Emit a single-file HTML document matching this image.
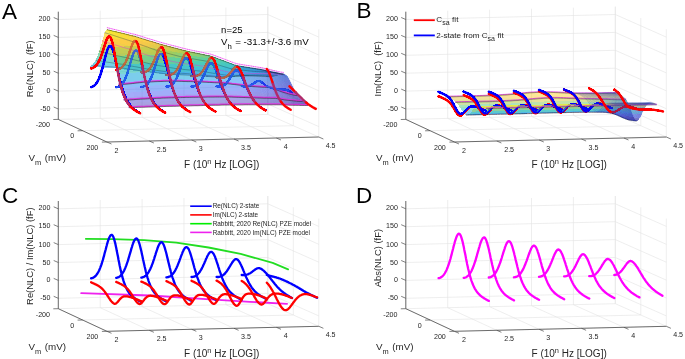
<!DOCTYPE html>
<html><head><meta charset="utf-8"><style>
html,body{margin:0;padding:0;background:#fff;}
svg{display:block;will-change:transform;font-family:"Liberation Sans",sans-serif;}
</style></head><body>
<svg width="685" height="359" viewBox="0 0 685 359">
<line x1="58.3" y1="119.4" x2="58.3" y2="11.7" stroke="#e3e3e3" stroke-width="0.6"/>
<line x1="100.2" y1="118.4" x2="100.2" y2="10.7" stroke="#e3e3e3" stroke-width="0.6"/>
<line x1="142.1" y1="117.4" x2="142.1" y2="9.7" stroke="#e3e3e3" stroke-width="0.6"/>
<line x1="184" y1="116.4" x2="184" y2="8.7" stroke="#e3e3e3" stroke-width="0.6"/>
<line x1="225.9" y1="115.4" x2="225.9" y2="7.7" stroke="#e3e3e3" stroke-width="0.6"/>
<line x1="267.8" y1="114.4" x2="267.8" y2="6.7" stroke="#e3e3e3" stroke-width="0.6"/>
<line x1="58.3" y1="109" x2="267.8" y2="104" stroke="#e3e3e3" stroke-width="0.6"/>
<line x1="58.3" y1="91.1" x2="267.8" y2="86.1" stroke="#e3e3e3" stroke-width="0.6"/>
<line x1="58.3" y1="73.2" x2="267.8" y2="68.2" stroke="#e3e3e3" stroke-width="0.6"/>
<line x1="58.3" y1="55.3" x2="267.8" y2="50.3" stroke="#e3e3e3" stroke-width="0.6"/>
<line x1="58.3" y1="37.4" x2="267.8" y2="32.4" stroke="#e3e3e3" stroke-width="0.6"/>
<line x1="58.3" y1="19.5" x2="267.8" y2="14.5" stroke="#e3e3e3" stroke-width="0.6"/>
<line x1="267.8" y1="114.4" x2="267.8" y2="6.7" stroke="#e3e3e3" stroke-width="0.6"/>
<line x1="293.3" y1="125.7" x2="293.3" y2="18" stroke="#e3e3e3" stroke-width="0.6"/>
<line x1="318.8" y1="137" x2="318.8" y2="29.3" stroke="#e3e3e3" stroke-width="0.6"/>
<line x1="267.8" y1="104" x2="318.8" y2="126.6" stroke="#e3e3e3" stroke-width="0.6"/>
<line x1="267.8" y1="86.1" x2="318.8" y2="108.7" stroke="#e3e3e3" stroke-width="0.6"/>
<line x1="267.8" y1="68.2" x2="318.8" y2="90.8" stroke="#e3e3e3" stroke-width="0.6"/>
<line x1="267.8" y1="50.3" x2="318.8" y2="72.9" stroke="#e3e3e3" stroke-width="0.6"/>
<line x1="267.8" y1="32.4" x2="318.8" y2="55" stroke="#e3e3e3" stroke-width="0.6"/>
<line x1="267.8" y1="14.5" x2="318.8" y2="37.1" stroke="#e3e3e3" stroke-width="0.6"/>
<line x1="58.3" y1="119.4" x2="106.9" y2="142" stroke="#e3e3e3" stroke-width="0.6"/>
<line x1="100.2" y1="118.4" x2="149.3" y2="141" stroke="#e3e3e3" stroke-width="0.6"/>
<line x1="142.1" y1="117.4" x2="191.7" y2="140" stroke="#e3e3e3" stroke-width="0.6"/>
<line x1="184" y1="116.4" x2="234" y2="139" stroke="#e3e3e3" stroke-width="0.6"/>
<line x1="225.9" y1="115.4" x2="276.4" y2="138" stroke="#e3e3e3" stroke-width="0.6"/>
<line x1="267.8" y1="114.4" x2="318.8" y2="137" stroke="#e3e3e3" stroke-width="0.6"/>
<line x1="58.3" y1="119.4" x2="267.8" y2="114.4" stroke="#e3e3e3" stroke-width="0.6"/>
<line x1="82.6" y1="130.7" x2="293.3" y2="125.7" stroke="#e3e3e3" stroke-width="0.6"/>
<line x1="106.9" y1="142" x2="318.8" y2="137" stroke="#e3e3e3" stroke-width="0.6"/>
<line x1="58.3" y1="119.4" x2="58.3" y2="11.7" stroke="#4a4a4a" stroke-width="0.8"/>
<line x1="58.3" y1="119.4" x2="106.9" y2="142" stroke="#4a4a4a" stroke-width="0.8"/>
<line x1="106.9" y1="142" x2="318.8" y2="137" stroke="#4a4a4a" stroke-width="0.8"/>
<line x1="58.3" y1="109" x2="53.7" y2="107" stroke="#4a4a4a" stroke-width="0.7"/>
<line x1="58.3" y1="91.1" x2="53.7" y2="89.1" stroke="#4a4a4a" stroke-width="0.7"/>
<line x1="58.3" y1="73.2" x2="53.7" y2="71.2" stroke="#4a4a4a" stroke-width="0.7"/>
<line x1="58.3" y1="55.3" x2="53.7" y2="53.3" stroke="#4a4a4a" stroke-width="0.7"/>
<line x1="58.3" y1="37.4" x2="53.7" y2="35.4" stroke="#4a4a4a" stroke-width="0.7"/>
<line x1="58.3" y1="19.5" x2="53.7" y2="17.5" stroke="#4a4a4a" stroke-width="0.7"/>
<line x1="58.3" y1="119.4" x2="53.3" y2="119.5" stroke="#4a4a4a" stroke-width="0.7"/>
<line x1="82.6" y1="130.7" x2="77.6" y2="130.8" stroke="#4a4a4a" stroke-width="0.7"/>
<line x1="106.9" y1="142" x2="101.9" y2="142.1" stroke="#4a4a4a" stroke-width="0.7"/>
<line x1="106.9" y1="142" x2="111.5" y2="144" stroke="#4a4a4a" stroke-width="0.7"/>
<line x1="149.3" y1="141" x2="153.9" y2="143" stroke="#4a4a4a" stroke-width="0.7"/>
<line x1="191.7" y1="140" x2="196.3" y2="142" stroke="#4a4a4a" stroke-width="0.7"/>
<line x1="234" y1="139" x2="238.6" y2="141" stroke="#4a4a4a" stroke-width="0.7"/>
<line x1="276.4" y1="138" x2="281" y2="140" stroke="#4a4a4a" stroke-width="0.7"/>
<line x1="318.8" y1="137" x2="323.4" y2="139" stroke="#4a4a4a" stroke-width="0.7"/>
<g fill="#262626" font-size="7.1"><text x="50.4" y="20.5" text-anchor="end">200</text><text x="50.4" y="38.9" text-anchor="end">150</text><text x="50.4" y="57.3" text-anchor="end">100</text><text x="50.4" y="75.3" text-anchor="end">50</text><text x="50.4" y="93.1" text-anchor="end">0</text><text x="50.4" y="111.1" text-anchor="end">-50</text><text x="50" y="127.4" text-anchor="end">-200</text><text x="72.3" y="138.3" text-anchor="middle">0</text><text x="98.3" y="149.7" text-anchor="end">200</text><text x="114.6" y="152.5">2</text><text x="156.7" y="151.5">2.5</text><text x="198.7" y="150.6">3</text><text x="241.1" y="150.1">3.5</text><text x="283.7" y="148.7">4</text><text x="325.7" y="148">4.5</text></g>
<text x="28.4" y="160.8" font-size="9.8" fill="#262626">V<tspan font-size="7.4" dy="3.8">m</tspan><tspan dy="-3.8" dx="1"> (mV)</tspan></text>
<text x="184" y="167.8" font-size="10" fill="#262626">F (10<tspan font-size="7.4" dy="-4">n</tspan><tspan dy="4"> Hz [LOG])</tspan></text>
<line x1="405.8" y1="119.4" x2="405.8" y2="11.7" stroke="#e3e3e3" stroke-width="0.6"/>
<line x1="447.7" y1="118.4" x2="447.7" y2="10.7" stroke="#e3e3e3" stroke-width="0.6"/>
<line x1="489.6" y1="117.4" x2="489.6" y2="9.7" stroke="#e3e3e3" stroke-width="0.6"/>
<line x1="531.5" y1="116.4" x2="531.5" y2="8.7" stroke="#e3e3e3" stroke-width="0.6"/>
<line x1="573.4" y1="115.4" x2="573.4" y2="7.7" stroke="#e3e3e3" stroke-width="0.6"/>
<line x1="615.3" y1="114.4" x2="615.3" y2="6.7" stroke="#e3e3e3" stroke-width="0.6"/>
<line x1="405.8" y1="109" x2="615.3" y2="104" stroke="#e3e3e3" stroke-width="0.6"/>
<line x1="405.8" y1="91.1" x2="615.3" y2="86.1" stroke="#e3e3e3" stroke-width="0.6"/>
<line x1="405.8" y1="73.2" x2="615.3" y2="68.2" stroke="#e3e3e3" stroke-width="0.6"/>
<line x1="405.8" y1="55.3" x2="615.3" y2="50.3" stroke="#e3e3e3" stroke-width="0.6"/>
<line x1="405.8" y1="37.4" x2="615.3" y2="32.4" stroke="#e3e3e3" stroke-width="0.6"/>
<line x1="405.8" y1="19.5" x2="615.3" y2="14.5" stroke="#e3e3e3" stroke-width="0.6"/>
<line x1="615.3" y1="114.4" x2="615.3" y2="6.7" stroke="#e3e3e3" stroke-width="0.6"/>
<line x1="640.8" y1="125.7" x2="640.8" y2="18" stroke="#e3e3e3" stroke-width="0.6"/>
<line x1="666.3" y1="137" x2="666.3" y2="29.3" stroke="#e3e3e3" stroke-width="0.6"/>
<line x1="615.3" y1="104" x2="666.3" y2="126.6" stroke="#e3e3e3" stroke-width="0.6"/>
<line x1="615.3" y1="86.1" x2="666.3" y2="108.7" stroke="#e3e3e3" stroke-width="0.6"/>
<line x1="615.3" y1="68.2" x2="666.3" y2="90.8" stroke="#e3e3e3" stroke-width="0.6"/>
<line x1="615.3" y1="50.3" x2="666.3" y2="72.9" stroke="#e3e3e3" stroke-width="0.6"/>
<line x1="615.3" y1="32.4" x2="666.3" y2="55" stroke="#e3e3e3" stroke-width="0.6"/>
<line x1="615.3" y1="14.5" x2="666.3" y2="37.1" stroke="#e3e3e3" stroke-width="0.6"/>
<line x1="405.8" y1="119.4" x2="454.4" y2="142" stroke="#e3e3e3" stroke-width="0.6"/>
<line x1="447.7" y1="118.4" x2="496.8" y2="141" stroke="#e3e3e3" stroke-width="0.6"/>
<line x1="489.6" y1="117.4" x2="539.2" y2="140" stroke="#e3e3e3" stroke-width="0.6"/>
<line x1="531.5" y1="116.4" x2="581.5" y2="139" stroke="#e3e3e3" stroke-width="0.6"/>
<line x1="573.4" y1="115.4" x2="623.9" y2="138" stroke="#e3e3e3" stroke-width="0.6"/>
<line x1="615.3" y1="114.4" x2="666.3" y2="137" stroke="#e3e3e3" stroke-width="0.6"/>
<line x1="405.8" y1="119.4" x2="615.3" y2="114.4" stroke="#e3e3e3" stroke-width="0.6"/>
<line x1="430.1" y1="130.7" x2="640.8" y2="125.7" stroke="#e3e3e3" stroke-width="0.6"/>
<line x1="454.4" y1="142" x2="666.3" y2="137" stroke="#e3e3e3" stroke-width="0.6"/>
<line x1="405.8" y1="119.4" x2="405.8" y2="11.7" stroke="#4a4a4a" stroke-width="0.8"/>
<line x1="405.8" y1="119.4" x2="454.4" y2="142" stroke="#4a4a4a" stroke-width="0.8"/>
<line x1="454.4" y1="142" x2="666.3" y2="137" stroke="#4a4a4a" stroke-width="0.8"/>
<line x1="405.8" y1="109" x2="401.2" y2="107" stroke="#4a4a4a" stroke-width="0.7"/>
<line x1="405.8" y1="91.1" x2="401.2" y2="89.1" stroke="#4a4a4a" stroke-width="0.7"/>
<line x1="405.8" y1="73.2" x2="401.2" y2="71.2" stroke="#4a4a4a" stroke-width="0.7"/>
<line x1="405.8" y1="55.3" x2="401.2" y2="53.3" stroke="#4a4a4a" stroke-width="0.7"/>
<line x1="405.8" y1="37.4" x2="401.2" y2="35.4" stroke="#4a4a4a" stroke-width="0.7"/>
<line x1="405.8" y1="19.5" x2="401.2" y2="17.5" stroke="#4a4a4a" stroke-width="0.7"/>
<line x1="405.8" y1="119.4" x2="400.8" y2="119.5" stroke="#4a4a4a" stroke-width="0.7"/>
<line x1="430.1" y1="130.7" x2="425.1" y2="130.8" stroke="#4a4a4a" stroke-width="0.7"/>
<line x1="454.4" y1="142" x2="449.4" y2="142.1" stroke="#4a4a4a" stroke-width="0.7"/>
<line x1="454.4" y1="142" x2="459" y2="144" stroke="#4a4a4a" stroke-width="0.7"/>
<line x1="496.8" y1="141" x2="501.4" y2="143" stroke="#4a4a4a" stroke-width="0.7"/>
<line x1="539.2" y1="140" x2="543.8" y2="142" stroke="#4a4a4a" stroke-width="0.7"/>
<line x1="581.5" y1="139" x2="586.1" y2="141" stroke="#4a4a4a" stroke-width="0.7"/>
<line x1="623.9" y1="138" x2="628.5" y2="140" stroke="#4a4a4a" stroke-width="0.7"/>
<line x1="666.3" y1="137" x2="670.9" y2="139" stroke="#4a4a4a" stroke-width="0.7"/>
<g fill="#262626" font-size="7.1"><text x="397.9" y="20.5" text-anchor="end">200</text><text x="397.9" y="38.9" text-anchor="end">150</text><text x="397.9" y="57.3" text-anchor="end">100</text><text x="397.9" y="75.3" text-anchor="end">50</text><text x="397.9" y="93.1" text-anchor="end">0</text><text x="397.9" y="111.1" text-anchor="end">-50</text><text x="397.5" y="127.4" text-anchor="end">-200</text><text x="419.8" y="138.3" text-anchor="middle">0</text><text x="445.8" y="149.7" text-anchor="end">200</text><text x="462.1" y="152.5">2</text><text x="504.2" y="151.5">2.5</text><text x="546.2" y="150.6">3</text><text x="588.6" y="150.1">3.5</text><text x="631.2" y="148.7">4</text><text x="673.2" y="148">4.5</text></g>
<text x="375.9" y="160.8" font-size="9.8" fill="#262626">V<tspan font-size="7.4" dy="3.8">m</tspan><tspan dy="-3.8" dx="1"> (mV)</tspan></text>
<text x="531.5" y="167.8" font-size="10" fill="#262626">F (10<tspan font-size="7.4" dy="-4">n</tspan><tspan dy="4"> Hz [LOG])</tspan></text>
<line x1="58.3" y1="308.7" x2="58.3" y2="201" stroke="#e3e3e3" stroke-width="0.6"/>
<line x1="100.2" y1="307.7" x2="100.2" y2="200" stroke="#e3e3e3" stroke-width="0.6"/>
<line x1="142.1" y1="306.7" x2="142.1" y2="199" stroke="#e3e3e3" stroke-width="0.6"/>
<line x1="184" y1="305.7" x2="184" y2="198" stroke="#e3e3e3" stroke-width="0.6"/>
<line x1="225.9" y1="304.7" x2="225.9" y2="197" stroke="#e3e3e3" stroke-width="0.6"/>
<line x1="267.8" y1="303.7" x2="267.8" y2="196" stroke="#e3e3e3" stroke-width="0.6"/>
<line x1="58.3" y1="298.3" x2="267.8" y2="293.3" stroke="#e3e3e3" stroke-width="0.6"/>
<line x1="58.3" y1="280.4" x2="267.8" y2="275.4" stroke="#e3e3e3" stroke-width="0.6"/>
<line x1="58.3" y1="262.5" x2="267.8" y2="257.5" stroke="#e3e3e3" stroke-width="0.6"/>
<line x1="58.3" y1="244.6" x2="267.8" y2="239.6" stroke="#e3e3e3" stroke-width="0.6"/>
<line x1="58.3" y1="226.7" x2="267.8" y2="221.7" stroke="#e3e3e3" stroke-width="0.6"/>
<line x1="58.3" y1="208.8" x2="267.8" y2="203.8" stroke="#e3e3e3" stroke-width="0.6"/>
<line x1="267.8" y1="303.7" x2="267.8" y2="196" stroke="#e3e3e3" stroke-width="0.6"/>
<line x1="293.3" y1="315" x2="293.3" y2="207.3" stroke="#e3e3e3" stroke-width="0.6"/>
<line x1="318.8" y1="326.3" x2="318.8" y2="218.6" stroke="#e3e3e3" stroke-width="0.6"/>
<line x1="267.8" y1="293.3" x2="318.8" y2="315.9" stroke="#e3e3e3" stroke-width="0.6"/>
<line x1="267.8" y1="275.4" x2="318.8" y2="298" stroke="#e3e3e3" stroke-width="0.6"/>
<line x1="267.8" y1="257.5" x2="318.8" y2="280.1" stroke="#e3e3e3" stroke-width="0.6"/>
<line x1="267.8" y1="239.6" x2="318.8" y2="262.2" stroke="#e3e3e3" stroke-width="0.6"/>
<line x1="267.8" y1="221.7" x2="318.8" y2="244.3" stroke="#e3e3e3" stroke-width="0.6"/>
<line x1="267.8" y1="203.8" x2="318.8" y2="226.4" stroke="#e3e3e3" stroke-width="0.6"/>
<line x1="58.3" y1="308.7" x2="106.9" y2="331.3" stroke="#e3e3e3" stroke-width="0.6"/>
<line x1="100.2" y1="307.7" x2="149.3" y2="330.3" stroke="#e3e3e3" stroke-width="0.6"/>
<line x1="142.1" y1="306.7" x2="191.7" y2="329.3" stroke="#e3e3e3" stroke-width="0.6"/>
<line x1="184" y1="305.7" x2="234" y2="328.3" stroke="#e3e3e3" stroke-width="0.6"/>
<line x1="225.9" y1="304.7" x2="276.4" y2="327.3" stroke="#e3e3e3" stroke-width="0.6"/>
<line x1="267.8" y1="303.7" x2="318.8" y2="326.3" stroke="#e3e3e3" stroke-width="0.6"/>
<line x1="58.3" y1="308.7" x2="267.8" y2="303.7" stroke="#e3e3e3" stroke-width="0.6"/>
<line x1="82.6" y1="320" x2="293.3" y2="315" stroke="#e3e3e3" stroke-width="0.6"/>
<line x1="106.9" y1="331.3" x2="318.8" y2="326.3" stroke="#e3e3e3" stroke-width="0.6"/>
<line x1="58.3" y1="308.7" x2="58.3" y2="201" stroke="#4a4a4a" stroke-width="0.8"/>
<line x1="58.3" y1="308.7" x2="106.9" y2="331.3" stroke="#4a4a4a" stroke-width="0.8"/>
<line x1="106.9" y1="331.3" x2="318.8" y2="326.3" stroke="#4a4a4a" stroke-width="0.8"/>
<line x1="58.3" y1="298.3" x2="53.7" y2="296.3" stroke="#4a4a4a" stroke-width="0.7"/>
<line x1="58.3" y1="280.4" x2="53.7" y2="278.4" stroke="#4a4a4a" stroke-width="0.7"/>
<line x1="58.3" y1="262.5" x2="53.7" y2="260.5" stroke="#4a4a4a" stroke-width="0.7"/>
<line x1="58.3" y1="244.6" x2="53.7" y2="242.6" stroke="#4a4a4a" stroke-width="0.7"/>
<line x1="58.3" y1="226.7" x2="53.7" y2="224.7" stroke="#4a4a4a" stroke-width="0.7"/>
<line x1="58.3" y1="208.8" x2="53.7" y2="206.8" stroke="#4a4a4a" stroke-width="0.7"/>
<line x1="58.3" y1="308.7" x2="53.3" y2="308.8" stroke="#4a4a4a" stroke-width="0.7"/>
<line x1="82.6" y1="320" x2="77.6" y2="320.1" stroke="#4a4a4a" stroke-width="0.7"/>
<line x1="106.9" y1="331.3" x2="101.9" y2="331.4" stroke="#4a4a4a" stroke-width="0.7"/>
<line x1="106.9" y1="331.3" x2="111.5" y2="333.3" stroke="#4a4a4a" stroke-width="0.7"/>
<line x1="149.3" y1="330.3" x2="153.9" y2="332.3" stroke="#4a4a4a" stroke-width="0.7"/>
<line x1="191.7" y1="329.3" x2="196.3" y2="331.3" stroke="#4a4a4a" stroke-width="0.7"/>
<line x1="234" y1="328.3" x2="238.6" y2="330.3" stroke="#4a4a4a" stroke-width="0.7"/>
<line x1="276.4" y1="327.3" x2="281" y2="329.3" stroke="#4a4a4a" stroke-width="0.7"/>
<line x1="318.8" y1="326.3" x2="323.4" y2="328.3" stroke="#4a4a4a" stroke-width="0.7"/>
<g fill="#262626" font-size="7.1"><text x="50.4" y="209.8" text-anchor="end">200</text><text x="50.4" y="228.2" text-anchor="end">150</text><text x="50.4" y="246.6" text-anchor="end">100</text><text x="50.4" y="264.6" text-anchor="end">50</text><text x="50.4" y="282.4" text-anchor="end">0</text><text x="50.4" y="300.4" text-anchor="end">-50</text><text x="50" y="316.7" text-anchor="end">-200</text><text x="72.3" y="327.6" text-anchor="middle">0</text><text x="98.3" y="339" text-anchor="end">200</text><text x="114.6" y="341.8">2</text><text x="156.7" y="340.8">2.5</text><text x="198.7" y="339.9">3</text><text x="241.1" y="339.4">3.5</text><text x="283.7" y="338">4</text><text x="325.7" y="337.3">4.5</text></g>
<text x="28.4" y="350.1" font-size="9.8" fill="#262626">V<tspan font-size="7.4" dy="3.8">m</tspan><tspan dy="-3.8" dx="1"> (mV)</tspan></text>
<text x="184" y="357.1" font-size="10" fill="#262626">F (10<tspan font-size="7.4" dy="-4">n</tspan><tspan dy="4"> Hz [LOG])</tspan></text>
<line x1="405.8" y1="308.7" x2="405.8" y2="201" stroke="#e3e3e3" stroke-width="0.6"/>
<line x1="447.7" y1="307.7" x2="447.7" y2="200" stroke="#e3e3e3" stroke-width="0.6"/>
<line x1="489.6" y1="306.7" x2="489.6" y2="199" stroke="#e3e3e3" stroke-width="0.6"/>
<line x1="531.5" y1="305.7" x2="531.5" y2="198" stroke="#e3e3e3" stroke-width="0.6"/>
<line x1="573.4" y1="304.7" x2="573.4" y2="197" stroke="#e3e3e3" stroke-width="0.6"/>
<line x1="615.3" y1="303.7" x2="615.3" y2="196" stroke="#e3e3e3" stroke-width="0.6"/>
<line x1="405.8" y1="298.3" x2="615.3" y2="293.3" stroke="#e3e3e3" stroke-width="0.6"/>
<line x1="405.8" y1="280.4" x2="615.3" y2="275.4" stroke="#e3e3e3" stroke-width="0.6"/>
<line x1="405.8" y1="262.5" x2="615.3" y2="257.5" stroke="#e3e3e3" stroke-width="0.6"/>
<line x1="405.8" y1="244.6" x2="615.3" y2="239.6" stroke="#e3e3e3" stroke-width="0.6"/>
<line x1="405.8" y1="226.7" x2="615.3" y2="221.7" stroke="#e3e3e3" stroke-width="0.6"/>
<line x1="405.8" y1="208.8" x2="615.3" y2="203.8" stroke="#e3e3e3" stroke-width="0.6"/>
<line x1="615.3" y1="303.7" x2="615.3" y2="196" stroke="#e3e3e3" stroke-width="0.6"/>
<line x1="640.8" y1="315" x2="640.8" y2="207.3" stroke="#e3e3e3" stroke-width="0.6"/>
<line x1="666.3" y1="326.3" x2="666.3" y2="218.6" stroke="#e3e3e3" stroke-width="0.6"/>
<line x1="615.3" y1="293.3" x2="666.3" y2="315.9" stroke="#e3e3e3" stroke-width="0.6"/>
<line x1="615.3" y1="275.4" x2="666.3" y2="298" stroke="#e3e3e3" stroke-width="0.6"/>
<line x1="615.3" y1="257.5" x2="666.3" y2="280.1" stroke="#e3e3e3" stroke-width="0.6"/>
<line x1="615.3" y1="239.6" x2="666.3" y2="262.2" stroke="#e3e3e3" stroke-width="0.6"/>
<line x1="615.3" y1="221.7" x2="666.3" y2="244.3" stroke="#e3e3e3" stroke-width="0.6"/>
<line x1="615.3" y1="203.8" x2="666.3" y2="226.4" stroke="#e3e3e3" stroke-width="0.6"/>
<line x1="405.8" y1="308.7" x2="454.4" y2="331.3" stroke="#e3e3e3" stroke-width="0.6"/>
<line x1="447.7" y1="307.7" x2="496.8" y2="330.3" stroke="#e3e3e3" stroke-width="0.6"/>
<line x1="489.6" y1="306.7" x2="539.2" y2="329.3" stroke="#e3e3e3" stroke-width="0.6"/>
<line x1="531.5" y1="305.7" x2="581.5" y2="328.3" stroke="#e3e3e3" stroke-width="0.6"/>
<line x1="573.4" y1="304.7" x2="623.9" y2="327.3" stroke="#e3e3e3" stroke-width="0.6"/>
<line x1="615.3" y1="303.7" x2="666.3" y2="326.3" stroke="#e3e3e3" stroke-width="0.6"/>
<line x1="405.8" y1="308.7" x2="615.3" y2="303.7" stroke="#e3e3e3" stroke-width="0.6"/>
<line x1="430.1" y1="320" x2="640.8" y2="315" stroke="#e3e3e3" stroke-width="0.6"/>
<line x1="454.4" y1="331.3" x2="666.3" y2="326.3" stroke="#e3e3e3" stroke-width="0.6"/>
<line x1="405.8" y1="308.7" x2="405.8" y2="201" stroke="#4a4a4a" stroke-width="0.8"/>
<line x1="405.8" y1="308.7" x2="454.4" y2="331.3" stroke="#4a4a4a" stroke-width="0.8"/>
<line x1="454.4" y1="331.3" x2="666.3" y2="326.3" stroke="#4a4a4a" stroke-width="0.8"/>
<line x1="405.8" y1="298.3" x2="401.2" y2="296.3" stroke="#4a4a4a" stroke-width="0.7"/>
<line x1="405.8" y1="280.4" x2="401.2" y2="278.4" stroke="#4a4a4a" stroke-width="0.7"/>
<line x1="405.8" y1="262.5" x2="401.2" y2="260.5" stroke="#4a4a4a" stroke-width="0.7"/>
<line x1="405.8" y1="244.6" x2="401.2" y2="242.6" stroke="#4a4a4a" stroke-width="0.7"/>
<line x1="405.8" y1="226.7" x2="401.2" y2="224.7" stroke="#4a4a4a" stroke-width="0.7"/>
<line x1="405.8" y1="208.8" x2="401.2" y2="206.8" stroke="#4a4a4a" stroke-width="0.7"/>
<line x1="405.8" y1="308.7" x2="400.8" y2="308.8" stroke="#4a4a4a" stroke-width="0.7"/>
<line x1="430.1" y1="320" x2="425.1" y2="320.1" stroke="#4a4a4a" stroke-width="0.7"/>
<line x1="454.4" y1="331.3" x2="449.4" y2="331.4" stroke="#4a4a4a" stroke-width="0.7"/>
<line x1="454.4" y1="331.3" x2="459" y2="333.3" stroke="#4a4a4a" stroke-width="0.7"/>
<line x1="496.8" y1="330.3" x2="501.4" y2="332.3" stroke="#4a4a4a" stroke-width="0.7"/>
<line x1="539.2" y1="329.3" x2="543.8" y2="331.3" stroke="#4a4a4a" stroke-width="0.7"/>
<line x1="581.5" y1="328.3" x2="586.1" y2="330.3" stroke="#4a4a4a" stroke-width="0.7"/>
<line x1="623.9" y1="327.3" x2="628.5" y2="329.3" stroke="#4a4a4a" stroke-width="0.7"/>
<line x1="666.3" y1="326.3" x2="670.9" y2="328.3" stroke="#4a4a4a" stroke-width="0.7"/>
<g fill="#262626" font-size="7.1"><text x="397.9" y="209.8" text-anchor="end">200</text><text x="397.9" y="228.2" text-anchor="end">150</text><text x="397.9" y="246.6" text-anchor="end">100</text><text x="397.9" y="264.6" text-anchor="end">50</text><text x="397.9" y="282.4" text-anchor="end">0</text><text x="397.9" y="300.4" text-anchor="end">-50</text><text x="397.5" y="316.7" text-anchor="end">-200</text><text x="419.8" y="327.6" text-anchor="middle">0</text><text x="445.8" y="339" text-anchor="end">200</text><text x="462.1" y="341.8">2</text><text x="504.2" y="340.8">2.5</text><text x="546.2" y="339.9">3</text><text x="588.6" y="339.4">3.5</text><text x="631.2" y="338">4</text><text x="673.2" y="337.3">4.5</text></g>
<text x="375.9" y="350.1" font-size="9.8" fill="#262626">V<tspan font-size="7.4" dy="3.8">m</tspan><tspan dy="-3.8" dx="1"> (mV)</tspan></text>
<text x="531.5" y="357.1" font-size="10" fill="#262626">F (10<tspan font-size="7.4" dy="-4">n</tspan><tspan dy="4"> Hz [LOG])</tspan></text>
<text transform="translate(33.4,68.8) rotate(-90)" text-anchor="middle" font-size="9.4" fill="#262626" xml:space="preserve">Re(NLC)  (fF)</text>
<text transform="translate(380.9,68.8) rotate(-90)" text-anchor="middle" font-size="9.4" fill="#262626" xml:space="preserve">Im(NLC)  (fF)</text>
<text transform="translate(33.4,256.2) rotate(-90)" text-anchor="middle" font-size="9.4" fill="#262626" xml:space="preserve">Re(NLC) / Im(NLC) (fF)</text>
<text transform="translate(380.9,258.1) rotate(-90)" text-anchor="middle" font-size="9.4" fill="#262626" xml:space="preserve">Abs(NLC) (fF)</text>
<text x="2.0" y="18.7" font-size="22.5" fill="#000">A</text>
<text x="356.6" y="18.3" font-size="22.5" fill="#000">B</text>
<text x="2.0" y="203.3" font-size="22.5" fill="#000">C</text>
<text x="356.0" y="203.4" font-size="22.5" fill="#000">D</text>
<g fill-opacity="0.5" shape-rendering="crispEdges">
<polygon points="264.2,76.4 268,76.5 269.5,76.6 265.8,76.5" fill="#4558f5" fill-opacity="0.50"/>
<polygon points="265.8,76.5 269.5,76.6 271,76.7 267.3,76.6" fill="#435bf5" fill-opacity="0.50"/>
<polygon points="267.3,76.6 271,76.7 272.5,76.6 268.8,76.5" fill="#415ff5" fill-opacity="0.50"/>
<polygon points="268.8,76.5 272.5,76.6 274.1,76.4 270.4,76.3" fill="#3f64f5" fill-opacity="0.51"/>
<polygon points="270.4,76.3 274.1,76.4 275.6,76.1 271.9,76" fill="#3c69f5" fill-opacity="0.51"/>
<polygon points="271.9,76 275.6,76.1 277.1,75.6 273.4,75.5" fill="#396ff6" fill-opacity="0.52"/>
<polygon points="273.4,75.5 277.1,75.6 278.7,75.1 274.9,75" fill="#3676f6" fill-opacity="0.52"/>
<polygon points="274.9,75 278.7,75.1 280.2,74.6 276.5,74.4" fill="#337cf6" fill-opacity="0.53"/>
<polygon points="276.5,74.4 280.2,74.6 281.7,74.2 278,73.9" fill="#2f83f7" fill-opacity="0.53"/>
<polygon points="278,73.9 281.7,74.2 283.2,74 279.5,73.6" fill="#2d88f6" fill-opacity="0.54"/>
<polygon points="279.5,73.6 283.2,74 284.8,74.2 281.1,73.7" fill="#2a8cf3" fill-opacity="0.54"/>
<polygon points="281.1,73.7 284.8,74.2 286.3,75.1 282.6,74.4" fill="#2a8df2" fill-opacity="0.54"/>
<polygon points="282.6,74.4 286.3,75.1 287.8,76.8 284.1,75.9" fill="#2b8af4" fill-opacity="0.54"/>
<polygon points="284.1,75.9 287.8,76.8 289.4,79.3 285.6,78.3" fill="#3083f7" fill-opacity="0.53"/>
<polygon points="285.6,78.3 289.4,79.3 290.9,82.3 287.2,81.3" fill="#3577f6" fill-opacity="0.52"/>
<polygon points="287.2,81.3 290.9,82.3 292.4,85.6 288.7,84.6" fill="#3c69f5" fill-opacity="0.51"/>
<polygon points="288.7,84.6 292.4,85.6 294,88.8 290.2,87.9" fill="#445af5" fill-opacity="0.50"/>
<polygon points="290.2,87.9 294,88.8 295.5,91.6 291.8,90.9" fill="#474deb" fill-opacity="0.49"/>
<polygon points="291.8,90.9 295.5,91.6 297,94.2 293.3,93.6" fill="#4443da" fill-opacity="0.48"/>
<polygon points="293.3,93.6 297,94.2 298.5,96.3 294.8,95.9" fill="#423bcc" fill-opacity="0.47"/>
<polygon points="294.8,95.9 298.5,96.3 300.1,98.1 296.4,97.8" fill="#4134c0" fill-opacity="0.46"/>
<polygon points="296.4,97.8 300.1,98.1 301.6,99.7 297.9,99.5" fill="#402fb7" fill-opacity="0.46"/>
<polygon points="297.9,99.5 301.6,99.7 303.1,101.1 299.4,101" fill="#3f2bb0" fill-opacity="0.45"/>
<polygon points="299.4,101 303.1,101.1 304.7,102.4 300.9,102.4" fill="#3e27aa" fill-opacity="0.45"/>
<polygon points="300.9,102.4 304.7,102.4 306.2,103.6 302.5,103.6" fill="#3e26a8" fill-opacity="0.45"/>
<polygon points="302.5,103.6 306.2,103.6 307.7,104.7 304,104.7" fill="#3e26a8" fill-opacity="0.45"/>
<polyline points="283.2,74 284.4,74.2 285.6,74.7 286.8,75.8 288,77.4 289.3,79.4 290.5,81.8 291.7,84.4 292.9,87 294.1,89.5 295.3,91.7 296.6,93.8 297.8,95.5 299,97.1 300.2,98.5 301.4,99.7 302.7,100.9 303.9,101.9 305.1,102.9 306.3,103.8 307.5,104.7" fill="none" stroke="#2020a0" stroke-width="0.4" stroke-linejoin="round" stroke-linecap="round" stroke-opacity="0.3"/>
<polyline points="282.9,74 284.1,74.2 285.3,74.7 286.5,75.8 287.7,77.4 289,79.4 290.2,81.8 291.4,84.4 292.6,87 293.8,89.5 295.1,91.7 296.3,93.8 297.5,95.5 298.7,97.1 299.9,98.5 301.1,99.7 302.4,100.9 303.6,101.9 304.8,102.9 306,103.8 307.2,104.7" fill="none" stroke="#2020a0" stroke-width="0.4" stroke-linejoin="round" stroke-linecap="round" stroke-opacity="0.3"/>
<polyline points="282.6,74 283.8,74.2 285,74.7 286.2,75.8 287.4,77.4 288.7,79.4 289.9,81.8 291.1,84.4 292.3,87 293.5,89.5 294.8,91.8 296,93.8 297.2,95.5 298.4,97.1 299.6,98.5 300.8,99.7 302.1,100.9 303.3,101.9 304.5,102.9 305.7,103.8 306.9,104.7" fill="none" stroke="#2020a0" stroke-width="0.4" stroke-linejoin="round" stroke-linecap="round" stroke-opacity="0.3"/>
<polyline points="282.3,74 283.5,74.2 284.7,74.7 285.9,75.8 287.2,77.4 288.4,79.4 289.6,81.8 290.8,84.4 292,87 293.2,89.5 294.5,91.8 295.7,93.8 296.9,95.6 298.1,97.1 299.3,98.5 300.6,99.7 301.8,100.9 303,101.9 304.2,102.9 305.4,103.8 306.6,104.7" fill="none" stroke="#2020a0" stroke-width="0.4" stroke-linejoin="round" stroke-linecap="round" stroke-opacity="0.3"/>
<polyline points="266.8,86.2 267.1,86.3 267.3,86.4 267.6,86.5 267.9,86.6 268.2,86.7 268.5,86.8 268.8,86.9 269.1,87 269.3,87.1 269.6,87.2 269.9,87.3 270.2,87.4 270.5,87.5 270.8,87.6 271.1,87.7 271.3,87.8 271.6,87.9 271.9,88 272.2,88 272.5,88.1 272.8,88.2 273,88.3 273.3,88.4 273.6,88.4 273.9,88.5 274.2,88.6 274.5,88.6 274.8,88.7 275,88.7 275.3,88.8 275.6,88.8 275.9,88.9 276.2,88.9 276.5,89 276.8,89 277,89.1 277.3,89.1 277.6,89.1 277.9,89.2 278.2,89.2 278.5,89.2 278.7,89.2 279,89.2 279.3,89.2 279.6,89.3 279.9,89.3 280.2,89.3 280.5,89.3 280.7,89.3 281,89.3 281.3,89.3 281.6,89.3 281.9,89.3 282.2,89.3 282.5,89.3 282.7,89.3 283,89.3 283.3,89.3 283.6,89.4 283.9,89.4 284.2,89.4 284.4,89.4 284.7,89.5 285,89.5 285.3,89.6 285.6,89.7 285.9,89.7 286.2,89.8 286.4,89.9 286.7,90 287,90.1 287.3,90.2 287.6,90.4 287.9,90.5 288.2,90.6 288.4,90.8 288.7,90.9 289,91 289.3,91.2 289.6,91.3 289.9,91.5 290.1,91.6 290.4,91.8 290.7,92 291,92.1 291.3,92.3 291.6,92.5 291.9,92.6 292.1,92.8 292.4,93" fill="none" stroke="#0000ff" stroke-width="2.4" stroke-linejoin="round" stroke-linecap="round"/>
<polyline points="282,74 283.2,74.1 284.4,74.7 285.6,75.7 286.9,77.3 288.1,79.4 289.3,81.8 290.5,84.4 291.7,87 292.9,89.4 294.2,91.7 295.4,93.7 296.6,95.5 297.8,97.1 299,98.5 300.3,99.7 301.5,100.9 302.7,101.9 303.9,102.9 305.1,103.8 306.3,104.7" fill="none" stroke="#2020a0" stroke-width="0.4" stroke-linejoin="round" stroke-linecap="round" stroke-opacity="0.3"/>
<polyline points="281.7,73.9 282.9,74.1 284.1,74.6 285.3,75.6 286.6,77.2 287.8,79.2 289,81.6 290.2,84.2 291.4,86.8 292.6,89.3 293.9,91.6 295.1,93.7 296.3,95.5 297.5,97.1 298.7,98.5 300,99.7 301.2,100.9 302.4,101.9 303.6,102.9 304.8,103.8 306,104.7" fill="none" stroke="#2020a0" stroke-width="0.4" stroke-linejoin="round" stroke-linecap="round" stroke-opacity="0.3"/>
<polyline points="281.4,73.9 282.6,74 283.8,74.5 285,75.5 286.2,77.1 287.5,79.1 288.7,81.5 289.9,84.1 291.1,86.7 292.3,89.2 293.6,91.5 294.8,93.6 296,95.4 297.2,97 298.4,98.4 299.7,99.7 300.9,100.8 302.1,101.9 303.3,102.9 304.5,103.8 305.7,104.7" fill="none" stroke="#2020a0" stroke-width="0.4" stroke-linejoin="round" stroke-linecap="round" stroke-opacity="0.3"/>
<polyline points="281.1,73.8 282.3,73.9 283.5,74.4 284.7,75.4 285.9,77 287.2,79 288.4,81.4 289.6,84 290.8,86.6 292,89.1 293.3,91.5 294.5,93.5 295.7,95.4 296.9,97 298.1,98.4 299.3,99.7 300.6,100.8 301.8,101.9 303,102.9 304.2,103.8 305.4,104.7" fill="none" stroke="#2020a0" stroke-width="0.4" stroke-linejoin="round" stroke-linecap="round" stroke-opacity="0.3"/>
<polyline points="280.8,73.8 282,73.9 283.2,74.3 284.4,75.3 285.6,76.9 286.9,78.9 288.1,81.3 289.3,83.9 290.5,86.5 291.7,89 292.9,91.4 294.2,93.5 295.4,95.3 296.6,96.9 297.8,98.4 299,99.6 300.3,100.8 301.5,101.9 302.7,102.9 303.9,103.8 305.1,104.7" fill="none" stroke="#2020a0" stroke-width="0.4" stroke-linejoin="round" stroke-linecap="round" stroke-opacity="0.3"/>
<polyline points="280.4,73.7 281.7,73.8 282.9,74.2 284.1,75.2 285.3,76.8 286.5,78.8 287.8,81.1 289,83.7 290.2,86.4 291.4,88.9 292.6,91.3 293.9,93.4 295.1,95.2 296.3,96.9 297.5,98.3 298.7,99.6 299.9,100.8 301.2,101.9 302.4,102.9 303.6,103.8 304.8,104.7" fill="none" stroke="#2020a0" stroke-width="0.4" stroke-linejoin="round" stroke-linecap="round" stroke-opacity="0.3"/>
<polyline points="280.1,73.7 281.4,73.7 282.6,74.2 283.8,75.1 285,76.6 286.2,78.6 287.4,81 288.7,83.6 289.9,86.3 291.1,88.8 292.3,91.2 293.5,93.3 294.8,95.2 296,96.8 297.2,98.3 298.4,99.6 299.6,100.8 300.8,101.9 302.1,102.9 303.3,103.8 304.5,104.7" fill="none" stroke="#2020a0" stroke-width="0.4" stroke-linejoin="round" stroke-linecap="round" stroke-opacity="0.3"/>
<polyline points="279.8,73.6 281,73.7 282.3,74.1 283.5,75 284.7,76.5 285.9,78.5 287.1,80.9 288.3,83.5 289.6,86.1 290.8,88.7 292,91.1 293.2,93.2 294.4,95.1 295.7,96.8 296.9,98.3 298.1,99.6 299.3,100.8 300.5,101.9 301.7,102.9 303,103.8 304.2,104.7" fill="none" stroke="#2020a0" stroke-width="0.4" stroke-linejoin="round" stroke-linecap="round" stroke-opacity="0.3"/>
<polygon points="260.5,76.1 264.2,76.4 265.8,76.5 262,76.3" fill="#445af5" fill-opacity="0.50"/>
<polygon points="262,76.3 265.8,76.5 267.3,76.6 263.6,76.4" fill="#425df5" fill-opacity="0.50"/>
<polygon points="263.6,76.4 267.3,76.6 268.8,76.5 265.1,76.3" fill="#4160f5" fill-opacity="0.50"/>
<polygon points="265.1,76.3 268.8,76.5 270.4,76.3 266.6,76.2" fill="#3e65f5" fill-opacity="0.51"/>
<polygon points="266.6,76.2 270.4,76.3 271.9,76 268.2,75.8" fill="#3c6af5" fill-opacity="0.51"/>
<polygon points="268.2,75.8 271.9,76 273.4,75.5 269.7,75.4" fill="#3970f6" fill-opacity="0.52"/>
<polygon points="269.7,75.4 273.4,75.5 274.9,75 271.2,74.8" fill="#3577f6" fill-opacity="0.52"/>
<polygon points="271.2,74.8 274.9,75 276.5,74.4 272.8,74.1" fill="#327ef6" fill-opacity="0.53"/>
<polygon points="272.8,74.1 276.5,74.4 278,73.9 274.3,73.5" fill="#2e85f7" fill-opacity="0.53"/>
<polygon points="274.3,73.5 278,73.9 279.5,73.6 275.8,73" fill="#2b8bf4" fill-opacity="0.54"/>
<polygon points="275.8,73 279.5,73.6 281.1,73.7 277.3,72.9" fill="#288ff1" fill-opacity="0.54"/>
<polygon points="277.3,72.9 281.1,73.7 282.6,74.4 278.9,73.3" fill="#2790ef" fill-opacity="0.55"/>
<polygon points="278.9,73.3 282.6,74.4 284.1,75.9 280.4,74.7" fill="#288ff1" fill-opacity="0.54"/>
<polygon points="280.4,74.7 284.1,75.9 285.6,78.3 281.9,76.8" fill="#2c89f5" fill-opacity="0.54"/>
<polygon points="281.9,76.8 285.6,78.3 287.2,81.3 283.5,79.7" fill="#327ff6" fill-opacity="0.53"/>
<polygon points="283.5,79.7 287.2,81.3 288.7,84.6 285,83" fill="#3971f6" fill-opacity="0.52"/>
<polygon points="285,83 288.7,84.6 290.2,87.9 286.5,86.5" fill="#4061f5" fill-opacity="0.50"/>
<polygon points="286.5,86.5 290.2,87.9 291.8,90.9 288,89.8" fill="#4853f4" fill-opacity="0.49"/>
<polygon points="288,89.8 291.8,90.9 293.3,93.6 289.6,92.7" fill="#4547e2" fill-opacity="0.48"/>
<polygon points="289.6,92.7 293.3,93.6 294.8,95.9 291.1,95.2" fill="#433ed2" fill-opacity="0.47"/>
<polygon points="291.1,95.2 294.8,95.9 296.4,97.8 292.6,97.3" fill="#4137c5" fill-opacity="0.47"/>
<polygon points="292.6,97.3 296.4,97.8 297.9,99.5 294.2,99.2" fill="#4031bb" fill-opacity="0.46"/>
<polygon points="294.2,99.2 297.9,99.5 299.4,101 295.7,100.8" fill="#3f2cb2" fill-opacity="0.46"/>
<polygon points="295.7,100.8 299.4,101 300.9,102.4 297.2,102.2" fill="#3e28ac" fill-opacity="0.45"/>
<polygon points="297.2,102.2 300.9,102.4 302.5,103.6 298.7,103.5" fill="#3e26a8" fill-opacity="0.45"/>
<polygon points="298.7,103.5 302.5,103.6 304,104.7 300.3,104.7" fill="#3e26a8" fill-opacity="0.45"/>
<polyline points="279.5,73.6 280.7,73.6 281.9,74 283.2,74.9 284.4,76.4 285.6,78.4 286.8,80.7 288,83.3 289.2,86 290.5,88.6 291.7,91 292.9,93.2 294.1,95.1 295.3,96.7 296.6,98.2 297.8,99.5 299,100.7 300.2,101.8 301.4,102.9 302.6,103.8 303.9,104.7" fill="none" stroke="#2020a0" stroke-width="0.4" stroke-linejoin="round" stroke-linecap="round" stroke-opacity="0.3"/>
<polyline points="279.2,73.5 280.4,73.5 281.6,73.9 282.8,74.8 284.1,76.3 285.3,78.2 286.5,80.6 287.7,83.2 288.9,85.9 290.1,88.5 291.4,90.9 292.6,93.1 293.8,95 295,96.7 296.2,98.2 297.5,99.5 298.7,100.7 299.9,101.8 301.1,102.9 302.3,103.8 303.5,104.7" fill="none" stroke="#2020a0" stroke-width="0.4" stroke-linejoin="round" stroke-linecap="round" stroke-opacity="0.3"/>
<polyline points="278.9,73.5 280.1,73.5 281.3,73.8 282.5,74.7 283.7,76.2 284.9,78.1 286.2,80.5 287.4,83.1 288.6,85.8 289.8,88.4 291,90.8 292.3,93 293.5,94.9 294.7,96.6 295.9,98.1 297.1,99.5 298.3,100.7 299.6,101.8 300.8,102.9 302,103.8 303.2,104.7" fill="none" stroke="#2020a0" stroke-width="0.4" stroke-linejoin="round" stroke-linecap="round" stroke-opacity="0.3"/>
<polyline points="278.5,73.4 279.7,73.4 281,73.7 282.2,74.6 283.4,76.1 284.6,78 285.8,80.3 287.1,82.9 288.3,85.6 289.5,88.3 290.7,90.7 291.9,92.9 293.1,94.9 294.4,96.6 295.6,98.1 296.8,99.5 298,100.7 299.2,101.8 300.5,102.8 301.7,103.8 302.9,104.7" fill="none" stroke="#2020a0" stroke-width="0.4" stroke-linejoin="round" stroke-linecap="round" stroke-opacity="0.3"/>
<polyline points="278.2,73.4 279.4,73.3 280.6,73.7 281.8,74.5 283.1,75.9 284.3,77.9 285.5,80.2 286.7,82.8 287.9,85.5 289.2,88.1 290.4,90.6 291.6,92.8 292.8,94.8 294,96.5 295.3,98.1 296.5,99.4 297.7,100.7 298.9,101.8 300.1,102.8 301.3,103.8 302.6,104.7" fill="none" stroke="#2020a0" stroke-width="0.4" stroke-linejoin="round" stroke-linecap="round" stroke-opacity="0.3"/>
<polyline points="277.9,73.3 279.1,73.3 280.3,73.6 281.5,74.4 282.7,75.8 284,77.7 285.2,80 286.4,82.7 287.6,85.4 288.8,88 290,90.5 291.3,92.7 292.5,94.7 293.7,96.5 294.9,98 296.1,99.4 297.4,100.6 298.6,101.8 299.8,102.8 301,103.8 302.2,104.7" fill="none" stroke="#2020a0" stroke-width="0.4" stroke-linejoin="round" stroke-linecap="round" stroke-opacity="0.3"/>
<polyline points="277.5,73.3 278.7,73.2 280,73.5 281.2,74.3 282.4,75.7 283.6,77.6 284.8,79.9 286.1,82.5 287.3,85.2 288.5,87.9 289.7,90.4 290.9,92.7 292.1,94.7 293.4,96.4 294.6,98 295.8,99.4 297,100.6 298.2,101.8 299.5,102.8 300.7,103.8 301.9,104.7" fill="none" stroke="#2020a0" stroke-width="0.4" stroke-linejoin="round" stroke-linecap="round" stroke-opacity="0.3"/>
<polyline points="277.2,73.2 278.4,73.1 279.6,73.4 280.8,74.2 282.1,75.6 283.3,77.4 284.5,79.8 285.7,82.4 286.9,85.1 288.1,87.8 289.4,90.3 290.6,92.6 291.8,94.6 293,96.4 294.2,97.9 295.5,99.3 296.7,100.6 297.9,101.7 299.1,102.8 300.3,103.8 301.5,104.7" fill="none" stroke="#2020a0" stroke-width="0.4" stroke-linejoin="round" stroke-linecap="round" stroke-opacity="0.3"/>
<polyline points="276.8,73.2 278.1,73.1 279.3,73.3 280.5,74.1 281.7,75.5 282.9,77.3 284.1,79.6 285.4,82.2 286.6,84.9 287.8,87.6 289,90.2 290.2,92.5 291.5,94.5 292.7,96.3 293.9,97.9 295.1,99.3 296.3,100.6 297.6,101.7 298.8,102.8 300,103.8 301.2,104.7" fill="none" stroke="#2020a0" stroke-width="0.4" stroke-linejoin="round" stroke-linecap="round" stroke-opacity="0.3"/>
<polyline points="276.5,73.1 277.7,73 278.9,73.2 280.1,74 281.4,75.3 282.6,77.2 283.8,79.5 285,82.1 286.2,84.8 287.5,87.5 288.7,90.1 289.9,92.4 291.1,94.4 292.3,96.2 293.5,97.8 294.8,99.3 296,100.5 297.2,101.7 298.4,102.8 299.6,103.8 300.9,104.7" fill="none" stroke="#2020a0" stroke-width="0.4" stroke-linejoin="round" stroke-linecap="round" stroke-opacity="0.3"/>
<polyline points="276.1,73.1 277.4,72.9 278.6,73.2 279.8,73.9 281,75.2 282.2,77 283.5,79.3 284.7,81.9 285.9,84.7 287.1,87.4 288.3,89.9 289.5,92.3 290.8,94.4 292,96.2 293.2,97.8 294.4,99.2 295.6,100.5 296.9,101.7 298.1,102.8 299.3,103.8 300.5,104.7" fill="none" stroke="#2020a0" stroke-width="0.4" stroke-linejoin="round" stroke-linecap="round" stroke-opacity="0.3"/>
<polygon points="256.8,75.9 260.5,76.1 262,76.3 258.3,76.1" fill="#435bf5" fill-opacity="0.50"/>
<polygon points="258.3,76.1 262,76.3 263.6,76.4 259.9,76.2" fill="#425ef5" fill-opacity="0.50"/>
<polygon points="259.9,76.2 263.6,76.4 265.1,76.3 261.4,76.2" fill="#4062f5" fill-opacity="0.51"/>
<polygon points="261.4,76.2 265.1,76.3 266.6,76.2 262.9,76" fill="#3e66f5" fill-opacity="0.51"/>
<polygon points="262.9,76 266.6,76.2 268.2,75.8 264.4,75.7" fill="#3b6bf6" fill-opacity="0.51"/>
<polygon points="264.4,75.7 268.2,75.8 269.7,75.4 266,75.3" fill="#3871f6" fill-opacity="0.52"/>
<polygon points="266,75.3 269.7,75.4 271.2,74.8 267.5,74.7" fill="#3578f6" fill-opacity="0.52"/>
<polygon points="267.5,74.7 271.2,74.8 272.8,74.1 269,74" fill="#3180f7" fill-opacity="0.53"/>
<polygon points="269,74 272.8,74.1 274.3,73.5 270.6,73.2" fill="#2d87f7" fill-opacity="0.54"/>
<polygon points="270.6,73.2 274.3,73.5 275.8,73 272.1,72.6" fill="#2a8df2" fill-opacity="0.54"/>
<polygon points="272.1,72.6 275.8,73 277.3,72.9 273.6,72.2" fill="#2692ee" fill-opacity="0.55"/>
<polygon points="273.6,72.2 277.3,72.9 278.9,73.3 275.2,72.4" fill="#2495ec" fill-opacity="0.55"/>
<polygon points="275.2,72.4 278.9,73.3 280.4,74.7 276.7,73.4" fill="#2594ed" fill-opacity="0.55"/>
<polygon points="276.7,73.4 280.4,74.7 281.9,76.8 278.2,75.4" fill="#2890f0" fill-opacity="0.54"/>
<polygon points="278.2,75.4 281.9,76.8 283.5,79.7 279.7,78.1" fill="#2d88f6" fill-opacity="0.54"/>
<polygon points="279.7,78.1 283.5,79.7 285,83 281.3,81.4" fill="#347af6" fill-opacity="0.53"/>
<polygon points="281.3,81.4 285,83 286.5,86.5 282.8,84.9" fill="#3c6bf5" fill-opacity="0.51"/>
<polygon points="282.8,84.9 286.5,86.5 288,89.8 284.3,88.4" fill="#435bf5" fill-opacity="0.50"/>
<polygon points="284.3,88.4 288,89.8 289.6,92.7 285.9,91.6" fill="#474dec" fill-opacity="0.49"/>
<polygon points="285.9,91.6 289.6,92.7 291.1,95.2 287.4,94.4" fill="#4443da" fill-opacity="0.48"/>
<polygon points="287.4,94.4 291.1,95.2 292.6,97.3 288.9,96.7" fill="#423acb" fill-opacity="0.47"/>
<polygon points="288.9,96.7 292.6,97.3 294.2,99.2 290.4,98.7" fill="#4134bf" fill-opacity="0.46"/>
<polygon points="290.4,98.7 294.2,99.2 295.7,100.8 292,100.5" fill="#3f2eb6" fill-opacity="0.46"/>
<polygon points="292,100.5 295.7,100.8 297.2,102.2 293.5,102" fill="#3f2aae" fill-opacity="0.45"/>
<polygon points="293.5,102 297.2,102.2 298.7,103.5 295,103.4" fill="#3e26a8" fill-opacity="0.45"/>
<polygon points="295,103.4 298.7,103.5 300.3,104.7 296.6,104.6" fill="#3e26a8" fill-opacity="0.45"/>
<polyline points="275.8,73 277,72.9 278.2,73.1 279.4,73.8 280.7,75.1 281.9,76.9 283.1,79.2 284.3,81.8 285.5,84.5 286.8,87.2 288,89.8 289.2,92.2 290.4,94.3 291.6,96.1 292.8,97.7 294.1,99.2 295.3,100.5 296.5,101.7 297.7,102.8 298.9,103.8 300.2,104.7" fill="none" stroke="#2020a0" stroke-width="0.4" stroke-linejoin="round" stroke-linecap="round" stroke-opacity="0.3"/>
<polyline points="275.4,73 276.7,72.8 277.9,73 279.1,73.7 280.3,75 281.5,76.8 282.7,79 284,81.6 285.2,84.4 286.4,87.1 287.6,89.7 288.8,92.1 290.1,94.2 291.3,96.1 292.5,97.7 293.7,99.2 294.9,100.5 296.1,101.7 297.4,102.7 298.6,103.7 299.8,104.7" fill="none" stroke="#2020a0" stroke-width="0.4" stroke-linejoin="round" stroke-linecap="round" stroke-opacity="0.3"/>
<polyline points="275.1,72.9 276.3,72.7 277.5,72.9 278.7,73.6 279.9,74.8 281.2,76.6 282.4,78.8 283.6,81.4 284.8,84.2 286,87 287.3,89.6 288.5,92 289.7,94.1 290.9,96 292.1,97.6 293.3,99.1 294.6,100.4 295.8,101.6 297,102.7 298.2,103.7 299.4,104.7" fill="none" stroke="#2020a0" stroke-width="0.4" stroke-linejoin="round" stroke-linecap="round" stroke-opacity="0.3"/>
<polyline points="274.7,72.9 275.9,72.7 277.1,72.8 278.4,73.5 279.6,74.7 280.8,76.5 282,78.7 283.2,81.3 284.5,84 285.7,86.8 286.9,89.4 288.1,91.9 289.3,94 290.5,95.9 291.8,97.6 293,99.1 294.2,100.4 295.4,101.6 296.6,102.7 297.9,103.7 299.1,104.6" fill="none" stroke="#2020a0" stroke-width="0.4" stroke-linejoin="round" stroke-linecap="round" stroke-opacity="0.3"/>
<polyline points="274.3,72.8 275.6,72.6 276.8,72.7 278,73.4 279.2,74.6 280.4,76.3 281.7,78.5 282.9,81.1 284.1,83.9 285.3,86.7 286.5,89.3 287.7,91.7 289,93.9 290.2,95.8 291.4,97.5 292.6,99 293.8,100.4 295.1,101.6 296.3,102.7 297.5,103.7 298.7,104.6" fill="none" stroke="#2020a0" stroke-width="0.4" stroke-linejoin="round" stroke-linecap="round" stroke-opacity="0.3"/>
<polyline points="274,72.8 275.2,72.5 276.4,72.6 277.6,73.3 278.8,74.5 280.1,76.2 281.3,78.4 282.5,80.9 283.7,83.7 284.9,86.5 286.2,89.2 287.4,91.6 288.6,93.8 289.8,95.8 291,97.5 292.2,99 293.5,100.3 294.7,101.6 295.9,102.7 297.1,103.7 298.3,104.6" fill="none" stroke="#2020a0" stroke-width="0.4" stroke-linejoin="round" stroke-linecap="round" stroke-opacity="0.3"/>
<polyline points="273.6,72.7 274.8,72.5 276,72.6 277.2,73.2 278.5,74.3 279.7,76 280.9,78.2 282.1,80.8 283.3,83.6 284.6,86.4 285.8,89 287,91.5 288.2,93.7 289.4,95.7 290.7,97.4 291.9,98.9 293.1,100.3 294.3,101.5 295.5,102.7 296.7,103.7 298,104.6" fill="none" stroke="#2020a0" stroke-width="0.4" stroke-linejoin="round" stroke-linecap="round" stroke-opacity="0.3"/>
<polyline points="273.2,72.7 274.4,72.4 275.7,72.5 276.9,73.1 278.1,74.2 279.3,75.9 280.5,78 281.7,80.6 283,83.4 284.2,86.2 285.4,88.9 286.6,91.4 287.8,93.6 289.1,95.6 290.3,97.4 291.5,98.9 292.7,100.3 293.9,101.5 295.1,102.7 296.4,103.7 297.6,104.6" fill="none" stroke="#2020a0" stroke-width="0.4" stroke-linejoin="round" stroke-linecap="round" stroke-opacity="0.3"/>
<polyline points="272.8,72.6 274.1,72.4 275.3,72.4 276.5,73 277.7,74.1 278.9,75.7 280.1,77.9 281.4,80.4 282.6,83.2 283.8,86 285,88.8 286.2,91.3 287.5,93.5 288.7,95.5 289.9,97.3 291.1,98.9 292.3,100.2 293.5,101.5 294.8,102.6 296,103.7 297.2,104.6" fill="none" stroke="#2020a0" stroke-width="0.4" stroke-linejoin="round" stroke-linecap="round" stroke-opacity="0.3"/>
<polyline points="272.4,72.6 273.7,72.3 274.9,72.3 276.1,72.8 277.3,73.9 278.5,75.6 279.8,77.7 281,80.3 282.2,83 283.4,85.9 284.6,88.6 285.8,91.2 287.1,93.4 288.3,95.5 289.5,97.2 290.7,98.8 291.9,100.2 293.2,101.5 294.4,102.6 295.6,103.7 296.8,104.6" fill="none" stroke="#2020a0" stroke-width="0.4" stroke-linejoin="round" stroke-linecap="round" stroke-opacity="0.3"/>
<polygon points="253.1,75.7 256.8,75.9 258.3,76.1 254.6,75.9" fill="#425df5" fill-opacity="0.50"/>
<polygon points="254.6,75.9 258.3,76.1 259.9,76.2 256.1,76.1" fill="#4160f5" fill-opacity="0.50"/>
<polygon points="256.1,76.1 259.9,76.2 261.4,76.2 257.7,76.1" fill="#3f63f5" fill-opacity="0.51"/>
<polygon points="257.7,76.1 261.4,76.2 262.9,76 259.2,76" fill="#3d67f5" fill-opacity="0.51"/>
<polygon points="259.2,76 262.9,76 264.4,75.7 260.7,75.7" fill="#3b6cf6" fill-opacity="0.51"/>
<polygon points="260.7,75.7 264.4,75.7 266,75.3 262.3,75.2" fill="#3872f6" fill-opacity="0.52"/>
<polygon points="262.3,75.2 266,75.3 267.5,74.7 263.8,74.6" fill="#3479f6" fill-opacity="0.52"/>
<polygon points="263.8,74.6 267.5,74.7 269,74 265.3,73.8" fill="#3181f7" fill-opacity="0.53"/>
<polygon points="265.3,73.8 269,74 270.6,73.2 266.8,73" fill="#2d88f6" fill-opacity="0.54"/>
<polygon points="266.8,73 270.6,73.2 272.1,72.6 268.4,72.2" fill="#288ff1" fill-opacity="0.54"/>
<polygon points="268.4,72.2 272.1,72.6 273.6,72.2 269.9,71.7" fill="#2594ec" fill-opacity="0.55"/>
<polygon points="269.9,71.7 273.6,72.2 275.2,72.4 271.4,71.6" fill="#2298e9" fill-opacity="0.55"/>
<polygon points="271.4,71.6 275.2,72.4 276.7,73.4 273,72.3" fill="#2199e9" fill-opacity="0.55"/>
<polygon points="273,72.3 276.7,73.4 278.2,75.4 274.5,73.9" fill="#2396eb" fill-opacity="0.55"/>
<polygon points="274.5,73.9 278.2,75.4 279.7,78.1 276,76.4" fill="#288ff0" fill-opacity="0.54"/>
<polygon points="276,76.4 279.7,78.1 281.3,81.4 277.5,79.6" fill="#2f84f7" fill-opacity="0.53"/>
<polygon points="277.5,79.6 281.3,81.4 282.8,84.9 279.1,83.3" fill="#3775f6" fill-opacity="0.52"/>
<polygon points="279.1,83.3 282.8,84.9 284.3,88.4 280.6,86.9" fill="#3f64f5" fill-opacity="0.51"/>
<polygon points="280.6,86.9 284.3,88.4 285.9,91.6 282.1,90.4" fill="#4754f4" fill-opacity="0.49"/>
<polygon points="282.1,90.4 285.9,91.6 287.4,94.4 283.7,93.4" fill="#4548e3" fill-opacity="0.48"/>
<polygon points="283.7,93.4 287.4,94.4 288.9,96.7 285.2,96" fill="#433fd2" fill-opacity="0.47"/>
<polygon points="285.2,96 288.9,96.7 290.4,98.7 286.7,98.2" fill="#4137c5" fill-opacity="0.47"/>
<polygon points="286.7,98.2 290.4,98.7 292,100.5 288.3,100.1" fill="#4030ba" fill-opacity="0.46"/>
<polygon points="288.3,100.1 292,100.5 293.5,102 289.8,101.8" fill="#3f2bb1" fill-opacity="0.45"/>
<polygon points="289.8,101.8 293.5,102 295,103.4 291.3,103.2" fill="#3e27aa" fill-opacity="0.45"/>
<polygon points="291.3,103.2 295,103.4 296.6,104.6 292.8,104.5" fill="#3e26a8" fill-opacity="0.45"/>
<polyline points="272.1,72.5 273.3,72.2 274.5,72.2 275.7,72.7 276.9,73.8 278.1,75.4 279.4,77.5 280.6,80.1 281.8,82.9 283,85.7 284.2,88.5 285.5,91 286.7,93.3 287.9,95.4 289.1,97.2 290.3,98.8 291.5,100.2 292.8,101.4 294,102.6 295.2,103.7 296.4,104.6" fill="none" stroke="#2020a0" stroke-width="0.4" stroke-linejoin="round" stroke-linecap="round" stroke-opacity="0.3"/>
<polyline points="271.7,72.5 272.9,72.2 274.1,72.1 275.3,72.6 276.5,73.7 277.8,75.3 279,77.4 280.2,79.9 281.4,82.7 282.6,85.5 283.8,88.3 285.1,90.9 286.3,93.2 287.5,95.3 288.7,97.1 289.9,98.7 291.2,100.1 292.4,101.4 293.6,102.6 294.8,103.6 296,104.6" fill="none" stroke="#2020a0" stroke-width="0.4" stroke-linejoin="round" stroke-linecap="round" stroke-opacity="0.3"/>
<polyline points="271.3,72.5 272.5,72.1 273.7,72.1 274.9,72.5 276.1,73.5 277.4,75.1 278.6,77.2 279.8,79.7 281,82.5 282.2,85.4 283.4,88.2 284.7,90.8 285.9,93.1 287.1,95.2 288.3,97 289.5,98.6 290.8,100.1 292,101.4 293.2,102.6 294.4,103.6 295.6,104.6" fill="none" stroke="#2020a0" stroke-width="0.4" stroke-linejoin="round" stroke-linecap="round" stroke-opacity="0.3"/>
<polyline points="270.9,72.4 272.1,72 273.3,72 274.5,72.4 275.7,73.4 276.9,74.9 278.2,77 279.4,79.5 280.6,82.3 281.8,85.2 283,88 284.3,90.6 285.5,93 286.7,95.1 287.9,97 289.1,98.6 290.3,100.1 291.6,101.4 292.8,102.5 294,103.6 295.2,104.6" fill="none" stroke="#2020a0" stroke-width="0.4" stroke-linejoin="round" stroke-linecap="round" stroke-opacity="0.3"/>
<polyline points="270.4,72.4 271.7,72 272.9,71.9 274.1,72.3 275.3,73.3 276.5,74.8 277.8,76.8 279,79.3 280.2,82.1 281.4,85 282.6,87.9 283.8,90.5 285.1,92.9 286.3,95 287.5,96.9 288.7,98.5 289.9,100 291.2,101.3 292.4,102.5 293.6,103.6 294.8,104.6" fill="none" stroke="#2020a0" stroke-width="0.4" stroke-linejoin="round" stroke-linecap="round" stroke-opacity="0.3"/>
<polyline points="270,72.3 271.3,71.9 272.5,71.8 273.7,72.2 274.9,73.1 276.1,74.6 277.3,76.6 278.6,79.1 279.8,81.9 281,84.8 282.2,87.7 283.4,90.4 284.7,92.8 285.9,94.9 287.1,96.8 288.3,98.5 289.5,100 290.7,101.3 292,102.5 293.2,103.6 294.4,104.6" fill="none" stroke="#2020a0" stroke-width="0.4" stroke-linejoin="round" stroke-linecap="round" stroke-opacity="0.3"/>
<polyline points="269.6,72.3 270.8,71.9 272.1,71.7 273.3,72.1 274.5,73 275.7,74.5 276.9,76.5 278.1,78.9 279.4,81.7 280.6,84.7 281.8,87.5 283,90.2 284.2,92.6 285.5,94.8 286.7,96.7 287.9,98.4 289.1,99.9 290.3,101.3 291.5,102.5 292.8,103.6 294,104.6" fill="none" stroke="#2020a0" stroke-width="0.4" stroke-linejoin="round" stroke-linecap="round" stroke-opacity="0.3"/>
<polyline points="269.2,72.3 270.4,71.8 271.6,71.7 272.8,72 274.1,72.9 275.3,74.3 276.5,76.3 277.7,78.7 278.9,81.5 280.2,84.5 281.4,87.3 282.6,90.1 283.8,92.5 285,94.7 286.3,96.7 287.5,98.4 288.7,99.9 289.9,101.2 291.1,102.4 292.3,103.5 293.6,104.5" fill="none" stroke="#2020a0" stroke-width="0.4" stroke-linejoin="round" stroke-linecap="round" stroke-opacity="0.3"/>
<polyline points="268.8,72.2 270,71.8 271.2,71.6 272.4,71.9 273.6,72.7 274.9,74.1 276.1,76.1 277.3,78.5 278.5,81.3 279.7,84.3 280.9,87.2 282.2,89.9 283.4,92.4 284.6,94.6 285.8,96.6 287,98.3 288.3,99.8 289.5,101.2 290.7,102.4 291.9,103.5 293.1,104.5" fill="none" stroke="#2020a0" stroke-width="0.4" stroke-linejoin="round" stroke-linecap="round" stroke-opacity="0.3"/>
<polygon points="249.4,75.5 253.1,75.7 254.6,75.9 250.9,75.8" fill="#425ff5" fill-opacity="0.50"/>
<polygon points="250.9,75.8 254.6,75.9 256.1,76.1 252.4,75.9" fill="#4061f5" fill-opacity="0.50"/>
<polygon points="252.4,75.9 256.1,76.1 257.7,76.1 254,76" fill="#3f64f5" fill-opacity="0.51"/>
<polygon points="254,76 257.7,76.1 259.2,76 255.5,75.9" fill="#3d68f5" fill-opacity="0.51"/>
<polygon points="255.5,75.9 259.2,76 260.7,75.7 257,75.6" fill="#3a6df6" fill-opacity="0.51"/>
<polygon points="257,75.6 260.7,75.7 262.3,75.2 258.5,75.2" fill="#3773f6" fill-opacity="0.52"/>
<polygon points="258.5,75.2 262.3,75.2 263.8,74.6 260.1,74.6" fill="#347af6" fill-opacity="0.52"/>
<polygon points="260.1,74.6 263.8,74.6 265.3,73.8 261.6,73.8" fill="#3081f7" fill-opacity="0.53"/>
<polygon points="261.6,73.8 265.3,73.8 266.8,73 263.1,72.9" fill="#2c89f5" fill-opacity="0.54"/>
<polygon points="263.1,72.9 266.8,73 268.4,72.2 264.7,72" fill="#2790f0" fill-opacity="0.54"/>
<polygon points="264.7,72 268.4,72.2 269.9,71.7 266.2,71.2" fill="#2397eb" fill-opacity="0.55"/>
<polygon points="266.2,71.2 269.9,71.7 271.4,71.6 267.7,70.8" fill="#209ce7" fill-opacity="0.56"/>
<polygon points="267.7,70.8 271.4,71.6 273,72.3 269.2,71.2" fill="#1e9ee5" fill-opacity="0.56"/>
<polygon points="269.2,71.2 273,72.3 274.5,73.9 270.8,72.5" fill="#1f9ce6" fill-opacity="0.56"/>
<polygon points="270.8,72.5 274.5,73.9 276,76.4 272.3,74.7" fill="#2397eb" fill-opacity="0.55"/>
<polygon points="272.3,74.7 276,76.4 277.5,79.6 273.8,77.8" fill="#298df2" fill-opacity="0.54"/>
<polygon points="273.8,77.8 277.5,79.6 279.1,83.3 275.4,81.5" fill="#317ff7" fill-opacity="0.53"/>
<polygon points="275.4,81.5 279.1,83.3 280.6,86.9 276.9,85.3" fill="#3a6ef6" fill-opacity="0.52"/>
<polygon points="276.9,85.3 280.6,86.9 282.1,90.4 278.4,89" fill="#425df5" fill-opacity="0.50"/>
<polygon points="278.4,89 282.1,90.4 283.7,93.4 279.9,92.3" fill="#474eed" fill-opacity="0.49"/>
<polygon points="279.9,92.3 283.7,93.4 285.2,96 281.5,95.1" fill="#4443da" fill-opacity="0.48"/>
<polygon points="281.5,95.1 285.2,96 286.7,98.2 283,97.6" fill="#423acb" fill-opacity="0.47"/>
<polygon points="283,97.6 286.7,98.2 288.3,100.1 284.5,99.7" fill="#4133be" fill-opacity="0.46"/>
<polygon points="284.5,99.7 288.3,100.1 289.8,101.8 286.1,101.5" fill="#3f2db4" fill-opacity="0.46"/>
<polygon points="286.1,101.5 289.8,101.8 291.3,103.2 287.6,103.1" fill="#3e29ad" fill-opacity="0.45"/>
<polygon points="287.6,103.1 291.3,103.2 292.8,104.5 289.1,104.4" fill="#3e26a8" fill-opacity="0.45"/>
<polyline points="268.3,72.2 269.6,71.7 270.8,71.5 272,71.8 273.2,72.6 274.4,74 275.6,75.9 276.9,78.3 278.1,81.1 279.3,84.1 280.5,87 281.7,89.7 283,92.3 284.2,94.5 285.4,96.5 286.6,98.2 287.8,99.8 289,101.2 290.3,102.4 291.5,103.5 292.7,104.5" fill="none" stroke="#2020a0" stroke-width="0.4" stroke-linejoin="round" stroke-linecap="round" stroke-opacity="0.3"/>
<polyline points="267.9,72.1 269.1,71.6 270.3,71.4 271.5,71.7 272.8,72.4 274,73.8 275.2,75.7 276.4,78.1 277.6,80.9 278.9,83.9 280.1,86.8 281.3,89.6 282.5,92.1 283.7,94.4 285,96.4 286.2,98.2 287.4,99.7 288.6,101.1 289.8,102.4 291,103.5 292.3,104.5" fill="none" stroke="#2020a0" stroke-width="0.4" stroke-linejoin="round" stroke-linecap="round" stroke-opacity="0.3"/>
<polyline points="267.5,72.1 268.7,71.6 269.9,71.3 271.1,71.5 272.3,72.3 273.5,73.6 274.8,75.5 276,77.9 277.2,80.7 278.4,83.7 279.6,86.6 280.9,89.4 282.1,92 283.3,94.3 284.5,96.3 285.7,98.1 286.9,99.7 288.2,101.1 289.4,102.3 290.6,103.5 291.8,104.5" fill="none" stroke="#2020a0" stroke-width="0.4" stroke-linejoin="round" stroke-linecap="round" stroke-opacity="0.3"/>
<polyline points="267,72.1 268.2,71.5 269.4,71.3 270.7,71.4 271.9,72.2 273.1,73.4 274.3,75.3 275.5,77.7 276.7,80.5 278,83.5 279.2,86.4 280.4,89.2 281.6,91.8 282.8,94.2 284.1,96.2 285.3,98 286.5,99.6 287.7,101 288.9,102.3 290.2,103.5 291.4,104.5" fill="none" stroke="#2020a0" stroke-width="0.4" stroke-linejoin="round" stroke-linecap="round" stroke-opacity="0.3"/>
<polyline points="266.5,72 267.8,71.5 269,71.2 270.2,71.3 271.4,72 272.6,73.3 273.9,75.1 275.1,77.5 276.3,80.3 277.5,83.2 278.7,86.2 280,89.1 281.2,91.7 282.4,94 283.6,96.1 284.8,97.9 286,99.6 287.3,101 288.5,102.3 289.7,103.4 290.9,104.5" fill="none" stroke="#2020a0" stroke-width="0.4" stroke-linejoin="round" stroke-linecap="round" stroke-opacity="0.3"/>
<polyline points="266.1,72 267.3,71.4 268.5,71.1 269.7,71.2 271,71.9 272.2,73.1 273.4,74.9 274.6,77.3 275.8,80 277.1,83 278.3,86 279.5,88.9 280.7,91.5 281.9,93.9 283.1,96 284.4,97.9 285.6,99.5 286.8,101 288,102.3 289.2,103.4 290.5,104.5" fill="none" stroke="#2020a0" stroke-width="0.4" stroke-linejoin="round" stroke-linecap="round" stroke-opacity="0.3"/>
<polyline points="265.6,72 266.8,71.4 268.1,71 269.3,71.1 270.5,71.7 271.7,72.9 272.9,74.7 274.2,77 275.4,79.8 276.6,82.8 277.8,85.8 279,88.7 280.2,91.4 281.5,93.8 282.7,95.9 283.9,97.8 285.1,99.4 286.3,100.9 287.6,102.2 288.8,103.4 290,104.4" fill="none" stroke="#2020a0" stroke-width="0.4" stroke-linejoin="round" stroke-linecap="round" stroke-opacity="0.3"/>
<polyline points="265.2,71.9 266.4,71.3 267.6,71 268.8,71 270,71.6 271.2,72.7 272.5,74.5 273.7,76.8 274.9,79.6 276.1,82.6 277.3,85.6 278.6,88.5 279.8,91.2 281,93.7 282.2,95.8 283.4,97.7 284.6,99.4 285.9,100.9 287.1,102.2 288.3,103.4 289.5,104.4" fill="none" stroke="#2020a0" stroke-width="0.4" stroke-linejoin="round" stroke-linecap="round" stroke-opacity="0.3"/>
<polygon points="245.6,75.3 249.4,75.5 250.9,75.8 247.2,75.6" fill="#4160f5" fill-opacity="0.50"/>
<polygon points="247.2,75.6 250.9,75.8 252.4,75.9 248.7,75.8" fill="#4062f5" fill-opacity="0.51"/>
<polygon points="248.7,75.8 252.4,75.9 254,76 250.2,75.9" fill="#3e66f5" fill-opacity="0.51"/>
<polygon points="250.2,75.9 254,76 255.5,75.9 251.8,75.8" fill="#3c69f5" fill-opacity="0.51"/>
<polygon points="251.8,75.8 255.5,75.9 257,75.6 253.3,75.6" fill="#3a6ef6" fill-opacity="0.52"/>
<polygon points="253.3,75.6 257,75.6 258.5,75.2 254.8,75.2" fill="#3774f6" fill-opacity="0.52"/>
<polygon points="254.8,75.2 258.5,75.2 260.1,74.6 256.3,74.6" fill="#347af6" fill-opacity="0.53"/>
<polygon points="256.3,74.6 260.1,74.6 261.6,73.8 257.9,73.8" fill="#3082f7" fill-opacity="0.53"/>
<polygon points="257.9,73.8 261.6,73.8 263.1,72.9 259.4,72.9" fill="#2c8af5" fill-opacity="0.54"/>
<polygon points="259.4,72.9 263.1,72.9 264.7,72 260.9,71.8" fill="#2791ef" fill-opacity="0.55"/>
<polygon points="260.9,71.8 264.7,72 266.2,71.2 262.5,70.8" fill="#2299e9" fill-opacity="0.55"/>
<polygon points="262.5,70.8 266.2,71.2 267.7,70.8 264,70.2" fill="#1e9fe4" fill-opacity="0.56"/>
<polygon points="264,70.2 267.7,70.8 269.2,71.2 265.5,70.3" fill="#1ba2e2" fill-opacity="0.56"/>
<polygon points="265.5,70.3 269.2,71.2 270.8,72.5 267.1,71.2" fill="#1ba2e2" fill-opacity="0.56"/>
<polygon points="267.1,71.2 270.8,72.5 272.3,74.7 268.6,73.1" fill="#1e9ee5" fill-opacity="0.56"/>
<polygon points="268.6,73.1 272.3,74.7 273.8,77.8 270.1,76" fill="#2496eb" fill-opacity="0.55"/>
<polygon points="270.1,76 273.8,77.8 275.4,81.5 271.6,79.6" fill="#2c89f5" fill-opacity="0.54"/>
<polygon points="271.6,79.6 275.4,81.5 276.9,85.3 273.2,83.5" fill="#3578f6" fill-opacity="0.52"/>
<polygon points="273.2,83.5 276.9,85.3 278.4,89 274.7,87.4" fill="#3e66f5" fill-opacity="0.51"/>
<polygon points="274.7,87.4 278.4,89 279.9,92.3 276.2,91" fill="#4655f4" fill-opacity="0.50"/>
<polygon points="276.2,91 279.9,92.3 281.5,95.1 277.8,94.2" fill="#4549e4" fill-opacity="0.48"/>
<polygon points="277.8,94.2 281.5,95.1 283,97.6 279.3,96.9" fill="#433fd2" fill-opacity="0.47"/>
<polygon points="279.3,96.9 283,97.6 284.5,99.7 280.8,99.2" fill="#4136c4" fill-opacity="0.47"/>
<polygon points="280.8,99.2 284.5,99.7 286.1,101.5 282.3,101.1" fill="#4030b9" fill-opacity="0.46"/>
<polygon points="282.3,101.1 286.1,101.5 287.6,103.1 283.9,102.8" fill="#3f2aaf" fill-opacity="0.45"/>
<polygon points="283.9,102.8 287.6,103.1 289.1,104.4 285.4,104.3" fill="#3e26a8" fill-opacity="0.45"/>
<polyline points="264.7,71.9 265.9,71.3 267.1,70.9 268.3,70.9 269.5,71.4 270.8,72.6 272,74.3 273.2,76.6 274.4,79.3 275.6,82.3 276.9,85.4 278.1,88.3 279.3,91.1 280.5,93.5 281.7,95.7 282.9,97.6 284.2,99.3 285.4,100.8 286.6,102.1 287.8,103.3 289,104.4" fill="none" stroke="#2020a0" stroke-width="0.4" stroke-linejoin="round" stroke-linecap="round" stroke-opacity="0.3"/>
<polyline points="264.2,71.9 265.4,71.2 266.6,70.8 267.8,70.8 269.1,71.3 270.3,72.4 271.5,74.1 272.7,76.4 273.9,79.1 275.2,82.1 276.4,85.2 277.6,88.1 278.8,90.9 280,93.4 281.2,95.6 282.5,97.5 283.7,99.2 284.9,100.8 286.1,102.1 287.3,103.3 288.6,104.4" fill="none" stroke="#2020a0" stroke-width="0.4" stroke-linejoin="round" stroke-linecap="round" stroke-opacity="0.3"/>
<polyline points="263.7,71.9 264.9,71.2 266.1,70.7 267.4,70.7 268.6,71.2 269.8,72.2 271,73.9 272.2,76.1 273.4,78.8 274.7,81.8 275.9,84.9 277.1,87.9 278.3,90.7 279.5,93.2 280.8,95.5 282,97.4 283.2,99.2 284.4,100.7 285.6,102.1 286.8,103.3 288.1,104.4" fill="none" stroke="#2020a0" stroke-width="0.4" stroke-linejoin="round" stroke-linecap="round" stroke-opacity="0.3"/>
<polyline points="263.2,71.8 264.4,71.1 265.6,70.7 266.9,70.6 268.1,71 269.3,72 270.5,73.7 271.7,75.9 272.9,78.6 274.2,81.6 275.4,84.7 276.6,87.7 277.8,90.5 279,93.1 280.3,95.3 281.5,97.3 282.7,99.1 283.9,100.6 285.1,102 286.3,103.3 287.6,104.3" fill="none" stroke="#2020a0" stroke-width="0.4" stroke-linejoin="round" stroke-linecap="round" stroke-opacity="0.3"/>
<polyline points="262.7,71.8 263.9,71.1 265.1,70.6 266.4,70.5 267.6,70.9 268.8,71.8 270,73.4 271.2,75.6 272.4,78.3 273.7,81.3 274.9,84.5 276.1,87.5 277.3,90.4 278.5,92.9 279.8,95.2 281,97.2 282.2,99 283.4,100.6 284.6,102 285.8,103.2 287.1,104.3" fill="none" stroke="#2020a0" stroke-width="0.4" stroke-linejoin="round" stroke-linecap="round" stroke-opacity="0.3"/>
<polyline points="262.2,71.8 263.4,71.1 264.6,70.5 265.8,70.4 267.1,70.7 268.3,71.7 269.5,73.2 270.7,75.4 271.9,78.1 273.1,81.1 274.4,84.2 275.6,87.3 276.8,90.2 278,92.8 279.2,95.1 280.5,97.1 281.7,98.9 282.9,100.5 284.1,101.9 285.3,103.2 286.6,104.3" fill="none" stroke="#2020a0" stroke-width="0.4" stroke-linejoin="round" stroke-linecap="round" stroke-opacity="0.3"/>
<polyline points="261.7,71.8 262.9,71 264.1,70.4 265.3,70.3 266.5,70.6 267.8,71.5 269,73 270.2,75.1 271.4,77.8 272.6,80.8 273.8,84 275.1,87.1 276.3,90 277.5,92.6 278.7,95 279.9,97 281.2,98.9 282.4,100.5 283.6,101.9 284.8,103.2 286,104.3" fill="none" stroke="#2020a0" stroke-width="0.4" stroke-linejoin="round" stroke-linecap="round" stroke-opacity="0.3"/>
<polyline points="261.1,71.8 262.4,71 263.6,70.4 264.8,70.2 266,70.4 267.2,71.3 268.4,72.8 269.7,74.9 270.9,77.5 272.1,80.6 273.3,83.7 274.5,86.8 275.8,89.8 277,92.4 278.2,94.8 279.4,96.9 280.6,98.8 281.9,100.4 283.1,101.8 284.3,103.1 285.5,104.3" fill="none" stroke="#2020a0" stroke-width="0.4" stroke-linejoin="round" stroke-linecap="round" stroke-opacity="0.3"/>
<polygon points="241.9,75.1 245.6,75.3 247.2,75.6 243.5,75.4" fill="#4062f5" fill-opacity="0.51"/>
<polygon points="243.5,75.4 247.2,75.6 248.7,75.8 245,75.7" fill="#3f64f5" fill-opacity="0.51"/>
<polygon points="245,75.7 248.7,75.8 250.2,75.9 246.5,75.8" fill="#3e67f5" fill-opacity="0.51"/>
<polygon points="246.5,75.8 250.2,75.9 251.8,75.8 248,75.8" fill="#3c6af5" fill-opacity="0.51"/>
<polygon points="248,75.8 251.8,75.8 253.3,75.6 249.6,75.6" fill="#3a6ff6" fill-opacity="0.52"/>
<polygon points="249.6,75.6 253.3,75.6 254.8,75.2 251.1,75.3" fill="#3774f6" fill-opacity="0.52"/>
<polygon points="251.1,75.3 254.8,75.2 256.3,74.6 252.6,74.7" fill="#347af6" fill-opacity="0.53"/>
<polygon points="252.6,74.7 256.3,74.6 257.9,73.8 254.2,73.9" fill="#3082f7" fill-opacity="0.53"/>
<polygon points="254.2,73.9 257.9,73.8 259.4,72.9 255.7,72.9" fill="#2b8af4" fill-opacity="0.54"/>
<polygon points="255.7,72.9 259.4,72.9 260.9,71.8 257.2,71.7" fill="#2692ee" fill-opacity="0.55"/>
<polygon points="257.2,71.7 260.9,71.8 262.5,70.8 258.7,70.6" fill="#219ae8" fill-opacity="0.55"/>
<polygon points="258.7,70.6 262.5,70.8 264,70.2 260.3,69.7" fill="#1ca1e3" fill-opacity="0.56"/>
<polygon points="260.3,69.7 264,70.2 265.5,70.3 261.8,69.4" fill="#19a6df" fill-opacity="0.57"/>
<polygon points="261.8,69.4 265.5,70.3 267.1,71.2 263.3,69.9" fill="#18a8dd" fill-opacity="0.57"/>
<polygon points="263.3,69.9 267.1,71.2 268.6,73.1 264.9,71.5" fill="#19a5df" fill-opacity="0.57"/>
<polygon points="264.9,71.5 268.6,73.1 270.1,76 266.4,74.1" fill="#1e9ee5" fill-opacity="0.56"/>
<polygon points="266.4,74.1 270.1,76 271.6,79.6 267.9,77.6" fill="#2692ee" fill-opacity="0.55"/>
<polygon points="267.9,77.6 271.6,79.6 273.2,83.5 269.5,81.6" fill="#2f83f7" fill-opacity="0.53"/>
<polygon points="269.5,81.6 273.2,83.5 274.7,87.4 271,85.8" fill="#3970f6" fill-opacity="0.52"/>
<polygon points="271,85.8 274.7,87.4 276.2,91 272.5,89.6" fill="#425ef5" fill-opacity="0.50"/>
<polygon points="272.5,89.6 276.2,91 277.8,94.2 274,93" fill="#474fee" fill-opacity="0.49"/>
<polygon points="274,93 277.8,94.2 279.3,96.9 275.6,96" fill="#4443da" fill-opacity="0.48"/>
<polygon points="275.6,96 279.3,96.9 280.8,99.2 277.1,98.5" fill="#423aca" fill-opacity="0.47"/>
<polygon points="277.1,98.5 280.8,99.2 282.3,101.1 278.6,100.7" fill="#4032bd" fill-opacity="0.46"/>
<polygon points="278.6,100.7 282.3,101.1 283.9,102.8 280.2,102.5" fill="#3f2cb3" fill-opacity="0.46"/>
<polygon points="280.2,102.5 283.9,102.8 285.4,104.3 281.7,104.1" fill="#3e28ab" fill-opacity="0.45"/>
<polyline points="260.6,71.7 261.8,70.9 263,70.3 264.3,70 265.5,70.3 266.7,71.1 267.9,72.5 269.1,74.6 270.4,77.3 271.6,80.3 272.8,83.5 274,86.6 275.2,89.6 276.4,92.3 277.7,94.7 278.9,96.8 280.1,98.7 281.3,100.3 282.5,101.8 283.8,103.1 285,104.2" fill="none" stroke="#2020a0" stroke-width="0.4" stroke-linejoin="round" stroke-linecap="round" stroke-opacity="0.3"/>
<polyline points="260.1,71.7 261.3,70.9 262.5,70.2 263.7,69.9 264.9,70.1 266.2,70.9 267.4,72.3 268.6,74.4 269.8,77 271,80 272.2,83.2 273.5,86.4 274.7,89.3 275.9,92.1 277.1,94.5 278.3,96.7 279.6,98.6 280.8,100.3 282,101.7 283.2,103.1 284.4,104.2" fill="none" stroke="#2020a0" stroke-width="0.4" stroke-linejoin="round" stroke-linecap="round" stroke-opacity="0.3"/>
<polyline points="259.5,71.7 260.7,70.9 262,70.2 263.2,69.8 264.4,70 265.6,70.7 266.8,72.1 268,74.1 269.3,76.7 270.5,79.7 271.7,82.9 272.9,86.1 274.1,89.1 275.4,91.9 276.6,94.4 277.8,96.6 279,98.5 280.2,100.2 281.4,101.7 282.7,103 283.9,104.2" fill="none" stroke="#2020a0" stroke-width="0.4" stroke-linejoin="round" stroke-linecap="round" stroke-opacity="0.3"/>
<polyline points="259,71.7 260.2,70.8 261.4,70.1 262.6,69.7 263.8,69.8 265,70.5 266.3,71.8 267.5,73.8 268.7,76.4 269.9,79.4 271.1,82.6 272.4,85.8 273.6,88.9 274.8,91.7 276,94.2 277.2,96.4 278.4,98.4 279.7,100.1 280.9,101.6 282.1,103 283.3,104.1" fill="none" stroke="#2020a0" stroke-width="0.4" stroke-linejoin="round" stroke-linecap="round" stroke-opacity="0.3"/>
<polyline points="258.4,71.7 259.6,70.8 260.8,70.1 262,69.6 263.3,69.7 264.5,70.3 265.7,71.6 266.9,73.5 268.1,76.1 269.4,79.1 270.6,82.3 271.8,85.6 273,88.7 274.2,91.5 275.4,94.1 276.7,96.3 277.9,98.3 279.1,100 280.3,101.6 281.5,102.9 282.8,104.1" fill="none" stroke="#2020a0" stroke-width="0.4" stroke-linejoin="round" stroke-linecap="round" stroke-opacity="0.3"/>
<polyline points="257.8,71.7 259,70.8 260.2,70 261.5,69.5 262.7,69.5 263.9,70.1 265.1,71.4 266.3,73.3 267.6,75.8 268.8,78.8 270,82 271.2,85.3 272.4,88.4 273.7,91.3 274.9,93.9 276.1,96.2 277.3,98.2 278.5,100 279.7,101.5 281,102.9 282.2,104.1" fill="none" stroke="#2020a0" stroke-width="0.4" stroke-linejoin="round" stroke-linecap="round" stroke-opacity="0.3"/>
<polygon points="238.2,75.3 241.9,75.1 243.5,75.4 239.7,75.7" fill="#4062f5" fill-opacity="0.51"/>
<polygon points="239.7,75.7 243.5,75.4 245,75.7 241.3,75.9" fill="#3f64f5" fill-opacity="0.51"/>
<polygon points="241.3,75.9 245,75.7 246.5,75.8 242.8,76" fill="#3e67f5" fill-opacity="0.51"/>
<polygon points="242.8,76 246.5,75.8 248,75.8 244.3,76" fill="#3c6af5" fill-opacity="0.51"/>
<polygon points="244.3,76 248,75.8 249.6,75.6 245.9,75.8" fill="#3a6ff6" fill-opacity="0.52"/>
<polygon points="245.9,75.8 249.6,75.6 251.1,75.3 247.4,75.4" fill="#3774f6" fill-opacity="0.52"/>
<polygon points="247.4,75.4 251.1,75.3 252.6,74.7 248.9,74.7" fill="#347bf6" fill-opacity="0.53"/>
<polygon points="248.9,74.7 252.6,74.7 254.2,73.9 250.4,73.8" fill="#3082f7" fill-opacity="0.53"/>
<polygon points="250.4,73.8 254.2,73.9 255.7,72.9 252,72.7" fill="#2b8bf4" fill-opacity="0.54"/>
<polygon points="252,72.7 255.7,72.9 257.2,71.7 253.5,71.4" fill="#2693ee" fill-opacity="0.55"/>
<polygon points="253.5,71.4 257.2,71.7 258.7,70.6 255,70.1" fill="#209ce7" fill-opacity="0.56"/>
<polygon points="255,70.1 258.7,70.6 260.3,69.7 256.6,69.1" fill="#1ba4e1" fill-opacity="0.56"/>
<polygon points="256.6,69.1 260.3,69.7 261.8,69.4 258.1,68.8" fill="#17aadc" fill-opacity="0.57"/>
<polygon points="258.1,68.8 261.8,69.4 263.3,69.9 259.6,69.3" fill="#15acda" fill-opacity="0.57"/>
<polygon points="259.6,69.3 263.3,69.9 264.9,71.5 261.1,70.9" fill="#16aadb" fill-opacity="0.57"/>
<polygon points="261.1,70.9 264.9,71.5 266.4,74.1 262.7,73.6" fill="#1ba4e1" fill-opacity="0.56"/>
<polygon points="262.7,73.6 266.4,74.1 267.9,77.6 264.2,77.2" fill="#2298e9" fill-opacity="0.55"/>
<polygon points="264.2,77.2 267.9,77.6 269.5,81.6 265.7,81.3" fill="#2c8af5" fill-opacity="0.54"/>
<polygon points="265.7,81.3 269.5,81.6 271,85.8 267.3,85.5" fill="#3677f6" fill-opacity="0.52"/>
<polygon points="267.3,85.5 271,85.8 272.5,89.6 268.8,89.4" fill="#3f64f5" fill-opacity="0.51"/>
<polygon points="268.8,89.4 272.5,89.6 274,93 270.3,92.9" fill="#4853f4" fill-opacity="0.49"/>
<polygon points="270.3,92.9 274,93 275.6,96 271.8,95.9" fill="#4546e0" fill-opacity="0.48"/>
<polygon points="271.8,95.9 275.6,96 277.1,98.5 273.4,98.4" fill="#433cce" fill-opacity="0.47"/>
<polygon points="273.4,98.4 277.1,98.5 278.6,100.7 274.9,100.6" fill="#4134c0" fill-opacity="0.46"/>
<polygon points="274.9,100.6 278.6,100.7 280.2,102.5 276.4,102.5" fill="#3f2eb5" fill-opacity="0.46"/>
<polygon points="276.4,102.5 280.2,102.5 281.7,104.1 278,104" fill="#3e29ad" fill-opacity="0.45"/>
<polyline points="257.2,71.7 258.4,70.7 259.7,69.9 260.9,69.4 262.1,69.4 263.3,69.9 264.5,71.1 265.8,73 267,75.5 268.2,78.5 269.4,81.7 270.6,85 271.8,88.2 273.1,91.1 274.3,93.7 275.5,96 276.7,98.1 277.9,99.9 279.2,101.4 280.4,102.8 281.6,104" fill="none" stroke="#2020a0" stroke-width="0.4" stroke-linejoin="round" stroke-linecap="round" stroke-opacity="0.3"/>
<polyline points="241.7,86 241.9,86.1 242.2,86.1 242.5,86.2 242.7,86.2 243,86.3 243.3,86.3 243.5,86.3 243.8,86.4 244,86.4 244.3,86.4 244.6,86.5 244.8,86.5 245.1,86.5 245.4,86.5 245.6,86.5 245.9,86.5 246.1,86.5 246.4,86.5 246.7,86.5 246.9,86.4 247.2,86.4 247.5,86.4 247.7,86.3 248,86.3 248.2,86.2 248.5,86.1 248.8,86.1 249,86 249.3,85.9 249.6,85.8 249.8,85.7 250.1,85.6 250.3,85.5 250.6,85.4 250.9,85.2 251.1,85.1 251.4,85 251.7,84.8 251.9,84.6 252.2,84.5 252.4,84.3 252.7,84.1 253,84 253.2,83.8 253.5,83.6 253.7,83.4 254,83.2 254.3,83 254.5,82.9 254.8,82.7 255.1,82.5 255.3,82.3 255.6,82.2 255.8,82 256.1,81.8 256.4,81.7 256.6,81.5 256.9,81.4 257.2,81.3 257.4,81.2 257.7,81.1 257.9,81.1 258.2,81 258.5,81 258.7,81 259,81 259.3,81 259.5,81 259.8,81.1 260,81.2 260.3,81.3 260.6,81.4 260.8,81.6 261.1,81.7 261.4,81.9 261.6,82.1 261.9,82.3 262.1,82.5 262.4,82.7 262.7,82.9 262.9,83.1 263.2,83.4 263.5,83.6 263.7,83.9 264,84.1 264.2,84.4 264.5,84.7 264.8,85 265,85.3 265.3,85.6" fill="none" stroke="#0000ff" stroke-width="2.4" stroke-linejoin="round" stroke-linecap="round"/>
<polyline points="256.6,71.6 257.9,70.7 259.1,69.9 260.3,69.3 261.5,69.3 262.7,69.8 263.9,71 265.2,72.9 266.4,75.4 267.6,78.4 268.8,81.6 270,84.9 271.3,88.1 272.5,91 273.7,93.7 274.9,96 276.1,98 277.3,99.8 278.6,101.4 279.8,102.8 281,104" fill="none" stroke="#2020a0" stroke-width="0.4" stroke-linejoin="round" stroke-linecap="round" stroke-opacity="0.3"/>
<polyline points="256,71.6 257.2,70.6 258.5,69.8 259.7,69.2 260.9,69.2 262.1,69.7 263.3,70.9 264.6,72.8 265.8,75.3 267,78.3 268.2,81.6 269.4,84.9 270.6,88.1 271.9,91 273.1,93.6 274.3,96 275.5,98 276.7,99.8 278,101.4 279.2,102.8 280.4,104" fill="none" stroke="#2020a0" stroke-width="0.4" stroke-linejoin="round" stroke-linecap="round" stroke-opacity="0.3"/>
<polyline points="255.4,71.5 256.6,70.5 257.9,69.7 259.1,69.2 260.3,69.1 261.5,69.6 262.7,70.8 263.9,72.7 265.2,75.3 266.4,78.3 267.6,81.6 268.8,84.9 270,88.1 271.3,91 272.5,93.6 273.7,96 274.9,98 276.1,99.8 277.3,101.4 278.6,102.8 279.8,104" fill="none" stroke="#2020a0" stroke-width="0.4" stroke-linejoin="round" stroke-linecap="round" stroke-opacity="0.3"/>
<polyline points="254.8,71.4 256,70.5 257.2,69.6 258.4,69.1 259.7,69 260.9,69.5 262.1,70.7 263.3,72.7 264.5,75.2 265.8,78.3 267,81.5 268.2,84.9 269.4,88 270.6,91 271.8,93.6 273.1,95.9 274.3,98 275.5,99.8 276.7,101.4 277.9,102.8 279.2,104" fill="none" stroke="#2020a0" stroke-width="0.4" stroke-linejoin="round" stroke-linecap="round" stroke-opacity="0.3"/>
<polyline points="254.2,71.4 255.4,70.4 256.6,69.5 257.8,69 259,68.9 260.2,69.4 261.5,70.7 262.7,72.6 263.9,75.2 265.1,78.2 266.3,81.5 267.6,84.8 268.8,88 270,90.9 271.2,93.6 272.4,95.9 273.6,98 274.9,99.8 276.1,101.4 277.3,102.8 278.5,104" fill="none" stroke="#2020a0" stroke-width="0.4" stroke-linejoin="round" stroke-linecap="round" stroke-opacity="0.3"/>
<polygon points="234.5,75.6 238.2,75.3 239.7,75.7 236,75.9" fill="#4061f5" fill-opacity="0.50"/>
<polygon points="236,75.9 239.7,75.7 241.3,75.9 237.5,76.2" fill="#3f63f5" fill-opacity="0.51"/>
<polygon points="237.5,76.2 241.3,75.9 242.8,76 239.1,76.2" fill="#3e66f5" fill-opacity="0.51"/>
<polygon points="239.1,76.2 242.8,76 244.3,76 240.6,76.2" fill="#3c69f5" fill-opacity="0.51"/>
<polygon points="240.6,76.2 244.3,76 245.9,75.8 242.1,75.9" fill="#3a6ef6" fill-opacity="0.52"/>
<polygon points="242.1,75.9 245.9,75.8 247.4,75.4 243.7,75.4" fill="#3774f6" fill-opacity="0.52"/>
<polygon points="243.7,75.4 247.4,75.4 248.9,74.7 245.2,74.7" fill="#347bf6" fill-opacity="0.53"/>
<polygon points="245.2,74.7 248.9,74.7 250.4,73.8 246.7,73.7" fill="#2f83f7" fill-opacity="0.53"/>
<polygon points="246.7,73.7 250.4,73.8 252,72.7 248.3,72.5" fill="#2a8cf3" fill-opacity="0.54"/>
<polygon points="248.3,72.5 252,72.7 253.5,71.4 249.8,71.1" fill="#2495ec" fill-opacity="0.55"/>
<polygon points="249.8,71.1 253.5,71.4 255,70.1 251.3,69.7" fill="#1e9ee5" fill-opacity="0.56"/>
<polygon points="251.3,69.7 255,70.1 256.6,69.1 252.8,68.6" fill="#19a6df" fill-opacity="0.57"/>
<polygon points="252.8,68.6 256.6,69.1 258.1,68.8 254.4,68.2" fill="#15adda" fill-opacity="0.57"/>
<polygon points="254.4,68.2 258.1,68.8 259.6,69.3 255.9,68.7" fill="#13afd8" fill-opacity="0.58"/>
<polygon points="255.9,68.7 259.6,69.3 261.1,70.9 257.4,70.4" fill="#14add9" fill-opacity="0.57"/>
<polygon points="257.4,70.4 261.1,70.9 262.7,73.6 259,73.2" fill="#19a6df" fill-opacity="0.57"/>
<polygon points="259,73.2 262.7,73.6 264.2,77.2 260.5,76.9" fill="#219ae8" fill-opacity="0.56"/>
<polygon points="260.5,76.9 264.2,77.2 265.7,81.3 262,81.1" fill="#2a8cf3" fill-opacity="0.54"/>
<polygon points="262,81.1 265.7,81.3 267.3,85.5 263.5,85.3" fill="#3579f6" fill-opacity="0.52"/>
<polygon points="263.5,85.3 267.3,85.5 268.8,89.4 265.1,89.2" fill="#3e65f5" fill-opacity="0.51"/>
<polygon points="265.1,89.2 268.8,89.4 270.3,92.9 266.6,92.8" fill="#4754f4" fill-opacity="0.49"/>
<polygon points="266.6,92.8 270.3,92.9 271.8,95.9 268.1,95.8" fill="#4547e1" fill-opacity="0.48"/>
<polygon points="268.1,95.8 271.8,95.9 273.4,98.4 269.7,98.4" fill="#433dd0" fill-opacity="0.47"/>
<polygon points="269.7,98.4 273.4,98.4 274.9,100.6 271.2,100.6" fill="#4135c2" fill-opacity="0.46"/>
<polygon points="271.2,100.6 274.9,100.6 276.4,102.5 272.7,102.5" fill="#402eb6" fill-opacity="0.46"/>
<polygon points="272.7,102.5 276.4,102.5 278,104 274.2,104" fill="#3e29ae" fill-opacity="0.45"/>
<polyline points="253.5,71.3 254.7,70.3 255.9,69.4 257.2,68.8 258.4,68.8 259.6,69.3 260.8,70.6 262,72.5 263.3,75.1 264.5,78.2 265.7,81.5 266.9,84.8 268.1,88 269.3,90.9 270.6,93.6 271.8,95.9 273,98 274.2,99.8 275.4,101.4 276.7,102.8 277.9,104" fill="none" stroke="#2020a0" stroke-width="0.4" stroke-linejoin="round" stroke-linecap="round" stroke-opacity="0.3"/>
<polyline points="252.8,71.3 254.1,70.2 255.3,69.3 256.5,68.7 257.7,68.7 258.9,69.2 260.2,70.5 261.4,72.4 262.6,75 263.8,78.1 265,81.4 266.2,84.8 267.5,88 268.7,90.9 269.9,93.6 271.1,95.9 272.3,98 273.6,99.8 274.8,101.4 276,102.8 277.2,104" fill="none" stroke="#2020a0" stroke-width="0.4" stroke-linejoin="round" stroke-linecap="round" stroke-opacity="0.3"/>
<polyline points="252.2,71.2 253.4,70.1 254.6,69.2 255.8,68.6 257,68.6 258.3,69.1 259.5,70.4 260.7,72.4 261.9,75 263.1,78.1 264.4,81.4 265.6,84.7 266.8,87.9 268,90.9 269.2,93.5 270.5,95.9 271.7,98 272.9,99.8 274.1,101.4 275.3,102.8 276.5,104" fill="none" stroke="#2020a0" stroke-width="0.4" stroke-linejoin="round" stroke-linecap="round" stroke-opacity="0.3"/>
<polyline points="251.5,71.1 252.7,70 253.9,69.1 255.1,68.5 256.4,68.5 257.6,69 258.8,70.3 260,72.3 261.2,74.9 262.5,78 263.7,81.3 264.9,84.7 266.1,87.9 267.3,90.9 268.5,93.5 269.8,95.9 271,98 272.2,99.8 273.4,101.4 274.6,102.8 275.9,104" fill="none" stroke="#2020a0" stroke-width="0.4" stroke-linejoin="round" stroke-linecap="round" stroke-opacity="0.3"/>
<polyline points="250.8,71.1 252,70 253.2,69 254.5,68.4 255.7,68.3 256.9,68.9 258.1,70.2 259.3,72.2 260.5,74.9 261.8,78 263,81.3 264.2,84.7 265.4,87.9 266.6,90.8 267.9,93.5 269.1,95.9 270.3,97.9 271.5,99.8 272.7,101.4 273.9,102.8 275.2,104" fill="none" stroke="#2020a0" stroke-width="0.4" stroke-linejoin="round" stroke-linecap="round" stroke-opacity="0.3"/>
<polyline points="250.1,71 251.3,69.9 252.5,68.9 253.7,68.3 255,68.2 256.2,68.8 257.4,70.1 258.6,72.1 259.8,74.8 261.1,77.9 262.3,81.3 263.5,84.6 264.7,87.8 265.9,90.8 267.1,93.5 268.4,95.8 269.6,97.9 270.8,99.8 272,101.4 273.2,102.8 274.5,104" fill="none" stroke="#2020a0" stroke-width="0.4" stroke-linejoin="round" stroke-linecap="round" stroke-opacity="0.3"/>
<polygon points="230.8,75.9 234.5,75.6 236,75.9 232.3,76.2" fill="#4160f5" fill-opacity="0.50"/>
<polygon points="232.3,76.2 236,75.9 237.5,76.2 233.8,76.4" fill="#4062f5" fill-opacity="0.51"/>
<polygon points="233.8,76.4 237.5,76.2 239.1,76.2 235.4,76.5" fill="#3e65f5" fill-opacity="0.51"/>
<polygon points="235.4,76.5 239.1,76.2 240.6,76.2 236.9,76.4" fill="#3d69f5" fill-opacity="0.51"/>
<polygon points="236.9,76.4 240.6,76.2 242.1,75.9 238.4,76.1" fill="#3a6ef6" fill-opacity="0.51"/>
<polygon points="238.4,76.1 242.1,75.9 243.7,75.4 239.9,75.5" fill="#3774f6" fill-opacity="0.52"/>
<polygon points="239.9,75.5 243.7,75.4 245.2,74.7 241.5,74.7" fill="#337bf6" fill-opacity="0.53"/>
<polygon points="241.5,74.7 245.2,74.7 246.7,73.7 243,73.6" fill="#2f84f7" fill-opacity="0.53"/>
<polygon points="243,73.6 246.7,73.7 248.3,72.5 244.5,72.2" fill="#2a8df2" fill-opacity="0.54"/>
<polygon points="244.5,72.2 248.3,72.5 249.8,71.1 246.1,70.7" fill="#2396eb" fill-opacity="0.55"/>
<polygon points="246.1,70.7 249.8,71.1 251.3,69.7 247.6,69.2" fill="#1da0e3" fill-opacity="0.56"/>
<polygon points="247.6,69.2 251.3,69.7 252.8,68.6 249.1,68" fill="#17a9dc" fill-opacity="0.57"/>
<polygon points="249.1,68 252.8,68.6 254.4,68.2 250.6,67.6" fill="#13b0d7" fill-opacity="0.58"/>
<polygon points="250.6,67.6 254.4,68.2 255.9,68.7 252.2,68.2" fill="#13b2d4" fill-opacity="0.58"/>
<polygon points="252.2,68.2 255.9,68.7 257.4,70.4 253.7,69.9" fill="#12b0d7" fill-opacity="0.58"/>
<polygon points="253.7,69.9 257.4,70.4 259,73.2 255.2,72.8" fill="#17a9dd" fill-opacity="0.57"/>
<polygon points="255.2,72.8 259,73.2 260.5,76.9 256.8,76.6" fill="#1f9ce6" fill-opacity="0.56"/>
<polygon points="256.8,76.6 260.5,76.9 262,81.1 258.3,80.8" fill="#298df2" fill-opacity="0.54"/>
<polygon points="258.3,80.8 262,81.1 263.5,85.3 259.8,85.1" fill="#347af6" fill-opacity="0.53"/>
<polygon points="259.8,85.1 263.5,85.3 265.1,89.2 261.4,89.1" fill="#3d67f5" fill-opacity="0.51"/>
<polygon points="261.4,89.1 265.1,89.2 266.6,92.8 262.9,92.6" fill="#4655f4" fill-opacity="0.50"/>
<polygon points="262.9,92.6 266.6,92.8 268.1,95.8 264.4,95.7" fill="#4548e3" fill-opacity="0.48"/>
<polygon points="264.4,95.7 268.1,95.8 269.7,98.4 265.9,98.3" fill="#433ed1" fill-opacity="0.47"/>
<polygon points="265.9,98.3 269.7,98.4 271.2,100.6 267.5,100.5" fill="#4136c3" fill-opacity="0.46"/>
<polygon points="267.5,100.5 271.2,100.6 272.7,102.5 269,102.4" fill="#402fb7" fill-opacity="0.46"/>
<polygon points="269,102.4 272.7,102.5 274.2,104 270.5,104" fill="#3f2aae" fill-opacity="0.45"/>
<polyline points="249.4,70.9 250.6,69.8 251.8,68.8 253,68.2 254.2,68.1 255.5,68.7 256.7,70 257.9,72 259.1,74.7 260.3,77.9 261.5,81.2 262.8,84.6 264,87.8 265.2,90.8 266.4,93.4 267.6,95.8 268.9,97.9 270.1,99.7 271.3,101.4 272.5,102.8 273.7,104" fill="none" stroke="#2020a0" stroke-width="0.4" stroke-linejoin="round" stroke-linecap="round" stroke-opacity="0.3"/>
<polyline points="248.6,70.8 249.8,69.7 251.1,68.7 252.3,68.1 253.5,68 254.7,68.6 255.9,69.9 257.2,71.9 258.4,74.6 259.6,77.8 260.8,81.2 262,84.5 263.2,87.8 264.5,90.7 265.7,93.4 266.9,95.8 268.1,97.9 269.3,99.7 270.6,101.4 271.8,102.8 273,104" fill="none" stroke="#2020a0" stroke-width="0.4" stroke-linejoin="round" stroke-linecap="round" stroke-opacity="0.3"/>
<polyline points="247.9,70.8 249.1,69.6 250.3,68.6 251.5,68 252.7,67.9 254,68.5 255.2,69.8 256.4,71.9 257.6,74.6 258.8,77.7 260.1,81.1 261.3,84.5 262.5,87.7 263.7,90.7 264.9,93.4 266.1,95.8 267.4,97.9 268.6,99.7 269.8,101.4 271,102.8 272.2,104" fill="none" stroke="#2020a0" stroke-width="0.4" stroke-linejoin="round" stroke-linecap="round" stroke-opacity="0.3"/>
<polyline points="247.1,70.7 248.3,69.5 249.5,68.5 250.8,67.8 252,67.8 253.2,68.4 254.4,69.7 255.6,71.8 256.8,74.5 258.1,77.7 259.3,81.1 260.5,84.4 261.7,87.7 262.9,90.7 264.2,93.4 265.4,95.7 266.6,97.9 267.8,99.7 269,101.3 270.2,102.8 271.5,104" fill="none" stroke="#2020a0" stroke-width="0.4" stroke-linejoin="round" stroke-linecap="round" stroke-opacity="0.3"/>
<polyline points="246.3,70.6 247.5,69.4 248.7,68.4 250,67.7 251.2,67.6 252.4,68.2 253.6,69.6 254.8,71.7 256.1,74.4 257.3,77.6 258.5,81 259.7,84.4 260.9,87.6 262.2,90.6 263.4,93.3 264.6,95.7 265.8,97.8 267,99.7 268.2,101.3 269.5,102.8 270.7,104" fill="none" stroke="#2020a0" stroke-width="0.4" stroke-linejoin="round" stroke-linecap="round" stroke-opacity="0.3"/>
<polygon points="227.1,76.2 230.8,75.9 232.3,76.2 228.6,76.5" fill="#425ff5" fill-opacity="0.50"/>
<polygon points="228.6,76.5 232.3,76.2 233.8,76.4 230.1,76.7" fill="#4061f5" fill-opacity="0.50"/>
<polygon points="230.1,76.7 233.8,76.4 235.4,76.5 231.6,76.7" fill="#3f64f5" fill-opacity="0.51"/>
<polygon points="231.6,76.7 235.4,76.5 236.9,76.4 233.2,76.5" fill="#3d68f5" fill-opacity="0.51"/>
<polygon points="233.2,76.5 236.9,76.4 238.4,76.1 234.7,76.2" fill="#3a6df6" fill-opacity="0.51"/>
<polygon points="234.7,76.2 238.4,76.1 239.9,75.5 236.2,75.6" fill="#3773f6" fill-opacity="0.52"/>
<polygon points="236.2,75.6 239.9,75.5 241.5,74.7 237.8,74.7" fill="#337bf6" fill-opacity="0.53"/>
<polygon points="237.8,74.7 241.5,74.7 243,73.6 239.3,73.4" fill="#2f85f7" fill-opacity="0.53"/>
<polygon points="239.3,73.4 243,73.6 244.5,72.2 240.8,72" fill="#298ef1" fill-opacity="0.54"/>
<polygon points="240.8,72 244.5,72.2 246.1,70.7 242.3,70.3" fill="#2298e9" fill-opacity="0.55"/>
<polygon points="242.3,70.3 246.1,70.7 247.6,69.2 243.9,68.7" fill="#1ba2e2" fill-opacity="0.56"/>
<polygon points="243.9,68.7 247.6,69.2 249.1,68 245.4,67.4" fill="#15acda" fill-opacity="0.57"/>
<polygon points="245.4,67.4 249.1,68 250.6,67.6 246.9,67" fill="#13b2d4" fill-opacity="0.58"/>
<polygon points="246.9,67 250.6,67.6 252.2,68.2 248.5,67.6" fill="#15b3d0" fill-opacity="0.58"/>
<polygon points="248.5,67.6 252.2,68.2 253.7,69.9 250,69.4" fill="#13b2d4" fill-opacity="0.58"/>
<polygon points="250,69.4 253.7,69.9 255.2,72.8 251.5,72.4" fill="#16abdb" fill-opacity="0.57"/>
<polygon points="251.5,72.4 255.2,72.8 256.8,76.6 253,76.3" fill="#1e9ee5" fill-opacity="0.56"/>
<polygon points="253,76.3 256.8,76.6 258.3,80.8 254.6,80.6" fill="#288ff1" fill-opacity="0.54"/>
<polygon points="254.6,80.6 258.3,80.8 259.8,85.1 256.1,84.9" fill="#337cf6" fill-opacity="0.53"/>
<polygon points="256.1,84.9 259.8,85.1 261.4,89.1 257.6,88.9" fill="#3d69f5" fill-opacity="0.51"/>
<polygon points="257.6,88.9 261.4,89.1 262.9,92.6 259.2,92.4" fill="#4557f4" fill-opacity="0.50"/>
<polygon points="259.2,92.4 262.9,92.6 264.4,95.7 260.7,95.5" fill="#4649e5" fill-opacity="0.48"/>
<polygon points="260.7,95.5 264.4,95.7 265.9,98.3 262.2,98.2" fill="#433fd3" fill-opacity="0.47"/>
<polygon points="262.2,98.2 265.9,98.3 267.5,100.5 263.8,100.5" fill="#4136c4" fill-opacity="0.47"/>
<polygon points="263.8,100.5 267.5,100.5 269,102.4 265.3,102.4" fill="#4030b8" fill-opacity="0.46"/>
<polygon points="265.3,102.4 269,102.4 270.5,104 266.8,104" fill="#3f2aaf" fill-opacity="0.45"/>
<polyline points="245.5,70.5 246.7,69.3 247.9,68.2 249.2,67.6 250.4,67.5 251.6,68.1 252.8,69.5 254,71.6 255.3,74.3 256.5,77.5 257.7,80.9 258.9,84.3 260.1,87.6 261.3,90.6 262.6,93.3 263.8,95.7 265,97.8 266.2,99.7 267.4,101.3 268.7,102.8 269.9,104" fill="none" stroke="#2020a0" stroke-width="0.4" stroke-linejoin="round" stroke-linecap="round" stroke-opacity="0.3"/>
<polyline points="244.7,70.4 245.9,69.2 247.1,68.1 248.3,67.5 249.6,67.4 250.8,68 252,69.4 253.2,71.5 254.4,74.3 255.7,77.5 256.9,80.9 258.1,84.3 259.3,87.5 260.5,90.5 261.7,93.3 263,95.7 264.2,97.8 265.4,99.7 266.6,101.3 267.8,102.8 269.1,104" fill="none" stroke="#2020a0" stroke-width="0.4" stroke-linejoin="round" stroke-linecap="round" stroke-opacity="0.3"/>
<polyline points="243.8,70.3 245.1,69.1 246.3,68 247.5,67.3 248.7,67.2 249.9,67.9 251.2,69.2 252.4,71.4 253.6,74.2 254.8,77.4 256,80.8 257.2,84.2 258.5,87.5 259.7,90.5 260.9,93.2 262.1,95.6 263.3,97.8 264.6,99.7 265.8,101.3 267,102.8 268.2,104" fill="none" stroke="#2020a0" stroke-width="0.4" stroke-linejoin="round" stroke-linecap="round" stroke-opacity="0.3"/>
<polyline points="243,70.3 244.2,69 245.4,67.9 246.6,67.2 247.9,67.1 249.1,67.7 250.3,69.1 251.5,71.3 252.7,74.1 254,77.3 255.2,80.7 256.4,84.2 257.6,87.4 258.8,90.5 260,93.2 261.3,95.6 262.5,97.7 263.7,99.6 264.9,101.3 266.1,102.8 267.4,104" fill="none" stroke="#2020a0" stroke-width="0.4" stroke-linejoin="round" stroke-linecap="round" stroke-opacity="0.3"/>
<polygon points="223.3,76.5 227.1,76.2 228.6,76.5 224.9,76.7" fill="#425ef5" fill-opacity="0.50"/>
<polygon points="224.9,76.7 228.6,76.5 230.1,76.7 226.4,76.9" fill="#4160f5" fill-opacity="0.50"/>
<polygon points="226.4,76.9 230.1,76.7 231.6,76.7 227.9,76.9" fill="#3f63f5" fill-opacity="0.51"/>
<polygon points="227.9,76.9 231.6,76.7 233.2,76.5 229.4,76.7" fill="#3d67f5" fill-opacity="0.51"/>
<polygon points="229.4,76.7 233.2,76.5 234.7,76.2 231,76.3" fill="#3b6df6" fill-opacity="0.51"/>
<polygon points="231,76.3 234.7,76.2 236.2,75.6 232.5,75.6" fill="#3773f6" fill-opacity="0.52"/>
<polygon points="232.5,75.6 236.2,75.6 237.8,74.7 234,74.6" fill="#337cf6" fill-opacity="0.53"/>
<polygon points="234,74.6 237.8,74.7 239.3,73.4 235.6,73.3" fill="#2e86f7" fill-opacity="0.53"/>
<polygon points="235.6,73.3 239.3,73.4 240.8,72 237.1,71.7" fill="#2890f0" fill-opacity="0.54"/>
<polygon points="237.1,71.7 240.8,72 242.3,70.3 238.6,69.9" fill="#219ae8" fill-opacity="0.55"/>
<polygon points="238.6,69.9 242.3,70.3 243.9,68.7 240.2,68.2" fill="#1aa5e0" fill-opacity="0.57"/>
<polygon points="240.2,68.2 243.9,68.7 245.4,67.4 241.7,66.9" fill="#13afd8" fill-opacity="0.58"/>
<polygon points="241.7,66.9 245.4,67.4 246.9,67 243.2,66.4" fill="#16b4cf" fill-opacity="0.58"/>
<polygon points="243.2,66.4 246.9,67 248.5,67.6 244.7,67" fill="#18b5cb" fill-opacity="0.59"/>
<polygon points="244.7,67 248.5,67.6 250,69.4 246.3,68.9" fill="#16b4cf" fill-opacity="0.58"/>
<polygon points="246.3,68.9 250,69.4 251.5,72.4 247.8,72" fill="#14add9" fill-opacity="0.57"/>
<polygon points="247.8,72 251.5,72.4 253,76.3 249.3,75.9" fill="#1da1e3" fill-opacity="0.56"/>
<polygon points="249.3,75.9 253,76.3 254.6,80.6 250.9,80.2" fill="#2791ef" fill-opacity="0.55"/>
<polygon points="250.9,80.2 254.6,80.6 256.1,84.9 252.4,84.6" fill="#327ef6" fill-opacity="0.53"/>
<polygon points="252.4,84.6 256.1,84.9 257.6,88.9 253.9,88.6" fill="#3c6af5" fill-opacity="0.51"/>
<polygon points="253.9,88.6 257.6,88.9 259.2,92.4 255.4,92.3" fill="#4558f5" fill-opacity="0.50"/>
<polygon points="255.4,92.3 259.2,92.4 260.7,95.5 257,95.4" fill="#464be7" fill-opacity="0.49"/>
<polygon points="257,95.4 260.7,95.5 262.2,98.2 258.5,98.1" fill="#4340d4" fill-opacity="0.47"/>
<polygon points="258.5,98.1 262.2,98.2 263.8,100.5 260,100.4" fill="#4237c5" fill-opacity="0.47"/>
<polygon points="260,100.4 263.8,100.5 265.3,102.4 261.6,102.4" fill="#4030b9" fill-opacity="0.46"/>
<polygon points="261.6,102.4 265.3,102.4 266.8,104 263.1,104" fill="#3f2bb0" fill-opacity="0.45"/>
<polyline points="242.1,70.2 243.3,68.9 244.5,67.7 245.8,67.1 247,67 248.2,67.6 249.4,69 250.6,71.2 251.9,74 253.1,77.2 254.3,80.7 255.5,84.1 256.7,87.4 257.9,90.4 259.2,93.1 260.4,95.6 261.6,97.7 262.8,99.6 264,101.3 265.3,102.8 266.5,104" fill="none" stroke="#2020a0" stroke-width="0.4" stroke-linejoin="round" stroke-linecap="round" stroke-opacity="0.3"/>
<polyline points="241.2,70.1 242.4,68.7 243.6,67.6 244.9,66.9 246.1,66.8 247.3,67.5 248.5,68.9 249.7,71.1 250.9,73.9 252.2,77.1 253.4,80.6 254.6,84 255.8,87.3 257,90.4 258.3,93.1 259.5,95.5 260.7,97.7 261.9,99.6 263.1,101.3 264.4,102.7 265.6,104" fill="none" stroke="#2020a0" stroke-width="0.4" stroke-linejoin="round" stroke-linecap="round" stroke-opacity="0.3"/>
<polyline points="240.3,70 241.5,68.6 242.7,67.5 243.9,66.8 245.1,66.7 246.4,67.3 247.6,68.8 248.8,71 250,73.8 251.2,77.1 252.5,80.5 253.7,84 254.9,87.3 256.1,90.3 257.3,93.1 258.6,95.5 259.8,97.7 261,99.6 262.2,101.3 263.4,102.7 264.6,104" fill="none" stroke="#2020a0" stroke-width="0.4" stroke-linejoin="round" stroke-linecap="round" stroke-opacity="0.3"/>
<polyline points="239.3,69.9 240.5,68.5 241.8,67.3 243,66.6 244.2,66.5 245.4,67.2 246.6,68.6 247.9,70.8 249.1,73.7 250.3,77 251.5,80.4 252.7,83.9 253.9,87.2 255.2,90.3 256.4,93 257.6,95.5 258.8,97.6 260,99.6 261.3,101.3 262.5,102.7 263.7,104" fill="none" stroke="#2020a0" stroke-width="0.4" stroke-linejoin="round" stroke-linecap="round" stroke-opacity="0.3"/>
<polygon points="219.6,76.7 223.3,76.5 224.9,76.7 221.1,77" fill="#435df5" fill-opacity="0.50"/>
<polygon points="221.1,77 224.9,76.7 226.4,76.9 222.7,77.1" fill="#415ff5" fill-opacity="0.50"/>
<polygon points="222.7,77.1 226.4,76.9 227.9,76.9 224.2,77.1" fill="#4062f5" fill-opacity="0.51"/>
<polygon points="224.2,77.1 227.9,76.9 229.4,76.7 225.7,76.9" fill="#3d67f5" fill-opacity="0.51"/>
<polygon points="225.7,76.9 229.4,76.7 231,76.3 227.3,76.4" fill="#3b6cf6" fill-opacity="0.51"/>
<polygon points="227.3,76.4 231,76.3 232.5,75.6 228.8,75.7" fill="#3773f6" fill-opacity="0.52"/>
<polygon points="228.8,75.7 232.5,75.6 234,74.6 230.3,74.6" fill="#337cf6" fill-opacity="0.53"/>
<polygon points="230.3,74.6 234,74.6 235.6,73.3 231.8,73.1" fill="#2e87f7" fill-opacity="0.54"/>
<polygon points="231.8,73.1 235.6,73.3 237.1,71.7 233.4,71.4" fill="#2791ef" fill-opacity="0.55"/>
<polygon points="233.4,71.4 237.1,71.7 238.6,69.9 234.9,69.5" fill="#209ce7" fill-opacity="0.56"/>
<polygon points="234.9,69.5 238.6,69.9 240.2,68.2 236.4,67.7" fill="#18a7de" fill-opacity="0.57"/>
<polygon points="236.4,67.7 240.2,68.2 241.7,66.9 238,66.3" fill="#12b1d6" fill-opacity="0.58"/>
<polygon points="238,66.3 241.7,66.9 243.2,66.4 239.5,65.8" fill="#18b5cb" fill-opacity="0.59"/>
<polygon points="239.5,65.8 243.2,66.4 244.7,67 241,66.4" fill="#1bb7c7" fill-opacity="0.59"/>
<polygon points="241,66.4 244.7,67 246.3,68.9 242.6,68.4" fill="#18b5cb" fill-opacity="0.59"/>
<polygon points="242.6,68.4 246.3,68.9 247.8,72 244.1,71.5" fill="#12b0d7" fill-opacity="0.58"/>
<polygon points="244.1,71.5 247.8,72 249.3,75.9 245.6,75.5" fill="#1ba3e1" fill-opacity="0.56"/>
<polygon points="245.6,75.5 249.3,75.9 250.9,80.2 247.1,79.9" fill="#2693ee" fill-opacity="0.55"/>
<polygon points="247.1,79.9 250.9,80.2 252.4,84.6 248.7,84.3" fill="#3181f7" fill-opacity="0.53"/>
<polygon points="248.7,84.3 252.4,84.6 253.9,88.6 250.2,88.4" fill="#3b6cf6" fill-opacity="0.51"/>
<polygon points="250.2,88.4 253.9,88.6 255.4,92.3 251.7,92.1" fill="#445af5" fill-opacity="0.50"/>
<polygon points="251.7,92.1 255.4,92.3 257,95.4 253.3,95.3" fill="#464ce9" fill-opacity="0.49"/>
<polygon points="253.3,95.3 257,95.4 258.5,98.1 254.8,98" fill="#4441d6" fill-opacity="0.48"/>
<polygon points="254.8,98 258.5,98.1 260,100.4 256.3,100.3" fill="#4238c7" fill-opacity="0.47"/>
<polygon points="256.3,100.3 260,100.4 261.6,102.4 257.8,102.3" fill="#4031ba" fill-opacity="0.46"/>
<polygon points="257.8,102.3 261.6,102.4 263.1,104 259.4,104" fill="#3f2bb1" fill-opacity="0.45"/>
<polyline points="238.4,69.7 239.6,68.4 240.8,67.2 242,66.5 243.2,66.4 244.4,67 245.7,68.5 246.9,70.7 248.1,73.6 249.3,76.9 250.5,80.3 251.8,83.8 253,87.1 254.2,90.2 255.4,93 256.6,95.4 257.8,97.6 259.1,99.5 260.3,101.2 261.5,102.7 262.7,104" fill="none" stroke="#2020a0" stroke-width="0.4" stroke-linejoin="round" stroke-linecap="round" stroke-opacity="0.3"/>
<polyline points="237.3,69.6 238.6,68.2 239.8,67 241,66.3 242.2,66.2 243.4,66.9 244.7,68.3 245.9,70.6 247.1,73.5 248.3,76.8 249.5,80.3 250.8,83.7 252,87.1 253.2,90.1 254.4,92.9 255.6,95.4 256.8,97.6 258.1,99.5 259.3,101.2 260.5,102.7 261.7,104" fill="none" stroke="#2020a0" stroke-width="0.4" stroke-linejoin="round" stroke-linecap="round" stroke-opacity="0.3"/>
<polyline points="236.3,69.5 237.5,68.1 238.8,66.9 240,66.1 241.2,66 242.4,66.7 243.6,68.2 244.8,70.5 246.1,73.3 247.3,76.7 248.5,80.2 249.7,83.7 250.9,87 252.2,90.1 253.4,92.9 254.6,95.4 255.8,97.6 257,99.5 258.2,101.2 259.5,102.7 260.7,104" fill="none" stroke="#2020a0" stroke-width="0.4" stroke-linejoin="round" stroke-linecap="round" stroke-opacity="0.3"/>
<polyline points="235.3,69.4 236.5,67.9 237.7,66.7 238.9,66 240.1,65.9 241.4,66.5 242.6,68 243.8,70.3 245,73.2 246.2,76.5 247.4,80.1 248.7,83.6 249.9,86.9 251.1,90 252.3,92.8 253.5,95.3 254.8,97.5 256,99.5 257.2,101.2 258.4,102.7 259.6,104" fill="none" stroke="#2020a0" stroke-width="0.4" stroke-linejoin="round" stroke-linecap="round" stroke-opacity="0.3"/>
<polygon points="215.9,76.9 219.6,76.7 221.1,77 217.4,77.1" fill="#435cf5" fill-opacity="0.50"/>
<polygon points="217.4,77.1 221.1,77 222.7,77.1 219,77.3" fill="#425ef5" fill-opacity="0.50"/>
<polygon points="219,77.3 222.7,77.1 224.2,77.1 220.5,77.2" fill="#4062f5" fill-opacity="0.51"/>
<polygon points="220.5,77.2 224.2,77.1 225.7,76.9 222,76.9" fill="#3e66f5" fill-opacity="0.51"/>
<polygon points="222,76.9 225.7,76.9 227.3,76.4 223.5,76.4" fill="#3b6cf6" fill-opacity="0.51"/>
<polygon points="223.5,76.4 227.3,76.4 228.8,75.7 225.1,75.6" fill="#3774f6" fill-opacity="0.52"/>
<polygon points="225.1,75.6 228.8,75.7 230.3,74.6 226.6,74.4" fill="#327df6" fill-opacity="0.53"/>
<polygon points="226.6,74.4 230.3,74.6 231.8,73.1 228.1,72.8" fill="#2d88f6" fill-opacity="0.54"/>
<polygon points="228.1,72.8 231.8,73.1 233.4,71.4 229.7,71" fill="#2693ee" fill-opacity="0.55"/>
<polygon points="229.7,71 233.4,71.4 234.9,69.5 231.2,69" fill="#1e9ee5" fill-opacity="0.56"/>
<polygon points="231.2,69 234.9,69.5 236.4,67.7 232.7,67" fill="#16aadc" fill-opacity="0.57"/>
<polygon points="232.7,67 236.4,67.7 238,66.3 234.2,65.6" fill="#15b3d1" fill-opacity="0.58"/>
<polygon points="234.2,65.6 238,66.3 239.5,65.8 235.8,65" fill="#1bb7c6" fill-opacity="0.59"/>
<polygon points="235.8,65 239.5,65.8 241,66.4 237.3,65.7" fill="#1eb9c2" fill-opacity="0.59"/>
<polygon points="237.3,65.7 241,66.4 242.6,68.4 238.8,67.7" fill="#1bb7c6" fill-opacity="0.59"/>
<polygon points="238.8,67.7 242.6,68.4 244.1,71.5 240.4,70.9" fill="#13b2d3" fill-opacity="0.58"/>
<polygon points="240.4,70.9 244.1,71.5 245.6,75.5 241.9,75" fill="#19a6df" fill-opacity="0.57"/>
<polygon points="241.9,75 245.6,75.5 247.1,79.9 243.4,79.5" fill="#2495ec" fill-opacity="0.55"/>
<polygon points="243.4,79.5 247.1,79.9 248.7,84.3 244.9,83.9" fill="#2f83f7" fill-opacity="0.53"/>
<polygon points="244.9,83.9 248.7,84.3 250.2,88.4 246.5,88.1" fill="#3a6ef6" fill-opacity="0.52"/>
<polygon points="246.5,88.1 250.2,88.4 251.7,92.1 248,91.9" fill="#435cf5" fill-opacity="0.50"/>
<polygon points="248,91.9 251.7,92.1 253.3,95.3 249.5,95.1" fill="#464deb" fill-opacity="0.49"/>
<polygon points="249.5,95.1 253.3,95.3 254.8,98 251.1,97.9" fill="#4442d8" fill-opacity="0.48"/>
<polygon points="251.1,97.9 254.8,98 256.3,100.3 252.6,100.3" fill="#4239c8" fill-opacity="0.47"/>
<polygon points="252.6,100.3 256.3,100.3 257.8,102.3 254.1,102.3" fill="#4031bc" fill-opacity="0.46"/>
<polygon points="254.1,102.3 257.8,102.3 259.4,104 255.7,104" fill="#3f2cb2" fill-opacity="0.46"/>
<polyline points="234.2,69.3 235.4,67.8 236.6,66.6 237.8,65.8 239,65.7 240.3,66.4 241.5,67.9 242.7,70.2 243.9,73.1 245.1,76.4 246.4,80 247.6,83.5 248.8,86.9 250,90 251.2,92.8 252.4,95.3 253.7,97.5 254.9,99.5 256.1,101.2 257.3,102.7 258.5,104" fill="none" stroke="#2020a0" stroke-width="0.4" stroke-linejoin="round" stroke-linecap="round" stroke-opacity="0.3"/>
<polyline points="233,69.1 234.3,67.6 235.5,66.4 236.7,65.6 237.9,65.5 239.1,66.2 240.4,67.7 241.6,70 242.8,73 244,76.3 245.2,79.9 246.4,83.4 247.7,86.8 248.9,89.9 250.1,92.7 251.3,95.2 252.5,97.5 253.8,99.4 255,101.2 256.2,102.7 257.4,104" fill="none" stroke="#2020a0" stroke-width="0.4" stroke-linejoin="round" stroke-linecap="round" stroke-opacity="0.3"/>
<polyline points="216.6,86.3 217.1,86.4 217.7,86.5 218.2,86.5 218.8,86.6 219.3,86.6 219.9,86.6 220.4,86.5 221,86.5 221.5,86.3 222,86.2 222.6,86 223.1,85.8 223.7,85.5 224.2,85.2 224.8,84.8 225.3,84.4 225.8,83.9 226.4,83.3 226.9,82.7 227.5,82 228,81.3 228.6,80.5 229.1,79.7 229.7,78.8 230.2,77.9 230.7,77 231.3,76 231.8,75.1 232.4,74.2 232.9,73.3 233.5,72.5 234,71.8 234.6,71.2 235.1,70.8 235.6,70.5 236.2,70.3 236.7,70.3 237.3,70.5 237.8,70.9 238.4,71.3 238.9,71.9 239.5,72.7 240,73.5 240.5,74.4 241.1,75.4 241.6,76.5 242.2,77.7 242.7,78.8 243.3,80.1 243.8,81.3 244.4,82.6 244.9,83.8 245.4,85.1 246,86.3 246.5,87.5 247.1,88.7 247.6,89.9 248.2,91 248.7,92.1 249.3,93.1 249.8,94.1 250.3,95.1 250.9,96 251.4,96.9 252,97.8 252.5,98.6 253.1,99.4 253.6,100.1 254.2,100.9 254.7,101.5 255.2,102.2 255.8,102.8 256.3,103.4 256.9,104 257.4,104.5 258,105 258.5,105.5 259.1,106 259.6,106.4 260.1,106.8 260.7,107.2 261.2,107.6 261.8,108 262.3,108.3 262.9,108.7 263.4,109 264,109.3 264.5,109.6 265,109.9 265.6,110.2" fill="none" stroke="#0000ff" stroke-width="2.4" stroke-linejoin="round" stroke-linecap="round"/>
<polyline points="216.6,77.3 217.1,77.5 217.7,77.6 218.2,77.7 218.8,77.8 219.3,77.9 219.9,78 220.4,78 221,78 221.5,78 222,78 222.6,77.9 223.1,77.8 223.7,77.7 224.2,77.6 224.8,77.4 225.3,77.1 225.8,76.9 226.4,76.5 226.9,76.2 227.5,75.8 228,75.3 228.6,74.8 229.1,74.2 229.7,73.6 230.2,73 230.7,72.4 231.3,71.7 231.8,71 232.4,70.3 232.9,69.6 233.5,69 234,68.4 234.6,67.9 235.1,67.4 235.6,67.1 236.2,66.9 236.7,66.9 237.3,66.9 237.8,67.2 238.4,67.6 238.9,68.2 239.5,68.9 240,69.8 240.5,70.8 241.1,71.9 241.6,73.1 242.2,74.4 242.7,75.8 243.3,77.2 243.8,78.6 244.4,80.1 244.9,81.6 245.4,83.1 246,84.5 246.5,85.9 247.1,87.3 247.6,88.7 248.2,90 248.7,91.2 249.3,92.4 249.8,93.5 250.3,94.6 250.9,95.7 251.4,96.7 252,97.6 252.5,98.5 253.1,99.3 253.6,100.2 254.2,100.9 254.7,101.6 255.2,102.3 255.8,103 256.3,103.6 256.9,104.1 257.4,104.7 258,105.2 258.5,105.7 259.1,106.1 259.6,106.6 260.1,107 260.7,107.4 261.2,107.8 261.8,108.1 262.3,108.5 262.9,108.8 263.4,109.1 264,109.4 264.5,109.8 265,110 265.6,110.3" fill="none" stroke="#ff0000" stroke-width="2.4" stroke-linejoin="round" stroke-linecap="round"/>
<polyline points="231.9,69 233.1,67.5 234.3,66.2 235.5,65.4 236.8,65.3 238,66 239.2,67.5 240.4,69.8 241.6,72.8 242.8,76.2 244.1,79.7 245.3,83.3 246.5,86.7 247.7,89.8 248.9,92.7 250.2,95.2 251.4,97.4 252.6,99.4 253.8,101.1 255,102.7 256.2,104" fill="none" stroke="#2020a0" stroke-width="0.4" stroke-linejoin="round" stroke-linecap="round" stroke-opacity="0.3"/>
<polygon points="212.2,76.7 215.9,76.9 217.4,77.1 213.7,76.9" fill="#435cf5" fill-opacity="0.50"/>
<polygon points="213.7,76.9 217.4,77.1 219,77.3 215.2,77" fill="#415ff5" fill-opacity="0.50"/>
<polygon points="215.2,77 219,77.3 220.5,77.2 216.8,76.9" fill="#3f63f5" fill-opacity="0.51"/>
<polygon points="216.8,76.9 220.5,77.2 222,76.9 218.3,76.6" fill="#3d68f5" fill-opacity="0.51"/>
<polygon points="218.3,76.6 222,76.9 223.5,76.4 219.8,76" fill="#3a6ef6" fill-opacity="0.52"/>
<polygon points="219.8,76 223.5,76.4 225.1,75.6 221.4,75" fill="#3676f6" fill-opacity="0.52"/>
<polygon points="221.4,75 225.1,75.6 226.6,74.4 222.9,73.7" fill="#3180f7" fill-opacity="0.53"/>
<polygon points="222.9,73.7 226.6,74.4 228.1,72.8 224.4,72" fill="#2b8bf4" fill-opacity="0.54"/>
<polygon points="224.4,72 228.1,72.8 229.7,71 225.9,70" fill="#2496eb" fill-opacity="0.55"/>
<polygon points="225.9,70 229.7,71 231.2,69 227.5,67.9" fill="#1ca2e2" fill-opacity="0.56"/>
<polygon points="227.5,67.9 231.2,69 232.7,67 229,65.8" fill="#13afd8" fill-opacity="0.58"/>
<polygon points="229,65.8 232.7,67 234.2,65.6 230.5,64.2" fill="#19b6ca" fill-opacity="0.59"/>
<polygon points="230.5,64.2 234.2,65.6 235.8,65 232.1,63.6" fill="#20babe" fill-opacity="0.59"/>
<polygon points="232.1,63.6 235.8,65 237.3,65.7 233.6,64.3" fill="#22bbba" fill-opacity="0.60"/>
<polygon points="233.6,64.3 237.3,65.7 238.8,67.7 235.1,66.5" fill="#1fbabf" fill-opacity="0.59"/>
<polygon points="235.1,66.5 238.8,67.7 240.4,70.9 236.6,69.8" fill="#17b5cd" fill-opacity="0.58"/>
<polygon points="236.6,69.8 240.4,70.9 241.9,75 238.2,74.1" fill="#17a9dc" fill-opacity="0.57"/>
<polygon points="238.2,74.1 241.9,75 243.4,79.5 239.7,78.7" fill="#2298e9" fill-opacity="0.55"/>
<polygon points="239.7,78.7 243.4,79.5 244.9,83.9 241.2,83.4" fill="#2e86f7" fill-opacity="0.54"/>
<polygon points="241.2,83.4 244.9,83.9 246.5,88.1 242.8,87.7" fill="#3871f6" fill-opacity="0.52"/>
<polygon points="242.8,87.7 246.5,88.1 248,91.9 244.3,91.6" fill="#425ef5" fill-opacity="0.50"/>
<polygon points="244.3,91.6 248,91.9 249.5,95.1 245.8,94.9" fill="#474eed" fill-opacity="0.49"/>
<polygon points="245.8,94.9 249.5,95.1 251.1,97.9 247.3,97.8" fill="#4443da" fill-opacity="0.48"/>
<polygon points="247.3,97.8 251.1,97.9 252.6,100.3 248.9,100.2" fill="#423ac9" fill-opacity="0.47"/>
<polygon points="248.9,100.2 252.6,100.3 254.1,102.3 250.4,102.3" fill="#4032bd" fill-opacity="0.46"/>
<polygon points="250.4,102.3 254.1,102.3 255.7,104 251.9,104" fill="#3f2cb2" fill-opacity="0.46"/>
<polyline points="230.7,68.6 231.9,67.1 233.1,65.8 234.3,65 235.6,64.8 236.8,65.5 238,67.1 239.2,69.5 240.4,72.5 241.6,75.9 242.9,79.5 244.1,83.1 245.3,86.5 246.5,89.7 247.7,92.6 249,95.1 250.2,97.4 251.4,99.4 252.6,101.1 253.8,102.7 255,104" fill="none" stroke="#2020a0" stroke-width="0.4" stroke-linejoin="round" stroke-linecap="round" stroke-opacity="0.3"/>
<polygon points="208.5,76.5 212.2,76.7 213.7,76.9 210,76.7" fill="#425ef5" fill-opacity="0.50"/>
<polygon points="210,76.7 213.7,76.9 215.2,77 211.5,76.7" fill="#4061f5" fill-opacity="0.50"/>
<polygon points="211.5,76.7 215.2,77 216.8,76.9 213,76.6" fill="#3e65f5" fill-opacity="0.51"/>
<polygon points="213,76.6 216.8,76.9 218.3,76.6 214.6,76.2" fill="#3c6af5" fill-opacity="0.51"/>
<polygon points="214.6,76.2 218.3,76.6 219.8,76 216.1,75.5" fill="#3971f6" fill-opacity="0.52"/>
<polygon points="216.1,75.5 219.8,76 221.4,75 217.6,74.5" fill="#3479f6" fill-opacity="0.52"/>
<polygon points="217.6,74.5 221.4,75 222.9,73.7 219.2,73.1" fill="#2f83f7" fill-opacity="0.53"/>
<polygon points="219.2,73.1 222.9,73.7 224.4,72 220.7,71.2" fill="#298ef1" fill-opacity="0.54"/>
<polygon points="220.7,71.2 224.4,72 225.9,70 222.2,69.1" fill="#219ae8" fill-opacity="0.55"/>
<polygon points="222.2,69.1 225.9,70 227.5,67.9 223.7,66.7" fill="#18a7de" fill-opacity="0.57"/>
<polygon points="223.7,66.7 227.5,67.9 229,65.8 225.3,64.5" fill="#14b3d1" fill-opacity="0.58"/>
<polygon points="225.3,64.5 229,65.8 230.5,64.2 226.8,62.9" fill="#1fb9c0" fill-opacity="0.59"/>
<polygon points="226.8,62.9 230.5,64.2 232.1,63.6 228.3,62.2" fill="#26bdb4" fill-opacity="0.60"/>
<polygon points="228.3,62.2 232.1,63.6 233.6,64.3 229.9,63" fill="#28bfb0" fill-opacity="0.60"/>
<polygon points="229.9,63 233.6,64.3 235.1,66.5 231.4,65.2" fill="#25bdb5" fill-opacity="0.60"/>
<polygon points="231.4,65.2 235.1,66.5 236.6,69.8 232.9,68.8" fill="#1cb8c4" fill-opacity="0.59"/>
<polygon points="232.9,68.8 236.6,69.8 238.2,74.1 234.5,73.2" fill="#13aed8" fill-opacity="0.58"/>
<polygon points="234.5,73.2 238.2,74.1 239.7,78.7 236,78" fill="#1f9de6" fill-opacity="0.56"/>
<polygon points="236,78 239.7,78.7 241.2,83.4 237.5,82.9" fill="#2c8af5" fill-opacity="0.54"/>
<polygon points="237.5,82.9 241.2,83.4 242.8,87.7 239,87.3" fill="#3774f6" fill-opacity="0.52"/>
<polygon points="239,87.3 242.8,87.7 244.3,91.6 240.6,91.3" fill="#4160f5" fill-opacity="0.50"/>
<polygon points="240.6,91.3 244.3,91.6 245.8,94.9 242.1,94.7" fill="#4750f0" fill-opacity="0.49"/>
<polygon points="242.1,94.7 245.8,94.9 247.3,97.8 243.6,97.7" fill="#4444db" fill-opacity="0.48"/>
<polygon points="243.6,97.7 247.3,97.8 248.9,100.2 245.2,100.2" fill="#423acb" fill-opacity="0.47"/>
<polygon points="245.2,100.2 248.9,100.2 250.4,102.3 246.7,102.3" fill="#4133be" fill-opacity="0.46"/>
<polygon points="246.7,102.3 250.4,102.3 251.9,104 248.2,104" fill="#3f2db3" fill-opacity="0.46"/>
<polygon points="204.7,76.3 208.5,76.5 210,76.7 206.3,76.5" fill="#4160f5" fill-opacity="0.50"/>
<polygon points="206.3,76.5 210,76.7 211.5,76.7 207.8,76.5" fill="#3f63f5" fill-opacity="0.51"/>
<polygon points="207.8,76.5 211.5,76.7 213,76.6 209.3,76.3" fill="#3d67f5" fill-opacity="0.51"/>
<polygon points="209.3,76.3 213,76.6 214.6,76.2 210.9,75.8" fill="#3b6cf6" fill-opacity="0.51"/>
<polygon points="210.9,75.8 214.6,76.2 216.1,75.5 212.4,75.1" fill="#3773f6" fill-opacity="0.52"/>
<polygon points="212.4,75.1 216.1,75.5 217.6,74.5 213.9,74" fill="#337cf6" fill-opacity="0.53"/>
<polygon points="213.9,74 217.6,74.5 219.2,73.1 215.4,72.4" fill="#2d87f7" fill-opacity="0.54"/>
<polygon points="215.4,72.4 219.2,73.1 220.7,71.2 217,70.4" fill="#2692ee" fill-opacity="0.55"/>
<polygon points="217,70.4 220.7,71.2 222.2,69.1 218.5,68.1" fill="#1e9fe4" fill-opacity="0.56"/>
<polygon points="218.5,68.1 222.2,69.1 223.7,66.7 220,65.6" fill="#15acda" fill-opacity="0.57"/>
<polygon points="220,65.6 223.7,66.7 225.3,64.5 221.6,63.3" fill="#19b6c9" fill-opacity="0.59"/>
<polygon points="221.6,63.3 225.3,64.5 226.8,62.9 223.1,61.5" fill="#24bdb7" fill-opacity="0.60"/>
<polygon points="223.1,61.5 226.8,62.9 228.3,62.2 224.6,60.9" fill="#2cc1aa" fill-opacity="0.61"/>
<polygon points="224.6,60.9 228.3,62.2 229.9,63 226.1,61.7" fill="#2ec3a6" fill-opacity="0.61"/>
<polygon points="226.1,61.7 229.9,63 231.4,65.2 227.7,64" fill="#2bc0ac" fill-opacity="0.61"/>
<polygon points="227.7,64 231.4,65.2 232.9,68.8 229.2,67.7" fill="#21bbbc" fill-opacity="0.60"/>
<polygon points="229.2,67.7 232.9,68.8 234.5,73.2 230.7,72.3" fill="#13b2d3" fill-opacity="0.58"/>
<polygon points="230.7,72.3 234.5,73.2 236,78 232.3,77.4" fill="#1da0e3" fill-opacity="0.56"/>
<polygon points="232.3,77.4 236,78 237.5,82.9 233.8,82.4" fill="#2a8df2" fill-opacity="0.54"/>
<polygon points="233.8,82.4 237.5,82.9 239,87.3 235.3,87" fill="#3577f6" fill-opacity="0.52"/>
<polygon points="235.3,87 239,87.3 240.6,91.3 236.8,91.1" fill="#4063f5" fill-opacity="0.51"/>
<polygon points="236.8,91.1 240.6,91.3 242.1,94.7 238.4,94.6" fill="#4751f2" fill-opacity="0.49"/>
<polygon points="238.4,94.6 242.1,94.7 243.6,97.7 239.9,97.6" fill="#4545dd" fill-opacity="0.48"/>
<polygon points="239.9,97.6 243.6,97.7 245.2,100.2 241.4,100.1" fill="#423bcc" fill-opacity="0.47"/>
<polygon points="241.4,100.1 245.2,100.2 246.7,102.3 243,102.2" fill="#4133bf" fill-opacity="0.46"/>
<polygon points="243,102.2 246.7,102.3 248.2,104 244.5,104" fill="#3f2db4" fill-opacity="0.46"/>
<polygon points="201,76.1 204.7,76.3 206.3,76.5 202.5,76.2" fill="#4061f5" fill-opacity="0.51"/>
<polygon points="202.5,76.2 206.3,76.5 207.8,76.5 204.1,76.2" fill="#3e65f5" fill-opacity="0.51"/>
<polygon points="204.1,76.2 207.8,76.5 209.3,76.3 205.6,76" fill="#3c69f5" fill-opacity="0.51"/>
<polygon points="205.6,76 209.3,76.3 210.9,75.8 207.1,75.5" fill="#396ff6" fill-opacity="0.52"/>
<polygon points="207.1,75.5 210.9,75.8 212.4,75.1 208.7,74.6" fill="#3676f6" fill-opacity="0.52"/>
<polygon points="208.7,74.6 212.4,75.1 213.9,74 210.2,73.4" fill="#3180f7" fill-opacity="0.53"/>
<polygon points="210.2,73.4 213.9,74 215.4,72.4 211.7,71.7" fill="#2b8af4" fill-opacity="0.54"/>
<polygon points="211.7,71.7 215.4,72.4 217,70.4 213.3,69.6" fill="#2496eb" fill-opacity="0.55"/>
<polygon points="213.3,69.6 217,70.4 218.5,68.1 214.8,67.1" fill="#1ba3e1" fill-opacity="0.56"/>
<polygon points="214.8,67.1 218.5,68.1 220,65.6 216.3,64.5" fill="#12b1d6" fill-opacity="0.58"/>
<polygon points="216.3,64.5 220,65.6 221.6,63.3 217.8,62" fill="#1fb9c0" fill-opacity="0.59"/>
<polygon points="217.8,62 221.6,63.3 223.1,61.5 219.4,60.1" fill="#2ac0ad" fill-opacity="0.61"/>
<polygon points="219.4,60.1 223.1,61.5 224.6,60.9 220.9,59.5" fill="#32c5a0" fill-opacity="0.61"/>
<polygon points="220.9,59.5 224.6,60.9 226.1,61.7 222.4,60.3" fill="#34c69c" fill-opacity="0.62"/>
<polygon points="222.4,60.3 226.1,61.7 227.7,64 224,62.8" fill="#30c4a3" fill-opacity="0.61"/>
<polygon points="224,62.8 227.7,64 229.2,67.7 225.5,66.7" fill="#26beb3" fill-opacity="0.60"/>
<polygon points="225.5,66.7 229.2,67.7 230.7,72.3 227,71.5" fill="#18b5cc" fill-opacity="0.58"/>
<polygon points="227,71.5 230.7,72.3 232.3,77.4 228.5,76.7" fill="#1aa4e0" fill-opacity="0.57"/>
<polygon points="228.5,76.7 232.3,77.4 233.8,82.4 230.1,81.9" fill="#2890f0" fill-opacity="0.54"/>
<polygon points="230.1,81.9 233.8,82.4 235.3,87 231.6,86.6" fill="#347af6" fill-opacity="0.53"/>
<polygon points="231.6,86.6 235.3,87 236.8,91.1 233.1,90.8" fill="#3e65f5" fill-opacity="0.51"/>
<polygon points="233.1,90.8 236.8,91.1 238.4,94.6 234.7,94.4" fill="#4853f4" fill-opacity="0.49"/>
<polygon points="234.7,94.4 238.4,94.6 239.9,97.6 236.2,97.5" fill="#4546df" fill-opacity="0.48"/>
<polygon points="236.2,97.5 239.9,97.6 241.4,100.1 237.7,100.1" fill="#433ccd" fill-opacity="0.47"/>
<polygon points="237.7,100.1 241.4,100.1 243,102.2 239.2,102.2" fill="#4134bf" fill-opacity="0.46"/>
<polygon points="239.2,102.2 243,102.2 244.5,104 240.8,104.1" fill="#3f2db5" fill-opacity="0.46"/>
<polygon points="197.3,75.9 201,76.1 202.5,76.2 198.8,76" fill="#3f63f5" fill-opacity="0.51"/>
<polygon points="198.8,76 202.5,76.2 204.1,76.2 200.4,75.9" fill="#3e67f5" fill-opacity="0.51"/>
<polygon points="200.4,75.9 204.1,76.2 205.6,76 201.9,75.7" fill="#3b6bf6" fill-opacity="0.51"/>
<polygon points="201.9,75.7 205.6,76 207.1,75.5 203.4,75.1" fill="#3871f6" fill-opacity="0.52"/>
<polygon points="203.4,75.1 207.1,75.5 208.7,74.6 204.9,74.2" fill="#3479f6" fill-opacity="0.52"/>
<polygon points="204.9,74.2 208.7,74.6 210.2,73.4 206.5,72.8" fill="#2f83f7" fill-opacity="0.53"/>
<polygon points="206.5,72.8 210.2,73.4 211.7,71.7 208,71" fill="#298ef2" fill-opacity="0.54"/>
<polygon points="208,71 211.7,71.7 213.3,69.6 209.5,68.8" fill="#219ae8" fill-opacity="0.55"/>
<polygon points="209.5,68.8 213.3,69.6 214.8,67.1 211.1,66.1" fill="#18a8dd" fill-opacity="0.57"/>
<polygon points="211.1,66.1 214.8,67.1 216.3,64.5 212.6,63.3" fill="#17b4ce" fill-opacity="0.58"/>
<polygon points="212.6,63.3 216.3,64.5 217.8,62 214.1,60.7" fill="#24bcb7" fill-opacity="0.60"/>
<polygon points="214.1,60.7 217.8,62 219.4,60.1 215.6,58.8" fill="#30c4a3" fill-opacity="0.61"/>
<polygon points="215.6,58.8 219.4,60.1 220.9,59.5 217.2,58.1" fill="#39c896" fill-opacity="0.62"/>
<polygon points="217.2,58.1 220.9,59.5 222.4,60.3 218.7,59" fill="#40c890" fill-opacity="0.62"/>
<polygon points="218.7,59 222.4,60.3 224,62.8 220.2,61.6" fill="#36c799" fill-opacity="0.62"/>
<polygon points="220.2,61.6 224,62.8 225.5,66.7 221.8,65.6" fill="#2bc1ab" fill-opacity="0.61"/>
<polygon points="221.8,65.6 225.5,66.7 227,71.5 223.3,70.6" fill="#1cb7c5" fill-opacity="0.59"/>
<polygon points="223.3,70.6 227,71.5 228.5,76.7 224.8,76.1" fill="#18a8dd" fill-opacity="0.57"/>
<polygon points="224.8,76.1 228.5,76.7 230.1,81.9 226.4,81.4" fill="#2693ed" fill-opacity="0.55"/>
<polygon points="226.4,81.4 230.1,81.9 231.6,86.6 227.9,86.3" fill="#327df6" fill-opacity="0.53"/>
<polygon points="227.9,86.3 231.6,86.6 233.1,90.8 229.4,90.6" fill="#3d67f5" fill-opacity="0.51"/>
<polygon points="229.4,90.6 233.1,90.8 234.7,94.4 230.9,94.3" fill="#4754f4" fill-opacity="0.49"/>
<polygon points="230.9,94.3 234.7,94.4 236.2,97.5 232.5,97.4" fill="#4547e1" fill-opacity="0.48"/>
<polygon points="232.5,97.4 236.2,97.5 237.7,100.1 234,100" fill="#433dcf" fill-opacity="0.47"/>
<polygon points="234,100 237.7,100.1 239.2,102.2 235.5,102.2" fill="#4134c0" fill-opacity="0.46"/>
<polygon points="235.5,102.2 239.2,102.2 240.8,104.1 237.1,104.1" fill="#3f2eb5" fill-opacity="0.46"/>
<polygon points="193.6,75.7 197.3,75.9 198.8,76 195.1,75.8" fill="#3e65f5" fill-opacity="0.51"/>
<polygon points="195.1,75.8 198.8,76 200.4,75.9 196.6,75.7" fill="#3d69f5" fill-opacity="0.51"/>
<polygon points="196.6,75.7 200.4,75.9 201.9,75.7 198.2,75.3" fill="#3a6df6" fill-opacity="0.51"/>
<polygon points="198.2,75.3 201.9,75.7 203.4,75.1 199.7,74.7" fill="#3774f6" fill-opacity="0.52"/>
<polygon points="199.7,74.7 203.4,75.1 204.9,74.2 201.2,73.7" fill="#337cf6" fill-opacity="0.53"/>
<polygon points="201.2,73.7 204.9,74.2 206.5,72.8 202.8,72.2" fill="#2e86f7" fill-opacity="0.54"/>
<polygon points="202.8,72.2 206.5,72.8 208,71 204.3,70.3" fill="#2791ef" fill-opacity="0.55"/>
<polygon points="204.3,70.3 208,71 209.5,68.8 205.8,67.9" fill="#1e9ee5" fill-opacity="0.56"/>
<polygon points="205.8,67.9 209.5,68.8 211.1,66.1 207.3,65.1" fill="#15acda" fill-opacity="0.57"/>
<polygon points="207.3,65.1 211.1,66.1 212.6,63.3 208.9,62.2" fill="#1bb7c6" fill-opacity="0.59"/>
<polygon points="208.9,62.2 212.6,63.3 214.1,60.7 210.4,59.4" fill="#29c0ae" fill-opacity="0.61"/>
<polygon points="210.4,59.4 214.1,60.7 215.6,58.8 211.9,57.4" fill="#36c79a" fill-opacity="0.62"/>
<polygon points="211.9,57.4 215.6,58.8 217.2,58.1 213.5,56.7" fill="#4bc887" fill-opacity="0.63"/>
<polygon points="213.5,56.7 217.2,58.1 218.7,59 215,57.6" fill="#52c881" fill-opacity="0.63"/>
<polygon points="215,57.6 218.7,59 220.2,61.6 216.5,60.4" fill="#44c88d" fill-opacity="0.63"/>
<polygon points="216.5,60.4 220.2,61.6 221.8,65.6 218,64.6" fill="#30c4a3" fill-opacity="0.61"/>
<polygon points="218,64.6 221.8,65.6 223.3,70.6 219.6,69.8" fill="#20babe" fill-opacity="0.59"/>
<polygon points="219.6,69.8 223.3,70.6 224.8,76.1 221.1,75.4" fill="#15acda" fill-opacity="0.57"/>
<polygon points="221.1,75.4 224.8,76.1 226.4,81.4 222.6,80.9" fill="#2496eb" fill-opacity="0.55"/>
<polygon points="222.6,80.9 226.4,81.4 227.9,86.3 224.2,85.9" fill="#3180f7" fill-opacity="0.53"/>
<polygon points="224.2,85.9 227.9,86.3 229.4,90.6 225.7,90.3" fill="#3c69f5" fill-opacity="0.51"/>
<polygon points="225.7,90.3 229.4,90.6 230.9,94.3 227.2,94.1" fill="#4656f4" fill-opacity="0.50"/>
<polygon points="227.2,94.1 230.9,94.3 232.5,97.4 228.8,97.3" fill="#4548e2" fill-opacity="0.48"/>
<polygon points="228.8,97.3 232.5,97.4 234,100 230.3,100" fill="#433dd0" fill-opacity="0.47"/>
<polygon points="230.3,100 234,100 235.5,102.2 231.8,102.2" fill="#4135c1" fill-opacity="0.46"/>
<polygon points="231.8,102.2 235.5,102.2 237.1,104.1 233.3,104.1" fill="#402eb6" fill-opacity="0.46"/>
<polygon points="189.9,75.5 193.6,75.7 195.1,75.8 191.4,75.5" fill="#3e67f5" fill-opacity="0.51"/>
<polygon points="191.4,75.5 195.1,75.8 196.6,75.7 192.9,75.4" fill="#3c6af5" fill-opacity="0.51"/>
<polygon points="192.9,75.4 196.6,75.7 198.2,75.3 194.4,75" fill="#3970f6" fill-opacity="0.52"/>
<polygon points="194.4,75 198.2,75.3 199.7,74.7 196,74.4" fill="#3676f6" fill-opacity="0.52"/>
<polygon points="196,74.4 199.7,74.7 201.2,73.7 197.5,73.3" fill="#327ff6" fill-opacity="0.53"/>
<polygon points="197.5,73.3 201.2,73.7 202.8,72.2 199,71.8" fill="#2c89f5" fill-opacity="0.54"/>
<polygon points="199,71.8 202.8,72.2 204.3,70.3 200.6,69.7" fill="#2594ed" fill-opacity="0.55"/>
<polygon points="200.6,69.7 204.3,70.3 205.8,67.9 202.1,67.2" fill="#1ca1e2" fill-opacity="0.56"/>
<polygon points="202.1,67.2 205.8,67.9 207.3,65.1 203.6,64.3" fill="#12b0d7" fill-opacity="0.58"/>
<polygon points="203.6,64.3 207.3,65.1 208.9,62.2 205.2,61.2" fill="#20babe" fill-opacity="0.59"/>
<polygon points="205.2,61.2 208.9,62.2 210.4,59.4 206.7,58.3" fill="#2ec3a6" fill-opacity="0.61"/>
<polygon points="206.7,58.3 210.4,59.4 211.9,57.4 208.2,56.3" fill="#42c88e" fill-opacity="0.63"/>
<polygon points="208.2,56.3 211.9,57.4 213.5,56.7 209.7,55.5" fill="#5cc879" fill-opacity="0.63"/>
<polygon points="209.7,55.5 213.5,56.7 215,57.6 211.3,56.6" fill="#63c874" fill-opacity="0.64"/>
<polygon points="211.3,56.6 215,57.6 216.5,60.4 212.8,59.4" fill="#53c880" fill-opacity="0.63"/>
<polygon points="212.8,59.4 216.5,60.4 218,64.6 214.3,63.8" fill="#34c69c" fill-opacity="0.62"/>
<polygon points="214.3,63.8 218,64.6 219.6,69.8 215.9,69.2" fill="#24bcb8" fill-opacity="0.60"/>
<polygon points="215.9,69.2 219.6,69.8 221.1,75.4 217.4,74.9" fill="#13afd8" fill-opacity="0.58"/>
<polygon points="217.4,74.9 221.1,75.4 222.6,80.9 218.9,80.6" fill="#2299e9" fill-opacity="0.55"/>
<polygon points="218.9,80.6 222.6,80.9 224.2,85.9 220.4,85.7" fill="#3082f7" fill-opacity="0.53"/>
<polygon points="220.4,85.7 224.2,85.9 225.7,90.3 222,90.2" fill="#3b6bf5" fill-opacity="0.51"/>
<polygon points="222,90.2 225.7,90.3 227.2,94.1 223.5,94" fill="#4557f5" fill-opacity="0.50"/>
<polygon points="223.5,94 227.2,94.1 228.8,97.3 225,97.3" fill="#4549e4" fill-opacity="0.48"/>
<polygon points="225,97.3 228.8,97.3 230.3,100 226.6,100" fill="#433ed1" fill-opacity="0.47"/>
<polygon points="226.6,100 230.3,100 231.8,102.2 228.1,102.2" fill="#4135c2" fill-opacity="0.46"/>
<polygon points="228.1,102.2 231.8,102.2 233.3,104.1 229.6,104.1" fill="#402eb6" fill-opacity="0.46"/>
<polyline points="191.5,86.4 192,86.4 192.6,86.4 193.1,86.4 193.7,86.3 194.2,86.2 194.8,86.1 195.3,85.9 195.9,85.7 196.4,85.5 196.9,85.2 197.5,84.8 198,84.4 198.6,83.9 199.1,83.3 199.7,82.7 200.2,82 200.8,81.2 201.3,80.4 201.8,79.4 202.4,78.4 202.9,77.4 203.5,76.2 204,75 204.6,73.8 205.1,72.5 205.7,71.2 206.2,69.9 206.7,68.7 207.3,67.5 207.8,66.4 208.4,65.4 208.9,64.6 209.5,63.9 210,63.4 210.6,63.2 211.1,63.1 211.6,63.3 212.2,63.7 212.7,64.2 213.3,65 213.8,65.9 214.4,66.9 214.9,68.1 215.5,69.4 216,70.9 216.5,72.3 217.1,73.9 217.6,75.5 218.2,77.1 218.7,78.7 219.3,80.3 219.8,81.9 220.4,83.4 220.9,85 221.4,86.4 222,87.8 222.5,89.2 223.1,90.5 223.6,91.7 224.2,92.9 224.7,94.1 225.3,95.1 225.8,96.2 226.3,97.1 226.9,98.1 227.4,98.9 228,99.8 228.5,100.6 229.1,101.3 229.6,102.1 230.2,102.7 230.7,103.4 231.2,104 231.8,104.6 232.3,105.1 232.9,105.6 233.4,106.1 234,106.6 234.5,107 235.1,107.4 235.6,107.8 236.1,108.2 236.7,108.6 237.2,108.9 237.8,109.3 238.3,109.6 238.9,109.9 239.4,110.2 240,110.5 240.5,110.8" fill="none" stroke="#0000ff" stroke-width="2.4" stroke-linejoin="round" stroke-linecap="round"/>
<polyline points="191.5,76 192,76.1 192.6,76.2 193.1,76.2 193.7,76.3 194.2,76.3 194.8,76.2 195.3,76.2 195.9,76.1 196.4,76 196.9,75.8 197.5,75.6 198,75.4 198.6,75.1 199.1,74.7 199.7,74.3 200.2,73.9 200.8,73.3 201.3,72.7 201.8,72.1 202.4,71.4 202.9,70.6 203.5,69.7 204,68.8 204.6,67.9 205.1,66.9 205.7,65.8 206.2,64.8 206.7,63.7 207.3,62.7 207.8,61.7 208.4,60.7 208.9,59.9 209.5,59.1 210,58.5 210.6,58.1 211.1,57.8 211.6,57.8 212.2,58 212.7,58.4 213.3,59 213.8,59.8 214.4,60.9 214.9,62.1 215.5,63.6 216,65.2 216.5,66.9 217.1,68.7 217.6,70.6 218.2,72.6 218.7,74.5 219.3,76.5 219.8,78.5 220.4,80.4 220.9,82.2 221.4,84 222,85.7 222.5,87.4 223.1,89 223.6,90.4 224.2,91.9 224.7,93.2 225.3,94.4 225.8,95.6 226.3,96.7 226.9,97.8 227.4,98.7 228,99.7 228.5,100.5 229.1,101.3 229.6,102.1 230.2,102.8 230.7,103.5 231.2,104.1 231.8,104.7 232.3,105.3 232.9,105.8 233.4,106.3 234,106.7 234.5,107.2 235.1,107.6 235.6,108 236.1,108.4 236.7,108.7 237.2,109.1 237.8,109.4 238.3,109.7 238.9,110 239.4,110.4 240,110.6 240.5,110.9" fill="none" stroke="#ff0000" stroke-width="2.4" stroke-linejoin="round" stroke-linecap="round"/>
<polygon points="186.1,75.3 189.9,75.5 191.4,75.5 187.7,75.3" fill="#3d68f5" fill-opacity="0.51"/>
<polygon points="187.7,75.3 191.4,75.5 192.9,75.4 189.2,75.2" fill="#3b6cf6" fill-opacity="0.51"/>
<polygon points="189.2,75.2 192.9,75.4 194.4,75 190.7,74.8" fill="#3871f6" fill-opacity="0.52"/>
<polygon points="190.7,74.8 194.4,75 196,74.4 192.3,74.1" fill="#3578f6" fill-opacity="0.52"/>
<polygon points="192.3,74.1 196,74.4 197.5,73.3 193.8,73" fill="#3081f7" fill-opacity="0.53"/>
<polygon points="193.8,73 197.5,73.3 199,71.8 195.3,71.4" fill="#2b8bf3" fill-opacity="0.54"/>
<polygon points="195.3,71.4 199,71.8 200.6,69.7 196.8,69.3" fill="#2397eb" fill-opacity="0.55"/>
<polygon points="196.8,69.3 200.6,69.7 202.1,67.2 198.4,66.7" fill="#1aa4e0" fill-opacity="0.56"/>
<polygon points="198.4,66.7 202.1,67.2 203.6,64.3 199.9,63.7" fill="#14b3d2" fill-opacity="0.58"/>
<polygon points="199.9,63.7 203.6,64.3 205.2,61.2 201.4,60.6" fill="#23bcb9" fill-opacity="0.60"/>
<polygon points="201.4,60.6 205.2,61.2 206.7,58.3 203,57.6" fill="#32c5a0" fill-opacity="0.61"/>
<polygon points="203,57.6 206.7,58.3 208.2,56.3 204.5,55.5" fill="#4fc884" fill-opacity="0.63"/>
<polygon points="204.5,55.5 208.2,56.3 209.7,55.5 206,54.8" fill="#69c76f" fill-opacity="0.64"/>
<polygon points="206,54.8 209.7,55.5 211.3,56.6 207.6,55.8" fill="#6fc769" fill-opacity="0.64"/>
<polygon points="207.6,55.8 211.3,56.6 212.8,59.4 209.1,58.7" fill="#5fc877" fill-opacity="0.64"/>
<polygon points="209.1,58.7 212.8,59.4 214.3,63.8 210.6,63.2" fill="#39c895" fill-opacity="0.62"/>
<polygon points="210.6,63.2 214.3,63.8 215.9,69.2 212.1,68.7" fill="#26beb3" fill-opacity="0.60"/>
<polygon points="212.1,68.7 215.9,69.2 217.4,74.9 213.7,74.6" fill="#12b2d5" fill-opacity="0.58"/>
<polygon points="213.7,74.6 217.4,74.9 218.9,80.6 215.2,80.3" fill="#219be8" fill-opacity="0.56"/>
<polygon points="215.2,80.3 218.9,80.6 220.4,85.7 216.7,85.6" fill="#2f84f7" fill-opacity="0.53"/>
<polygon points="216.7,85.6 220.4,85.7 222,90.2 218.3,90.2" fill="#3b6cf6" fill-opacity="0.51"/>
<polygon points="218.3,90.2 222,90.2 223.5,94 219.8,94" fill="#4558f5" fill-opacity="0.50"/>
<polygon points="219.8,94 223.5,94 225,97.3 221.3,97.3" fill="#4649e4" fill-opacity="0.48"/>
<polygon points="221.3,97.3 225,97.3 226.6,100 222.8,100" fill="#433ed1" fill-opacity="0.47"/>
<polygon points="222.8,100 226.6,100 228.1,102.2 224.4,102.3" fill="#4135c2" fill-opacity="0.46"/>
<polygon points="224.4,102.3 228.1,102.2 229.6,104.1 225.9,104.2" fill="#402fb7" fill-opacity="0.46"/>
<polygon points="182.4,75.1 186.1,75.3 187.7,75.3 184,75.1" fill="#3c6af5" fill-opacity="0.51"/>
<polygon points="184,75.1 187.7,75.3 189.2,75.2 185.5,75" fill="#3a6ef6" fill-opacity="0.52"/>
<polygon points="185.5,75 189.2,75.2 190.7,74.8 187,74.6" fill="#3773f6" fill-opacity="0.52"/>
<polygon points="187,74.6 190.7,74.8 192.3,74.1 188.5,73.8" fill="#347af6" fill-opacity="0.53"/>
<polygon points="188.5,73.8 192.3,74.1 193.8,73 190.1,72.7" fill="#2f83f7" fill-opacity="0.53"/>
<polygon points="190.1,72.7 193.8,73 195.3,71.4 191.6,71" fill="#298df2" fill-opacity="0.54"/>
<polygon points="191.6,71 195.3,71.4 196.8,69.3 193.1,68.9" fill="#2299e9" fill-opacity="0.55"/>
<polygon points="193.1,68.9 196.8,69.3 198.4,66.7 194.7,66.3" fill="#19a7de" fill-opacity="0.57"/>
<polygon points="194.7,66.3 198.4,66.7 199.9,63.7 196.2,63.2" fill="#16b4ce" fill-opacity="0.58"/>
<polygon points="196.2,63.2 199.9,63.7 201.4,60.6 197.7,59.9" fill="#26bdb4" fill-opacity="0.60"/>
<polygon points="197.7,59.9 201.4,60.6 203,57.6 199.2,56.9" fill="#35c79b" fill-opacity="0.62"/>
<polygon points="199.2,56.9 203,57.6 204.5,55.5 200.8,54.7" fill="#59c87b" fill-opacity="0.63"/>
<polygon points="200.8,54.7 204.5,55.5 206,54.8 202.3,54" fill="#74c766" fill-opacity="0.64"/>
<polygon points="202.3,54 206,54.8 207.6,55.8 203.8,55" fill="#7ac761" fill-opacity="0.65"/>
<polygon points="203.8,55 207.6,55.8 209.1,58.7 205.4,58" fill="#69c76e" fill-opacity="0.64"/>
<polygon points="205.4,58 209.1,58.7 210.6,63.2 206.9,62.6" fill="#43c88e" fill-opacity="0.63"/>
<polygon points="206.9,62.6 210.6,63.2 212.1,68.7 208.4,68.2" fill="#29bfaf" fill-opacity="0.60"/>
<polygon points="208.4,68.2 212.1,68.7 213.7,74.6 209.9,74.3" fill="#14b3d2" fill-opacity="0.58"/>
<polygon points="209.9,74.3 213.7,74.6 215.2,80.3 211.5,80.1" fill="#1f9ce6" fill-opacity="0.56"/>
<polygon points="211.5,80.1 215.2,80.3 216.7,85.6 213,85.5" fill="#2e85f7" fill-opacity="0.53"/>
<polygon points="213,85.5 216.7,85.6 218.3,90.2 214.5,90.1" fill="#3a6df6" fill-opacity="0.51"/>
<polygon points="214.5,90.1 218.3,90.2 219.8,94 216.1,94" fill="#4558f5" fill-opacity="0.50"/>
<polygon points="216.1,94 219.8,94 221.3,97.3 217.6,97.3" fill="#4649e5" fill-opacity="0.48"/>
<polygon points="217.6,97.3 221.3,97.3 222.8,100 219.1,100.1" fill="#433ed2" fill-opacity="0.47"/>
<polygon points="219.1,100.1 222.8,100 224.4,102.3 220.7,102.4" fill="#4135c2" fill-opacity="0.46"/>
<polygon points="220.7,102.4 224.4,102.3 225.9,104.2 222.2,104.3" fill="#402fb7" fill-opacity="0.46"/>
<polygon points="178.7,74.9 182.4,75.1 184,75.1 180.2,75" fill="#3b6bf6" fill-opacity="0.51"/>
<polygon points="180.2,75 184,75.1 185.5,75 181.8,74.8" fill="#396ff6" fill-opacity="0.52"/>
<polygon points="181.8,74.8 185.5,75 187,74.6 183.3,74.3" fill="#3675f6" fill-opacity="0.52"/>
<polygon points="183.3,74.3 187,74.6 188.5,73.8 184.8,73.5" fill="#337cf6" fill-opacity="0.53"/>
<polygon points="184.8,73.5 188.5,73.8 190.1,72.7 186.4,72.4" fill="#2e85f7" fill-opacity="0.53"/>
<polygon points="186.4,72.4 190.1,72.7 191.6,71 187.9,70.7" fill="#288ff0" fill-opacity="0.54"/>
<polygon points="187.9,70.7 191.6,71 193.1,68.9 189.4,68.5" fill="#209be7" fill-opacity="0.56"/>
<polygon points="189.4,68.5 193.1,68.9 194.7,66.3 190.9,65.8" fill="#17a9dc" fill-opacity="0.57"/>
<polygon points="190.9,65.8 194.7,66.3 196.2,63.2 192.5,62.6" fill="#19b6ca" fill-opacity="0.59"/>
<polygon points="192.5,62.6 196.2,63.2 197.7,59.9 194,59.3" fill="#28bfb0" fill-opacity="0.60"/>
<polygon points="194,59.3 197.7,59.9 199.2,56.9 195.5,56.2" fill="#3ac895" fill-opacity="0.62"/>
<polygon points="195.5,56.2 199.2,56.9 200.8,54.7 197.1,54" fill="#63c873" fill-opacity="0.64"/>
<polygon points="197.1,54 200.8,54.7 202.3,54 198.6,53.2" fill="#7ec75d" fill-opacity="0.65"/>
<polygon points="198.6,53.2 202.3,54 203.8,55 200.1,54.3" fill="#85c758" fill-opacity="0.65"/>
<polygon points="200.1,54.3 203.8,55 205.4,58 201.6,57.3" fill="#74c766" fill-opacity="0.64"/>
<polygon points="201.6,57.3 205.4,58 206.9,62.6 203.2,62" fill="#4cc886" fill-opacity="0.63"/>
<polygon points="203.2,62 206.9,62.6 208.4,68.2 204.7,67.8" fill="#2bc1ab" fill-opacity="0.61"/>
<polygon points="204.7,67.8 208.4,68.2 209.9,74.3 206.2,73.9" fill="#16b4ce" fill-opacity="0.58"/>
<polygon points="206.2,73.9 209.9,74.3 211.5,80.1 207.8,79.9" fill="#1e9ee5" fill-opacity="0.56"/>
<polygon points="207.8,79.9 211.5,80.1 213,85.5 209.3,85.4" fill="#2e87f7" fill-opacity="0.54"/>
<polygon points="209.3,85.4 213,85.5 214.5,90.1 210.8,90.1" fill="#3a6ef6" fill-opacity="0.52"/>
<polygon points="210.8,90.1 214.5,90.1 216.1,94 212.3,94.1" fill="#4459f5" fill-opacity="0.50"/>
<polygon points="212.3,94.1 216.1,94 217.6,97.3 213.9,97.4" fill="#464ae5" fill-opacity="0.48"/>
<polygon points="213.9,97.4 217.6,97.3 219.1,100.1 215.4,100.2" fill="#433ed2" fill-opacity="0.47"/>
<polygon points="215.4,100.2 219.1,100.1 220.7,102.4 216.9,102.5" fill="#4135c3" fill-opacity="0.46"/>
<polygon points="216.9,102.5 220.7,102.4 222.2,104.3 218.5,104.4" fill="#402fb7" fill-opacity="0.46"/>
<polygon points="175,74.7 178.7,74.9 180.2,75 176.5,74.8" fill="#3a6df6" fill-opacity="0.51"/>
<polygon points="176.5,74.8 180.2,75 181.8,74.8 178,74.6" fill="#3871f6" fill-opacity="0.52"/>
<polygon points="178,74.6 181.8,74.8 183.3,74.3 179.6,74.1" fill="#3677f6" fill-opacity="0.52"/>
<polygon points="179.6,74.1 183.3,74.3 184.8,73.5 181.1,73.3" fill="#327ef6" fill-opacity="0.53"/>
<polygon points="181.1,73.3 184.8,73.5 186.4,72.4 182.6,72" fill="#2d87f7" fill-opacity="0.54"/>
<polygon points="182.6,72 186.4,72.4 187.9,70.7 184.2,70.3" fill="#2791ef" fill-opacity="0.55"/>
<polygon points="184.2,70.3 187.9,70.7 189.4,68.5 185.7,68.1" fill="#1f9de6" fill-opacity="0.56"/>
<polygon points="185.7,68.1 189.4,68.5 190.9,65.8 187.2,65.3" fill="#15abda" fill-opacity="0.57"/>
<polygon points="187.2,65.3 190.9,65.8 192.5,62.6 188.7,62.1" fill="#1bb7c6" fill-opacity="0.59"/>
<polygon points="188.7,62.1 192.5,62.6 194,59.3 190.3,58.7" fill="#2bc1ab" fill-opacity="0.61"/>
<polygon points="190.3,58.7 194,59.3 195.5,56.2 191.8,55.5" fill="#43c88d" fill-opacity="0.63"/>
<polygon points="191.8,55.5 195.5,56.2 197.1,54 193.3,53.2" fill="#6ec76b" fill-opacity="0.64"/>
<polygon points="193.3,53.2 197.1,54 198.6,53.2 194.9,52.4" fill="#89c755" fill-opacity="0.65"/>
<polygon points="194.9,52.4 198.6,53.2 200.1,54.3 196.4,53.5" fill="#90c74f" fill-opacity="0.65"/>
<polygon points="196.4,53.5 200.1,54.3 201.6,57.3 197.9,56.6" fill="#7ec75e" fill-opacity="0.65"/>
<polygon points="197.9,56.6 201.6,57.3 203.2,62 199.5,61.4" fill="#55c87f" fill-opacity="0.63"/>
<polygon points="199.5,61.4 203.2,62 204.7,67.8 201,67.3" fill="#2ec2a6" fill-opacity="0.61"/>
<polygon points="201,67.3 204.7,67.8 206.2,73.9 202.5,73.6" fill="#18b5cb" fill-opacity="0.59"/>
<polygon points="202.5,73.6 206.2,73.9 207.8,79.9 204,79.7" fill="#1d9fe4" fill-opacity="0.56"/>
<polygon points="204,79.7 207.8,79.9 209.3,85.4 205.6,85.2" fill="#2d88f6" fill-opacity="0.54"/>
<polygon points="205.6,85.2 209.3,85.4 210.8,90.1 207.1,90" fill="#396ff6" fill-opacity="0.52"/>
<polygon points="207.1,90 210.8,90.1 212.3,94.1 208.6,94.1" fill="#445af5" fill-opacity="0.50"/>
<polygon points="208.6,94.1 212.3,94.1 213.9,97.4 210.2,97.4" fill="#464ae6" fill-opacity="0.48"/>
<polygon points="210.2,97.4 213.9,97.4 215.4,100.2 211.7,100.2" fill="#433fd2" fill-opacity="0.47"/>
<polygon points="211.7,100.2 215.4,100.2 216.9,102.5 213.2,102.5" fill="#4136c3" fill-opacity="0.46"/>
<polygon points="213.2,102.5 216.9,102.5 218.5,104.4 214.7,104.5" fill="#402fb7" fill-opacity="0.46"/>
<polygon points="171.3,74.6 175,74.7 176.5,74.8 172.8,74.6" fill="#3a6ef6" fill-opacity="0.52"/>
<polygon points="172.8,74.6 176.5,74.8 178,74.6 174.3,74.3" fill="#3873f6" fill-opacity="0.52"/>
<polygon points="174.3,74.3 178,74.6 179.6,74.1 175.9,73.8" fill="#3578f6" fill-opacity="0.52"/>
<polygon points="175.9,73.8 179.6,74.1 181.1,73.3 177.4,73" fill="#3180f7" fill-opacity="0.53"/>
<polygon points="177.4,73 181.1,73.3 182.6,72 178.9,71.7" fill="#2c89f5" fill-opacity="0.54"/>
<polygon points="178.9,71.7 182.6,72 184.2,70.3 180.4,70" fill="#2693ee" fill-opacity="0.55"/>
<polygon points="180.4,70 184.2,70.3 185.7,68.1 182,67.7" fill="#1d9fe4" fill-opacity="0.56"/>
<polygon points="182,67.7 185.7,68.1 187.2,65.3 183.5,64.8" fill="#14aed9" fill-opacity="0.57"/>
<polygon points="183.5,64.8 187.2,65.3 188.7,62.1 185,61.5" fill="#1eb9c2" fill-opacity="0.59"/>
<polygon points="185,61.5 188.7,62.1 190.3,58.7 186.6,58" fill="#2ec2a6" fill-opacity="0.61"/>
<polygon points="186.6,58 190.3,58.7 191.8,55.5 188.1,54.8" fill="#4dc885" fill-opacity="0.63"/>
<polygon points="188.1,54.8 191.8,55.5 193.3,53.2 189.6,52.5" fill="#78c763" fill-opacity="0.64"/>
<polygon points="189.6,52.5 193.3,53.2 194.9,52.4 191.1,51.7" fill="#94c74c" fill-opacity="0.65"/>
<polygon points="191.1,51.7 194.9,52.4 196.4,53.5 192.7,52.8" fill="#9ac747" fill-opacity="0.66"/>
<polygon points="192.7,52.8 196.4,53.5 197.9,56.6 194.2,55.9" fill="#88c755" fill-opacity="0.65"/>
<polygon points="194.2,55.9 197.9,56.6 199.5,61.4 195.7,60.8" fill="#5ec877" fill-opacity="0.64"/>
<polygon points="195.7,60.8 199.5,61.4 201,67.3 197.3,66.8" fill="#30c4a2" fill-opacity="0.61"/>
<polygon points="197.3,66.8 201,67.3 202.5,73.6 198.8,73.3" fill="#1ab6c8" fill-opacity="0.59"/>
<polygon points="198.8,73.3 202.5,73.6 204,79.7 200.3,79.5" fill="#1ca1e3" fill-opacity="0.56"/>
<polygon points="200.3,79.5 204,79.7 205.6,85.2 201.9,85.1" fill="#2c89f5" fill-opacity="0.54"/>
<polygon points="201.9,85.1 205.6,85.2 207.1,90 203.4,90" fill="#3970f6" fill-opacity="0.52"/>
<polygon points="203.4,90 207.1,90 208.6,94.1 204.9,94.1" fill="#445af5" fill-opacity="0.50"/>
<polygon points="204.9,94.1 208.6,94.1 210.2,97.4 206.4,97.5" fill="#464ae6" fill-opacity="0.48"/>
<polygon points="206.4,97.5 210.2,97.4 211.7,100.2 208,100.3" fill="#433fd2" fill-opacity="0.47"/>
<polygon points="208,100.3 211.7,100.2 213.2,102.5 209.5,102.6" fill="#4136c3" fill-opacity="0.46"/>
<polygon points="209.5,102.6 213.2,102.5 214.7,104.5 211,104.5" fill="#402fb7" fill-opacity="0.46"/>
<polygon points="167.5,74.4 171.3,74.6 172.8,74.6 169.1,74.4" fill="#3970f6" fill-opacity="0.52"/>
<polygon points="169.1,74.4 172.8,74.6 174.3,74.3 170.6,74.1" fill="#3774f6" fill-opacity="0.52"/>
<polygon points="170.6,74.1 174.3,74.3 175.9,73.8 172.1,73.6" fill="#347af6" fill-opacity="0.53"/>
<polygon points="172.1,73.6 175.9,73.8 177.4,73 173.7,72.7" fill="#3082f7" fill-opacity="0.53"/>
<polygon points="173.7,72.7 177.4,73 178.9,71.7 175.2,71.4" fill="#2b8bf4" fill-opacity="0.54"/>
<polygon points="175.2,71.4 178.9,71.7 180.4,70 176.7,69.6" fill="#2495ec" fill-opacity="0.55"/>
<polygon points="176.7,69.6 180.4,70 182,67.7 178.3,67.2" fill="#1ca1e2" fill-opacity="0.56"/>
<polygon points="178.3,67.2 182,67.7 183.5,64.8 179.8,64.3" fill="#12b0d7" fill-opacity="0.58"/>
<polygon points="179.8,64.3 183.5,64.8 185,61.5 181.3,61" fill="#20babe" fill-opacity="0.59"/>
<polygon points="181.3,61 185,61.5 186.6,58 182.8,57.4" fill="#31c4a2" fill-opacity="0.61"/>
<polygon points="182.8,57.4 186.6,58 188.1,54.8 184.4,54.1" fill="#56c87e" fill-opacity="0.63"/>
<polygon points="184.4,54.1 188.1,54.8 189.6,52.5 185.9,51.7" fill="#82c75a" fill-opacity="0.65"/>
<polygon points="185.9,51.7 189.6,52.5 191.1,51.7 187.4,50.9" fill="#9fc743" fill-opacity="0.66"/>
<polygon points="187.4,50.9 191.1,51.7 192.7,52.8 189,52" fill="#a5c73e" fill-opacity="0.66"/>
<polygon points="189,52 192.7,52.8 194.2,55.9 190.5,55.2" fill="#92c74d" fill-opacity="0.65"/>
<polygon points="190.5,55.2 194.2,55.9 195.7,60.8 192,60.2" fill="#67c770" fill-opacity="0.64"/>
<polygon points="192,60.2 195.7,60.8 197.3,66.8 193.5,66.4" fill="#33c59e" fill-opacity="0.62"/>
<polygon points="193.5,66.4 197.3,66.8 198.8,73.3 195.1,73" fill="#1cb7c5" fill-opacity="0.59"/>
<polygon points="195.1,73 198.8,73.3 200.3,79.5 196.6,79.3" fill="#1ba2e1" fill-opacity="0.56"/>
<polygon points="196.6,79.3 200.3,79.5 201.9,85.1 198.1,85" fill="#2b8af4" fill-opacity="0.54"/>
<polygon points="198.1,85 201.9,85.1 203.4,90 199.7,90" fill="#3971f6" fill-opacity="0.52"/>
<polygon points="199.7,90 203.4,90 204.9,94.1 201.2,94.1" fill="#445bf5" fill-opacity="0.50"/>
<polygon points="201.2,94.1 204.9,94.1 206.4,97.5 202.7,97.5" fill="#464ae7" fill-opacity="0.49"/>
<polygon points="202.7,97.5 206.4,97.5 208,100.3 204.2,100.4" fill="#433fd3" fill-opacity="0.47"/>
<polygon points="204.2,100.4 208,100.3 209.5,102.6 205.8,102.7" fill="#4136c3" fill-opacity="0.46"/>
<polygon points="205.8,102.7 209.5,102.6 211,104.5 207.3,104.6" fill="#402fb7" fill-opacity="0.46"/>
<polygon points="163.8,74.1 167.5,74.4 169.1,74.4 165.4,74" fill="#3872f6" fill-opacity="0.52"/>
<polygon points="165.4,74 169.1,74.4 170.6,74.1 166.9,73.7" fill="#3676f6" fill-opacity="0.52"/>
<polygon points="166.9,73.7 170.6,74.1 172.1,73.6 168.4,73.2" fill="#337cf6" fill-opacity="0.53"/>
<polygon points="168.4,73.2 172.1,73.6 173.7,72.7 169.9,72.3" fill="#2f84f7" fill-opacity="0.53"/>
<polygon points="169.9,72.3 173.7,72.7 175.2,71.4 171.5,70.9" fill="#2a8df2" fill-opacity="0.54"/>
<polygon points="171.5,70.9 175.2,71.4 176.7,69.6 173,69.1" fill="#2397ea" fill-opacity="0.55"/>
<polygon points="173,69.1 176.7,69.6 178.3,67.2 174.5,66.6" fill="#1aa4e0" fill-opacity="0.56"/>
<polygon points="174.5,66.6 178.3,67.2 179.8,64.3 176.1,63.6" fill="#13b2d3" fill-opacity="0.58"/>
<polygon points="176.1,63.6 179.8,64.3 181.3,61 177.6,60.2" fill="#23bcb9" fill-opacity="0.60"/>
<polygon points="177.6,60.2 181.3,61 182.8,57.4 179.1,56.5" fill="#34c69c" fill-opacity="0.62"/>
<polygon points="179.1,56.5 182.8,57.4 184.4,54.1 180.7,53.2" fill="#61c875" fill-opacity="0.64"/>
<polygon points="180.7,53.2 184.4,54.1 185.9,51.7 182.2,50.8" fill="#8ec751" fill-opacity="0.65"/>
<polygon points="182.2,50.8 185.9,51.7 187.4,50.9 183.7,50" fill="#aac73a" fill-opacity="0.66"/>
<polygon points="183.7,50 187.4,50.9 189,52 185.2,51.1" fill="#afc739" fill-opacity="0.67"/>
<polygon points="185.2,51.1 189,52 190.5,55.2 186.8,54.5" fill="#9dc744" fill-opacity="0.66"/>
<polygon points="186.8,54.5 190.5,55.2 192,60.2 188.3,59.6" fill="#71c768" fill-opacity="0.64"/>
<polygon points="188.3,59.6 192,60.2 193.5,66.4 189.8,66" fill="#35c79a" fill-opacity="0.62"/>
<polygon points="189.8,66 193.5,66.4 195.1,73 191.4,72.7" fill="#1eb9c2" fill-opacity="0.59"/>
<polygon points="191.4,72.7 195.1,73 196.6,79.3 192.9,79.2" fill="#1aa4e0" fill-opacity="0.56"/>
<polygon points="192.9,79.2 196.6,79.3 198.1,85 194.4,85" fill="#2b8bf4" fill-opacity="0.54"/>
<polygon points="194.4,85 198.1,85 199.7,90 195.9,90" fill="#3871f6" fill-opacity="0.52"/>
<polygon points="195.9,90 199.7,90 201.2,94.1 197.5,94.1" fill="#435bf5" fill-opacity="0.50"/>
<polygon points="197.5,94.1 201.2,94.1 202.7,97.5 199,97.6" fill="#464be7" fill-opacity="0.49"/>
<polygon points="199,97.6 202.7,97.5 204.2,100.4 200.5,100.4" fill="#433fd3" fill-opacity="0.47"/>
<polygon points="200.5,100.4 204.2,100.4 205.8,102.7 202.1,102.8" fill="#4136c3" fill-opacity="0.46"/>
<polygon points="202.1,102.8 205.8,102.7 207.3,104.6 203.6,104.7" fill="#402fb7" fill-opacity="0.46"/>
<polyline points="166.4,86.6 167,86.6 167.5,86.6 168,86.5 168.6,86.4 169.1,86.3 169.7,86.1 170.2,85.8 170.8,85.5 171.3,85.2 171.9,84.8 172.4,84.3 172.9,83.8 173.5,83.2 174,82.5 174.6,81.7 175.1,80.9 175.7,79.9 176.2,78.9 176.8,77.7 177.3,76.5 177.8,75.2 178.4,73.8 178.9,72.4 179.5,70.9 180,69.4 180.6,67.8 181.1,66.3 181.7,64.8 182.2,63.4 182.7,62 183.3,60.8 183.8,59.8 184.4,59 184.9,58.4 185.5,58 186,57.9 186.6,58.1 187.1,58.5 187.6,59.1 188.2,60 188.7,61.1 189.3,62.3 189.8,63.7 190.4,65.3 190.9,67 191.5,68.8 192,70.6 192.5,72.5 193.1,74.4 193.6,76.3 194.2,78.1 194.7,80 195.3,81.8 195.8,83.5 196.4,85.2 196.9,86.8 197.4,88.3 198,89.8 198.5,91.2 199.1,92.5 199.6,93.8 200.2,95 200.7,96.1 201.3,97.1 201.8,98.1 202.3,99.1 202.9,100 203.4,100.8 204,101.6 204.5,102.4 205.1,103.1 205.6,103.8 206.2,104.4 206.7,105 207.2,105.6 207.8,106.1 208.3,106.6 208.9,107.1 209.4,107.5 210,108 210.5,108.4 211,108.8 211.6,109.1 212.1,109.5 212.7,109.8 213.2,110.2 213.8,110.5 214.3,110.8 214.9,111.1 215.4,111.4" fill="none" stroke="#0000ff" stroke-width="2.4" stroke-linejoin="round" stroke-linecap="round"/>
<polyline points="166.4,75 167,75 167.5,75.1 168,75.1 168.6,75.1 169.1,75.1 169.7,75 170.2,74.9 170.8,74.8 171.3,74.6 171.9,74.4 172.4,74.2 172.9,73.9 173.5,73.5 174,73.1 174.6,72.6 175.1,72 175.7,71.4 176.2,70.7 176.8,69.9 177.3,69.1 177.8,68.2 178.4,67.2 178.9,66.1 179.5,65 180,63.8 180.6,62.6 181.1,61.4 181.7,60.2 182.2,58.9 182.7,57.8 183.3,56.7 183.8,55.7 184.4,54.8 184.9,54.1 185.5,53.6 186,53.3 186.6,53.2 187.1,53.3 187.6,53.7 188.2,54.4 188.7,55.4 189.3,56.6 189.8,58 190.4,59.7 190.9,61.5 191.5,63.5 192,65.6 192.5,67.8 193.1,70.1 193.6,72.4 194.2,74.6 194.7,76.8 195.3,79 195.8,81.1 196.4,83.1 196.9,85.1 197.4,86.9 198,88.6 198.5,90.2 199.1,91.8 199.6,93.2 200.2,94.6 200.7,95.8 201.3,97 201.8,98.1 202.3,99.1 202.9,100.1 203.4,101 204,101.8 204.5,102.6 205.1,103.3 205.6,104 206.2,104.7 206.7,105.3 207.2,105.8 207.8,106.4 208.3,106.9 208.9,107.3 209.4,107.8 210,108.2 210.5,108.6 211,109 211.6,109.3 212.1,109.7 212.7,110 213.2,110.3 213.8,110.6 214.3,110.9 214.9,111.2 215.4,111.5" fill="none" stroke="#ff0000" stroke-width="2.4" stroke-linejoin="round" stroke-linecap="round"/>
<polygon points="160.1,73.6 163.8,74.1 165.4,74 161.6,73.6" fill="#3775f6" fill-opacity="0.52"/>
<polygon points="161.6,73.6 165.4,74 166.9,73.7 163.2,73.3" fill="#3479f6" fill-opacity="0.52"/>
<polygon points="163.2,73.3 166.9,73.7 168.4,73.2 164.7,72.7" fill="#317ff7" fill-opacity="0.53"/>
<polygon points="164.7,72.7 168.4,73.2 169.9,72.3 166.2,71.8" fill="#2d87f7" fill-opacity="0.54"/>
<polygon points="166.2,71.8 169.9,72.3 171.5,70.9 167.8,70.3" fill="#2890f0" fill-opacity="0.54"/>
<polygon points="167.8,70.3 171.5,70.9 173,69.1 169.3,68.4" fill="#219ae8" fill-opacity="0.55"/>
<polygon points="169.3,68.4 173,69.1 174.5,66.6 170.8,65.9" fill="#18a7de" fill-opacity="0.57"/>
<polygon points="170.8,65.9 174.5,66.6 176.1,63.6 172.3,62.8" fill="#17b4cd" fill-opacity="0.58"/>
<polygon points="172.3,62.8 176.1,63.6 177.6,60.2 173.9,59.3" fill="#27beb3" fill-opacity="0.60"/>
<polygon points="173.9,59.3 177.6,60.2 179.1,56.5 175.4,55.6" fill="#39c895" fill-opacity="0.62"/>
<polygon points="175.4,55.6 179.1,56.5 180.7,53.2 176.9,52.2" fill="#6ec76b" fill-opacity="0.64"/>
<polygon points="176.9,52.2 180.7,53.2 182.2,50.8 178.5,49.8" fill="#9bc746" fill-opacity="0.66"/>
<polygon points="178.5,49.8 182.2,50.8 183.7,50 180,49" fill="#b4c639" fill-opacity="0.67"/>
<polygon points="180,49 183.7,50 185.2,51.1 181.5,50.3" fill="#b8c639" fill-opacity="0.67"/>
<polygon points="181.5,50.3 185.2,51.1 186.8,54.5 183,53.7" fill="#a8c73b" fill-opacity="0.66"/>
<polygon points="183,53.7 186.8,54.5 188.3,59.6 184.6,59" fill="#7ac761" fill-opacity="0.65"/>
<polygon points="184.6,59 188.3,59.6 189.8,66 186.1,65.6" fill="#39c896" fill-opacity="0.62"/>
<polygon points="186.1,65.6 189.8,66 191.4,72.7 187.6,72.4" fill="#1fbabf" fill-opacity="0.59"/>
<polygon points="187.6,72.4 191.4,72.7 192.9,79.2 189.2,79" fill="#19a5df" fill-opacity="0.57"/>
<polygon points="189.2,79 192.9,79.2 194.4,85 190.7,84.9" fill="#2a8cf3" fill-opacity="0.54"/>
<polygon points="190.7,84.9 194.4,85 195.9,90 192.2,90" fill="#3872f6" fill-opacity="0.52"/>
<polygon points="192.2,90 195.9,90 197.5,94.1 193.8,94.2" fill="#435bf5" fill-opacity="0.50"/>
<polygon points="193.8,94.2 197.5,94.1 199,97.6 195.3,97.7" fill="#464be7" fill-opacity="0.49"/>
<polygon points="195.3,97.7 199,97.6 200.5,100.4 196.8,100.5" fill="#433fd3" fill-opacity="0.47"/>
<polygon points="196.8,100.5 200.5,100.4 202.1,102.8 198.3,102.9" fill="#4136c3" fill-opacity="0.46"/>
<polygon points="198.3,102.9 202.1,102.8 203.6,104.7 199.9,104.8" fill="#402fb7" fill-opacity="0.46"/>
<polygon points="156.4,73.2 160.1,73.6 161.6,73.6 157.9,73.2" fill="#3577f6" fill-opacity="0.52"/>
<polygon points="157.9,73.2 161.6,73.6 163.2,73.3 159.5,72.8" fill="#337cf6" fill-opacity="0.53"/>
<polygon points="159.5,72.8 163.2,73.3 164.7,72.7 161,72.2" fill="#3083f7" fill-opacity="0.53"/>
<polygon points="161,72.2 164.7,72.7 166.2,71.8 162.5,71.2" fill="#2b8af4" fill-opacity="0.54"/>
<polygon points="162.5,71.2 166.2,71.8 167.8,70.3 164,69.8" fill="#2693ee" fill-opacity="0.55"/>
<polygon points="164,69.8 167.8,70.3 169.3,68.4 165.6,67.8" fill="#1f9de5" fill-opacity="0.56"/>
<polygon points="165.6,67.8 169.3,68.4 170.8,65.9 167.1,65.2" fill="#16abdb" fill-opacity="0.57"/>
<polygon points="167.1,65.2 170.8,65.9 172.3,62.8 168.6,62" fill="#1ab6c8" fill-opacity="0.59"/>
<polygon points="168.6,62 172.3,62.8 173.9,59.3 170.2,58.4" fill="#2ac0ac" fill-opacity="0.61"/>
<polygon points="170.2,58.4 173.9,59.3 175.4,55.6 171.7,54.6" fill="#46c88b" fill-opacity="0.63"/>
<polygon points="171.7,54.6 175.4,55.6 176.9,52.2 173.2,51.2" fill="#7cc760" fill-opacity="0.65"/>
<polygon points="173.2,51.2 176.9,52.2 178.5,49.8 174.7,48.7" fill="#a9c73b" fill-opacity="0.66"/>
<polygon points="174.7,48.7 178.5,49.8 180,49 176.3,48" fill="#bec639" fill-opacity="0.67"/>
<polygon points="176.3,48 180,49 181.5,50.3 177.8,49.4" fill="#c1c639" fill-opacity="0.67"/>
<polygon points="177.8,49.4 181.5,50.3 183,53.7 179.3,53" fill="#b1c639" fill-opacity="0.67"/>
<polygon points="179.3,53 183,53.7 184.6,59 180.9,58.5" fill="#84c759" fill-opacity="0.65"/>
<polygon points="180.9,58.5 184.6,59 186.1,65.6 182.4,65.2" fill="#40c890" fill-opacity="0.62"/>
<polygon points="182.4,65.2 186.1,65.6 187.6,72.4 183.9,72.2" fill="#21bbbc" fill-opacity="0.60"/>
<polygon points="183.9,72.2 187.6,72.4 189.2,79 185.4,78.9" fill="#19a7de" fill-opacity="0.57"/>
<polygon points="185.4,78.9 189.2,79 190.7,84.9 187,84.9" fill="#2a8df2" fill-opacity="0.54"/>
<polygon points="187,84.9 190.7,84.9 192.2,90 188.5,90" fill="#3872f6" fill-opacity="0.52"/>
<polygon points="188.5,90 192.2,90 193.8,94.2 190,94.2" fill="#435cf5" fill-opacity="0.50"/>
<polygon points="190,94.2 193.8,94.2 195.3,97.7 191.6,97.7" fill="#464be8" fill-opacity="0.49"/>
<polygon points="191.6,97.7 195.3,97.7 196.8,100.5 193.1,100.6" fill="#433fd3" fill-opacity="0.47"/>
<polygon points="193.1,100.6 196.8,100.5 198.3,102.9 194.6,103" fill="#4136c3" fill-opacity="0.46"/>
<polygon points="194.6,103 198.3,102.9 199.9,104.8 196.2,104.9" fill="#402fb7" fill-opacity="0.46"/>
<polygon points="152.7,72.8 156.4,73.2 157.9,73.2 154.2,72.7" fill="#347af6" fill-opacity="0.53"/>
<polygon points="154.2,72.7 157.9,73.2 159.5,72.8 155.7,72.4" fill="#317ff7" fill-opacity="0.53"/>
<polygon points="155.7,72.4 159.5,72.8 161,72.2 157.3,71.7" fill="#2e86f7" fill-opacity="0.53"/>
<polygon points="157.3,71.7 161,72.2 162.5,71.2 158.8,70.7" fill="#2a8df2" fill-opacity="0.54"/>
<polygon points="158.8,70.7 162.5,71.2 164,69.8 160.3,69.2" fill="#2495ec" fill-opacity="0.55"/>
<polygon points="160.3,69.2 164,69.8 165.6,67.8 161.8,67.1" fill="#1da1e3" fill-opacity="0.56"/>
<polygon points="161.8,67.1 165.6,67.8 167.1,65.2 163.4,64.4" fill="#13aed8" fill-opacity="0.58"/>
<polygon points="163.4,64.4 167.1,65.2 168.6,62 164.9,61.2" fill="#1eb8c2" fill-opacity="0.59"/>
<polygon points="164.9,61.2 168.6,62 170.2,58.4 166.4,57.5" fill="#2ec3a6" fill-opacity="0.61"/>
<polygon points="166.4,57.5 170.2,58.4 171.7,54.6 168,53.6" fill="#53c881" fill-opacity="0.63"/>
<polygon points="168,53.6 171.7,54.6 173.2,51.2 169.5,50.2" fill="#89c755" fill-opacity="0.65"/>
<polygon points="169.5,50.2 173.2,51.2 174.7,48.7 171,47.7" fill="#b3c639" fill-opacity="0.67"/>
<polygon points="171,47.7 174.7,48.7 176.3,48 172.6,47" fill="#c8c639" fill-opacity="0.68"/>
<polygon points="172.6,47 176.3,48 177.8,49.4 174.1,48.5" fill="#cac539" fill-opacity="0.68"/>
<polygon points="174.1,48.5 177.8,49.4 179.3,53 175.6,52.2" fill="#b9c639" fill-opacity="0.67"/>
<polygon points="175.6,52.2 179.3,53 180.9,58.5 177.1,57.9" fill="#8dc751" fill-opacity="0.65"/>
<polygon points="177.1,57.9 180.9,58.5 182.4,65.2 178.7,64.8" fill="#47c88a" fill-opacity="0.63"/>
<polygon points="178.7,64.8 182.4,65.2 183.9,72.2 180.2,71.9" fill="#23bcb9" fill-opacity="0.60"/>
<polygon points="180.2,71.9 183.9,72.2 185.4,78.9 181.7,78.8" fill="#18a8dd" fill-opacity="0.57"/>
<polygon points="181.7,78.8 185.4,78.9 187,84.9 183.3,84.8" fill="#298df2" fill-opacity="0.54"/>
<polygon points="183.3,84.8 187,84.9 188.5,90 184.8,90" fill="#3773f6" fill-opacity="0.52"/>
<polygon points="184.8,90 188.5,90 190,94.2 186.3,94.3" fill="#435cf5" fill-opacity="0.50"/>
<polygon points="186.3,94.3 190,94.2 191.6,97.7 187.8,97.8" fill="#464be8" fill-opacity="0.49"/>
<polygon points="187.8,97.8 191.6,97.7 193.1,100.6 189.4,100.7" fill="#433fd3" fill-opacity="0.47"/>
<polygon points="189.4,100.7 193.1,100.6 194.6,103 190.9,103" fill="#4136c3" fill-opacity="0.46"/>
<polygon points="190.9,103 194.6,103 196.2,104.9 192.4,105" fill="#402fb6" fill-opacity="0.46"/>
<polygon points="149,72.4 152.7,72.8 154.2,72.7 150.5,72.3" fill="#327df6" fill-opacity="0.53"/>
<polygon points="150.5,72.3 154.2,72.7 155.7,72.4 152,71.9" fill="#3082f7" fill-opacity="0.53"/>
<polygon points="152,71.9 155.7,72.4 157.3,71.7 153.5,71.2" fill="#2d88f6" fill-opacity="0.54"/>
<polygon points="153.5,71.2 157.3,71.7 158.8,70.7 155.1,70.2" fill="#288ff0" fill-opacity="0.54"/>
<polygon points="155.1,70.2 158.8,70.7 160.3,69.2 156.6,68.6" fill="#2298e9" fill-opacity="0.55"/>
<polygon points="156.6,68.6 160.3,69.2 161.8,67.1 158.1,66.5" fill="#1aa4e0" fill-opacity="0.56"/>
<polygon points="158.1,66.5 161.8,67.1 163.4,64.4 159.7,63.7" fill="#12b2d5" fill-opacity="0.58"/>
<polygon points="159.7,63.7 163.4,64.4 164.9,61.2 161.2,60.4" fill="#21bbbc" fill-opacity="0.60"/>
<polygon points="161.2,60.4 164.9,61.2 166.4,57.5 162.7,56.6" fill="#32c5a0" fill-opacity="0.62"/>
<polygon points="162.7,56.6 166.4,57.5 168,53.6 164.2,52.7" fill="#60c876" fill-opacity="0.64"/>
<polygon points="164.2,52.7 168,53.6 169.5,50.2 165.8,49.1" fill="#97c74a" fill-opacity="0.66"/>
<polygon points="165.8,49.1 169.5,50.2 171,47.7 167.3,46.7" fill="#bdc639" fill-opacity="0.67"/>
<polygon points="167.3,46.7 171,47.7 172.6,47 168.8,46" fill="#d1c538" fill-opacity="0.68"/>
<polygon points="168.8,46 172.6,47 174.1,48.5 170.4,47.6" fill="#d3c538" fill-opacity="0.68"/>
<polygon points="170.4,47.6 174.1,48.5 175.6,52.2 171.9,51.5" fill="#c1c639" fill-opacity="0.67"/>
<polygon points="171.9,51.5 175.6,52.2 177.1,57.9 173.4,57.3" fill="#96c74a" fill-opacity="0.66"/>
<polygon points="173.4,57.3 177.1,57.9 178.7,64.8 175,64.4" fill="#4ec884" fill-opacity="0.63"/>
<polygon points="175,64.4 178.7,64.8 180.2,71.9 176.5,71.7" fill="#24bdb6" fill-opacity="0.60"/>
<polygon points="176.5,71.7 180.2,71.9 181.7,78.8 178,78.7" fill="#17a9dc" fill-opacity="0.57"/>
<polygon points="178,78.7 181.7,78.8 183.3,84.8 179.5,84.8" fill="#298ef1" fill-opacity="0.54"/>
<polygon points="179.5,84.8 183.3,84.8 184.8,90 181.1,90" fill="#3774f6" fill-opacity="0.52"/>
<polygon points="181.1,90 184.8,90 186.3,94.3 182.6,94.3" fill="#435cf5" fill-opacity="0.50"/>
<polygon points="182.6,94.3 186.3,94.3 187.8,97.8 184.1,97.9" fill="#464be8" fill-opacity="0.49"/>
<polygon points="184.1,97.9 187.8,97.8 189.4,100.7 185.7,100.8" fill="#433fd3" fill-opacity="0.47"/>
<polygon points="185.7,100.8 189.4,100.7 190.9,103 187.2,103.1" fill="#4136c3" fill-opacity="0.46"/>
<polygon points="187.2,103.1 190.9,103 192.4,105 188.7,105.1" fill="#402eb6" fill-opacity="0.46"/>
<polygon points="145.2,72 149,72.4 150.5,72.3 146.8,71.9" fill="#3180f7" fill-opacity="0.53"/>
<polygon points="146.8,71.9 150.5,72.3 152,71.9 148.3,71.5" fill="#2e85f7" fill-opacity="0.53"/>
<polygon points="148.3,71.5 152,71.9 153.5,71.2 149.8,70.8" fill="#2b8bf4" fill-opacity="0.54"/>
<polygon points="149.8,70.8 153.5,71.2 155.1,70.2 151.4,69.6" fill="#2692ee" fill-opacity="0.55"/>
<polygon points="151.4,69.6 155.1,70.2 156.6,68.6 152.9,68" fill="#209be7" fill-opacity="0.56"/>
<polygon points="152.9,68 156.6,68.6 158.1,66.5 154.4,65.8" fill="#18a7de" fill-opacity="0.57"/>
<polygon points="154.4,65.8 158.1,66.5 159.7,63.7 155.9,63" fill="#15b3d0" fill-opacity="0.58"/>
<polygon points="155.9,63 159.7,63.7 161.2,60.4 157.5,59.6" fill="#24bdb6" fill-opacity="0.60"/>
<polygon points="157.5,59.6 161.2,60.4 162.7,56.6 159,55.7" fill="#36c799" fill-opacity="0.62"/>
<polygon points="159,55.7 162.7,56.6 164.2,52.7 160.5,51.7" fill="#6dc76c" fill-opacity="0.64"/>
<polygon points="160.5,51.7 164.2,52.7 165.8,49.1 162.1,48.1" fill="#a4c73f" fill-opacity="0.66"/>
<polygon points="162.1,48.1 165.8,49.1 167.3,46.7 163.6,45.6" fill="#c7c639" fill-opacity="0.68"/>
<polygon points="163.6,45.6 167.3,46.7 168.8,46 165.1,45" fill="#dbc538" fill-opacity="0.69"/>
<polygon points="165.1,45 168.8,46 170.4,47.6 166.6,46.7" fill="#ddc538" fill-opacity="0.69"/>
<polygon points="166.6,46.7 170.4,47.6 171.9,51.5 168.2,50.7" fill="#c9c539" fill-opacity="0.68"/>
<polygon points="168.2,50.7 171.9,51.5 173.4,57.3 169.7,56.8" fill="#9fc743" fill-opacity="0.66"/>
<polygon points="169.7,56.8 173.4,57.3 175,64.4 171.2,64" fill="#55c87f" fill-opacity="0.63"/>
<polygon points="171.2,64 175,64.4 176.5,71.7 172.8,71.5" fill="#26beb4" fill-opacity="0.60"/>
<polygon points="172.8,71.5 176.5,71.7 178,78.7 174.3,78.6" fill="#16aadc" fill-opacity="0.57"/>
<polygon points="174.3,78.6 178,78.7 179.5,84.8 175.8,84.8" fill="#288ff1" fill-opacity="0.54"/>
<polygon points="175.8,84.8 179.5,84.8 181.1,90 177.3,90.1" fill="#3774f6" fill-opacity="0.52"/>
<polygon points="177.3,90.1 181.1,90 182.6,94.3 178.9,94.4" fill="#435cf5" fill-opacity="0.50"/>
<polygon points="178.9,94.4 182.6,94.3 184.1,97.9 180.4,98" fill="#464be8" fill-opacity="0.49"/>
<polygon points="180.4,98 184.1,97.9 185.7,100.8 181.9,100.9" fill="#433fd3" fill-opacity="0.47"/>
<polygon points="181.9,100.9 185.7,100.8 187.2,103.1 183.5,103.2" fill="#4136c3" fill-opacity="0.46"/>
<polygon points="183.5,103.2 187.2,103.1 188.7,105.1 185,105.2" fill="#402eb6" fill-opacity="0.46"/>
<polygon points="141.5,71.6 145.2,72 146.8,71.9 143,71.4" fill="#3083f7" fill-opacity="0.53"/>
<polygon points="143,71.4 146.8,71.9 148.3,71.5 144.6,71" fill="#2d88f6" fill-opacity="0.54"/>
<polygon points="144.6,71 148.3,71.5 149.8,70.8 146.1,70.3" fill="#298ef2" fill-opacity="0.54"/>
<polygon points="146.1,70.3 149.8,70.8 151.4,69.6 147.6,69.1" fill="#2495ec" fill-opacity="0.55"/>
<polygon points="147.6,69.1 151.4,69.6 152.9,68 149.2,67.4" fill="#1e9ee5" fill-opacity="0.56"/>
<polygon points="149.2,67.4 152.9,68 154.4,65.8 150.7,65.1" fill="#16aadb" fill-opacity="0.57"/>
<polygon points="150.7,65.1 154.4,65.8 155.9,63 152.2,62.2" fill="#18b5ca" fill-opacity="0.59"/>
<polygon points="152.2,62.2 155.9,63 157.5,59.6 153.8,58.7" fill="#28bfb0" fill-opacity="0.60"/>
<polygon points="153.8,58.7 157.5,59.6 159,55.7 155.3,54.8" fill="#3fc891" fill-opacity="0.62"/>
<polygon points="155.3,54.8 159,55.7 160.5,51.7 156.8,50.7" fill="#79c761" fill-opacity="0.65"/>
<polygon points="156.8,50.7 160.5,51.7 162.1,48.1 158.3,47.1" fill="#b0c739" fill-opacity="0.67"/>
<polygon points="158.3,47.1 162.1,48.1 163.6,45.6 159.9,44.6" fill="#d1c538" fill-opacity="0.68"/>
<polygon points="159.9,44.6 163.6,45.6 165.1,45 161.4,44.1" fill="#e5c438" fill-opacity="0.69"/>
<polygon points="161.4,44.1 165.1,45 166.6,46.7 162.9,45.8" fill="#e6c438" fill-opacity="0.69"/>
<polygon points="162.9,45.8 166.6,46.7 168.2,50.7 164.5,50" fill="#d1c538" fill-opacity="0.68"/>
<polygon points="164.5,50 168.2,50.7 169.7,56.8 166,56.2" fill="#a9c73b" fill-opacity="0.66"/>
<polygon points="166,56.2 169.7,56.8 171.2,64 167.5,63.6" fill="#5cc879" fill-opacity="0.63"/>
<polygon points="167.5,63.6 171.2,64 172.8,71.5 169,71.3" fill="#27beb1" fill-opacity="0.60"/>
<polygon points="169,71.3 172.8,71.5 174.3,78.6 170.6,78.5" fill="#16abdb" fill-opacity="0.57"/>
<polygon points="170.6,78.5 174.3,78.6 175.8,84.8 172.1,84.8" fill="#2890f0" fill-opacity="0.54"/>
<polygon points="172.1,84.8 175.8,84.8 177.3,90.1 173.6,90.1" fill="#3774f6" fill-opacity="0.52"/>
<polygon points="173.6,90.1 177.3,90.1 178.9,94.4 175.2,94.5" fill="#435df5" fill-opacity="0.50"/>
<polygon points="175.2,94.5 178.9,94.4 180.4,98 176.7,98" fill="#464be8" fill-opacity="0.49"/>
<polygon points="176.7,98 180.4,98 181.9,100.9 178.2,100.9" fill="#433fd3" fill-opacity="0.47"/>
<polygon points="178.2,100.9 181.9,100.9 183.5,103.2 179.7,103.3" fill="#4136c3" fill-opacity="0.46"/>
<polygon points="179.7,103.3 183.5,103.2 185,105.2 181.3,105.3" fill="#402eb6" fill-opacity="0.46"/>
<polygon points="137.8,71.1 141.5,71.6 143,71.4 139.3,70.9" fill="#2e86f7" fill-opacity="0.53"/>
<polygon points="139.3,70.9 143,71.4 144.6,71 140.9,70.5" fill="#2b8af4" fill-opacity="0.54"/>
<polygon points="140.9,70.5 144.6,71 146.1,70.3 142.4,69.7" fill="#2790f0" fill-opacity="0.54"/>
<polygon points="142.4,69.7 146.1,70.3 147.6,69.1 143.9,68.4" fill="#2298ea" fill-opacity="0.55"/>
<polygon points="143.9,68.4 147.6,69.1 149.2,67.4 145.4,66.7" fill="#1ca2e2" fill-opacity="0.56"/>
<polygon points="145.4,66.7 149.2,67.4 150.7,65.1 147,64.3" fill="#14aed9" fill-opacity="0.57"/>
<polygon points="147,64.3 150.7,65.1 152.2,62.2 148.5,61.3" fill="#1cb8c4" fill-opacity="0.59"/>
<polygon points="148.5,61.3 152.2,62.2 153.8,58.7 150,57.6" fill="#2cc1aa" fill-opacity="0.61"/>
<polygon points="150,57.6 153.8,58.7 155.3,54.8 151.6,53.6" fill="#4dc885" fill-opacity="0.63"/>
<polygon points="151.6,53.6 155.3,54.8 156.8,50.7 153.1,49.4" fill="#88c755" fill-opacity="0.65"/>
<polygon points="153.1,49.4 156.8,50.7 158.3,47.1 154.6,45.7" fill="#bbc639" fill-opacity="0.67"/>
<polygon points="154.6,45.7 158.3,47.1 159.9,44.6 156.1,43.4" fill="#ddc538" fill-opacity="0.69"/>
<polygon points="156.1,43.4 159.9,44.6 161.4,44.1 157.7,43" fill="#efc438" fill-opacity="0.70"/>
<polygon points="157.7,43 161.4,44.1 162.9,45.8 159.2,44.9" fill="#efc438" fill-opacity="0.70"/>
<polygon points="159.2,44.9 162.9,45.8 164.5,50 160.7,49.4" fill="#d9c538" fill-opacity="0.69"/>
<polygon points="160.7,49.4 164.5,50 166,56.2 162.3,55.9" fill="#afc739" fill-opacity="0.67"/>
<polygon points="162.3,55.9 166,56.2 167.5,63.6 163.8,63.5" fill="#61c875" fill-opacity="0.64"/>
<polygon points="163.8,63.5 167.5,63.6 169,71.3 165.3,71.3" fill="#28bfb0" fill-opacity="0.60"/>
<polygon points="165.3,71.3 169,71.3 170.6,78.5 166.9,78.6" fill="#15acda" fill-opacity="0.57"/>
<polygon points="166.9,78.6 170.6,78.5 172.1,84.8 168.4,84.9" fill="#2890f0" fill-opacity="0.54"/>
<polygon points="168.4,84.9 172.1,84.8 173.6,90.1 169.9,90.2" fill="#3774f6" fill-opacity="0.52"/>
<polygon points="169.9,90.2 173.6,90.1 175.2,94.5 171.4,94.6" fill="#435df5" fill-opacity="0.50"/>
<polygon points="171.4,94.6 175.2,94.5 176.7,98 173,98.2" fill="#464be8" fill-opacity="0.49"/>
<polygon points="173,98.2 176.7,98 178.2,100.9 174.5,101.1" fill="#433fd3" fill-opacity="0.47"/>
<polygon points="174.5,101.1 178.2,100.9 179.7,103.3 176,103.4" fill="#4135c2" fill-opacity="0.46"/>
<polygon points="176,103.4 179.7,103.3 181.3,105.3 177.6,105.4" fill="#402eb6" fill-opacity="0.46"/>
<polyline points="141.3,86.9 141.9,86.9 142.4,86.8 143,86.7 143.5,86.6 144,86.4 144.6,86.1 145.1,85.9 145.7,85.5 146.2,85.1 146.8,84.6 147.3,84.1 147.9,83.4 148.4,82.7 148.9,81.9 149.5,81 150,80 150.6,79 151.1,77.8 151.7,76.5 152.2,75.1 152.8,73.6 153.3,72 153.8,70.4 154.4,68.7 154.9,66.9 155.5,65.2 156,63.4 156.6,61.7 157.1,60.1 157.7,58.6 158.2,57.2 158.7,56 159.3,55.1 159.8,54.4 160.4,53.9 160.9,53.8 161.5,54 162,54.4 162.6,55.1 163.1,56.1 163.6,57.3 164.2,58.7 164.7,60.3 165.3,62.1 165.8,64 166.4,66 166.9,68.1 167.5,70.2 168,72.3 168.5,74.4 169.1,76.5 169.6,78.6 170.2,80.6 170.7,82.5 171.3,84.4 171.8,86.1 172.3,87.8 172.9,89.4 173.4,90.9 174,92.3 174.5,93.7 175.1,95 175.6,96.2 176.2,97.3 176.7,98.3 177.2,99.3 177.8,100.3 178.3,101.2 178.9,102 179.4,102.8 180,103.5 180.5,104.2 181.1,104.9 181.6,105.5 182.1,106.1 182.7,106.6 183.2,107.1 183.8,107.6 184.3,108.1 184.9,108.5 185.4,108.9 186,109.3 186.5,109.7 187,110 187.6,110.4 188.1,110.7 188.7,111 189.2,111.3 189.8,111.6 190.3,111.9" fill="none" stroke="#0000ff" stroke-width="2.4" stroke-linejoin="round" stroke-linecap="round"/>
<polyline points="141.3,72.4 141.9,72.4 142.4,72.4 143,72.4 143.5,72.4 144,72.3 144.6,72.2 145.1,72 145.7,71.8 146.2,71.6 146.8,71.3 147.3,71 147.9,70.6 148.4,70.1 148.9,69.5 149.5,68.9 150,68.2 150.6,67.5 151.1,66.6 151.7,65.7 152.2,64.7 152.8,63.6 153.3,62.4 153.8,61.2 154.4,59.9 154.9,58.5 155.5,57.1 156,55.7 156.6,54.3 157.1,53 157.7,51.7 158.2,50.5 158.7,49.4 159.3,48.6 159.8,47.9 160.4,47.4 160.9,47.2 161.5,47.2 162,47.6 162.6,48.2 163.1,49.1 163.6,50.4 164.2,51.9 164.7,53.7 165.3,55.8 165.8,58 166.4,60.4 166.9,63 167.5,65.5 168,68.1 168.5,70.8 169.1,73.3 169.6,75.8 170.2,78.2 170.7,80.6 171.3,82.8 171.8,84.9 172.3,86.9 172.9,88.7 173.4,90.4 174,92.1 174.5,93.6 175.1,95 175.6,96.3 176.2,97.5 176.7,98.6 177.2,99.7 177.8,100.7 178.3,101.6 178.9,102.4 179.4,103.2 180,104 180.5,104.7 181.1,105.3 181.6,105.9 182.1,106.5 182.7,107 183.2,107.5 183.8,107.9 184.3,108.4 184.9,108.8 185.4,109.2 186,109.6 186.5,109.9 187,110.3 187.6,110.6 188.1,110.9 188.7,111.2 189.2,111.5 189.8,111.8 190.3,112.1" fill="none" stroke="#ff0000" stroke-width="2.4" stroke-linejoin="round" stroke-linecap="round"/>
<polygon points="134.1,70.7 137.8,71.1 139.3,70.9 135.6,70.5" fill="#2c89f6" fill-opacity="0.54"/>
<polygon points="135.6,70.5 139.3,70.9 140.9,70.5 137.1,69.9" fill="#298df2" fill-opacity="0.54"/>
<polygon points="137.1,69.9 140.9,70.5 142.4,69.7 138.7,69.1" fill="#2593ed" fill-opacity="0.55"/>
<polygon points="138.7,69.1 142.4,69.7 143.9,68.4 140.2,67.7" fill="#209be7" fill-opacity="0.56"/>
<polygon points="140.2,67.7 143.9,68.4 145.4,66.7 141.7,65.9" fill="#19a5df" fill-opacity="0.57"/>
<polygon points="141.7,65.9 145.4,66.7 147,64.3 143.3,63.4" fill="#12b2d5" fill-opacity="0.58"/>
<polygon points="143.3,63.4 147,64.3 148.5,61.3 144.8,60.3" fill="#20babd" fill-opacity="0.59"/>
<polygon points="144.8,60.3 148.5,61.3 150,57.6 146.3,56.5" fill="#31c4a2" fill-opacity="0.61"/>
<polygon points="146.3,56.5 150,57.6 151.6,53.6 147.8,52.3" fill="#5dc878" fill-opacity="0.63"/>
<polygon points="147.8,52.3 151.6,53.6 153.1,49.4 149.4,48.1" fill="#9ac747" fill-opacity="0.66"/>
<polygon points="149.4,48.1 153.1,49.4 154.6,45.7 150.9,44.4" fill="#c8c639" fill-opacity="0.68"/>
<polygon points="150.9,44.4 154.6,45.7 156.1,43.4 152.4,42.1" fill="#e9c438" fill-opacity="0.70"/>
<polygon points="152.4,42.1 156.1,43.4 157.7,43 154,41.9" fill="#fbc338" fill-opacity="0.70"/>
<polygon points="154,41.9 157.7,43 159.2,44.9 155.5,44.1" fill="#f9c438" fill-opacity="0.70"/>
<polygon points="155.5,44.1 159.2,44.9 160.7,49.4 157,48.9" fill="#e0c538" fill-opacity="0.69"/>
<polygon points="157,48.9 160.7,49.4 162.3,55.9 158.5,55.6" fill="#b4c639" fill-opacity="0.67"/>
<polygon points="158.5,55.6 162.3,55.9 163.8,63.5 160.1,63.4" fill="#65c772" fill-opacity="0.64"/>
<polygon points="160.1,63.4 163.8,63.5 165.3,71.3 161.6,71.3" fill="#29bfaf" fill-opacity="0.60"/>
<polygon points="161.6,71.3 165.3,71.3 166.9,78.6 163.1,78.7" fill="#15acda" fill-opacity="0.57"/>
<polygon points="163.1,78.7 166.9,78.6 168.4,84.9 164.7,85" fill="#2890f0" fill-opacity="0.54"/>
<polygon points="164.7,85 168.4,84.9 169.9,90.2 166.2,90.4" fill="#3774f6" fill-opacity="0.52"/>
<polygon points="166.2,90.4 169.9,90.2 171.4,94.6 167.7,94.7" fill="#435cf5" fill-opacity="0.50"/>
<polygon points="167.7,94.7 171.4,94.6 173,98.2 169.3,98.3" fill="#464be7" fill-opacity="0.49"/>
<polygon points="169.3,98.3 173,98.2 174.5,101.1 170.8,101.2" fill="#433fd2" fill-opacity="0.47"/>
<polygon points="170.8,101.2 174.5,101.1 176,103.4 172.3,103.5" fill="#4135c2" fill-opacity="0.46"/>
<polygon points="172.3,103.5 176,103.4 177.6,105.4 173.8,105.5" fill="#402eb6" fill-opacity="0.46"/>
<polygon points="130.4,70.2 134.1,70.7 135.6,70.5 131.9,69.9" fill="#2b8bf4" fill-opacity="0.54"/>
<polygon points="131.9,69.9 135.6,70.5 137.1,69.9 133.4,69.4" fill="#2890f0" fill-opacity="0.54"/>
<polygon points="133.4,69.4 137.1,69.9 138.7,69.1 134.9,68.4" fill="#2396eb" fill-opacity="0.55"/>
<polygon points="134.9,68.4 138.7,69.1 140.2,67.7 136.5,67" fill="#1e9fe5" fill-opacity="0.56"/>
<polygon points="136.5,67 140.2,67.7 141.7,65.9 138,65.1" fill="#17a9dc" fill-opacity="0.57"/>
<polygon points="138,65.1 141.7,65.9 143.3,63.4 139.5,62.5" fill="#16b4ce" fill-opacity="0.58"/>
<polygon points="139.5,62.5 143.3,63.4 144.8,60.3 141.1,59.2" fill="#24bdb6" fill-opacity="0.60"/>
<polygon points="141.1,59.2 144.8,60.3 146.3,56.5 142.6,55.3" fill="#35c79a" fill-opacity="0.62"/>
<polygon points="142.6,55.3 146.3,56.5 147.8,52.3 144.1,51" fill="#6dc76b" fill-opacity="0.64"/>
<polygon points="144.1,51 147.8,52.3 149.4,48.1 145.7,46.7" fill="#abc739" fill-opacity="0.66"/>
<polygon points="145.7,46.7 149.4,48.1 150.9,44.4 147.2,43.1" fill="#d5c538" fill-opacity="0.68"/>
<polygon points="147.2,43.1 150.9,44.4 152.4,42.1 148.7,40.8" fill="#f5c438" fill-opacity="0.70"/>
<polygon points="148.7,40.8 152.4,42.1 154,41.9 150.2,40.8" fill="#fdc637" fill-opacity="0.71"/>
<polygon points="150.2,40.8 154,41.9 155.5,44.1 151.8,43.3" fill="#fec537" fill-opacity="0.71"/>
<polygon points="151.8,43.3 155.5,44.1 157,48.9 153.3,48.3" fill="#e7c438" fill-opacity="0.69"/>
<polygon points="153.3,48.3 157,48.9 158.5,55.6 154.8,55.4" fill="#b8c639" fill-opacity="0.67"/>
<polygon points="154.8,55.4 158.5,55.6 160.1,63.4 156.4,63.4" fill="#68c76f" fill-opacity="0.64"/>
<polygon points="156.4,63.4 160.1,63.4 161.6,71.3 157.9,71.4" fill="#29c0ae" fill-opacity="0.61"/>
<polygon points="157.9,71.4 161.6,71.3 163.1,78.7 159.4,78.8" fill="#15acda" fill-opacity="0.57"/>
<polygon points="159.4,78.8 163.1,78.7 164.7,85 160.9,85.2" fill="#288ff0" fill-opacity="0.54"/>
<polygon points="160.9,85.2 164.7,85 166.2,90.4 162.5,90.5" fill="#3774f6" fill-opacity="0.52"/>
<polygon points="162.5,90.5 166.2,90.4 167.7,94.7 164,94.9" fill="#435cf5" fill-opacity="0.50"/>
<polygon points="164,94.9 167.7,94.7 169.3,98.3 165.5,98.4" fill="#464be7" fill-opacity="0.49"/>
<polygon points="165.5,98.4 169.3,98.3 170.8,101.2 167.1,101.3" fill="#433ed2" fill-opacity="0.47"/>
<polygon points="167.1,101.3 170.8,101.2 172.3,103.5 168.6,103.7" fill="#4135c2" fill-opacity="0.46"/>
<polygon points="168.6,103.7 172.3,103.5 173.8,105.5 170.1,105.6" fill="#3f2eb6" fill-opacity="0.46"/>
<polygon points="126.6,69.8 130.4,70.2 131.9,69.9 128.2,69.4" fill="#298ef2" fill-opacity="0.54"/>
<polygon points="128.2,69.4 131.9,69.9 133.4,69.4 129.7,68.8" fill="#2693ee" fill-opacity="0.55"/>
<polygon points="129.7,68.8 133.4,69.4 134.9,68.4 131.2,67.8" fill="#2199e9" fill-opacity="0.55"/>
<polygon points="131.2,67.8 134.9,68.4 136.5,67 132.8,66.3" fill="#1ca2e2" fill-opacity="0.56"/>
<polygon points="132.8,66.3 136.5,67 138,65.1 134.3,64.3" fill="#14add9" fill-opacity="0.57"/>
<polygon points="134.3,64.3 138,65.1 139.5,62.5 135.8,61.6" fill="#1ab6c8" fill-opacity="0.59"/>
<polygon points="135.8,61.6 139.5,62.5 141.1,59.2 137.3,58.2" fill="#29bfaf" fill-opacity="0.60"/>
<polygon points="137.3,58.2 141.1,59.2 142.6,55.3 138.9,54.2" fill="#41c88f" fill-opacity="0.62"/>
<polygon points="138.9,54.2 142.6,55.3 144.1,51 140.4,49.8" fill="#7dc75e" fill-opacity="0.65"/>
<polygon points="140.4,49.8 144.1,51 145.7,46.7 141.9,45.4" fill="#b8c639" fill-opacity="0.67"/>
<polygon points="141.9,45.4 145.7,46.7 147.2,43.1 143.5,41.7" fill="#e1c438" fill-opacity="0.69"/>
<polygon points="143.5,41.7 147.2,43.1 148.7,40.8 145,39.6" fill="#fec537" fill-opacity="0.71"/>
<polygon points="145,39.6 148.7,40.8 150.2,40.8 146.5,39.7" fill="#fcca34" fill-opacity="0.72"/>
<polygon points="146.5,39.7 150.2,40.8 151.8,43.3 148.1,42.5" fill="#fdc836" fill-opacity="0.71"/>
<polygon points="148.1,42.5 151.8,43.3 153.3,48.3 149.6,47.8" fill="#eec438" fill-opacity="0.70"/>
<polygon points="149.6,47.8 153.3,48.3 154.8,55.4 151.1,55.1" fill="#bcc639" fill-opacity="0.67"/>
<polygon points="151.1,55.1 154.8,55.4 156.4,63.4 152.6,63.3" fill="#6bc76d" fill-opacity="0.64"/>
<polygon points="152.6,63.3 156.4,63.4 157.9,71.4 154.2,71.5" fill="#2ac0ad" fill-opacity="0.61"/>
<polygon points="154.2,71.5 157.9,71.4 159.4,78.8 155.7,78.9" fill="#15acda" fill-opacity="0.57"/>
<polygon points="155.7,78.9 159.4,78.8 160.9,85.2 157.2,85.3" fill="#288ff0" fill-opacity="0.54"/>
<polygon points="157.2,85.3 160.9,85.2 162.5,90.5 158.8,90.7" fill="#3773f6" fill-opacity="0.52"/>
<polygon points="158.8,90.7 162.5,90.5 164,94.9 160.3,95" fill="#435bf5" fill-opacity="0.50"/>
<polygon points="160.3,95 164,94.9 165.5,98.4 161.8,98.6" fill="#464ae6" fill-opacity="0.48"/>
<polygon points="161.8,98.6 165.5,98.4 167.1,101.3 163.3,101.4" fill="#433ed2" fill-opacity="0.47"/>
<polygon points="163.3,101.4 167.1,101.3 168.6,103.7 164.9,103.8" fill="#4135c2" fill-opacity="0.46"/>
<polygon points="164.9,103.8 168.6,103.7 170.1,105.6 166.4,105.7" fill="#3f2eb5" fill-opacity="0.46"/>
<polygon points="122.9,69.3 126.6,69.8 128.2,69.4 124.5,68.9" fill="#2790f0" fill-opacity="0.54"/>
<polygon points="124.5,68.9 128.2,69.4 129.7,68.8 126,68.3" fill="#2496eb" fill-opacity="0.55"/>
<polygon points="126,68.3 129.7,68.8 131.2,67.8 127.5,67.2" fill="#1f9ce6" fill-opacity="0.56"/>
<polygon points="127.5,67.2 131.2,67.8 132.8,66.3 129,65.6" fill="#19a5df" fill-opacity="0.57"/>
<polygon points="129,65.6 132.8,66.3 134.3,64.3 130.6,63.5" fill="#12b1d6" fill-opacity="0.58"/>
<polygon points="130.6,63.5 134.3,64.3 135.8,61.6 132.1,60.7" fill="#1eb9c2" fill-opacity="0.59"/>
<polygon points="132.1,60.7 135.8,61.6 137.3,58.2 133.6,57.1" fill="#2dc2a8" fill-opacity="0.61"/>
<polygon points="133.6,57.1 137.3,58.2 138.9,54.2 135.2,53" fill="#50c883" fill-opacity="0.63"/>
<polygon points="135.2,53 138.9,54.2 140.4,49.8 136.7,48.5" fill="#8ec751" fill-opacity="0.65"/>
<polygon points="136.7,48.5 140.4,49.8 141.9,45.4 138.2,44" fill="#c4c639" fill-opacity="0.68"/>
<polygon points="138.2,44 141.9,45.4 143.5,41.7 139.7,40.4" fill="#eec438" fill-opacity="0.70"/>
<polygon points="139.7,40.4 143.5,41.7 145,39.6 141.3,38.3" fill="#fcc935" fill-opacity="0.71"/>
<polygon points="141.3,38.3 145,39.6 146.5,39.7 142.8,38.6" fill="#fbcf32" fill-opacity="0.72"/>
<polygon points="142.8,38.6 146.5,39.7 148.1,42.5 144.3,41.7" fill="#fccc34" fill-opacity="0.72"/>
<polygon points="144.3,41.7 148.1,42.5 149.6,47.8 145.9,47.3" fill="#f5c438" fill-opacity="0.70"/>
<polygon points="145.9,47.3 149.6,47.8 151.1,55.1 147.4,54.9" fill="#c0c639" fill-opacity="0.67"/>
<polygon points="147.4,54.9 151.1,55.1 152.6,63.3 148.9,63.2" fill="#6ec76a" fill-opacity="0.64"/>
<polygon points="148.9,63.2 152.6,63.3 154.2,71.5 150.4,71.5" fill="#2ac0ad" fill-opacity="0.61"/>
<polygon points="150.4,71.5 154.2,71.5 155.7,78.9 152,79" fill="#15acda" fill-opacity="0.57"/>
<polygon points="152,79 155.7,78.9 157.2,85.3 153.5,85.5" fill="#288ff1" fill-opacity="0.54"/>
<polygon points="153.5,85.5 157.2,85.3 158.8,90.7 155,90.8" fill="#3773f6" fill-opacity="0.52"/>
<polygon points="155,90.8 158.8,90.7 160.3,95 156.6,95.2" fill="#435bf5" fill-opacity="0.50"/>
<polygon points="156.6,95.2 160.3,95 161.8,98.6 158.1,98.7" fill="#464ae6" fill-opacity="0.48"/>
<polygon points="158.1,98.7 161.8,98.6 163.3,101.4 159.6,101.6" fill="#433ed1" fill-opacity="0.47"/>
<polygon points="159.6,101.6 163.3,101.4 164.9,103.8 161.2,103.9" fill="#4135c1" fill-opacity="0.46"/>
<polygon points="161.2,103.9 164.9,103.8 166.4,105.7 162.7,105.8" fill="#3f2eb5" fill-opacity="0.46"/>
<polygon points="119.2,68.8 122.9,69.3 124.5,68.9 120.7,68.4" fill="#2693ee" fill-opacity="0.55"/>
<polygon points="120.7,68.4 124.5,68.9 126,68.3 122.3,67.7" fill="#2298e9" fill-opacity="0.55"/>
<polygon points="122.3,67.7 126,68.3 127.5,67.2 123.8,66.6" fill="#1da0e4" fill-opacity="0.56"/>
<polygon points="123.8,66.6 127.5,67.2 129,65.6 125.3,64.9" fill="#17a9dd" fill-opacity="0.57"/>
<polygon points="125.3,64.9 129,65.6 130.6,63.5 126.9,62.7" fill="#15b3d1" fill-opacity="0.58"/>
<polygon points="126.9,62.7 130.6,63.5 132.1,60.7 128.4,59.7" fill="#22bbbb" fill-opacity="0.60"/>
<polygon points="128.4,59.7 132.1,60.7 133.6,57.1 129.9,56.1" fill="#31c5a1" fill-opacity="0.61"/>
<polygon points="129.9,56.1 133.6,57.1 135.2,53 131.4,51.8" fill="#5fc877" fill-opacity="0.64"/>
<polygon points="131.4,51.8 135.2,53 136.7,48.5 133,47.2" fill="#9fc743" fill-opacity="0.66"/>
<polygon points="133,47.2 136.7,48.5 138.2,44 134.5,42.7" fill="#d1c538" fill-opacity="0.68"/>
<polygon points="134.5,42.7 138.2,44 139.7,40.4 136,39" fill="#fbc338" fill-opacity="0.70"/>
<polygon points="136,39 139.7,40.4 141.3,38.3 137.6,37" fill="#fbce33" fill-opacity="0.72"/>
<polygon points="137.6,37 141.3,38.3 142.8,38.6 139.1,37.6" fill="#f9d330" fill-opacity="0.73"/>
<polygon points="139.1,37.6 142.8,38.6 144.3,41.7 140.6,40.9" fill="#facf32" fill-opacity="0.72"/>
<polygon points="140.6,40.9 144.3,41.7 145.9,47.3 142.1,46.8" fill="#fbc338" fill-opacity="0.70"/>
<polygon points="142.1,46.8 145.9,47.3 147.4,54.9 143.7,54.6" fill="#c4c639" fill-opacity="0.68"/>
<polygon points="143.7,54.6 147.4,54.9 148.9,63.2 145.2,63.2" fill="#71c768" fill-opacity="0.64"/>
<polygon points="145.2,63.2 148.9,63.2 150.4,71.5 146.7,71.6" fill="#2ac0ad" fill-opacity="0.61"/>
<polygon points="146.7,71.6 150.4,71.5 152,79 148.3,79.2" fill="#15acda" fill-opacity="0.57"/>
<polygon points="148.3,79.2 152,79 153.5,85.5 149.8,85.7" fill="#288ff1" fill-opacity="0.54"/>
<polygon points="149.8,85.7 153.5,85.5 155,90.8 151.3,91" fill="#3873f6" fill-opacity="0.52"/>
<polygon points="151.3,91 155,90.8 156.6,95.2 152.8,95.3" fill="#435bf5" fill-opacity="0.50"/>
<polygon points="152.8,95.3 156.6,95.2 158.1,98.7 154.4,98.8" fill="#464ae6" fill-opacity="0.48"/>
<polygon points="154.4,98.8 158.1,98.7 159.6,101.6 155.9,101.7" fill="#433ed1" fill-opacity="0.47"/>
<polygon points="155.9,101.7 159.6,101.6 161.2,103.9 157.4,104" fill="#4135c1" fill-opacity="0.46"/>
<polygon points="157.4,104 161.2,103.9 162.7,105.8 159,105.9" fill="#3f2eb5" fill-opacity="0.46"/>
<polygon points="115.5,68.4 119.2,68.8 120.7,68.4 117,68" fill="#2495ec" fill-opacity="0.55"/>
<polygon points="117,68 120.7,68.4 122.3,67.7 118.5,67.2" fill="#209be7" fill-opacity="0.56"/>
<polygon points="118.5,67.2 122.3,67.7 123.8,66.6 120.1,66" fill="#1ba3e1" fill-opacity="0.56"/>
<polygon points="120.1,66 123.8,66.6 125.3,64.9 121.6,64.3" fill="#15acda" fill-opacity="0.57"/>
<polygon points="121.6,64.3 125.3,64.9 126.9,62.7 123.1,61.9" fill="#18b5cb" fill-opacity="0.59"/>
<polygon points="123.1,61.9 126.9,62.7 128.4,59.7 124.7,58.8" fill="#25bdb5" fill-opacity="0.60"/>
<polygon points="124.7,58.8 128.4,59.7 129.9,56.1 126.2,55" fill="#36c799" fill-opacity="0.62"/>
<polygon points="126.2,55 129.9,56.1 131.4,51.8 127.7,50.6" fill="#6ec76b" fill-opacity="0.64"/>
<polygon points="127.7,50.6 131.4,51.8 133,47.2 129.2,45.9" fill="#aec739" fill-opacity="0.66"/>
<polygon points="129.2,45.9 133,47.2 134.5,42.7 130.8,41.3" fill="#ddc538" fill-opacity="0.69"/>
<polygon points="130.8,41.3 134.5,42.7 136,39 132.3,37.7" fill="#fdc736" fill-opacity="0.71"/>
<polygon points="132.3,37.7 136,39 137.6,37 133.8,35.8" fill="#f9d330" fill-opacity="0.73"/>
<polygon points="133.8,35.8 137.6,37 139.1,37.6 135.4,36.6" fill="#f8d72e" fill-opacity="0.73"/>
<polygon points="135.4,36.6 139.1,37.6 140.6,40.9 136.9,40.2" fill="#f9d230" fill-opacity="0.73"/>
<polygon points="136.9,40.2 140.6,40.9 142.1,46.8 138.4,46.5" fill="#fec438" fill-opacity="0.71"/>
<polygon points="138.4,46.5 142.1,46.8 143.7,54.6 140,54.5" fill="#c8c639" fill-opacity="0.68"/>
<polygon points="140,54.5 143.7,54.6 145.2,63.2 141.5,63.3" fill="#73c766" fill-opacity="0.64"/>
<polygon points="141.5,63.3 145.2,63.2 146.7,71.6 143,71.8" fill="#2ac0ac" fill-opacity="0.61"/>
<polygon points="143,71.8 146.7,71.6 148.3,79.2 144.5,79.4" fill="#15abdb" fill-opacity="0.57"/>
<polygon points="144.5,79.4 148.3,79.2 149.8,85.7 146.1,85.9" fill="#298ef1" fill-opacity="0.54"/>
<polygon points="146.1,85.9 149.8,85.7 151.3,91 147.6,91.2" fill="#3872f6" fill-opacity="0.52"/>
<polygon points="147.6,91.2 151.3,91 152.8,95.3 149.1,95.5" fill="#445af5" fill-opacity="0.50"/>
<polygon points="149.1,95.5 152.8,95.3 154.4,98.8 150.7,99" fill="#4649e5" fill-opacity="0.48"/>
<polygon points="150.7,99 154.4,98.8 155.9,101.7 152.2,101.8" fill="#433dd0" fill-opacity="0.47"/>
<polygon points="152.2,101.8 155.9,101.7 157.4,104 153.7,104.1" fill="#4134c1" fill-opacity="0.46"/>
<polygon points="153.7,104.1 157.4,104 159,105.9 155.2,106" fill="#3f2db5" fill-opacity="0.46"/>
<polyline points="116.2,87.3 116.8,87.2 117.3,87.1 117.9,87 118.4,86.8 119,86.6 119.5,86.3 120,86 120.6,85.6 121.1,85.1 121.7,84.6 122.2,83.9 122.8,83.2 123.3,82.4 123.9,81.5 124.4,80.5 124.9,79.4 125.5,78.2 126,76.9 126.6,75.5 127.1,73.9 127.7,72.3 128.2,70.6 128.7,68.7 129.3,66.9 129.8,64.9 130.4,63 130.9,61.1 131.5,59.2 132,57.4 132.6,55.7 133.1,54.2 133.6,52.9 134.2,51.9 134.7,51.1 135.3,50.6 135.8,50.4 136.4,50.5 136.9,51 137.5,51.8 138,52.8 138.5,54.1 139.1,55.6 139.6,57.3 140.2,59.3 140.7,61.3 141.3,63.5 141.8,65.7 142.4,68 142.9,70.3 143.4,72.6 144,74.9 144.5,77.1 145.1,79.2 145.6,81.3 146.2,83.3 146.7,85.2 147.3,87 147.8,88.7 148.3,90.3 148.9,91.9 149.4,93.3 150,94.7 150.5,95.9 151.1,97.1 151.6,98.3 152.2,99.3 152.7,100.3 153.2,101.3 153.8,102.1 154.3,103 154.9,103.7 155.4,104.5 156,105.2 156.5,105.8 157.1,106.4 157.6,107 158.1,107.5 158.7,108 159.2,108.5 159.8,108.9 160.3,109.3 160.9,109.7 161.4,110.1 162,110.5 162.5,110.9 163,111.2 163.6,111.5 164.1,111.8 164.7,112.2 165.2,112.5" fill="none" stroke="#0000ff" stroke-width="2.4" stroke-linejoin="round" stroke-linecap="round"/>
<polyline points="116.2,69.6 116.8,69.5 117.3,69.5 117.9,69.4 118.4,69.3 119,69.1 119.5,68.9 120,68.6 120.6,68.3 121.1,68 121.7,67.5 122.2,67 122.8,66.4 123.3,65.8 123.9,65 124.4,64.2 124.9,63.3 125.5,62.3 126,61.2 126.6,60 127.1,58.7 127.7,57.4 128.2,55.9 128.7,54.4 129.3,52.9 129.8,51.3 130.4,49.7 130.9,48.1 131.5,46.6 132,45.2 132.6,43.9 133.1,42.8 133.6,41.9 134.2,41.3 134.7,40.8 135.3,40.7 135.8,41 136.4,41.5 136.9,42.4 137.5,43.6 138,45.2 138.5,47.1 139.1,49.2 139.6,51.7 140.2,54.3 140.7,57 141.3,59.9 141.8,62.8 142.4,65.7 142.9,68.6 143.4,71.4 144,74.2 144.5,76.8 145.1,79.3 145.6,81.7 146.2,84 146.7,86.1 147.3,88.1 147.8,89.9 148.3,91.6 148.9,93.2 149.4,94.7 150,96 150.5,97.3 151.1,98.5 151.6,99.6 152.2,100.6 152.7,101.6 153.2,102.4 153.8,103.3 154.3,104 154.9,104.7 155.4,105.4 156,106 156.5,106.6 157.1,107.2 157.6,107.7 158.1,108.1 158.7,108.6 159.2,109 159.8,109.4 160.3,109.8 160.9,110.2 161.4,110.5 162,110.9 162.5,111.2 163,111.5 163.6,111.8 164.1,112.1 164.7,112.4 165.2,112.7" fill="none" stroke="#ff0000" stroke-width="2.4" stroke-linejoin="round" stroke-linecap="round"/>
<polygon points="111.8,68.2 115.5,68.4 117,68 113.3,67.7" fill="#2397ea" fill-opacity="0.55"/>
<polygon points="113.3,67.7 117,68 118.5,67.2 114.8,66.8" fill="#1f9de5" fill-opacity="0.56"/>
<polygon points="114.8,66.8 118.5,67.2 120.1,66 116.4,65.6" fill="#1aa5df" fill-opacity="0.57"/>
<polygon points="116.4,65.6 120.1,66 121.6,64.3 117.9,63.7" fill="#13afd8" fill-opacity="0.58"/>
<polygon points="117.9,63.7 121.6,64.3 123.1,61.9 119.4,61.3" fill="#1bb7c6" fill-opacity="0.59"/>
<polygon points="119.4,61.3 123.1,61.9 124.7,58.8 120.9,58.1" fill="#29bfaf" fill-opacity="0.60"/>
<polygon points="120.9,58.1 124.7,58.8 126.2,55 122.5,54.1" fill="#3fc890" fill-opacity="0.62"/>
<polygon points="122.5,54.1 126.2,55 127.7,50.6 124,49.6" fill="#7cc75f" fill-opacity="0.65"/>
<polygon points="124,49.6 127.7,50.6 129.2,45.9 125.5,44.7" fill="#b9c639" fill-opacity="0.67"/>
<polygon points="125.5,44.7 129.2,45.9 130.8,41.3 127.1,40.1" fill="#e9c438" fill-opacity="0.70"/>
<polygon points="127.1,40.1 130.8,41.3 132.3,37.7 128.6,36.5" fill="#fccc34" fill-opacity="0.72"/>
<polygon points="128.6,36.5 132.3,37.7 133.8,35.8 130.1,34.9" fill="#f8d72e" fill-opacity="0.73"/>
<polygon points="130.1,34.9 133.8,35.8 135.4,36.6 131.6,35.9" fill="#f7da2c" fill-opacity="0.74"/>
<polygon points="131.6,35.9 135.4,36.6 136.9,40.2 133.2,39.8" fill="#f9d52f" fill-opacity="0.73"/>
<polygon points="133.2,39.8 136.9,40.2 138.4,46.5 134.7,46.4" fill="#fdc637" fill-opacity="0.71"/>
<polygon points="134.7,46.4 138.4,46.5 140,54.5 136.2,54.7" fill="#c9c539" fill-opacity="0.68"/>
<polygon points="136.2,54.7 140,54.5 141.5,63.3 137.8,63.6" fill="#73c767" fill-opacity="0.64"/>
<polygon points="137.8,63.6 141.5,63.3 143,71.8 139.3,72.2" fill="#2ac0ae" fill-opacity="0.61"/>
<polygon points="139.3,72.2 143,71.8 144.5,79.4 140.8,79.8" fill="#16aadb" fill-opacity="0.57"/>
<polygon points="140.8,79.8 144.5,79.4 146.1,85.9 142.3,86.2" fill="#298df2" fill-opacity="0.54"/>
<polygon points="142.3,86.2 146.1,85.9 147.6,91.2 143.9,91.5" fill="#3871f6" fill-opacity="0.52"/>
<polygon points="143.9,91.5 147.6,91.2 149.1,95.5 145.4,95.8" fill="#4459f5" fill-opacity="0.50"/>
<polygon points="145.4,95.8 149.1,95.5 150.7,99 146.9,99.2" fill="#4649e4" fill-opacity="0.48"/>
<polygon points="146.9,99.2 150.7,99 152.2,101.8 148.5,102" fill="#433dd0" fill-opacity="0.47"/>
<polygon points="148.5,102 152.2,101.8 153.7,104.1 150,104.3" fill="#4134c0" fill-opacity="0.46"/>
<polygon points="150,104.3 153.7,104.1 155.2,106 151.5,106.1" fill="#3f2db4" fill-opacity="0.46"/>
<polygon points="108,67.9 111.8,68.2 113.3,67.7 109.6,67.4" fill="#2299e9" fill-opacity="0.55"/>
<polygon points="109.6,67.4 113.3,67.7 114.8,66.8 111.1,66.5" fill="#1d9fe4" fill-opacity="0.56"/>
<polygon points="111.1,66.5 114.8,66.8 116.4,65.6 112.6,65.1" fill="#18a7de" fill-opacity="0.57"/>
<polygon points="112.6,65.1 116.4,65.6 117.9,63.7 114.2,63.2" fill="#12b1d6" fill-opacity="0.58"/>
<polygon points="114.2,63.2 117.9,63.7 119.4,61.3 115.7,60.6" fill="#1eb8c2" fill-opacity="0.59"/>
<polygon points="115.7,60.6 119.4,61.3 120.9,58.1 117.2,57.3" fill="#2cc1aa" fill-opacity="0.61"/>
<polygon points="117.2,57.3 120.9,58.1 122.5,54.1 118.8,53.2" fill="#4bc887" fill-opacity="0.63"/>
<polygon points="118.8,53.2 122.5,54.1 124,49.6 120.3,48.5" fill="#8ac754" fill-opacity="0.65"/>
<polygon points="120.3,48.5 124,49.6 125.5,44.7 121.8,43.6" fill="#c4c639" fill-opacity="0.68"/>
<polygon points="121.8,43.6 125.5,44.7 127.1,40.1 123.3,38.9" fill="#f5c438" fill-opacity="0.70"/>
<polygon points="123.3,38.9 127.1,40.1 128.6,36.5 124.9,35.4" fill="#fad032" fill-opacity="0.72"/>
<polygon points="124.9,35.4 128.6,36.5 130.1,34.9 126.4,33.9" fill="#f7db2c" fill-opacity="0.74"/>
<polygon points="126.4,33.9 130.1,34.9 131.6,35.9 127.9,35.2" fill="#f6dd2b" fill-opacity="0.74"/>
<polygon points="127.9,35.2 131.6,35.9 133.2,39.8 129.5,39.5" fill="#f8d72e" fill-opacity="0.73"/>
<polygon points="129.5,39.5 133.2,39.8 134.7,46.4 131,46.4" fill="#fdc736" fill-opacity="0.71"/>
<polygon points="131,46.4 134.7,46.4 136.2,54.7 132.5,55" fill="#c9c539" fill-opacity="0.68"/>
<polygon points="132.5,55 136.2,54.7 137.8,63.6 134,64" fill="#70c769" fill-opacity="0.64"/>
<polygon points="134,64 137.8,63.6 139.3,72.2 135.6,72.6" fill="#28bfb0" fill-opacity="0.60"/>
<polygon points="135.6,72.6 139.3,72.2 140.8,79.8 137.1,80.2" fill="#17a9dc" fill-opacity="0.57"/>
<polygon points="137.1,80.2 140.8,79.8 142.3,86.2 138.6,86.6" fill="#2a8cf3" fill-opacity="0.54"/>
<polygon points="138.6,86.6 142.3,86.2 143.9,91.5 140.2,91.8" fill="#396ff6" fill-opacity="0.52"/>
<polygon points="140.2,91.8 143.9,91.5 145.4,95.8 141.7,96" fill="#4558f5" fill-opacity="0.50"/>
<polygon points="141.7,96 145.4,95.8 146.9,99.2 143.2,99.4" fill="#4548e3" fill-opacity="0.48"/>
<polygon points="143.2,99.4 146.9,99.2 148.5,102 144.7,102.2" fill="#433ccf" fill-opacity="0.47"/>
<polygon points="144.7,102.2 148.5,102 150,104.3 146.3,104.4" fill="#4134bf" fill-opacity="0.46"/>
<polygon points="146.3,104.4 150,104.3 151.5,106.1 147.8,106.3" fill="#3f2db4" fill-opacity="0.46"/>
<polygon points="104.3,67.7 108,67.9 109.6,67.4 105.9,67.1" fill="#219be8" fill-opacity="0.56"/>
<polygon points="105.9,67.1 109.6,67.4 111.1,66.5 107.4,66.2" fill="#1ca1e3" fill-opacity="0.56"/>
<polygon points="107.4,66.2 111.1,66.5 112.6,65.1 108.9,64.7" fill="#17a9dc" fill-opacity="0.57"/>
<polygon points="108.9,64.7 112.6,65.1 114.2,63.2 110.4,62.7" fill="#14b3d2" fill-opacity="0.58"/>
<polygon points="110.4,62.7 114.2,63.2 115.7,60.6 112,60" fill="#20babd" fill-opacity="0.59"/>
<polygon points="112,60 115.7,60.6 117.2,57.3 113.5,56.5" fill="#2fc3a4" fill-opacity="0.61"/>
<polygon points="113.5,56.5 117.2,57.3 118.8,53.2 115,52.3" fill="#57c87d" fill-opacity="0.63"/>
<polygon points="115,52.3 118.8,53.2 120.3,48.5 116.6,47.4" fill="#97c749" fill-opacity="0.66"/>
<polygon points="116.6,47.4 120.3,48.5 121.8,43.6 118.1,42.4" fill="#cfc538" fill-opacity="0.68"/>
<polygon points="118.1,42.4 121.8,43.6 123.3,38.9 119.6,37.7" fill="#fec438" fill-opacity="0.71"/>
<polygon points="119.6,37.7 123.3,38.9 124.9,35.4 121.1,34.3" fill="#f9d42f" fill-opacity="0.73"/>
<polygon points="121.1,34.3 124.9,35.4 126.4,33.9 122.7,33" fill="#f6de2a" fill-opacity="0.74"/>
<polygon points="122.7,33 126.4,33.9 127.9,35.2 124.2,34.6" fill="#f5e029" fill-opacity="0.75"/>
<polygon points="124.2,34.6 127.9,35.2 129.5,39.5 125.7,39.2" fill="#f7d92d" fill-opacity="0.74"/>
<polygon points="125.7,39.2 129.5,39.5 131,46.4 127.3,46.4" fill="#fdc836" fill-opacity="0.71"/>
<polygon points="127.3,46.4 131,46.4 132.5,55 128.8,55.2" fill="#c9c639" fill-opacity="0.68"/>
<polygon points="128.8,55.2 132.5,55 134,64 130.3,64.4" fill="#6dc76b" fill-opacity="0.64"/>
<polygon points="130.3,64.4 134,64 135.6,72.6 131.9,73" fill="#27beb2" fill-opacity="0.60"/>
<polygon points="131.9,73 135.6,72.6 137.1,80.2 133.4,80.6" fill="#18a7de" fill-opacity="0.57"/>
<polygon points="133.4,80.6 137.1,80.2 138.6,86.6 134.9,86.9" fill="#2b8af4" fill-opacity="0.54"/>
<polygon points="134.9,86.9 138.6,86.6 140.2,91.8 136.4,92.1" fill="#3a6ef6" fill-opacity="0.52"/>
<polygon points="136.4,92.1 140.2,91.8 141.7,96 138,96.3" fill="#4557f4" fill-opacity="0.50"/>
<polygon points="138,96.3 141.7,96 143.2,99.4 139.5,99.6" fill="#4547e1" fill-opacity="0.48"/>
<polygon points="139.5,99.6 143.2,99.4 144.7,102.2 141,102.4" fill="#433cce" fill-opacity="0.47"/>
<polygon points="141,102.4 144.7,102.2 146.3,104.4 142.6,104.6" fill="#4133bf" fill-opacity="0.46"/>
<polygon points="142.6,104.6 146.3,104.4 147.8,106.3 144.1,106.4" fill="#3f2db3" fill-opacity="0.46"/>
<polygon points="100.6,67.5 104.3,67.7 105.9,67.1 102.1,66.8" fill="#1f9ce6" fill-opacity="0.56"/>
<polygon points="102.1,66.8 105.9,67.1 107.4,66.2 103.7,65.8" fill="#1ba3e1" fill-opacity="0.56"/>
<polygon points="103.7,65.8 107.4,66.2 108.9,64.7 105.2,64.3" fill="#15acda" fill-opacity="0.57"/>
<polygon points="105.2,64.3 108.9,64.7 110.4,62.7 106.7,62.1" fill="#16b4ce" fill-opacity="0.58"/>
<polygon points="106.7,62.1 110.4,62.7 112,60 108.3,59.3" fill="#23bcb9" fill-opacity="0.60"/>
<polygon points="108.3,59.3 112,60 113.5,56.5 109.8,55.7" fill="#33c59f" fill-opacity="0.62"/>
<polygon points="109.8,55.7 113.5,56.5 115,52.3 111.3,51.3" fill="#63c874" fill-opacity="0.64"/>
<polygon points="111.3,51.3 115,52.3 116.6,47.4 112.8,46.4" fill="#a5c73e" fill-opacity="0.66"/>
<polygon points="112.8,46.4 116.6,47.4 118.1,42.4 114.4,41.2" fill="#dac538" fill-opacity="0.69"/>
<polygon points="114.4,41.2 118.1,42.4 119.6,37.7 115.9,36.5" fill="#fdc836" fill-opacity="0.71"/>
<polygon points="115.9,36.5 119.6,37.7 121.1,34.3 117.4,33.2" fill="#f8d82d" fill-opacity="0.73"/>
<polygon points="117.4,33.2 121.1,34.3 122.7,33 119,32.1" fill="#f4e228" fill-opacity="0.75"/>
<polygon points="119,32.1 122.7,33 124.2,34.6 120.5,33.9" fill="#f4e327" fill-opacity="0.75"/>
<polygon points="120.5,33.9 124.2,34.6 125.7,39.2 122,38.9" fill="#f7db2c" fill-opacity="0.74"/>
<polygon points="122,38.9 125.7,39.2 127.3,46.4 123.5,46.5" fill="#fdc835" fill-opacity="0.71"/>
<polygon points="123.5,46.5 127.3,46.4 128.8,55.2 125.1,55.5" fill="#c8c639" fill-opacity="0.68"/>
<polygon points="125.1,55.5 128.8,55.2 130.3,64.4 126.6,64.7" fill="#6ac76e" fill-opacity="0.64"/>
<polygon points="126.6,64.7 130.3,64.4 131.9,73 128.1,73.4" fill="#26beb4" fill-opacity="0.60"/>
<polygon points="128.1,73.4 131.9,73 133.4,80.6 129.7,81" fill="#19a6df" fill-opacity="0.57"/>
<polygon points="129.7,81 133.4,80.6 134.9,86.9 131.2,87.3" fill="#2c89f5" fill-opacity="0.54"/>
<polygon points="131.2,87.3 134.9,86.9 136.4,92.1 132.7,92.4" fill="#3b6df6" fill-opacity="0.51"/>
<polygon points="132.7,92.4 136.4,92.1 138,96.3 134.3,96.5" fill="#4656f4" fill-opacity="0.50"/>
<polygon points="134.3,96.5 138,96.3 139.5,99.6 135.8,99.8" fill="#4547e0" fill-opacity="0.48"/>
<polygon points="135.8,99.8 139.5,99.6 141,102.4 137.3,102.5" fill="#423bcd" fill-opacity="0.47"/>
<polygon points="137.3,102.5 141,102.4 142.6,104.6 138.8,104.7" fill="#4133be" fill-opacity="0.46"/>
<polygon points="138.8,104.7 142.6,104.6 144.1,106.4 140.4,106.5" fill="#3f2cb3" fill-opacity="0.46"/>
<polygon points="96.9,67.2 100.6,67.5 102.1,66.8 98.4,66.5" fill="#1e9ee5" fill-opacity="0.56"/>
<polygon points="98.4,66.5 102.1,66.8 103.7,65.8 99.9,65.4" fill="#1aa5e0" fill-opacity="0.57"/>
<polygon points="99.9,65.4 103.7,65.8 105.2,64.3 101.5,63.8" fill="#14aed9" fill-opacity="0.57"/>
<polygon points="101.5,63.8 105.2,64.3 106.7,62.1 103,61.6" fill="#19b6ca" fill-opacity="0.59"/>
<polygon points="103,61.6 106.7,62.1 108.3,59.3 104.5,58.6" fill="#26beb4" fill-opacity="0.60"/>
<polygon points="104.5,58.6 108.3,59.3 109.8,55.7 106.1,54.9" fill="#36c799" fill-opacity="0.62"/>
<polygon points="106.1,54.9 109.8,55.7 111.3,51.3 107.6,50.3" fill="#6fc76a" fill-opacity="0.64"/>
<polygon points="107.6,50.3 111.3,51.3 112.8,46.4 109.1,45.3" fill="#b1c639" fill-opacity="0.67"/>
<polygon points="109.1,45.3 112.8,46.4 114.4,41.2 110.7,40" fill="#e5c438" fill-opacity="0.69"/>
<polygon points="110.7,40 114.4,41.2 115.9,36.5 112.2,35.3" fill="#fbcd33" fill-opacity="0.72"/>
<polygon points="112.2,35.3 115.9,36.5 117.4,33.2 113.7,32.1" fill="#f6dc2b" fill-opacity="0.74"/>
<polygon points="113.7,32.1 117.4,33.2 119,32.1 115.2,31.2" fill="#f5e526" fill-opacity="0.75"/>
<polygon points="115.2,31.2 119,32.1 120.5,33.9 116.8,33.3" fill="#f5e526" fill-opacity="0.75"/>
<polygon points="116.8,33.3 120.5,33.9 122,38.9 118.3,38.7" fill="#f6dc2b" fill-opacity="0.74"/>
<polygon points="118.3,38.7 122,38.9 123.5,46.5 119.8,46.5" fill="#fcc935" fill-opacity="0.71"/>
<polygon points="119.8,46.5 123.5,46.5 125.1,55.5 121.4,55.7" fill="#c8c639" fill-opacity="0.68"/>
<polygon points="121.4,55.7 125.1,55.5 126.6,64.7 122.9,65.1" fill="#67c770" fill-opacity="0.64"/>
<polygon points="122.9,65.1 126.6,64.7 128.1,73.4 124.4,73.8" fill="#25bdb6" fill-opacity="0.60"/>
<polygon points="124.4,73.8 128.1,73.4 129.7,81 125.9,81.4" fill="#1aa4e0" fill-opacity="0.57"/>
<polygon points="125.9,81.4 129.7,81 131.2,87.3 127.5,87.7" fill="#2d88f6" fill-opacity="0.54"/>
<polygon points="127.5,87.7 131.2,87.3 132.7,92.4 129,92.7" fill="#3b6bf6" fill-opacity="0.51"/>
<polygon points="129,92.7 132.7,92.4 134.3,96.5 130.5,96.8" fill="#4655f4" fill-opacity="0.49"/>
<polygon points="130.5,96.8 134.3,96.5 135.8,99.8 132.1,100.1" fill="#4546df" fill-opacity="0.48"/>
<polygon points="132.1,100.1 135.8,99.8 137.3,102.5 133.6,102.7" fill="#423bcc" fill-opacity="0.47"/>
<polygon points="133.6,102.7 137.3,102.5 138.8,104.7 135.1,104.9" fill="#4032bd" fill-opacity="0.46"/>
<polygon points="135.1,104.9 138.8,104.7 140.4,106.5 136.6,106.7" fill="#3f2cb2" fill-opacity="0.46"/>
<polygon points="93.2,67 96.9,67.2 98.4,66.5 94.7,66.2" fill="#1d9fe4" fill-opacity="0.56"/>
<polygon points="94.7,66.2 98.4,66.5 99.9,65.4 96.2,65.1" fill="#19a7de" fill-opacity="0.57"/>
<polygon points="96.2,65.1 99.9,65.4 101.5,63.8 97.8,63.4" fill="#12b0d7" fill-opacity="0.58"/>
<polygon points="97.8,63.4 101.5,63.8 103,61.6 99.3,61" fill="#1bb7c6" fill-opacity="0.59"/>
<polygon points="99.3,61 103,61.6 104.5,58.6 100.8,57.9" fill="#29bfaf" fill-opacity="0.60"/>
<polygon points="100.8,57.9 104.5,58.6 106.1,54.9 102.3,54" fill="#3ec891" fill-opacity="0.62"/>
<polygon points="102.3,54 106.1,54.9 107.6,50.3 103.9,49.3" fill="#7cc75f" fill-opacity="0.65"/>
<polygon points="103.9,49.3 107.6,50.3 109.1,45.3 105.4,44.1" fill="#bbc639" fill-opacity="0.67"/>
<polygon points="105.4,44.1 109.1,45.3 110.7,40 106.9,38.8" fill="#f0c438" fill-opacity="0.70"/>
<polygon points="106.9,38.8 110.7,40 112.2,35.3 108.5,34.1" fill="#fad131" fill-opacity="0.72"/>
<polygon points="108.5,34.1 112.2,35.3 113.7,32.1 110,31" fill="#f5e029" fill-opacity="0.75"/>
<polygon points="110,31 113.7,32.1 115.2,31.2 111.5,30.3" fill="#f5e824" fill-opacity="0.75"/>
<polygon points="111.5,30.3 115.2,31.2 116.8,33.3 113.1,32.8" fill="#f5e824" fill-opacity="0.75"/>
<polygon points="113.1,32.8 116.8,33.3 118.3,38.7 114.6,38.5" fill="#f6de2a" fill-opacity="0.74"/>
<polygon points="114.6,38.5 118.3,38.7 119.8,46.5 116.1,46.6" fill="#fcc935" fill-opacity="0.71"/>
<polygon points="116.1,46.6 119.8,46.5 121.4,55.7 117.6,56" fill="#c7c639" fill-opacity="0.68"/>
<polygon points="117.6,56 121.4,55.7 122.9,65.1 119.2,65.5" fill="#64c873" fill-opacity="0.64"/>
<polygon points="119.2,65.5 122.9,65.1 124.4,73.8 120.7,74.3" fill="#23bcb8" fill-opacity="0.60"/>
<polygon points="120.7,74.3 124.4,73.8 125.9,81.4 122.2,81.8" fill="#1ba3e1" fill-opacity="0.56"/>
<polygon points="122.2,81.8 125.9,81.4 127.5,87.7 123.8,88" fill="#2e86f7" fill-opacity="0.53"/>
<polygon points="123.8,88 127.5,87.7 129,92.7 125.3,93" fill="#3c6af5" fill-opacity="0.51"/>
<polygon points="125.3,93 129,92.7 130.5,96.8 126.8,97" fill="#4754f4" fill-opacity="0.49"/>
<polygon points="126.8,97 130.5,96.8 132.1,100.1 128.3,100.3" fill="#4545de" fill-opacity="0.48"/>
<polygon points="128.3,100.3 132.1,100.1 133.6,102.7 129.9,102.9" fill="#423acb" fill-opacity="0.47"/>
<polygon points="129.9,102.9 133.6,102.7 135.1,104.9 131.4,105" fill="#4032bd" fill-opacity="0.46"/>
<polygon points="131.4,105 135.1,104.9 136.6,106.7 132.9,106.8" fill="#3f2cb2" fill-opacity="0.46"/>
<polygon points="89.5,66.7 93.2,67 94.7,66.2 91,65.9" fill="#1ca1e3" fill-opacity="0.56"/>
<polygon points="91,65.9 94.7,66.2 96.2,65.1 92.5,64.7" fill="#17a9dd" fill-opacity="0.57"/>
<polygon points="92.5,64.7 96.2,65.1 97.8,63.4 94,62.9" fill="#13b2d4" fill-opacity="0.58"/>
<polygon points="94,62.9 97.8,63.4 99.3,61 95.6,60.4" fill="#1eb9c2" fill-opacity="0.59"/>
<polygon points="95.6,60.4 99.3,61 100.8,57.9 97.1,57.2" fill="#2cc1aa" fill-opacity="0.61"/>
<polygon points="97.1,57.2 100.8,57.9 102.3,54 98.6,53.2" fill="#49c888" fill-opacity="0.63"/>
<polygon points="98.6,53.2 102.3,54 103.9,49.3 100.2,48.3" fill="#88c755" fill-opacity="0.65"/>
<polygon points="100.2,48.3 103.9,49.3 105.4,44.1 101.7,43" fill="#c5c639" fill-opacity="0.68"/>
<polygon points="101.7,43 105.4,44.1 106.9,38.8 103.2,37.6" fill="#fbc338" fill-opacity="0.70"/>
<polygon points="103.2,37.6 106.9,38.8 108.5,34.1 104.7,32.9" fill="#f8d52f" fill-opacity="0.73"/>
<polygon points="104.7,32.9 108.5,34.1 110,31 106.3,29.9" fill="#f5e427" fill-opacity="0.75"/>
<polygon points="106.3,29.9 110,31 111.5,30.3 107.8,29.4" fill="#f6eb21" fill-opacity="0.75"/>
<polygon points="107.8,29.4 111.5,30.3 113.1,32.8 109.3,32.2" fill="#f6ea22" fill-opacity="0.75"/>
<polygon points="109.3,32.2 113.1,32.8 114.6,38.5 110.9,38.3" fill="#f5df29" fill-opacity="0.75"/>
<polygon points="110.9,38.3 114.6,38.5 116.1,46.6 112.4,46.7" fill="#fcca35" fill-opacity="0.72"/>
<polygon points="112.4,46.7 116.1,46.6 117.6,56 113.9,56.4" fill="#c6c639" fill-opacity="0.68"/>
<polygon points="113.9,56.4 117.6,56 119.2,65.5 115.4,65.9" fill="#60c876" fill-opacity="0.64"/>
<polygon points="115.4,65.9 119.2,65.5 120.7,74.3 117,74.7" fill="#22bbbb" fill-opacity="0.60"/>
<polygon points="117,74.7 120.7,74.3 122.2,81.8 118.5,82.2" fill="#1ca1e2" fill-opacity="0.56"/>
<polygon points="118.5,82.2 122.2,81.8 123.8,88 120,88.3" fill="#2f85f7" fill-opacity="0.53"/>
<polygon points="120,88.3 123.8,88 125.3,93 121.6,93.3" fill="#3d68f5" fill-opacity="0.51"/>
<polygon points="121.6,93.3 125.3,93 126.8,97 123.1,97.3" fill="#4853f4" fill-opacity="0.49"/>
<polygon points="123.1,97.3 126.8,97 128.3,100.3 124.6,100.5" fill="#4545dd" fill-opacity="0.48"/>
<polygon points="124.6,100.5 128.3,100.3 129.9,102.9 126.2,103.1" fill="#423aca" fill-opacity="0.47"/>
<polygon points="126.2,103.1 129.9,102.9 131.4,105 127.7,105.2" fill="#4032bc" fill-opacity="0.46"/>
<polygon points="127.7,105.2 131.4,105 132.9,106.8 129.2,106.9" fill="#3f2cb1" fill-opacity="0.46"/>
<polyline points="91.1,87.1 91.7,87 92.2,86.8 92.8,86.5 93.3,86.2 93.9,85.9 94.4,85.5 94.9,85 95.5,84.4 96,83.8 96.6,83 97.1,82.2 97.7,81.2 98.2,80.2 98.8,79 99.3,77.7 99.8,76.3 100.4,74.8 100.9,73.2 101.5,71.4 102,69.5 102.6,67.6 103.1,65.5 103.7,63.4 104.2,61.3 104.7,59.1 105.3,57 105.8,55 106.4,53 106.9,51.2 107.5,49.6 108,48.3 108.6,47.2 109.1,46.4 109.6,46 110.2,46 110.7,46.2 111.3,46.9 111.8,47.8 112.4,49 112.9,50.5 113.5,52.3 114,54.2 114.5,56.4 115.1,58.7 115.6,61.1 116.2,63.5 116.7,66 117.3,68.5 117.8,71 118.4,73.4 118.9,75.8 119.4,78.1 120,80.3 120.5,82.4 121.1,84.4 121.6,86.3 122.2,88.1 122.7,89.8 123.3,91.4 123.8,93 124.3,94.4 124.9,95.7 125.4,96.9 126,98.1 126.5,99.2 127.1,100.2 127.6,101.2 128.2,102.1 128.7,103 129.2,103.8 129.8,104.5 130.3,105.2 130.9,105.9 131.4,106.5 132,107.1 132.5,107.7 133.1,108.2 133.6,108.7 134.1,109.1 134.7,109.6 135.2,110 135.8,110.4 136.3,110.7 136.9,111.1 137.4,111.5 138,111.8 138.5,112.1 139,112.4 139.6,112.7 140.1,113" fill="none" stroke="#0000ff" stroke-width="2.4" stroke-linejoin="round" stroke-linecap="round"/>
<polyline points="91.1,68.4 91.7,68.3 92.2,68.1 92.8,67.9 93.3,67.7 93.9,67.4 94.4,67.1 94.9,66.7 95.5,66.2 96,65.6 96.6,65 97.1,64.3 97.7,63.5 98.2,62.6 98.8,61.6 99.3,60.5 99.8,59.4 100.4,58.1 100.9,56.7 101.5,55.2 102,53.6 102.6,52 103.1,50.3 103.7,48.5 104.2,46.8 104.7,45 105.3,43.4 105.8,41.8 106.4,40.3 106.9,39 107.5,38 108,37.1 108.6,36.6 109.1,36.4 109.6,36.5 110.2,37 110.7,37.9 111.3,39.2 111.8,40.8 112.4,42.8 112.9,45.1 113.5,47.7 114,50.5 114.5,53.4 115.1,56.5 115.6,59.6 116.2,62.8 116.7,65.9 117.3,68.9 117.8,71.9 118.4,74.7 118.9,77.4 119.4,80 120,82.4 120.5,84.7 121.1,86.8 121.6,88.8 122.2,90.6 122.7,92.3 123.3,93.8 123.8,95.3 124.3,96.6 124.9,97.9 125.4,99 126,100.1 126.5,101.1 127.1,102 127.6,102.8 128.2,103.7 128.7,104.4 129.2,105.1 129.8,105.8 130.3,106.4 130.9,107 131.4,107.5 132,108 132.5,108.5 133.1,108.9 133.6,109.4 134.1,109.8 134.7,110.1 135.2,110.5 135.8,110.9 136.3,111.2 136.9,111.5 137.4,111.8 138,112.1 138.5,112.4 139,112.7 139.6,113 140.1,113.3" fill="none" stroke="#ff0000" stroke-width="2.4" stroke-linejoin="round" stroke-linecap="round"/>
</g>
<polyline points="92,65.1 95,65.4 98,65.7 100.9,66 103.9,66.2 106.9,66.5 109.9,66.8 112.8,67 115.8,67.3 118.8,67.5 121.8,68 124.7,68.4 127.7,68.9 130.7,69.3 133.7,69.7 136.6,70.1 139.6,70.6 142.6,71 145.6,71.4 148.5,71.7 151.5,72.1 154.5,72.4 157.5,72.8 160.4,73.1 163.4,73.5 166.4,73.9 169.4,74.2 172.3,74.4 175.3,74.5 178.3,74.7 181.3,74.9 184.2,75 187.2,75.2 190.2,75.4 193.2,75.5 196.1,75.7 199.1,75.9 202.1,76.1 205.1,76.3 208,76.5 211,76.7 214,76.9 217,77.1 219.9,77.2 222.9,77 225.9,76.9 228.9,76.7 231.8,76.5 234.8,76.3 237.8,76.1 240.8,75.8 243.7,75.6 246.7,75.7 249.7,75.8 252.7,75.9 255.6,76 258.6,76.2 261.6,76.3 264.6,76.5 267.5,76.6 270.5,76.7" fill="none" stroke="#1a3a4a" stroke-width="0.6" stroke-linejoin="round" stroke-linecap="round" stroke-opacity="0.6"/>
<polyline points="95.6,60.4 98.6,60.8 101.6,61.3 104.5,61.7 107.5,62.2 110.5,62.6 113.5,63.1 116.4,63.5 119.4,63.9 122.4,64.3 125.4,64.9 128.3,65.5 131.3,66 134.3,66.6 137.3,67.1 140.2,67.7 143.2,68.2 146.2,68.8 149.2,69.3 152.1,69.7 155.1,70.1 158.1,70.6 161.1,71 164,71.4 167,71.8 170,72.3 173,72.6 175.9,72.9 178.9,73.1 181.9,73.3 184.9,73.5 187.8,73.7 190.8,74 193.8,74.2 196.8,74.4 199.7,74.7 202.7,75 205.7,75.3 208.7,75.6 211.6,75.9 214.6,76.2 217.6,76.5 220.6,76.8 223.5,77 226.5,76.8 229.5,76.7 232.5,76.6 235.4,76.4 238.4,76.3 241.4,76.1 244.4,76 247.3,75.8 250.3,75.8 253.3,75.8 256.3,75.9 259.2,75.9 262.2,76 265.2,76.1 268.2,76.2 271.1,76.3 274.1,76.4" fill="none" stroke="#1a3a4a" stroke-width="0.6" stroke-linejoin="round" stroke-linecap="round" stroke-opacity="0.6"/>
<polyline points="99.2,51.4 102.2,52.2 105.2,52.9 108.1,53.6 111.1,54.3 114.1,55 117.1,55.7 120,56.3 123,57 126,57.7 129,58.4 131.9,59.2 134.9,60 137.9,60.8 140.9,61.5 143.8,62.3 146.8,63 149.8,63.8 152.8,64.4 155.7,65 158.7,65.5 161.7,66.1 164.7,66.6 167.6,67.1 170.6,67.7 173.6,68.2 176.6,68.7 179.5,69 182.5,69.3 185.5,69.6 188.5,69.9 191.4,70.2 194.4,70.5 197.4,70.8 200.4,71.1 203.3,71.6 206.3,72.1 209.3,72.6 212.3,73.1 215.2,73.5 218.2,74 221.2,74.5 224.2,74.9 227.1,75.3 230.1,75.3 233.1,75.3 236.1,75.3 239,75.3 242,75.2 245,75.2 248,75.1 250.9,75.1 253.9,75 256.9,75 259.9,75 262.8,75 265.8,75 268.8,75.1 271.8,75.2 274.7,75.3 277.7,75.4" fill="none" stroke="#1a3a4a" stroke-width="0.6" stroke-linejoin="round" stroke-linecap="round" stroke-opacity="0.6"/>
<polyline points="104.8,32.7 107.8,33.6 110.8,34.6 113.8,35.5 116.7,36.5 119.7,37.5 122.7,38.4 125.7,39.4 128.6,40.3 131.6,41.3 134.6,42.4 137.6,43.5 140.5,44.6 143.5,45.7 146.5,46.7 149.5,47.8 152.4,48.9 155.4,49.9 158.4,50.9 161.4,51.6 164.3,52.4 167.3,53.2 170.3,54 173.3,54.8 176.2,55.5 179.2,56.3 182.2,57.1 185.2,57.6 188.1,58.1 191.1,58.6 194.1,59.1 197.1,59.6 200,60.1 203,60.6 206,61.1 209,62 211.9,62.9 214.9,63.8 217.9,64.8 220.9,65.7 223.8,66.6 226.8,67.5 229.8,68.4 232.8,69.1 235.7,69.5 238.7,69.8 241.7,70.1 244.7,70.4 247.6,70.7 250.6,71 253.6,71.3 256.6,71.6 259.5,71.7 262.5,71.8 265.5,72 268.5,72.2 271.4,72.5 274.4,72.8 277.4,73.2 280.4,73.7 283.3,74" fill="none" stroke="#1a3a4a" stroke-width="0.6" stroke-linejoin="round" stroke-linecap="round" stroke-opacity="0.6"/>
<polyline points="102.3,40.9 105.3,41.8 108.2,42.8 111.2,43.7 114.2,44.6 117.2,45.5 120.1,46.4 123.1,47.3 126.1,48.2 129.1,49 132,50 135,51 138,52 141,53 143.9,54 146.9,54.9 149.9,55.9 152.9,56.8 155.8,57.6 158.8,58.3 161.8,59 164.8,59.6 167.7,60.3 170.7,61 173.7,61.7 176.7,62.3 179.6,63 182.6,63.4 185.6,63.8 188.6,64.2 191.5,64.6 194.5,65 197.5,65.4 200.5,65.8 203.4,66.2 206.4,66.9 209.4,67.6 212.4,68.3 215.3,69 218.3,69.7 221.3,70.4 224.3,71.1 227.2,71.8 230.2,72.3 233.2,72.5 236.2,72.7 239.1,72.9 242.1,73 245.1,73.2 248.1,73.3 251,73.4 254,73.5 257,73.5 260,73.5 262.9,73.5 265.9,73.5 268.9,73.6 271.9,73.8 274.8,74 277.8,74.2 280.8,74.4" fill="none" stroke="#d040d0" stroke-width="0.8" stroke-linejoin="round" stroke-linecap="round" stroke-opacity="0.6"/>
<polyline points="119,84.1 121.9,83.8 124.9,83.5 127.9,83.2 130.9,82.9 133.8,82.6 136.8,82.2 139.8,81.9 142.8,81.6 145.7,81.3 148.7,81.2 151.7,81.1 154.7,80.9 157.6,80.8 160.6,80.7 163.6,80.6 166.6,80.5 169.5,80.4 172.5,80.4 175.5,80.5 178.5,80.5 181.4,80.6 184.4,80.7 187.4,80.8 190.4,80.8 193.3,80.9 196.3,81 199.3,81.2 202.3,81.3 205.2,81.4 208.2,81.6 211.2,81.7 214.2,81.9 217.1,82 220.1,82.2 223.1,82.4 226.1,82.8 229,83.1 232,83.5 235,83.8 238,84.2 240.9,84.6 243.9,85 246.9,85.4 249.9,85.6 252.8,85.8 255.8,86 258.8,86.2 261.8,86.4 264.7,86.5 267.7,86.7 270.7,86.8 273.7,87.9 276.6,89.1 279.6,90.2 282.6,91.3 285.6,92.2 288.5,93.1 291.5,93.8 294.5,94.5 297.5,94.8" fill="none" stroke="#e030e0" stroke-width="1.5" stroke-linejoin="round" stroke-linecap="round" stroke-opacity="0.9"/>
<polyline points="119,84.9 121.9,84.6 124.9,84.3 127.9,84 130.9,83.7 133.8,83.4 136.8,83 139.8,82.7 142.8,82.4 145.7,82.1 148.7,82 151.7,81.9 154.7,81.7 157.6,81.6 160.6,81.5 163.6,81.4 166.6,81.3 169.5,81.2 172.5,81.2 175.5,81.3 178.5,81.3 181.4,81.4 184.4,81.5 187.4,81.6 190.4,81.6 193.3,81.7 196.3,81.8 199.3,82 202.3,82.1 205.2,82.2 208.2,82.4 211.2,82.5 214.2,82.7 217.1,82.8 220.1,83 223.1,83.2 226.1,83.6 229,83.9 232,84.3 235,84.6 238,85 240.9,85.4 243.9,85.8 246.9,86.2 249.9,86.4 252.8,86.6 255.8,86.8 258.8,87 261.8,87.2 264.7,87.3 267.7,87.5 270.7,87.6 273.7,88.7 276.6,89.9 279.6,91 282.6,92.1 285.6,93 288.5,93.9 291.5,94.6 294.5,95.3 297.5,95.6" fill="none" stroke="#222222" stroke-width="0.7" stroke-linejoin="round" stroke-linecap="round" stroke-dasharray="0.7 0.7" stroke-opacity="0.8"/>
<polyline points="124.1,99.4 127.1,99.2 130,99.1 133,98.9 136,98.7 139,98.5 141.9,98.3 144.9,98.2 147.9,98 150.9,97.8 153.8,97.7 156.8,97.6 159.8,97.5 162.8,97.3 165.7,97.2 168.7,97.1 171.7,97 174.7,96.9 177.6,96.8 180.6,96.8 183.6,96.7 186.6,96.6 189.5,96.6 192.5,96.5 195.5,96.5 198.5,96.4 201.4,96.4 204.4,96.4 207.4,96.3 210.4,96.3 213.3,96.3 216.3,96.2 219.3,96.2 222.3,96.2 225.2,96.2 228.2,96.2 231.2,96.3 234.2,96.4 237.1,96.5 240.1,96.6 243.1,96.7 246.1,96.8 249,96.9 252,97 255,97.1 258,97.2 260.9,97.3 263.9,97.4 266.9,97.4 269.9,97.5 272.8,97.6 275.8,97.6 278.8,98.1 281.8,98.6 284.7,99.1 287.7,99.5 290.7,99.8 293.7,100.1 296.6,100.4 299.6,100.6 302.6,100.6" fill="none" stroke="#e030e0" stroke-width="1.5" stroke-linejoin="round" stroke-linecap="round" stroke-opacity="0.9"/>
<polyline points="124.1,100.2 127.1,100 130,99.9 133,99.7 136,99.5 139,99.3 141.9,99.1 144.9,99 147.9,98.8 150.9,98.6 153.8,98.5 156.8,98.4 159.8,98.3 162.8,98.1 165.7,98 168.7,97.9 171.7,97.8 174.7,97.7 177.6,97.6 180.6,97.6 183.6,97.5 186.6,97.4 189.5,97.4 192.5,97.3 195.5,97.3 198.5,97.2 201.4,97.2 204.4,97.2 207.4,97.1 210.4,97.1 213.3,97.1 216.3,97 219.3,97 222.3,97 225.2,97 228.2,97 231.2,97.1 234.2,97.2 237.1,97.3 240.1,97.4 243.1,97.5 246.1,97.6 249,97.7 252,97.8 255,97.9 258,98 260.9,98.1 263.9,98.2 266.9,98.2 269.9,98.3 272.8,98.4 275.8,98.4 278.8,98.9 281.8,99.4 284.7,99.9 287.7,100.3 290.7,100.6 293.7,100.9 296.6,101.2 299.6,101.4 302.6,101.4" fill="none" stroke="#222222" stroke-width="0.7" stroke-linejoin="round" stroke-linecap="round" stroke-dasharray="0.7 0.7" stroke-opacity="0.8"/>
<polyline points="129.2,106.9 132.2,106.8 135.2,106.7 138.1,106.6 141.1,106.5 144.1,106.4 147.1,106.3 150,106.2 153,106.1 156,106 159,105.9 161.9,105.8 164.9,105.7 167.9,105.6 170.9,105.6 173.8,105.5 176.8,105.4 179.8,105.3 182.8,105.2 185.7,105.2 188.7,105.1 191.7,105 194.7,104.9 197.6,104.9 200.6,104.8 203.6,104.7 206.6,104.6 209.5,104.6 212.5,104.5 215.5,104.4 218.5,104.4 221.4,104.3 224.4,104.2 227.4,104.2 230.4,104.1 233.3,104.1 236.3,104.1 239.3,104.1 242.3,104.1 245.2,104 248.2,104 251.2,104 254.2,104 257.1,104 260.1,104 263.1,104 266.1,104 269,104 272,104 275,104 278,104 280.9,104 283.9,104.2 286.9,104.3 289.9,104.4 292.8,104.5 295.8,104.6 298.8,104.6 301.8,104.7 304.7,104.7 307.7,104.7" fill="none" stroke="#e030e0" stroke-width="1.5" stroke-linejoin="round" stroke-linecap="round" stroke-opacity="0.9"/>
<polyline points="129.2,107.7 132.2,107.6 135.2,107.5 138.1,107.4 141.1,107.3 144.1,107.2 147.1,107.1 150,107 153,106.9 156,106.8 159,106.7 161.9,106.6 164.9,106.5 167.9,106.4 170.9,106.4 173.8,106.3 176.8,106.2 179.8,106.1 182.8,106 185.7,106 188.7,105.9 191.7,105.8 194.7,105.7 197.6,105.7 200.6,105.6 203.6,105.5 206.6,105.4 209.5,105.4 212.5,105.3 215.5,105.2 218.5,105.2 221.4,105.1 224.4,105 227.4,105 230.4,104.9 233.3,104.9 236.3,104.9 239.3,104.9 242.3,104.9 245.2,104.8 248.2,104.8 251.2,104.8 254.2,104.8 257.1,104.8 260.1,104.8 263.1,104.8 266.1,104.8 269,104.8 272,104.8 275,104.8 278,104.8 280.9,104.8 283.9,105 286.9,105.1 289.9,105.2 292.8,105.3 295.8,105.4 298.8,105.4 301.8,105.5 304.7,105.5 307.7,105.5" fill="none" stroke="#222222" stroke-width="0.7" stroke-linejoin="round" stroke-linecap="round" stroke-dasharray="0.7 0.7" stroke-opacity="0.8"/>
<polyline points="107.3,27.7 110.3,28.4 113.3,29.2 116.3,29.9 119.7,30.7 122.7,31.4 125.7,32.1 128.7,32.9 131.6,33.7 135.1,34.4 138.1,35.3 141.1,36.3 144,37.2 147,38.2 150.5,39.2 153.5,40.1 156.4,41 159.4,41.9 162.4,42.8 165.4,43.6 168.3,44.4 171.3,45.2 174.8,46 177.8,46.8 180.7,47.6 183.7,48.4 186.7,49.1 189.7,49.8 192.6,50.4 195.6,51 198.6,51.6 201.6,52.2 204.5,52.9 207.5,53.5 210.5,54.1 213.5,55.1 216.4,56.2 219.4,57.3 222.4,58.4 225.4,59.5 228.3,60.6 231.3,61.8 234.3,62.9 237.3,63.8 240.2,64.3 243.2,64.8 246.2,65.3 249.2,65.7 252.1,66.2 255.1,66.7 258.1,67.2 261.1,67.6 263.5,68.2 266,68.8 268.5,69.4 271,69.9 273.5,70.5 275.9,71 278.4,71.6 280.9,72.1 283.4,72.4" fill="none" stroke="#ee44ee" stroke-width="0.9" stroke-linejoin="round" stroke-linecap="round" stroke-dasharray="0.7 1.1"/>
<polyline points="107.3,29.7 110.3,30.4 113.3,31.2 116.3,31.9 119.7,32.7 122.7,33.4 125.7,34.1 128.7,34.9 131.6,35.7 135.1,36.4 138.1,37.3 141.1,38.3 144,39.2 147,40.2 150.5,41.2 153.5,42.1 156.4,43 159.4,43.9 162.4,44.8 165.4,45.6 168.3,46.4 171.3,47.2 174.8,48 177.8,48.8 180.7,49.6 183.7,50.4 186.7,51.1 189.7,51.8 192.6,52.4 195.6,53 198.6,53.6 201.6,54.2 204.5,54.9 207.5,55.5 210.5,56.1 213.5,57.1 216.4,58.2 219.4,59.3 222.4,60.4 225.4,61.5 228.3,62.6 231.3,63.8 234.3,64.9 237.3,65.8 240.2,66.3 243.2,66.8 246.2,67.3 249.2,67.7 252.1,68.2 255.1,68.7 258.1,69.2 261.1,69.6 263.5,70.2 266,70.8 268.5,71.4 271,71.9 273.5,72.5 275.9,73 278.4,73.6 280.9,74.1 283.4,74.4" fill="none" stroke="#222222" stroke-width="0.7" stroke-linejoin="round" stroke-linecap="round" stroke-dasharray="0.7 0.9" stroke-opacity="0.8"/>
<polyline points="116.2,87.3 116.9,87.2 117.6,87 118.3,86.8 119,86.5 119.7,86.2 120.4,85.7 121.1,85.1 121.8,84.4 122.5,83.5 123.2,82.5 123.9,81.4 124.6,80.1 125.3,78.5 126,76.9 126.7,75 127.4,72.9 128.1,70.7 128.8,68.4 129.6,66 130.3,63.5 131,61 131.7,58.6 132.4,56.4 133.1,54.4 133.8,52.7 134.5,51.4 135.2,50.7 135.9,50.4 136.6,50.7 137.3,51.4" fill="none" stroke="#2860e8" stroke-width="2.2" stroke-linejoin="round" stroke-linecap="round" stroke-opacity="0.8"/>
<polyline points="117.3,69.5 117.9,69.4 118.5,69.2 119.2,69 119.8,68.8 120.4,68.4 121.1,68 121.7,67.5 122.3,66.9 122.9,66.2 123.6,65.4 124.2,64.5 124.8,63.5 125.5,62.3 126.1,61 126.7,59.6 127.4,58.1 128,56.4 128.6,54.7 129.3,52.9 129.9,51.1 130.5,49.2 131.2,47.4 131.8,45.8 132.4,44.2 133.1,42.9 133.7,41.8 134.3,41.1 135,40.8 135.6,40.8 136.2,41.3" fill="none" stroke="#c8683c" stroke-width="2.2" stroke-linejoin="round" stroke-linecap="round" stroke-opacity="0.8"/>
<polyline points="141.3,86.9 142,86.9 142.7,86.8 143.4,86.6 144.1,86.3 144.8,86 145.5,85.6 146.2,85.1 146.9,84.5 147.6,83.7 148.3,82.8 149,81.8 149.7,80.6 150.4,79.2 151.1,77.7 151.8,76 152.5,74.2 153.2,72.2 153.9,70.1 154.6,67.8 155.3,65.6 156,63.3 156.7,61.2 157.4,59.1 158.1,57.3 158.8,55.8 159.5,54.7 160.3,54 161,53.8 161.7,54.1 162.4,54.8" fill="none" stroke="#2860e8" stroke-width="2.2" stroke-linejoin="round" stroke-linecap="round" stroke-opacity="0.8"/>
<polyline points="142.3,72.4 143,72.4 143.6,72.4 144.2,72.3 144.9,72.1 145.5,71.9 146.1,71.6 146.8,71.3 147.4,70.9 148,70.4 148.7,69.8 149.3,69.1 149.9,68.4 150.6,67.5 151.2,66.5 151.8,65.4 152.5,64.2 153.1,62.8 153.7,61.4 154.4,59.9 155,58.3 155.6,56.7 156.3,55.1 156.9,53.5 157.5,52 158.2,50.6 158.8,49.3 159.4,48.4 160.1,47.6 160.7,47.2 161.3,47.2" fill="none" stroke="#c8683c" stroke-width="2.2" stroke-linejoin="round" stroke-linecap="round" stroke-opacity="0.8"/>
<polyline points="166.4,86.6 167.1,86.6 167.8,86.5 168.5,86.4 169.2,86.2 169.9,86 170.6,85.6 171.3,85.2 172,84.7 172.7,84 173.4,83.3 174.1,82.4 174.8,81.3 175.5,80.2 176.2,78.8 176.9,77.4 177.6,75.7 178.3,74 179,72.1 179.7,70.2 180.4,68.2 181.1,66.2 181.8,64.3 182.5,62.5 183.2,60.9 183.9,59.6 184.6,58.7 185.3,58.1 186,57.9 186.7,58.2 187.4,58.9" fill="none" stroke="#2860e8" stroke-width="2.2" stroke-linejoin="round" stroke-linecap="round" stroke-opacity="0.8"/>
<polyline points="167.4,75.1 168.1,75.1 168.7,75.1 169.3,75.1 170,75 170.6,74.8 171.2,74.7 171.9,74.4 172.5,74.1 173.1,73.7 173.8,73.3 174.4,72.7 175,72.1 175.7,71.4 176.3,70.6 176.9,69.7 177.6,68.6 178.2,67.5 178.8,66.3 179.5,65 180.1,63.7 180.7,62.3 181.4,60.8 182,59.4 182.6,58 183.3,56.7 183.9,55.6 184.5,54.6 185.2,53.9 185.8,53.4 186.4,53.2" fill="none" stroke="#c8683c" stroke-width="2.2" stroke-linejoin="round" stroke-linecap="round" stroke-opacity="0.8"/>
<polyline points="191.5,86.4 192.2,86.4 192.9,86.4 193.6,86.3 194.3,86.2 195,86 195.7,85.8 196.4,85.5 197.1,85.1 197.8,84.6 198.5,84 199.2,83.2 199.9,82.4 200.6,81.4 201.3,80.3 202,79.1 202.7,77.8 203.4,76.3 204.1,74.8 204.8,73.2 205.5,71.5 206.2,69.9 206.9,68.3 207.6,66.8 208.3,65.5 209,64.5 209.7,63.7 210.4,63.2 211.1,63.1 211.8,63.4 212.5,64" fill="none" stroke="#2860e8" stroke-width="2.2" stroke-linejoin="round" stroke-linecap="round" stroke-opacity="0.8"/>
<polyline points="192.5,76.2 193.2,76.2 193.8,76.3 194.4,76.3 195.1,76.2 195.7,76.1 196.3,76 197,75.8 197.6,75.6 198.2,75.3 198.9,74.9 199.5,74.5 200.1,73.9 200.8,73.3 201.4,72.6 202,71.9 202.7,71 203.3,70 203.9,69 204.6,67.9 205.2,66.7 205.8,65.5 206.4,64.3 207.1,63.1 207.7,61.9 208.3,60.8 209,59.8 209.6,59 210.2,58.3 210.9,57.9 211.5,57.8" fill="none" stroke="#c8683c" stroke-width="2.2" stroke-linejoin="round" stroke-linecap="round" stroke-opacity="0.8"/>
<polyline points="216.6,86.3 217.3,86.4 218,86.5 218.8,86.6 219.5,86.6 220.2,86.5 220.9,86.5 221.6,86.3 222.3,86.1 223.1,85.8 223.8,85.4 224.5,85 225.2,84.4 225.9,83.8 226.7,83 227.4,82.2 228.1,81.2 228.8,80.2 229.5,79 230.2,77.8 231,76.6 231.7,75.4 232.4,74.2 233.1,73 233.8,72.1 234.6,71.2 235.3,70.7 236,70.3 236.7,70.3 237.4,70.6 238.1,71.1" fill="none" stroke="#2860e8" stroke-width="2.2" stroke-linejoin="round" stroke-linecap="round" stroke-opacity="0.8"/>
<polyline points="217.6,77.6 218.3,77.7 218.9,77.8 219.6,77.9 220.2,78 220.9,78 221.5,78 222.2,78 222.8,77.9 223.5,77.8 224.1,77.6 224.8,77.4 225.4,77.1 226.1,76.7 226.7,76.3 227.4,75.9 228,75.3 228.7,74.7 229.3,74 230,73.3 230.6,72.5 231.3,71.7 231.9,70.9 232.6,70.1 233.2,69.3 233.9,68.6 234.5,67.9 235.2,67.4 235.8,67 236.5,66.9 237.1,66.9" fill="none" stroke="#c8683c" stroke-width="2.2" stroke-linejoin="round" stroke-linecap="round" stroke-opacity="0.8"/>
<polyline points="241.7,86 242.3,86.1 243,86.3 243.6,86.4 244.3,86.4 244.9,86.5 245.6,86.5 246.2,86.5 246.9,86.4 247.5,86.4 248.2,86.2 248.8,86.1 249.5,85.8 250.1,85.6 250.8,85.3 251.4,84.9 252.1,84.5 252.7,84.1 253.4,83.7 254,83.2 254.7,82.8 255.3,82.3 256,81.9 256.6,81.5 257.3,81.3 257.9,81.1 258.6,81 259.2,81 259.9,81.1 260.5,81.4 261.2,81.8" fill="none" stroke="#2860e8" stroke-width="2.2" stroke-linejoin="round" stroke-linecap="round" stroke-opacity="0.8"/>
<polyline points="266.8,86.2 267.5,86.5 268.2,86.7 268.9,87 269.7,87.2 270.4,87.5 271.1,87.7 271.8,87.9 272.5,88.1 273.2,88.3 274,88.5 274.7,88.7 275.4,88.8 276.1,88.9 276.8,89 277.6,89.1 278.3,89.2 279,89.2 279.7,89.3 280.4,89.3 281.1,89.3 281.9,89.3 282.6,89.3 283.3,89.3 284,89.4 284.7,89.5 285.5,89.6 286.2,89.8 286.9,90.1 287.6,90.4 288.3,90.7" fill="none" stroke="#2860e8" stroke-width="2.2" stroke-linejoin="round" stroke-linecap="round" stroke-opacity="0.8"/>
<polyline points="91.1,68.4 91.8,68.2 92.4,68.1 93.1,67.8 93.8,67.5 94.4,67.1 95.1,66.6 95.7,66 96.4,65.3 97,64.4 97.7,63.5 98.3,62.4 99,61.2 99.6,59.8 100.3,58.3 100.9,56.6 101.6,54.8 102.3,52.9 102.9,50.9 103.6,48.8 104.2,46.7 104.9,44.7 105.5,42.7 106.2,40.8 106.8,39.2 107.5,37.9 108.1,37 108.8,36.5 109.5,36.5 110.1,36.9 110.8,38 111.4,39.5 112.1,41.7 112.7,44.3 113.4,47.3 114,50.6 114.7,54.2 115.3,57.9 116,61.7 116.6,65.5 117.3,69.1" fill="none" stroke="#ff0000" stroke-width="2.4" stroke-linejoin="round" stroke-linecap="round"/>
<polyline points="117.3,69.1 117.8,71.6 118.2,74 118.7,76.3 119.1,78.5 119.6,80.6 120,82.6 120.5,84.4 120.9,86.2 121.4,87.9 121.8,89.5 122.3,91 122.7,92.4 123.2,93.7 123.6,94.9 124.1,96 124.6,97.1 125,98.1 125.5,99.1 125.9,99.9 126.4,100.8 126.8,101.6 127.3,102.3 127.7,103 128.2,103.7 128.6,104.3 129.1,104.9 129.5,105.5 130,106 130.4,106.5 130.9,107" fill="none" stroke="#b02a6a" stroke-width="2.4" stroke-linejoin="round" stroke-linecap="round"/>
<polyline points="130.4,106.4 130.9,106.9 131.4,107.4 131.8,107.9 132.3,108.3 132.8,108.7 133.3,109.1 133.8,109.5 134.3,109.9 134.8,110.2 135.3,110.5 135.7,110.8 136.2,111.1 136.7,111.4 137.2,111.7 137.7,112 138.2,112.3 138.7,112.5 139.2,112.8 139.6,113 140.1,113.3" fill="none" stroke="#ff0000" stroke-width="2.4" stroke-linejoin="round" stroke-linecap="round"/>
<polyline points="136.2,41.3 136.5,41.7 136.9,42.3 137.2,42.9 137.5,43.6 137.8,44.5 138.1,45.4 138.4,46.5 138.7,47.6 139,48.9 139.3,50.2 139.6,51.6 139.9,53 140.2,54.5 140.5,56.1 140.9,57.7 141.2,59.3 141.5,60.9 141.8,62.6 142.1,64.2 142.4,65.9" fill="none" stroke="#ff0000" stroke-width="2.4" stroke-linejoin="round" stroke-linecap="round"/>
<polyline points="142.4,65.9 142.8,68.3 143.3,70.7 143.8,73 144.2,75.2 144.7,77.4 145.1,79.5 145.6,81.5 146,83.4 146.5,85.2 146.9,86.9 147.4,88.5 147.8,90 148.3,91.4 148.7,92.8 149.2,94 149.6,95.2 150.1,96.3 150.5,97.4 151,98.4 151.5,99.3 151.9,100.2 152.4,101 152.8,101.7 153.3,102.5 153.7,103.2 154.2,103.8 154.6,104.4 155.1,105 155.5,105.5 156,106.1" fill="none" stroke="#b02a6a" stroke-width="2.4" stroke-linejoin="round" stroke-linecap="round"/>
<polyline points="155.5,105.5 156,106 156.4,106.5 156.9,107 157.4,107.5 157.9,107.9 158.4,108.4 158.9,108.8 159.4,109.1 159.9,109.5 160.3,109.8 160.8,110.2 161.3,110.5 161.8,110.8 162.3,111.1 162.8,111.4 163.3,111.6 163.8,111.9 164.2,112.2 164.7,112.4 165.2,112.7" fill="none" stroke="#ff0000" stroke-width="2.4" stroke-linejoin="round" stroke-linecap="round"/>
<polyline points="161.3,47.2 161.6,47.3 161.9,47.5 162.3,47.8 162.6,48.2 162.9,48.7 163.2,49.3 163.5,50 163.8,50.8 164.1,51.7 164.4,52.6 164.7,53.7 165,54.8 165.3,56 165.6,57.3 165.9,58.6 166.3,60 166.6,61.4 166.9,62.8 167.2,64.2 167.5,65.7" fill="none" stroke="#ff0000" stroke-width="2.4" stroke-linejoin="round" stroke-linecap="round"/>
<polyline points="167.5,65.7 167.9,67.9 168.4,70 168.8,72.2 169.3,74.3 169.7,76.4 170.2,78.4 170.7,80.3 171.1,82.2 171.6,84 172,85.7 172.5,87.3 172.9,88.8 173.4,90.3 173.8,91.6 174.3,92.9 174.7,94.1 175.2,95.3 175.6,96.3 176.1,97.4 176.5,98.3 177,99.2 177.5,100.1 177.9,100.9 178.4,101.6 178.8,102.3 179.3,103 179.7,103.6 180.2,104.2 180.6,104.8 181.1,105.3" fill="none" stroke="#b02a6a" stroke-width="2.4" stroke-linejoin="round" stroke-linecap="round"/>
<polyline points="180.6,104.7 181.1,105.3 181.5,105.8 182,106.3 182.5,106.8 183,107.3 183.5,107.7 184,108.1 184.5,108.5 185,108.9 185.4,109.2 185.9,109.5 186.4,109.9 186.9,110.2 187.4,110.5 187.9,110.8 188.4,111 188.9,111.3 189.3,111.6 189.8,111.8 190.3,112.1" fill="none" stroke="#ff0000" stroke-width="2.4" stroke-linejoin="round" stroke-linecap="round"/>
<polyline points="186.4,53.2 186.7,53.2 187,53.3 187.3,53.5 187.7,53.8 188,54.1 188.3,54.5 188.6,55.1 188.9,55.7 189.2,56.4 189.5,57.1 189.8,58 190.1,58.9 190.4,59.9 190.7,60.9 191,62 191.3,63.1 191.7,64.3 192,65.5 192.3,66.7 192.6,68" fill="none" stroke="#ff0000" stroke-width="2.4" stroke-linejoin="round" stroke-linecap="round"/>
<polyline points="192.6,68 193,69.8 193.5,71.7 193.9,73.6 194.4,75.5 194.8,77.3 195.3,79.1 195.7,80.9 196.2,82.6 196.7,84.2 197.1,85.8 197.6,87.3 198,88.7 198.5,90.1 198.9,91.4 199.4,92.6 199.8,93.7 200.3,94.8 200.7,95.9 201.2,96.9 201.6,97.8 202.1,98.7 202.5,99.5 203,100.3 203.5,101 203.9,101.7 204.4,102.4 204.8,103 205.3,103.6 205.7,104.2 206.2,104.7" fill="none" stroke="#b02a6a" stroke-width="2.4" stroke-linejoin="round" stroke-linecap="round"/>
<polyline points="205.7,104.1 206.1,104.7 206.6,105.2 207.1,105.7 207.6,106.2 208.1,106.7 208.6,107.1 209.1,107.5 209.6,107.9 210,108.3 210.5,108.6 211,108.9 211.5,109.3 212,109.6 212.5,109.9 213,110.2 213.5,110.5 213.9,110.7 214.4,111 214.9,111.3 215.4,111.5" fill="none" stroke="#ff0000" stroke-width="2.4" stroke-linejoin="round" stroke-linecap="round"/>
<polyline points="211.5,57.8 211.8,57.8 212.1,57.9 212.4,58.1 212.7,58.4 213.1,58.7 213.4,59.1 213.7,59.6 214,60.1 214.3,60.7 214.6,61.4 214.9,62.1 215.2,62.9 215.5,63.7 215.8,64.6 216.1,65.6 216.4,66.5 216.7,67.5 217.1,68.6 217.4,69.6 217.7,70.7" fill="none" stroke="#ff0000" stroke-width="2.4" stroke-linejoin="round" stroke-linecap="round"/>
<polyline points="217.7,70.7 218.1,72.4 218.6,74 219,75.6 219.5,77.3 219.9,78.9 220.4,80.5 220.8,82 221.3,83.5 221.7,85 222.2,86.4 222.7,87.7 223.1,89 223.6,90.3 224,91.5 224.5,92.6 224.9,93.7 225.4,94.7 225.8,95.7 226.3,96.6 226.7,97.5 227.2,98.3 227.6,99.1 228.1,99.8 228.5,100.6 229,101.2 229.4,101.9 229.9,102.5 230.4,103.1 230.8,103.6 231.3,104.1" fill="none" stroke="#b02a6a" stroke-width="2.4" stroke-linejoin="round" stroke-linecap="round"/>
<polyline points="230.7,103.5 231.2,104.1 231.7,104.6 232.2,105.1 232.7,105.6 233.2,106.1 233.7,106.5 234.2,106.9 234.6,107.3 235.1,107.7 235.6,108 236.1,108.4 236.6,108.7 237.1,109 237.6,109.3 238.1,109.6 238.5,109.9 239,110.1 239.5,110.4 240,110.7 240.5,110.9" fill="none" stroke="#ff0000" stroke-width="2.4" stroke-linejoin="round" stroke-linecap="round"/>
<polyline points="237.1,66.9 237.4,67 237.7,67.1 238,67.3 238.3,67.6 238.7,67.9 239,68.2 239.3,68.6 239.6,69.1 239.9,69.6 240.2,70.1 240.5,70.7 240.8,71.3 241.1,71.9 241.4,72.6 241.7,73.3 242,74.1 242.3,74.8 242.7,75.6 243,76.4 243.3,77.2" fill="none" stroke="#ff0000" stroke-width="2.4" stroke-linejoin="round" stroke-linecap="round"/>
<polyline points="243.3,77.2 243.7,78.4 244.1,79.5 244.6,80.7 245,81.9 245.5,83.1 245.9,84.2 246.3,85.4 246.8,86.5 247.2,87.6 247.6,88.7 248.1,89.7 248.5,90.7 248.9,91.7 249.4,92.7 249.8,93.6 250.2,94.4 250.7,95.3 251.1,96.1 251.6,96.9 252,97.6 252.4,98.4 252.9,99 253.3,99.7 253.7,100.3 254.2,100.9 254.6,101.5 255,102.1 255.5,102.6 255.9,103.1 256.4,103.6" fill="none" stroke="#b02a6a" stroke-width="2.4" stroke-linejoin="round" stroke-linecap="round"/>
<polyline points="255.8,103 256.3,103.6 256.8,104.1 257.3,104.6 257.8,105 258.3,105.5 258.8,105.9 259.3,106.3 259.7,106.7 260.2,107.1 260.7,107.4 261.2,107.7 261.7,108.1 262.2,108.4 262.7,108.7 263.2,109 263.6,109.3 264.1,109.5 264.6,109.8 265.1,110.1 265.6,110.3" fill="none" stroke="#ff0000" stroke-width="2.4" stroke-linejoin="round" stroke-linecap="round"/>
<polyline points="266.8,69 267.1,69.4 267.4,69.8 267.7,70.2 268.1,70.7 268.4,71.3 268.7,71.9 269,72.6 269.3,73.3 269.6,74 269.9,74.8 270.2,75.7 270.5,76.5 270.8,77.4 271.1,78.3 271.4,79.2 271.7,80.1 272.1,81 272.4,82 272.7,82.9 273,83.8" fill="none" stroke="#ff0000" stroke-width="2.4" stroke-linejoin="round" stroke-linecap="round"/>
<polyline points="273,83.8 273.3,84.7 273.5,85.5 273.8,86.3 274.1,87.1 274.4,87.9 274.7,88.7 275,89.5 275.2,90.2 275.5,90.9 275.8,91.7 276.1,92.4 276.4,93 276.6,93.7 276.9,94.3 277.2,95 277.5,95.6 277.8,96.2 278.1,96.7 278.3,97.3 278.6,97.8 278.9,98.3 279.2,98.8 279.5,99.3 279.8,99.8 280,100.2 280.3,100.7 280.6,101.1 280.9,101.5 281.2,101.9 281.4,102.2" fill="none" stroke="#b02a6a" stroke-width="2.4" stroke-linejoin="round" stroke-linecap="round"/>
<polyline points="280.9,101.5 281.4,102.2 281.9,102.8 282.4,103.4 282.9,104 283.4,104.5 283.9,105 284.3,105.4 284.8,105.9 285.3,106.3 285.8,106.7 286.3,107 286.8,107.4 287.3,107.7 287.8,108 288.2,108.3 288.7,108.7 289.2,108.9 289.7,109.2 290.2,109.5 290.7,109.8" fill="none" stroke="#ff0000" stroke-width="2.4" stroke-linejoin="round" stroke-linecap="round"/>
<polyline points="289.4,86.3 289.7,86.5 290,86.8 290.3,87 290.6,87.3 290.9,87.6 291.2,87.9 291.5,88.2 291.8,88.5 292.1,88.8 292.4,89.2 292.7,89.5 293,89.8 293.4,90.1 293.7,90.4 294,90.7 294.3,91 294.6,91.3 294.9,91.6 295.2,91.9 295.5,92.2" fill="none" stroke="#ff0000" stroke-width="2.4" stroke-linejoin="round" stroke-linecap="round"/>
<polyline points="295.5,92.2 295.9,92.6 296.2,93 296.6,93.3 297,93.7 297.3,94.1 297.7,94.4 298.1,94.8 298.4,95.2 298.8,95.5 299.2,95.9 299.6,96.2 299.9,96.6 300.3,97 300.7,97.3 301,97.7 301.4,98 301.8,98.4 302.1,98.8 302.5,99.1 302.9,99.5 303.2,99.8 303.6,100.2 304,100.5 304.3,100.8 304.7,101.2 305.1,101.5 305.4,101.8 305.8,102.2 306.2,102.5 306.5,102.8" fill="none" stroke="#b02a6a" stroke-width="2.4" stroke-linejoin="round" stroke-linecap="round"/>
<polyline points="306,102.4 306.5,102.8 307,103.2 307.5,103.6 308,104 308.5,104.3 308.9,104.7 309.4,105 309.9,105.4 310.4,105.7 310.9,106 311.4,106.4 311.9,106.7 312.4,107 312.8,107.3 313.3,107.5 313.8,107.8 314.3,108.1 314.8,108.4 315.3,108.7 315.8,108.9" fill="none" stroke="#ff0000" stroke-width="2.4" stroke-linejoin="round" stroke-linecap="round"/>
<polyline points="91.1,87.1 91.7,87 92.2,86.8 92.8,86.5 93.3,86.3 93.8,85.9 94.4,85.5 94.9,85 95.4,84.5 96,83.8 96.5,83.1 97.1,82.3 97.6,81.4 98.1,80.3 98.7,79.2 99.2,77.9 99.8,76.6 100.3,75.1 100.8,73.5 101.4,71.8 101.9,69.9 102.4,68 103,66 103.5,63.9 104.1,61.8 104.6,59.7 105.1,57.6 105.7,55.5 106.2,53.6 106.8,51.8 107.3,50.1 107.8,48.7 108.4,47.5 108.9,46.7 109.5,46.1 110,45.9 110.5,46.1 111.1,46.6 111.6,47.4 112.1,48.5 112.7,49.9" fill="none" stroke="#0000ff" stroke-width="2.4" stroke-linejoin="round" stroke-linecap="round"/>
<g fill-opacity="0.5" shape-rendering="crispEdges">
<polygon points="611.2,92.6 615.5,92.5 617.3,93.3 613.1,93.4" fill="#e8c438"/>
<polygon points="613.1,93.4 617.3,93.3 619.2,94.2 614.9,94.3" fill="#e7c438"/>
<polygon points="614.9,94.3 619.2,94.2 621.1,95.1 616.8,95.2" fill="#e5c438"/>
<polygon points="616.8,95.2 621.1,95.1 622.9,96.3 618.7,96.4" fill="#ddc538"/>
<polygon points="618.7,96.4 622.9,96.3 624.8,97.9 620.5,98" fill="#cac539"/>
<polygon points="620.5,98 624.8,97.9 626.7,100.4 622.4,100.4" fill="#a1c741"/>
<polygon points="622.4,100.4 626.7,100.4 628.5,104 624.3,103.9" fill="#43c88e"/>
<polygon points="624.3,103.9 628.5,104 630.4,108.7 626.1,108.5" fill="#15acda"/>
<polygon points="626.1,108.5 630.4,108.7 632.2,113.9 628,113.6" fill="#3e66f5"/>
<polygon points="628,113.6 632.2,113.9 634.1,118.3 629.9,118" fill="#3e26a8"/>
<polygon points="629.9,118 634.1,118.3 636,120.7 631.7,120.4" fill="#3e26a8"/>
<polygon points="631.7,120.4 636,120.7 637.8,120.5 633.6,120.1" fill="#3e26a8"/>
<polygon points="633.6,120.1 637.8,120.5 639.7,118.1 635.5,117.8" fill="#3e26a8"/>
<polygon points="635.5,117.8 639.7,118.1 641.6,114.4 637.3,114.2" fill="#4753f4"/>
<polygon points="637.3,114.2 641.6,114.4 643.4,110.4 639.2,110.3" fill="#19a6df"/>
<polygon points="639.2,110.3 643.4,110.4 645.3,107 641.1,106.9" fill="#65c772"/>
<polygon points="641.1,106.9 645.3,107 647.2,104.6 642.9,104.6" fill="#eac438"/>
<polygon points="642.9,104.6 647.2,104.6 649,103.3 644.8,103.3" fill="#f7da2c"/>
<polygon points="644.8,103.3 649,103.3 650.9,102.8 646.6,102.9" fill="#f6eb21"/>
<polygon points="646.6,102.9 650.9,102.8 652.8,103 648.5,103.1" fill="#f8f31b"/>
<polygon points="648.5,103.1 652.8,103 654.6,103.5 650.4,103.6" fill="#f8f717"/>
<polygon points="650.4,103.6 654.6,103.5 656.5,104.2 652.2,104.3" fill="#f9f916"/>
<polyline points="614.3,89.7 614.8,90 615.3,90.3 615.9,90.7 616.4,91.1 616.9,91.6 617.5,92.1 618,92.6 618.5,93.2 619.1,93.8 619.6,94.5 620.1,95.2 620.6,95.9 621.2,96.8 621.7,97.6 622.2,98.5 622.8,99.4 623.3,100.3 623.8,101.2 624.4,102.1 624.9,102.9 625.4,103.8 625.9,104.5 626.5,105.2 627,105.8 627.5,106.3 628.1,106.7 628.6,107 629.1,107.2 629.7,107.4 630.2,107.6 630.7,107.8 631.2,108 631.8,108.1 632.3,108.3 632.8,108.4 633.4,108.6 633.9,108.7 634.4,108.8 635,108.9 635.5,109 636,109.1 636.5,109.1 637.1,109.2 637.6,109.3 638.1,109.3 638.7,109.3 639.2,109.4 639.7,109.4 640.3,109.4 640.8,109.5 641.3,109.5 641.8,109.5 642.4,109.5 642.9,109.5 643.4,109.5 644,109.5 644.5,109.5 645,109.5 645.6,109.5 646.1,109.5 646.6,109.5 647.1,109.5 647.7,109.5 648.2,109.5 648.7,109.5 649.3,109.6 649.8,109.6 650.3,109.6 650.9,109.6 651.4,109.6 651.9,109.7 652.4,109.7 653,109.8 653.5,109.8 654,109.9 654.6,109.9 655.1,110 655.6,110.1 656.2,110.1 656.7,110.2 657.2,110.3 657.7,110.4 658.3,110.5 658.8,110.6 659.3,110.7 659.9,110.8 660.4,110.9 660.9,111 661.5,111.2 662,111.3" fill="none" stroke="#ff0000" stroke-width="2.4" stroke-linejoin="round" stroke-linecap="round"/>
<polygon points="607,92.7 611.2,92.6 613.1,93.4 608.8,93.5" fill="#e8c438"/>
<polygon points="608.8,93.5 613.1,93.4 614.9,94.3 610.7,94.3" fill="#e7c438"/>
<polygon points="610.7,94.3 614.9,94.3 616.8,95.2 612.6,95.3" fill="#e5c438"/>
<polygon points="612.6,95.3 616.8,95.2 618.7,96.4 614.4,96.4" fill="#dec538"/>
<polygon points="614.4,96.4 618.7,96.4 620.5,98 616.3,98" fill="#ccc539"/>
<polygon points="616.3,98 620.5,98 622.4,100.4 618.1,100.4" fill="#a5c73e"/>
<polygon points="618.1,100.4 622.4,100.4 624.3,103.9 620,103.8" fill="#4ac888"/>
<polygon points="620,103.8 624.3,103.9 626.1,108.5 621.9,108.2" fill="#12b1d7"/>
<polygon points="621.9,108.2 626.1,108.5 628,113.6 623.7,113" fill="#3a6ef6"/>
<polygon points="623.7,113 628,113.6 629.9,118 625.6,117.2" fill="#3f2cb1"/>
<polygon points="625.6,117.2 629.9,118 631.7,120.4 627.5,119.5" fill="#3e26a8"/>
<polygon points="627.5,119.5 631.7,120.4 633.6,120.1 629.3,119.3" fill="#3e26a8"/>
<polygon points="629.3,119.3 633.6,120.1 635.5,117.8 631.2,117.1" fill="#3e26a8"/>
<polygon points="631.2,117.1 635.5,117.8 637.3,114.2 633.1,113.6" fill="#425ef5"/>
<polygon points="633.1,113.6 637.3,114.2 639.2,110.3 634.9,109.9" fill="#15adda"/>
<polygon points="634.9,109.9 639.2,110.3 641.1,106.9 636.8,106.7" fill="#72c768"/>
<polygon points="636.8,106.7 641.1,106.9 642.9,104.6 638.7,104.5" fill="#f0c438"/>
<polygon points="638.7,104.5 642.9,104.6 644.8,103.3 640.5,103.3" fill="#f7db2c"/>
<polygon points="640.5,103.3 644.8,103.3 646.6,102.9 642.4,103" fill="#f6eb21"/>
<polygon points="642.4,103 646.6,102.9 648.5,103.1 644.3,103.2" fill="#f8f31a"/>
<polygon points="644.3,103.2 648.5,103.1 650.4,103.6 646.1,103.7" fill="#f8f817"/>
<polygon points="646.1,103.7 650.4,103.6 652.2,104.3 648,104.4" fill="#f9f916"/>
<polygon points="602.7,92.8 607,92.7 608.8,93.5 604.6,93.6" fill="#e9c438"/>
<polygon points="604.6,93.6 608.8,93.5 610.7,94.3 606.4,94.4" fill="#e8c438"/>
<polygon points="606.4,94.4 610.7,94.3 612.6,95.3 608.3,95.3" fill="#e5c438"/>
<polygon points="608.3,95.3 612.6,95.3 614.4,96.4 610.2,96.5" fill="#dfc538"/>
<polygon points="610.2,96.5 614.4,96.4 616.3,98 612,98" fill="#cec538"/>
<polygon points="612,98 616.3,98 618.1,100.4 613.9,100.2" fill="#acc739"/>
<polygon points="613.9,100.2 618.1,100.4 620,103.8 615.8,103.4" fill="#56c87e"/>
<polygon points="615.8,103.4 620,103.8 621.9,108.2 617.6,107.5" fill="#18b5cb"/>
<polygon points="617.6,107.5 621.9,108.2 623.7,113 619.5,112" fill="#327df6"/>
<polygon points="619.5,112 623.7,113 625.6,117.2 621.4,115.8" fill="#433cce"/>
<polygon points="621.4,115.8 625.6,117.2 627.5,119.5 623.2,118" fill="#3e26a8"/>
<polygon points="623.2,118 627.5,119.5 629.3,119.3 625.1,117.8" fill="#3e26a8"/>
<polygon points="625.1,117.8 629.3,119.3 631.2,117.1 627,115.8" fill="#4133bf"/>
<polygon points="627,115.8 631.2,117.1 633.1,113.6 628.8,112.6" fill="#3872f6"/>
<polygon points="628.8,112.6 633.1,113.6 634.9,109.9 630.7,109.2" fill="#18b5cb"/>
<polygon points="630.7,109.2 634.9,109.9 636.8,106.7 632.5,106.3" fill="#88c755"/>
<polygon points="632.5,106.3 636.8,106.7 638.7,104.5 634.4,104.3" fill="#fac338"/>
<polygon points="634.4,104.3 638.7,104.5 640.5,103.3 636.3,103.3" fill="#f6dd2b"/>
<polygon points="636.3,103.3 640.5,103.3 642.4,103 638.1,103" fill="#f6ec20"/>
<polygon points="638.1,103 642.4,103 644.3,103.2 640,103.2" fill="#f8f41a"/>
<polygon points="640,103.2 644.3,103.2 646.1,103.7 641.9,103.8" fill="#f8f817"/>
<polygon points="641.9,103.8 646.1,103.7 648,104.4 643.7,104.4" fill="#f9fa16"/>
<polygon points="598.4,92.8 602.7,92.8 604.6,93.6 600.3,93.6" fill="#e9c438"/>
<polygon points="600.3,93.6 604.6,93.6 606.4,94.4 602.2,94.5" fill="#e9c438"/>
<polygon points="602.2,94.5 606.4,94.4 608.3,95.3 604,95.4" fill="#e6c438"/>
<polygon points="604,95.4 608.3,95.3 610.2,96.5 605.9,96.5" fill="#e0c538"/>
<polygon points="605.9,96.5 610.2,96.5 612,98 607.8,97.9" fill="#d1c538"/>
<polygon points="607.8,97.9 612,98 613.9,100.2 609.6,100" fill="#b2c639"/>
<polygon points="609.6,100 613.9,100.2 615.8,103.4 611.5,102.8" fill="#69c76f"/>
<polygon points="611.5,102.8 615.8,103.4 617.6,107.5 613.4,106.5" fill="#22bbba"/>
<polygon points="613.4,106.5 617.6,107.5 619.5,112 615.2,110.6" fill="#2790ef"/>
<polygon points="615.2,110.6 619.5,112 621.4,115.8 617.1,114.1" fill="#4655f4"/>
<polygon points="617.1,114.1 621.4,115.8 623.2,118 619,116" fill="#4133be"/>
<polygon points="619,116 623.2,118 625.1,117.8 620.8,115.9" fill="#4031bb"/>
<polygon points="620.8,115.9 625.1,117.8 627,115.8 622.7,114.1" fill="#474fee"/>
<polygon points="622.7,114.1 627,115.8 628.8,112.6 624.6,111.3" fill="#2a8cf3"/>
<polygon points="624.6,111.3 628.8,112.6 630.7,109.2 626.4,108.3" fill="#27beb2"/>
<polygon points="626.4,108.3 630.7,109.2 632.5,106.3 628.3,105.7" fill="#a8c73c"/>
<polygon points="628.3,105.7 632.5,106.3 634.4,104.3 630.2,104" fill="#fdc736"/>
<polygon points="630.2,104 634.4,104.3 636.3,103.3 632,103.1" fill="#f5e029"/>
<polygon points="632,103.1 636.3,103.3 638.1,103 633.9,103" fill="#f6ed1f"/>
<polygon points="633.9,103 638.1,103 640,103.2 635.8,103.3" fill="#f8f41a"/>
<polygon points="635.8,103.3 640,103.2 641.9,103.8 637.6,103.8" fill="#f9f817"/>
<polygon points="637.6,103.8 641.9,103.8 643.7,104.4 639.5,104.5" fill="#f9fa16"/>
<polygon points="594.2,92.9 598.4,92.8 600.3,93.6 596.1,93.7" fill="#eac438"/>
<polygon points="596.1,93.7 600.3,93.6 602.2,94.5 597.9,94.5" fill="#eac438"/>
<polygon points="597.9,94.5 602.2,94.5 604,95.4 599.8,95.4" fill="#e8c438"/>
<polygon points="599.8,95.4 604,95.4 605.9,96.5 601.7,96.5" fill="#e2c438"/>
<polygon points="601.7,96.5 605.9,96.5 607.8,97.9 603.5,97.8" fill="#d5c538"/>
<polygon points="603.5,97.8 607.8,97.9 609.6,100 605.4,99.7" fill="#bac639"/>
<polygon points="605.4,99.7 609.6,100 611.5,102.8 607.3,102.4" fill="#7dc75f"/>
<polygon points="607.3,102.4 611.5,102.8 613.4,106.5 609.1,105.7" fill="#2dc2a8"/>
<polygon points="609.1,105.7 613.4,106.5 615.2,110.6 611,109.3" fill="#1ba3e1"/>
<polygon points="611,109.3 615.2,110.6 617.1,114.1 612.9,112.5" fill="#3774f6"/>
<polygon points="612.9,112.5 617.1,114.1 619,116 614.7,114.2" fill="#4852f3"/>
<polygon points="614.7,114.2 619,116 620.8,115.9 616.6,114.1" fill="#4751f2"/>
<polygon points="616.6,114.1 620.8,115.9 622.7,114.1 618.4,112.6" fill="#3871f6"/>
<polygon points="618.4,112.6 622.7,114.1 624.6,111.3 620.3,110.1" fill="#1aa4e0"/>
<polygon points="620.3,110.1 624.6,111.3 626.4,108.3 622.2,107.4" fill="#37c897"/>
<polygon points="622.2,107.4 626.4,108.3 628.3,105.7 624,105.2" fill="#c1c639"/>
<polygon points="624,105.2 628.3,105.7 630.2,104 625.9,103.7" fill="#fbcd33"/>
<polygon points="625.9,103.7 630.2,104 632,103.1 627.8,103.1" fill="#f4e327"/>
<polygon points="627.8,103.1 632,103.1 633.9,103 629.6,103" fill="#f7ee1e"/>
<polygon points="629.6,103 633.9,103 635.8,103.3 631.5,103.3" fill="#f8f519"/>
<polygon points="631.5,103.3 635.8,103.3 637.6,103.8 633.4,103.9" fill="#f9f817"/>
<polygon points="633.4,103.9 637.6,103.8 639.5,104.5 635.2,104.6" fill="#f9fa15"/>
<polygon points="589.9,92.9 594.2,92.9 596.1,93.7 591.8,93.7" fill="#ecc438"/>
<polygon points="591.8,93.7 596.1,93.7 597.9,94.5 593.7,94.6" fill="#ebc438"/>
<polygon points="593.7,94.6 597.9,94.5 599.8,95.4 595.5,95.4" fill="#e9c438"/>
<polygon points="595.5,95.4 599.8,95.4 601.7,96.5 597.4,96.5" fill="#e5c438"/>
<polygon points="597.4,96.5 601.7,96.5 603.5,97.8 599.3,97.8" fill="#d9c538"/>
<polygon points="599.3,97.8 603.5,97.8 605.4,99.7 601.1,99.6" fill="#c1c639"/>
<polygon points="601.1,99.6 605.4,99.7 607.3,102.4 603,102" fill="#8ec751"/>
<polygon points="603,102 607.3,102.4 609.1,105.7 604.9,105.1" fill="#36c799"/>
<polygon points="604.9,105.1 609.1,105.7 611,109.3 606.7,108.5" fill="#13b2d4"/>
<polygon points="606.7,108.5 611,109.3 612.9,112.5 608.6,111.4" fill="#2a8cf3"/>
<polygon points="608.6,111.4 612.9,112.5 614.7,114.2 610.5,113" fill="#396ff6"/>
<polygon points="610.5,113 614.7,114.2 616.6,114.1 612.3,112.9" fill="#396ff6"/>
<polygon points="612.3,112.9 616.6,114.1 618.4,112.6 614.2,111.5" fill="#2a8df2"/>
<polygon points="614.2,111.5 618.4,112.6 620.3,110.1 616.1,109.3" fill="#17b4cd"/>
<polygon points="616.1,109.3 620.3,110.1 622.2,107.4 617.9,106.9" fill="#5fc876"/>
<polygon points="617.9,106.9 622.2,107.4 624,105.2 619.8,104.9" fill="#d5c538"/>
<polygon points="619.8,104.9 624,105.2 625.9,103.7 621.7,103.6" fill="#fad131"/>
<polygon points="621.7,103.6 625.9,103.7 627.8,103.1 623.5,103" fill="#f5e526"/>
<polygon points="623.5,103 627.8,103.1 629.6,103 625.4,103" fill="#f7f01e"/>
<polygon points="625.4,103 629.6,103 631.5,103.3 627.3,103.4" fill="#f8f519"/>
<polygon points="627.3,103.4 631.5,103.3 633.4,103.9 629.1,104" fill="#f9f817"/>
<polygon points="629.1,104 633.4,103.9 635.2,104.6 631,104.7" fill="#f9fa15"/>
<polygon points="585.7,92.9 589.9,92.9 591.8,93.7 587.6,93.7" fill="#eec438"/>
<polygon points="587.6,93.7 591.8,93.7 593.7,94.6 589.4,94.6" fill="#eec438"/>
<polygon points="589.4,94.6 593.7,94.6 595.5,95.4 591.3,95.4" fill="#ecc438"/>
<polygon points="591.3,95.4 595.5,95.4 597.4,96.5 593.2,96.5" fill="#e7c438"/>
<polygon points="593.2,96.5 597.4,96.5 599.3,97.8 595,97.7" fill="#ddc538"/>
<polygon points="595,97.7 599.3,97.8 601.1,99.6 596.9,99.5" fill="#c6c639"/>
<polygon points="596.9,99.5 601.1,99.6 603,102 598.8,101.8" fill="#9ac747"/>
<polygon points="598.8,101.8 603,102 604.9,105.1 600.6,104.8" fill="#47c88a"/>
<polygon points="600.6,104.8 604.9,105.1 606.7,108.5 602.5,108" fill="#1cb7c5"/>
<polygon points="602.5,108 606.7,108.5 608.6,111.4 604.3,110.8" fill="#2299e9"/>
<polygon points="604.3,110.8 608.6,111.4 610.5,113 606.2,112.4" fill="#3082f7"/>
<polygon points="606.2,112.4 610.5,113 612.3,112.9 608.1,112.3" fill="#3083f7"/>
<polygon points="608.1,112.3 612.3,112.9 614.2,111.5 609.9,111" fill="#209be7"/>
<polygon points="609.9,111 614.2,111.5 616.1,109.3 611.8,108.9" fill="#22bbbb"/>
<polygon points="611.8,108.9 616.1,109.3 617.9,106.9 613.7,106.6" fill="#79c762"/>
<polygon points="613.7,106.6 617.9,106.9 619.8,104.9 615.5,104.8" fill="#e2c438"/>
<polygon points="615.5,104.8 619.8,104.9 621.7,103.6 617.4,103.6" fill="#f9d42f"/>
<polygon points="617.4,103.6 621.7,103.6 623.5,103 619.3,103" fill="#f5e625"/>
<polygon points="619.3,103 623.5,103 625.4,103 621.1,103.1" fill="#f7f01d"/>
<polygon points="621.1,103.1 625.4,103 627.3,103.4 623,103.5" fill="#f8f619"/>
<polygon points="623,103.5 627.3,103.4 629.1,104 624.9,104.1" fill="#f9f816"/>
<polygon points="624.9,104.1 629.1,104 631,104.7 626.7,104.8" fill="#f9fa15"/>
<polyline points="589.2,88.4 589.7,88.7 590.2,89 590.8,89.2 591.3,89.5 591.8,89.9 592.4,90.2 592.9,90.5 593.4,90.9 594,91.3 594.5,91.7 595,92.1 595.5,92.6 596.1,93.1 596.6,93.6 597.1,94.1 597.7,94.7 598.2,95.4 598.7,96 599.3,96.7 599.8,97.4 600.3,98.2 600.8,98.9 601.4,99.8 601.9,100.6 602.4,101.4 603,102.3 603.5,103.2 604,104 604.6,104.9 605.1,105.7 605.6,106.5 606.2,107.3 606.7,108.1 607.2,108.8 607.7,109.4 608.3,110 608.8,110.6 609.3,111 609.9,111.4 610.4,111.7 610.9,112 611.5,112.2 612,112.3 612.5,112.3 613,112.3 613.6,112.3 614.1,112.1 614.6,112 615.2,111.8 615.7,111.5 616.2,111.2 616.8,110.9 617.3,110.6 617.8,110.3 618.3,109.9 618.9,109.6 619.4,109.2 619.9,108.9 620.5,108.6 621,108.2 621.5,107.9 622.1,107.7 622.6,107.4 623.1,107.2 623.6,107 624.2,106.8 624.7,106.6 625.2,106.5 625.8,106.4 626.3,106.4 626.8,106.3 627.4,106.3 627.9,106.3 628.4,106.4 628.9,106.4 629.5,106.5 630,106.6 630.5,106.7 631.1,106.8 631.6,107 632.1,107.1 632.7,107.3 633.2,107.5 633.7,107.6 634.2,107.8 634.8,108 635.3,108.2 635.8,108.4 636.4,108.6 636.9,108.9" fill="none" stroke="#ff0000" stroke-width="2.4" stroke-linejoin="round" stroke-linecap="round"/>
<polygon points="581.4,92.9 585.7,92.9 587.6,93.7 583.3,93.7" fill="#f1c438"/>
<polygon points="583.3,93.7 587.6,93.7 589.4,94.6 585.2,94.5" fill="#f1c438"/>
<polygon points="585.2,94.5 589.4,94.6 591.3,95.4 587,95.4" fill="#efc438"/>
<polygon points="587,95.4 591.3,95.4 593.2,96.5 588.9,96.4" fill="#ebc438"/>
<polygon points="588.9,96.4 593.2,96.5 595,97.7 590.8,97.7" fill="#e1c538"/>
<polygon points="590.8,97.7 595,97.7 596.9,99.5 592.6,99.4" fill="#cbc539"/>
<polygon points="592.6,99.4 596.9,99.5 598.8,101.8 594.5,101.8" fill="#a2c740"/>
<polygon points="594.5,101.8 598.8,101.8 600.6,104.8 596.4,104.7" fill="#53c881"/>
<polygon points="596.4,104.7 600.6,104.8 602.5,108 598.2,107.8" fill="#21babd"/>
<polygon points="598.2,107.8 602.5,108 604.3,110.8 600.1,110.6" fill="#1da0e3"/>
<polygon points="600.1,110.6 604.3,110.8 606.2,112.4 602,112.1" fill="#2b8bf4"/>
<polygon points="602,112.1 606.2,112.4 608.1,112.3 603.8,112.1" fill="#2a8cf3"/>
<polygon points="603.8,112.1 608.1,112.3 609.9,111 605.7,110.8" fill="#1ba3e1"/>
<polygon points="605.7,110.8 609.9,111 611.8,108.9 607.6,108.8" fill="#27beb2"/>
<polygon points="607.6,108.8 611.8,108.9 613.7,106.6 609.4,106.6" fill="#86c757"/>
<polygon points="609.4,106.6 613.7,106.6 615.5,104.8 611.3,104.7" fill="#e8c438"/>
<polygon points="611.3,104.7 615.5,104.8 617.4,103.6 613.2,103.6" fill="#f8d62f"/>
<polygon points="613.2,103.6 617.4,103.6 619.3,103 615,103.1" fill="#f5e724"/>
<polygon points="615,103.1 619.3,103 621.1,103.1 616.9,103.2" fill="#f7f11d"/>
<polygon points="616.9,103.2 621.1,103.1 623,103.5 618.8,103.6" fill="#f8f619"/>
<polygon points="618.8,103.6 623,103.5 624.9,104.1 620.6,104.2" fill="#f9f916"/>
<polygon points="620.6,104.2 624.9,104.1 626.7,104.8 622.5,104.9" fill="#f9fa15"/>
<polygon points="577.2,92.8 581.4,92.9 583.3,93.7 579.1,93.6" fill="#f6c438"/>
<polygon points="579.1,93.6 583.3,93.7 585.2,94.5 580.9,94.5" fill="#f5c438"/>
<polygon points="580.9,94.5 585.2,94.5 587,95.4 582.8,95.3" fill="#f4c438"/>
<polygon points="582.8,95.3 587,95.4 588.9,96.4 584.7,96.3" fill="#f0c438"/>
<polygon points="584.7,96.3 588.9,96.4 590.8,97.7 586.5,97.6" fill="#e5c438"/>
<polygon points="586.5,97.6 590.8,97.7 592.6,99.4 588.4,99.3" fill="#d0c538"/>
<polygon points="588.4,99.3 592.6,99.4 594.5,101.8 590.2,101.7" fill="#aac73a"/>
<polygon points="590.2,101.7 594.5,101.8 596.4,104.7 592.1,104.6" fill="#5bc87a"/>
<polygon points="592.1,104.6 596.4,104.7 598.2,107.8 594,107.8" fill="#24bcb8"/>
<polygon points="594,107.8 598.2,107.8 600.1,110.6 595.8,110.5" fill="#1aa4e0"/>
<polygon points="595.8,110.5 600.1,110.6 602,112.1 597.7,112" fill="#288ff0"/>
<polygon points="597.7,112 602,112.1 603.8,112.1 599.6,112" fill="#2890f0"/>
<polygon points="599.6,112 603.8,112.1 605.7,110.8 601.4,110.8" fill="#19a6de"/>
<polygon points="601.4,110.8 605.7,110.8 607.6,108.8 603.3,108.7" fill="#2ac0ad"/>
<polygon points="603.3,108.7 607.6,108.8 609.4,106.6 605.2,106.6" fill="#8cc752"/>
<polygon points="605.2,106.6 609.4,106.6 611.3,104.7 607,104.8" fill="#ebc438"/>
<polygon points="607,104.8 611.3,104.7 613.2,103.6 608.9,103.7" fill="#f8d62e"/>
<polygon points="608.9,103.7 613.2,103.6 615,103.1 610.8,103.2" fill="#f5e724"/>
<polygon points="610.8,103.2 615,103.1 616.9,103.2 612.6,103.2" fill="#f7f11d"/>
<polygon points="612.6,103.2 616.9,103.2 618.8,103.6 614.5,103.7" fill="#f8f618"/>
<polygon points="614.5,103.7 618.8,103.6 620.6,104.2 616.4,104.3" fill="#f9f916"/>
<polygon points="616.4,104.3 620.6,104.2 622.5,104.9 618.2,105" fill="#f9fa15"/>
<polygon points="572.9,92.7 577.2,92.8 579.1,93.6 574.8,93.5" fill="#fcc338"/>
<polygon points="574.8,93.5 579.1,93.6 580.9,94.5 576.7,94.3" fill="#fbc338"/>
<polygon points="576.7,94.3 580.9,94.5 582.8,95.3 578.5,95.2" fill="#fac338"/>
<polygon points="578.5,95.2 582.8,95.3 584.7,96.3 580.4,96.2" fill="#f5c438"/>
<polygon points="580.4,96.2 584.7,96.3 586.5,97.6 582.3,97.5" fill="#ebc438"/>
<polygon points="582.3,97.5 586.5,97.6 588.4,99.3 584.1,99.2" fill="#d5c538"/>
<polygon points="584.1,99.2 588.4,99.3 590.2,101.7 586,101.6" fill="#b0c739"/>
<polygon points="586,101.6 590.2,101.7 592.1,104.6 587.9,104.5" fill="#62c874"/>
<polygon points="587.9,104.5 592.1,104.6 594,107.8 589.7,107.7" fill="#26bdb4"/>
<polygon points="589.7,107.7 594,107.8 595.8,110.5 591.6,110.5" fill="#19a6df"/>
<polygon points="591.6,110.5 595.8,110.5 597.7,112 593.5,112" fill="#2791ef"/>
<polygon points="593.5,112 597.7,112 599.6,112 595.3,112" fill="#2692ee"/>
<polygon points="595.3,112 599.6,112 601.4,110.8 597.2,110.8" fill="#18a8dd"/>
<polygon points="597.2,110.8 601.4,110.8 603.3,108.7 599.1,108.8" fill="#2bc1ab"/>
<polygon points="599.1,108.8 603.3,108.7 605.2,106.6 600.9,106.6" fill="#8fc750"/>
<polygon points="600.9,106.6 605.2,106.6 607,104.8 602.8,104.9" fill="#edc438"/>
<polygon points="602.8,104.9 607,104.8 608.9,103.7 604.6,103.7" fill="#f8d72e"/>
<polygon points="604.6,103.7 608.9,103.7 610.8,103.2 606.5,103.3" fill="#f5e824"/>
<polygon points="606.5,103.3 610.8,103.2 612.6,103.2 608.4,103.3" fill="#f7f11d"/>
<polygon points="608.4,103.3 612.6,103.2 614.5,103.7 610.2,103.7" fill="#f8f618"/>
<polygon points="610.2,103.7 614.5,103.7 616.4,104.3 612.1,104.4" fill="#f9f916"/>
<polygon points="612.1,104.4 616.4,104.3 618.2,105 614,105.1" fill="#f9fa15"/>
<polygon points="568.7,92.5 572.9,92.7 574.8,93.5 570.6,93.3" fill="#fec537"/>
<polygon points="570.6,93.3 574.8,93.5 576.7,94.3 572.4,94.2" fill="#fec537"/>
<polygon points="572.4,94.2 576.7,94.3 578.5,95.2 574.3,95.1" fill="#fec438"/>
<polygon points="574.3,95.1 578.5,95.2 580.4,96.2 576.1,96.1" fill="#fcc338"/>
<polygon points="576.1,96.1 580.4,96.2 582.3,97.5 578,97.4" fill="#f2c438"/>
<polygon points="578,97.4 582.3,97.5 584.1,99.2 579.9,99.1" fill="#dcc538"/>
<polygon points="579.9,99.1 584.1,99.2 586,101.6 581.7,101.5" fill="#b6c639"/>
<polygon points="581.7,101.5 586,101.6 587.9,104.5 583.6,104.5" fill="#69c76e"/>
<polygon points="583.6,104.5 587.9,104.5 589.7,107.7 585.5,107.7" fill="#28bfb1"/>
<polygon points="585.5,107.7 589.7,107.7 591.6,110.5 587.3,110.5" fill="#18a8dd"/>
<polygon points="587.3,110.5 591.6,110.5 593.5,112 589.2,112.1" fill="#2693ee"/>
<polygon points="589.2,112.1 593.5,112 595.3,112 591.1,112.1" fill="#2693ee"/>
<polygon points="591.1,112.1 595.3,112 597.2,110.8 592.9,110.9" fill="#17a9dc"/>
<polygon points="592.9,110.9 597.2,110.8 599.1,108.8 594.8,108.9" fill="#2cc1aa"/>
<polygon points="594.8,108.9 599.1,108.8 600.9,106.6 596.7,106.7" fill="#91c74e"/>
<polygon points="596.7,106.7 600.9,106.6 602.8,104.9 598.5,104.9" fill="#edc438"/>
<polygon points="598.5,104.9 602.8,104.9 604.6,103.7 600.4,103.8" fill="#f8d72e"/>
<polygon points="600.4,103.8 604.6,103.7 606.5,103.3 602.3,103.4" fill="#f5e824"/>
<polygon points="602.3,103.4 606.5,103.3 608.4,103.3 604.1,103.4" fill="#f7f11d"/>
<polygon points="604.1,103.4 608.4,103.3 610.2,103.7 606,103.8" fill="#f8f618"/>
<polygon points="606,103.8 610.2,103.7 612.1,104.4 607.9,104.5" fill="#f9f916"/>
<polygon points="607.9,104.5 612.1,104.4 614,105.1 609.7,105.2" fill="#f9fa15"/>
<polygon points="564.4,92.3 568.7,92.5 570.6,93.3 566.3,93.1" fill="#fdc836"/>
<polygon points="566.3,93.1 570.6,93.3 572.4,94.2 568.2,94" fill="#fdc836"/>
<polygon points="568.2,94 572.4,94.2 574.3,95.1 570,94.9" fill="#fdc736"/>
<polygon points="570,94.9 574.3,95.1 576.1,96.1 571.9,95.9" fill="#fdc637"/>
<polygon points="571.9,95.9 576.1,96.1 578,97.4 573.8,97.2" fill="#fac338"/>
<polygon points="573.8,97.2 578,97.4 579.9,99.1 575.6,99" fill="#e4c438"/>
<polygon points="575.6,99 579.9,99.1 581.7,101.5 577.5,101.4" fill="#bcc639"/>
<polygon points="577.5,101.4 581.7,101.5 583.6,104.5 579.4,104.4" fill="#71c768"/>
<polygon points="579.4,104.4 583.6,104.5 585.5,107.7 581.2,107.7" fill="#2ac0ae"/>
<polygon points="581.2,107.7 585.5,107.7 587.3,110.5 583.1,110.5" fill="#17a9dc"/>
<polygon points="583.1,110.5 587.3,110.5 589.2,112.1 585,112.1" fill="#2594ed"/>
<polygon points="585,112.1 589.2,112.1 591.1,112.1 586.8,112.1" fill="#2594ed"/>
<polygon points="586.8,112.1 591.1,112.1 592.9,110.9 588.7,110.9" fill="#17a9dc"/>
<polygon points="588.7,110.9 592.9,110.9 594.8,108.9 590.5,108.9" fill="#2cc1a9"/>
<polygon points="590.5,108.9 594.8,108.9 596.7,106.7 592.4,106.8" fill="#91c74e"/>
<polygon points="592.4,106.8 596.7,106.7 598.5,104.9 594.3,105" fill="#eec438"/>
<polygon points="594.3,105 598.5,104.9 600.4,103.8 596.1,103.9" fill="#f8d72e"/>
<polygon points="596.1,103.9 600.4,103.8 602.3,103.4 598,103.5" fill="#f5e824"/>
<polygon points="598,103.5 602.3,103.4 604.1,103.4 599.9,103.5" fill="#f7f11d"/>
<polygon points="599.9,103.5 604.1,103.4 606,103.8 601.7,103.9" fill="#f8f618"/>
<polygon points="601.7,103.9 606,103.8 607.9,104.5 603.6,104.5" fill="#f9f916"/>
<polygon points="603.6,104.5 607.9,104.5 609.7,105.2 605.5,105.3" fill="#f9fa15"/>
<polygon points="560.2,92.1 564.4,92.3 566.3,93.1 562,92.9" fill="#fccc34"/>
<polygon points="562,92.9 566.3,93.1 568.2,94 563.9,93.8" fill="#fccb34"/>
<polygon points="563.9,93.8 568.2,94 570,94.9 565.8,94.7" fill="#fccb34"/>
<polygon points="565.8,94.7 570,94.9 571.9,95.9 567.6,95.7" fill="#fcc935"/>
<polygon points="567.6,95.7 571.9,95.9 573.8,97.2 569.5,97" fill="#fec537"/>
<polygon points="569.5,97 573.8,97.2 575.6,99 571.4,98.8" fill="#ecc438"/>
<polygon points="571.4,98.8 575.6,99 577.5,101.4 573.2,101.3" fill="#c4c639"/>
<polygon points="573.2,101.3 577.5,101.4 579.4,104.4 575.1,104.3" fill="#7ac761"/>
<polygon points="575.1,104.3 579.4,104.4 581.2,107.7 577,107.7" fill="#2cc1aa"/>
<polygon points="577,107.7 581.2,107.7 583.1,110.5 578.8,110.5" fill="#16abdb"/>
<polygon points="578.8,110.5 583.1,110.5 585,112.1 580.7,112.2" fill="#2495ec"/>
<polygon points="580.7,112.2 585,112.1 586.8,112.1 582.6,112.2" fill="#2594ed"/>
<polygon points="582.6,112.2 586.8,112.1 588.7,110.9 584.4,111" fill="#16aadc"/>
<polygon points="584.4,111 588.7,110.9 590.5,108.9 586.3,109" fill="#2cc1a9"/>
<polygon points="586.3,109 590.5,108.9 592.4,106.8 588.2,106.9" fill="#92c74e"/>
<polygon points="588.2,106.9 592.4,106.8 594.3,105 590,105.1" fill="#eec438"/>
<polygon points="590,105.1 594.3,105 596.1,103.9 591.9,104" fill="#f8d72e"/>
<polygon points="591.9,104 596.1,103.9 598,103.5 593.8,103.5" fill="#f5e824"/>
<polygon points="593.8,103.5 598,103.5 599.9,103.5 595.6,103.6" fill="#f7f11c"/>
<polygon points="595.6,103.6 599.9,103.5 601.7,103.9 597.5,104" fill="#f8f618"/>
<polygon points="597.5,104 601.7,103.9 603.6,104.5 599.4,104.6" fill="#f9f916"/>
<polygon points="599.4,104.6 603.6,104.5 605.5,105.3 601.2,105.4" fill="#f9fa15"/>
<polyline points="564.1,89.7 564.6,89.9 565.2,90.1 565.7,90.4 566.2,90.6 566.7,90.8 567.3,91.1 567.8,91.3 568.3,91.6 568.9,91.8 569.4,92.1 569.9,92.3 570.5,92.6 571,92.9 571.5,93.2 572,93.6 572.6,93.9 573.1,94.3 573.6,94.8 574.2,95.3 574.7,95.8 575.2,96.4 575.8,97 576.3,97.8 576.8,98.5 577.3,99.4 577.9,100.3 578.4,101.2 578.9,102.2 579.5,103.2 580,104.2 580.5,105.3 581.1,106.3 581.6,107.2 582.1,108.2 582.6,109 583.2,109.7 583.7,110.3 584.2,110.8 584.8,111.2 585.3,111.4 585.8,111.4 586.4,111.4 586.9,111.3 587.4,111 588,110.7 588.5,110.3 589,109.8 589.5,109.3 590.1,108.8 590.6,108.2 591.1,107.6 591.7,107 592.2,106.5 592.7,106 593.3,105.5 593.8,105 594.3,104.6 594.8,104.3 595.4,104 595.9,103.8 596.4,103.6 597,103.5 597.5,103.4 598,103.4 598.6,103.4 599.1,103.4 599.6,103.5 600.1,103.6 600.7,103.7 601.2,103.8 601.7,104 602.3,104.2 602.8,104.3 603.3,104.5 603.9,104.7 604.4,104.9 604.9,105.2 605.4,105.4 606,105.6 606.5,105.8 607,106 607.6,106.3 608.1,106.5 608.6,106.7 609.2,106.9 609.7,107.2 610.2,107.4 610.7,107.6 611.3,107.8 611.8,108.1" fill="none" stroke="#ff0000" stroke-width="2.4" stroke-linejoin="round" stroke-linecap="round"/>
<polyline points="564.1,89.5 564.6,89.7 565.2,89.9 565.7,90.1 566.2,90.4 566.7,90.6 567.3,90.8 567.8,91 568.3,91.2 568.9,91.5 569.4,91.7 569.9,92 570.5,92.3 571,92.5 571.5,92.9 572,93.2 572.6,93.6 573.1,94 573.6,94.4 574.2,94.9 574.7,95.5 575.2,96.1 575.8,96.7 576.3,97.5 576.8,98.2 577.3,99.1 577.9,100 578.4,100.9 578.9,101.9 579.5,102.9 580,104 580.5,105 581.1,106 581.6,107 582.1,107.9 582.6,108.7 583.2,109.4 583.7,110 584.2,110.5 584.8,110.9 585.3,111.1 585.8,111.2 586.4,111.2 586.9,111.1 587.4,110.8 588,110.5 588.5,110.1 589,109.6 589.5,109.1 590.1,108.5 590.6,107.9 591.1,107.4 591.7,106.8 592.2,106.3 592.7,105.8 593.3,105.3 593.8,104.9 594.3,104.6 594.8,104.3 595.4,104 595.9,103.9 596.4,103.7 597,103.6 597.5,103.6 598,103.6 598.6,103.7 599.1,103.7 599.6,103.8 600.1,103.9 600.7,104.1 601.2,104.2 601.7,104.4 602.3,104.6 602.8,104.7 603.3,104.9 603.9,105.1 604.4,105.3 604.9,105.5 605.4,105.7 606,105.9 606.5,106.1 607,106.3 607.6,106.6 608.1,106.8 608.6,107 609.2,107.2 609.7,107.4 610.2,107.6 610.7,107.8 611.3,108 611.8,108.2" fill="none" stroke="#0000ff" stroke-width="2.4" stroke-linejoin="round" stroke-linecap="round"/>
<polygon points="555.9,91.9 560.2,92.1 562,92.9 557.8,92.7" fill="#facf32"/>
<polygon points="557.8,92.7 562,92.9 563.9,93.8 559.7,93.6" fill="#facf32"/>
<polygon points="559.7,93.6 563.9,93.8 565.8,94.7 561.5,94.5" fill="#fbce32"/>
<polygon points="561.5,94.5 565.8,94.7 567.6,95.7 563.4,95.5" fill="#fbcc33"/>
<polygon points="563.4,95.5 567.6,95.7 569.5,97 565.3,96.8" fill="#fdc836"/>
<polygon points="565.3,96.8 569.5,97 571.4,98.8 567.1,98.6" fill="#f4c438"/>
<polygon points="567.1,98.6 571.4,98.8 573.2,101.3 569,101.1" fill="#cbc539"/>
<polygon points="569,101.1 573.2,101.3 575.1,104.3 570.9,104.3" fill="#82c75a"/>
<polygon points="570.9,104.3 575.1,104.3 577,107.7 572.7,107.6" fill="#2ec2a7"/>
<polygon points="572.7,107.6 577,107.7 578.8,110.5 574.6,110.5" fill="#15acda"/>
<polygon points="574.6,110.5 578.8,110.5 580.7,112.2 576.4,112.2" fill="#2496ec"/>
<polygon points="576.4,112.2 580.7,112.2 582.6,112.2 578.3,112.3" fill="#2495ec"/>
<polygon points="578.3,112.3 582.6,112.2 584.4,111 580.2,111.1" fill="#16aadc"/>
<polygon points="580.2,111.1 584.4,111 586.3,109 582,109.1" fill="#2dc2a9"/>
<polygon points="582,109.1 586.3,109 588.2,106.9 583.9,107" fill="#92c74d"/>
<polygon points="583.9,107 588.2,106.9 590,105.1 585.8,105.2" fill="#eec438"/>
<polygon points="585.8,105.2 590,105.1 591.9,104 587.6,104.1" fill="#f8d72e"/>
<polygon points="587.6,104.1 591.9,104 593.8,103.5 589.5,103.6" fill="#f5e824"/>
<polygon points="589.5,103.6 593.8,103.5 595.6,103.6 591.4,103.7" fill="#f7f11c"/>
<polygon points="591.4,103.7 595.6,103.6 597.5,104 593.2,104.1" fill="#f8f618"/>
<polygon points="593.2,104.1 597.5,104 599.4,104.6 595.1,104.7" fill="#f9f916"/>
<polygon points="595.1,104.7 599.4,104.6 601.2,105.4 597,105.5" fill="#f9fa15"/>
<polygon points="551.7,91.7 555.9,91.9 557.8,92.7 553.5,92.6" fill="#f9d230"/>
<polygon points="553.5,92.6 557.8,92.7 559.7,93.6 555.4,93.4" fill="#f9d230"/>
<polygon points="555.4,93.4 559.7,93.6 561.5,94.5 557.3,94.3" fill="#fad231"/>
<polygon points="557.3,94.3 561.5,94.5 563.4,95.5 559.1,95.3" fill="#fad032"/>
<polygon points="559.1,95.3 563.4,95.5 565.3,96.8 561,96.7" fill="#fccb34"/>
<polygon points="561,96.7 565.3,96.8 567.1,98.6 562.9,98.5" fill="#fcc338"/>
<polygon points="562.9,98.5 567.1,98.6 569,101.1 564.7,101" fill="#d2c538"/>
<polygon points="564.7,101 569,101.1 570.9,104.3 566.6,104.2" fill="#8ac754"/>
<polygon points="566.6,104.2 570.9,104.3 572.7,107.6 568.5,107.6" fill="#2fc3a4"/>
<polygon points="568.5,107.6 572.7,107.6 574.6,110.5 570.3,110.6" fill="#14aed9"/>
<polygon points="570.3,110.6 574.6,110.5 576.4,112.2 572.2,112.3" fill="#2396eb"/>
<polygon points="572.2,112.3 576.4,112.2 578.3,112.3 574.1,112.4" fill="#2495ec"/>
<polygon points="574.1,112.4 578.3,112.3 580.2,111.1 575.9,111.2" fill="#16aadb"/>
<polygon points="575.9,111.2 580.2,111.1 582,109.1 577.8,109.2" fill="#2dc2a9"/>
<polygon points="577.8,109.2 582,109.1 583.9,107 579.7,107.1" fill="#92c74d"/>
<polygon points="579.7,107.1 583.9,107 585.8,105.2 581.5,105.3" fill="#eec438"/>
<polygon points="581.5,105.3 585.8,105.2 587.6,104.1 583.4,104.2" fill="#f8d72e"/>
<polygon points="583.4,104.2 587.6,104.1 589.5,103.6 585.3,103.7" fill="#f5e824"/>
<polygon points="585.3,103.7 589.5,103.6 591.4,103.7 587.1,103.8" fill="#f7f11c"/>
<polygon points="587.1,103.8 591.4,103.7 593.2,104.1 589,104.2" fill="#f8f618"/>
<polygon points="589,104.2 593.2,104.1 595.1,104.7 590.9,104.8" fill="#f9f916"/>
<polygon points="590.9,104.8 595.1,104.7 597,105.5 592.7,105.5" fill="#f9fa15"/>
<polygon points="547.4,91.6 551.7,91.7 553.5,92.6 549.3,92.4" fill="#f8d52f"/>
<polygon points="549.3,92.4 553.5,92.6 555.4,93.4 551.2,93.3" fill="#f9d52f"/>
<polygon points="551.2,93.3 555.4,93.4 557.3,94.3 553,94.2" fill="#f9d42f"/>
<polygon points="553,94.2 557.3,94.3 559.1,95.3 554.9,95.2" fill="#f9d230"/>
<polygon points="554.9,95.2 559.1,95.3 561,96.7 556.8,96.6" fill="#fbce33"/>
<polygon points="556.8,96.6 561,96.7 562.9,98.5 558.6,98.4" fill="#fec537"/>
<polygon points="558.6,98.4 562.9,98.5 564.7,101 560.5,101" fill="#d7c538"/>
<polygon points="560.5,101 564.7,101 566.6,104.2 562.3,104.2" fill="#90c74f"/>
<polygon points="562.3,104.2 566.6,104.2 568.5,107.6 564.2,107.7" fill="#31c4a2"/>
<polygon points="564.2,107.7 568.5,107.6 570.3,110.6 566.1,110.6" fill="#13afd8"/>
<polygon points="566.1,110.6 570.3,110.6 572.2,112.3 567.9,112.3" fill="#2397ea"/>
<polygon points="567.9,112.3 572.2,112.3 574.1,112.4 569.8,112.4" fill="#2495ec"/>
<polygon points="569.8,112.4 574.1,112.4 575.9,111.2 571.7,111.3" fill="#16aadb"/>
<polygon points="571.7,111.3 575.9,111.2 577.8,109.2 573.5,109.3" fill="#2dc2a8"/>
<polygon points="573.5,109.3 577.8,109.2 579.7,107.1 575.4,107.2" fill="#92c74d"/>
<polygon points="575.4,107.2 579.7,107.1 581.5,105.3 577.3,105.4" fill="#eec438"/>
<polygon points="577.3,105.4 581.5,105.3 583.4,104.2 579.1,104.3" fill="#f8d72e"/>
<polygon points="579.1,104.3 583.4,104.2 585.3,103.7 581,103.8" fill="#f5e824"/>
<polygon points="581,103.8 585.3,103.7 587.1,103.8 582.9,103.9" fill="#f7f11c"/>
<polygon points="582.9,103.9 587.1,103.8 589,104.2 584.7,104.3" fill="#f8f618"/>
<polygon points="584.7,104.3 589,104.2 590.9,104.8 586.6,104.9" fill="#f9f916"/>
<polygon points="586.6,104.9 590.9,104.8 592.7,105.5 588.5,105.6" fill="#f9fa15"/>
<polygon points="543.2,91.6 547.4,91.6 549.3,92.4 545,92.4" fill="#f8d72e"/>
<polygon points="545,92.4 549.3,92.4 551.2,93.3 546.9,93.3" fill="#f8d72e"/>
<polygon points="546.9,93.3 551.2,93.3 553,94.2 548.8,94.2" fill="#f8d62e"/>
<polygon points="548.8,94.2 553,94.2 554.9,95.2 550.6,95.2" fill="#f9d42f"/>
<polygon points="550.6,95.2 554.9,95.2 556.8,96.6 552.5,96.6" fill="#facf32"/>
<polygon points="552.5,96.6 556.8,96.6 558.6,98.4 554.4,98.4" fill="#fdc637"/>
<polygon points="554.4,98.4 558.6,98.4 560.5,101 556.2,101" fill="#dbc538"/>
<polygon points="556.2,101 560.5,101 562.3,104.2 558.1,104.2" fill="#94c74b"/>
<polygon points="558.1,104.2 562.3,104.2 564.2,107.7 560,107.7" fill="#32c5a0"/>
<polygon points="560,107.7 564.2,107.7 566.1,110.6 561.8,110.7" fill="#13b0d7"/>
<polygon points="561.8,110.7 566.1,110.6 567.9,112.3 563.7,112.4" fill="#2397ea"/>
<polygon points="563.7,112.4 567.9,112.3 569.8,112.4 565.6,112.5" fill="#2496eb"/>
<polygon points="565.6,112.5 569.8,112.4 571.7,111.3 567.4,111.4" fill="#16abdb"/>
<polygon points="567.4,111.4 571.7,111.3 573.5,109.3 569.3,109.4" fill="#2dc2a8"/>
<polygon points="569.3,109.4 573.5,109.3 575.4,107.2 571.2,107.2" fill="#92c74d"/>
<polygon points="571.2,107.2 575.4,107.2 577.3,105.4 573,105.5" fill="#eec438"/>
<polygon points="573,105.5 577.3,105.4 579.1,104.3 574.9,104.4" fill="#f8d72e"/>
<polygon points="574.9,104.4 579.1,104.3 581,103.8 576.8,103.9" fill="#f5e824"/>
<polygon points="576.8,103.9 581,103.8 582.9,103.9 578.6,104" fill="#f7f11c"/>
<polygon points="578.6,104 582.9,103.9 584.7,104.3 580.5,104.4" fill="#f8f618"/>
<polygon points="580.5,104.4 584.7,104.3 586.6,104.9 582.3,105" fill="#f9f916"/>
<polygon points="582.3,105 586.6,104.9 588.5,105.6 584.2,105.7" fill="#f9fa15"/>
<polygon points="538.9,91.7 543.2,91.6 545,92.4 540.8,92.5" fill="#f8d82d"/>
<polygon points="540.8,92.5 545,92.4 546.9,93.3 542.7,93.3" fill="#f8d72e"/>
<polygon points="542.7,93.3 546.9,93.3 548.8,94.2 544.5,94.2" fill="#f8d72e"/>
<polygon points="544.5,94.2 548.8,94.2 550.6,95.2 546.4,95.3" fill="#f9d52f"/>
<polygon points="546.4,95.3 550.6,95.2 552.5,96.6 548.2,96.6" fill="#fad031"/>
<polygon points="548.2,96.6 552.5,96.6 554.4,98.4 550.1,98.5" fill="#fdc736"/>
<polygon points="550.1,98.5 554.4,98.4 556.2,101 552,101.1" fill="#dcc538"/>
<polygon points="552,101.1 556.2,101 558.1,104.2 553.8,104.3" fill="#96c74a"/>
<polygon points="553.8,104.3 558.1,104.2 560,107.7 555.7,107.8" fill="#32c59f"/>
<polygon points="555.7,107.8 560,107.7 561.8,110.7 557.6,110.8" fill="#12b0d7"/>
<polygon points="557.6,110.8 561.8,110.7 563.7,112.4 559.4,112.5" fill="#2398ea"/>
<polygon points="559.4,112.5 563.7,112.4 565.6,112.5 561.3,112.6" fill="#2496eb"/>
<polygon points="561.3,112.6 565.6,112.5 567.4,111.4 563.2,111.5" fill="#16abdb"/>
<polygon points="563.2,111.5 567.4,111.4 569.3,109.4 565,109.5" fill="#2dc2a8"/>
<polygon points="565,109.5 569.3,109.4 571.2,107.2 566.9,107.3" fill="#92c74d"/>
<polygon points="566.9,107.3 571.2,107.2 573,105.5 568.8,105.6" fill="#eec438"/>
<polygon points="568.8,105.6 573,105.5 574.9,104.4 570.6,104.5" fill="#f8d72e"/>
<polygon points="570.6,104.5 574.9,104.4 576.8,103.9 572.5,104" fill="#f5e824"/>
<polygon points="572.5,104 576.8,103.9 578.6,104 574.4,104.1" fill="#f7f11c"/>
<polygon points="574.4,104.1 578.6,104 580.5,104.4 576.2,104.5" fill="#f8f618"/>
<polygon points="576.2,104.5 580.5,104.4 582.3,105 578.1,105.1" fill="#f9f916"/>
<polygon points="578.1,105.1 582.3,105 584.2,105.7 580,105.8" fill="#f9fa15"/>
<polyline points="539,91.3 539.5,91.5 540.1,91.8 540.6,92 541.1,92.2 541.7,92.5 542.2,92.7 542.7,92.9 543.2,93.2 543.8,93.4 544.3,93.7 544.8,94 545.4,94.2 545.9,94.5 546.4,94.8 547,95.2 547.5,95.5 548,95.9 548.5,96.4 549.1,96.9 549.6,97.4 550.1,98 550.7,98.6 551.2,99.3 551.7,100 552.3,100.9 552.8,101.7 553.3,102.6 553.8,103.6 554.4,104.6 554.9,105.6 555.4,106.6 556,107.6 556.5,108.5 557,109.4 557.6,110.2 558.1,110.9 558.6,111.5 559.1,111.9 559.7,112.3 560.2,112.4 560.7,112.5 561.3,112.4 561.8,112.2 562.3,112 562.9,111.6 563.4,111.2 563.9,110.7 564.4,110.1 565,109.6 565.5,109 566,108.4 566.6,107.8 567.1,107.2 567.6,106.7 568.2,106.2 568.7,105.7 569.2,105.3 569.8,104.9 570.3,104.7 570.8,104.4 571.3,104.2 571.9,104.1 572.4,104 572.9,104 573.5,104 574,104 574.5,104.1 575.1,104.2 575.6,104.3 576.1,104.4 576.6,104.6 577.2,104.7 577.7,104.9 578.2,105.1 578.8,105.3 579.3,105.5 579.8,105.7 580.4,105.9 580.9,106.2 581.4,106.4 581.9,106.6 582.5,106.8 583,107 583.5,107.3 584.1,107.5 584.6,107.7 585.1,107.9 585.7,108.2 586.2,108.4 586.7,108.6" fill="none" stroke="#ff0000" stroke-width="2.4" stroke-linejoin="round" stroke-linecap="round"/>
<polyline points="539,89.9 539.5,90.1 540.1,90.3 540.6,90.5 541.1,90.7 541.7,90.9 542.2,91.2 542.7,91.4 543.2,91.6 543.8,91.9 544.3,92.1 544.8,92.4 545.4,92.6 545.9,92.9 546.4,93.3 547,93.6 547.5,94 548,94.4 548.5,94.8 549.1,95.3 549.6,95.9 550.1,96.5 550.7,97.2 551.2,97.9 551.7,98.7 552.3,99.5 552.8,100.4 553.3,101.4 553.8,102.3 554.4,103.4 554.9,104.4 555.4,105.4 556,106.4 556.5,107.4 557,108.3 557.6,109.1 558.1,109.8 558.6,110.5 559.1,111 559.7,111.3 560.2,111.6 560.7,111.7 561.3,111.7 561.8,111.5 562.3,111.3 562.9,111 563.4,110.5 563.9,110.1 564.4,109.5 565,109 565.5,108.4 566,107.8 566.6,107.3 567.1,106.7 567.6,106.2 568.2,105.8 568.7,105.4 569.2,105 569.8,104.7 570.3,104.5 570.8,104.3 571.3,104.2 571.9,104.1 572.4,104.1 572.9,104.1 573.5,104.1 574,104.2 574.5,104.3 575.1,104.4 575.6,104.6 576.1,104.7 576.6,104.9 577.2,105.1 577.7,105.3 578.2,105.4 578.8,105.6 579.3,105.8 579.8,106 580.4,106.2 580.9,106.5 581.4,106.7 581.9,106.9 582.5,107.1 583,107.3 583.5,107.5 584.1,107.7 584.6,107.9 585.1,108.1 585.7,108.3 586.2,108.5 586.7,108.8" fill="none" stroke="#0000ff" stroke-width="2.4" stroke-linejoin="round" stroke-linecap="round"/>
<polygon points="534.7,91.9 538.9,91.7 540.8,92.5 536.5,92.7" fill="#f8d72e"/>
<polygon points="536.5,92.7 540.8,92.5 542.7,93.3 538.4,93.5" fill="#f8d72e"/>
<polygon points="538.4,93.5 542.7,93.3 544.5,94.2 540.3,94.4" fill="#f8d62e"/>
<polygon points="540.3,94.4 544.5,94.2 546.4,95.3 542.1,95.5" fill="#f9d42f"/>
<polygon points="542.1,95.5 546.4,95.3 548.2,96.6 544,96.8" fill="#fad032"/>
<polygon points="544,96.8 548.2,96.6 550.1,98.5 545.9,98.7" fill="#fdc636"/>
<polygon points="545.9,98.7 550.1,98.5 552,101.1 547.7,101.2" fill="#dcc538"/>
<polygon points="547.7,101.2 552,101.1 553.8,104.3 549.6,104.5" fill="#95c74b"/>
<polygon points="549.6,104.5 553.8,104.3 555.7,107.8 551.5,107.9" fill="#32c5a0"/>
<polygon points="551.5,107.9 555.7,107.8 557.6,110.8 553.3,110.9" fill="#13b0d7"/>
<polygon points="553.3,110.9 557.6,110.8 559.4,112.5 555.2,112.6" fill="#2397ea"/>
<polygon points="555.2,112.6 559.4,112.5 561.3,112.6 557.1,112.7" fill="#2496eb"/>
<polygon points="557.1,112.7 561.3,112.6 563.2,111.5 558.9,111.5" fill="#16abdb"/>
<polygon points="558.9,111.5 563.2,111.5 565,109.5 560.8,109.6" fill="#2dc2a8"/>
<polygon points="560.8,109.6 565,109.5 566.9,107.3 562.6,107.4" fill="#92c74d"/>
<polygon points="562.6,107.4 566.9,107.3 568.8,105.6 564.5,105.7" fill="#eec438"/>
<polygon points="564.5,105.7 568.8,105.6 570.6,104.5 566.4,104.6" fill="#f8d72e"/>
<polygon points="566.4,104.6 570.6,104.5 572.5,104 568.2,104.1" fill="#f5e824"/>
<polygon points="568.2,104.1 572.5,104 574.4,104.1 570.1,104.2" fill="#f7f11c"/>
<polygon points="570.1,104.2 574.4,104.1 576.2,104.5 572,104.6" fill="#f8f618"/>
<polygon points="572,104.6 576.2,104.5 578.1,105.1 573.8,105.2" fill="#f9f916"/>
<polygon points="573.8,105.2 578.1,105.1 580,105.8 575.7,105.9" fill="#f9fa15"/>
<polygon points="530.4,92.1 534.7,91.9 536.5,92.7 532.3,93" fill="#f8d62f"/>
<polygon points="532.3,93 536.5,92.7 538.4,93.5 534.1,93.8" fill="#f8d52f"/>
<polygon points="534.1,93.8 538.4,93.5 540.3,94.4 536,94.7" fill="#f9d52f"/>
<polygon points="536,94.7 540.3,94.4 542.1,95.5 537.9,95.7" fill="#f9d330"/>
<polygon points="537.9,95.7 542.1,95.5 544,96.8 539.7,97.1" fill="#fbce32"/>
<polygon points="539.7,97.1 544,96.8 545.9,98.7 541.6,98.9" fill="#fec537"/>
<polygon points="541.6,98.9 545.9,98.7 547.7,101.2 543.5,101.5" fill="#d8c538"/>
<polygon points="543.5,101.5 547.7,101.2 549.6,104.5 545.3,104.6" fill="#91c74e"/>
<polygon points="545.3,104.6 549.6,104.5 551.5,107.9 547.2,108.1" fill="#31c4a1"/>
<polygon points="547.2,108.1 551.5,107.9 553.3,110.9 549.1,111" fill="#13afd8"/>
<polygon points="549.1,111 553.3,110.9 555.2,112.6 550.9,112.7" fill="#2397ea"/>
<polygon points="550.9,112.7 555.2,112.6 557.1,112.7 552.8,112.8" fill="#2496ec"/>
<polygon points="552.8,112.8 557.1,112.7 558.9,111.5 554.7,111.6" fill="#16abdb"/>
<polygon points="554.7,111.6 558.9,111.5 560.8,109.6 556.5,109.7" fill="#2dc2a8"/>
<polygon points="556.5,109.7 560.8,109.6 562.6,107.4 558.4,107.5" fill="#92c74d"/>
<polygon points="558.4,107.5 562.6,107.4 564.5,105.7 560.3,105.8" fill="#eec438"/>
<polygon points="560.3,105.8 564.5,105.7 566.4,104.6 562.1,104.7" fill="#f8d72e"/>
<polygon points="562.1,104.7 566.4,104.6 568.2,104.1 564,104.2" fill="#f5e824"/>
<polygon points="564,104.2 568.2,104.1 570.1,104.2 565.9,104.3" fill="#f7f11c"/>
<polygon points="565.9,104.3 570.1,104.2 572,104.6 567.7,104.7" fill="#f8f618"/>
<polygon points="567.7,104.7 572,104.6 573.8,105.2 569.6,105.3" fill="#f9f916"/>
<polygon points="569.6,105.3 573.8,105.2 575.7,105.9 571.5,106" fill="#f9fa15"/>
<polygon points="526.2,92.5 530.4,92.1 532.3,93 528,93.3" fill="#f9d330"/>
<polygon points="528,93.3 532.3,93 534.1,93.8 529.9,94.1" fill="#f9d330"/>
<polygon points="529.9,94.1 534.1,93.8 536,94.7 531.8,95" fill="#f9d230"/>
<polygon points="531.8,95 536,94.7 537.9,95.7 533.6,96.1" fill="#fad031"/>
<polygon points="533.6,96.1 537.9,95.7 539.7,97.1 535.5,97.4" fill="#fbcc34"/>
<polygon points="535.5,97.4 539.7,97.1 541.6,98.9 537.4,99.2" fill="#fdc338"/>
<polygon points="537.4,99.2 541.6,98.9 543.5,101.5 539.2,101.7" fill="#d3c538"/>
<polygon points="539.2,101.7 543.5,101.5 545.3,104.6 541.1,104.9" fill="#8bc753"/>
<polygon points="541.1,104.9 545.3,104.6 547.2,108.1 543,108.3" fill="#30c4a3"/>
<polygon points="543,108.3 547.2,108.1 549.1,111 544.8,111.2" fill="#14aed8"/>
<polygon points="544.8,111.2 549.1,111 550.9,112.7 546.7,112.9" fill="#2397eb"/>
<polygon points="546.7,112.9 550.9,112.7 552.8,112.8 548.5,112.9" fill="#2495ec"/>
<polygon points="548.5,112.9 552.8,112.8 554.7,111.6 550.4,111.7" fill="#16aadb"/>
<polygon points="550.4,111.7 554.7,111.6 556.5,109.7 552.3,109.8" fill="#2dc2a8"/>
<polygon points="552.3,109.8 556.5,109.7 558.4,107.5 554.1,107.6" fill="#92c74d"/>
<polygon points="554.1,107.6 558.4,107.5 560.3,105.8 556,105.9" fill="#eec438"/>
<polygon points="556,105.9 560.3,105.8 562.1,104.7 557.9,104.7" fill="#f8d72e"/>
<polygon points="557.9,104.7 562.1,104.7 564,104.2 559.7,104.3" fill="#f5e824"/>
<polygon points="559.7,104.3 564,104.2 565.9,104.3 561.6,104.4" fill="#f7f11c"/>
<polygon points="561.6,104.4 565.9,104.3 567.7,104.7 563.5,104.8" fill="#f8f618"/>
<polygon points="563.5,104.8 567.7,104.7 569.6,105.3 565.3,105.4" fill="#f9f916"/>
<polygon points="565.3,105.4 569.6,105.3 571.5,106 567.2,106.1" fill="#f9fa15"/>
<polygon points="521.9,92.9 526.2,92.5 528,93.3 523.8,93.7" fill="#fad031"/>
<polygon points="523.8,93.7 528,93.3 529.9,94.1 525.6,94.5" fill="#fad032"/>
<polygon points="525.6,94.5 529.9,94.1 531.8,95 527.5,95.4" fill="#facf32"/>
<polygon points="527.5,95.4 531.8,95 533.6,96.1 529.4,96.5" fill="#fbcd33"/>
<polygon points="529.4,96.5 533.6,96.1 535.5,97.4 531.2,97.8" fill="#fcc935"/>
<polygon points="531.2,97.8 535.5,97.4 537.4,99.2 533.1,99.6" fill="#f6c438"/>
<polygon points="533.1,99.6 537.4,99.2 539.2,101.7 535,102" fill="#cdc539"/>
<polygon points="535,102 539.2,101.7 541.1,104.9 536.8,105.1" fill="#84c759"/>
<polygon points="536.8,105.1 541.1,104.9 543,108.3 538.7,108.5" fill="#2ec2a6"/>
<polygon points="538.7,108.5 543,108.3 544.8,111.2 540.6,111.3" fill="#14add9"/>
<polygon points="540.6,111.3 544.8,111.2 546.7,112.9 542.4,113" fill="#2496eb"/>
<polygon points="542.4,113 546.7,112.9 548.5,112.9 544.3,113" fill="#2495ec"/>
<polygon points="544.3,113 548.5,112.9 550.4,111.7 546.2,111.8" fill="#16aadb"/>
<polygon points="546.2,111.8 550.4,111.7 552.3,109.8 548,109.9" fill="#2dc2a9"/>
<polygon points="548,109.9 552.3,109.8 554.1,107.6 549.9,107.7" fill="#92c74d"/>
<polygon points="549.9,107.7 554.1,107.6 556,105.9 551.8,106" fill="#eec438"/>
<polygon points="551.8,106 556,105.9 557.9,104.7 553.6,104.8" fill="#f8d72e"/>
<polygon points="553.6,104.8 557.9,104.7 559.7,104.3 555.5,104.4" fill="#f5e824"/>
<polygon points="555.5,104.4 559.7,104.3 561.6,104.4 557.4,104.5" fill="#f7f11c"/>
<polygon points="557.4,104.5 561.6,104.4 563.5,104.8 559.2,104.9" fill="#f8f618"/>
<polygon points="559.2,104.9 563.5,104.8 565.3,105.4 561.1,105.5" fill="#f9f916"/>
<polygon points="561.1,105.5 565.3,105.4 567.2,106.1 563,106.2" fill="#f9fa15"/>
<polygon points="517.7,93.3 521.9,92.9 523.8,93.7 519.5,94.1" fill="#fbcd33"/>
<polygon points="519.5,94.1 523.8,93.7 525.6,94.5 521.4,94.9" fill="#fbcc33"/>
<polygon points="521.4,94.9 525.6,94.5 527.5,95.4 523.3,95.8" fill="#fccc34"/>
<polygon points="523.3,95.8 527.5,95.4 529.4,96.5 525.1,96.8" fill="#fcca35"/>
<polygon points="525.1,96.8 529.4,96.5 531.2,97.8 527,98.1" fill="#fdc637"/>
<polygon points="527,98.1 531.2,97.8 533.1,99.6 528.9,99.9" fill="#eec438"/>
<polygon points="528.9,99.9 533.1,99.6 535,102 530.7,102.4" fill="#c5c639"/>
<polygon points="530.7,102.4 535,102 536.8,105.1 532.6,105.4" fill="#7cc75f"/>
<polygon points="532.6,105.4 536.8,105.1 538.7,108.5 534.4,108.7" fill="#2cc1aa"/>
<polygon points="534.4,108.7 538.7,108.5 540.6,111.3 536.3,111.5" fill="#15abdb"/>
<polygon points="536.3,111.5 540.6,111.3 542.4,113 538.2,113.1" fill="#2495ec"/>
<polygon points="538.2,113.1 542.4,113 544.3,113 540,113.2" fill="#2594ec"/>
<polygon points="540,113.2 544.3,113 546.2,111.8 541.9,112" fill="#16aadc"/>
<polygon points="541.9,112 546.2,111.8 548,109.9 543.8,110" fill="#2dc2a9"/>
<polygon points="543.8,110 548,109.9 549.9,107.7 545.6,107.8" fill="#92c74d"/>
<polygon points="545.6,107.8 549.9,107.7 551.8,106 547.5,106.1" fill="#eec438"/>
<polygon points="547.5,106.1 551.8,106 553.6,104.8 549.4,104.9" fill="#f8d72e"/>
<polygon points="549.4,104.9 553.6,104.8 555.5,104.4 551.2,104.5" fill="#f5e824"/>
<polygon points="551.2,104.5 555.5,104.4 557.4,104.5 553.1,104.5" fill="#f7f11c"/>
<polygon points="553.1,104.5 557.4,104.5 559.2,104.9 555,105" fill="#f8f618"/>
<polygon points="555,105 559.2,104.9 561.1,105.5 556.8,105.6" fill="#f9f916"/>
<polygon points="556.8,105.6 561.1,105.5 563,106.2 558.7,106.3" fill="#f9fa15"/>
<polygon points="513.4,93.7 517.7,93.3 519.5,94.1 515.3,94.5" fill="#fcc935"/>
<polygon points="515.3,94.5 519.5,94.1 521.4,94.9 517.1,95.3" fill="#fcc935"/>
<polygon points="517.1,95.3 521.4,94.9 523.3,95.8 519,96.2" fill="#fdc836"/>
<polygon points="519,96.2 523.3,95.8 525.1,96.8 520.9,97.2" fill="#fdc736"/>
<polygon points="520.9,97.2 525.1,96.8 527,98.1 522.7,98.5" fill="#fcc338"/>
<polygon points="522.7,98.5 527,98.1 528.9,99.9 524.6,100.3" fill="#e6c438"/>
<polygon points="524.6,100.3 528.9,99.9 530.7,102.4 526.5,102.7" fill="#bec639"/>
<polygon points="526.5,102.7 530.7,102.4 532.6,105.4 528.3,105.7" fill="#74c766"/>
<polygon points="528.3,105.7 532.6,105.4 534.4,108.7 530.2,108.9" fill="#2ac0ad"/>
<polygon points="530.2,108.9 534.4,108.7 536.3,111.5 532.1,111.7" fill="#16aadc"/>
<polygon points="532.1,111.7 536.3,111.5 538.2,113.1 533.9,113.2" fill="#2594ed"/>
<polygon points="533.9,113.2 538.2,113.1 540,113.2 535.8,113.3" fill="#2594ed"/>
<polygon points="535.8,113.3 540,113.2 541.9,112 537.7,112.1" fill="#16aadc"/>
<polygon points="537.7,112.1 541.9,112 543.8,110 539.5,110.1" fill="#2cc2a9"/>
<polygon points="539.5,110.1 543.8,110 545.6,107.8 541.4,107.9" fill="#92c74e"/>
<polygon points="541.4,107.9 545.6,107.8 547.5,106.1 543.3,106.1" fill="#eec438"/>
<polygon points="543.3,106.1 547.5,106.1 549.4,104.9 545.1,105" fill="#f8d72e"/>
<polygon points="545.1,105 549.4,104.9 551.2,104.5 547,104.6" fill="#f5e824"/>
<polygon points="547,104.6 551.2,104.5 553.1,104.5 548.9,104.6" fill="#f7f11c"/>
<polygon points="548.9,104.6 553.1,104.5 555,105 550.7,105.1" fill="#f8f618"/>
<polygon points="550.7,105.1 555,105 556.8,105.6 552.6,105.7" fill="#f9f916"/>
<polygon points="552.6,105.7 556.8,105.6 558.7,106.3 554.4,106.4" fill="#f9fa15"/>
<polyline points="513.9,92.6 514.4,92.8 515,93 515.5,93.3 516,93.5 516.6,93.7 517.1,94 517.6,94.2 518.2,94.5 518.7,94.7 519.2,95 519.7,95.2 520.3,95.5 520.8,95.8 521.3,96.1 521.9,96.4 522.4,96.8 522.9,97.2 523.5,97.6 524,98.1 524.5,98.6 525,99.2 525.6,99.8 526.1,100.5 526.6,101.2 527.2,102 527.7,102.9 528.2,103.8 528.8,104.7 529.3,105.6 529.8,106.6 530.3,107.6 530.9,108.5 531.4,109.5 531.9,110.3 532.5,111.1 533,111.8 533.5,112.3 534.1,112.7 534.6,113 535.1,113.2 535.6,113.2 536.2,113.2 536.7,113 537.2,112.7 537.8,112.3 538.3,111.9 538.8,111.4 539.4,110.8 539.9,110.2 540.4,109.6 540.9,109 541.5,108.4 542,107.8 542.5,107.2 543.1,106.7 543.6,106.3 544.1,105.9 544.7,105.5 545.2,105.2 545.7,105 546.2,104.8 546.8,104.7 547.3,104.6 547.8,104.5 548.4,104.5 548.9,104.6 549.4,104.6 550,104.7 550.5,104.8 551,105 551.5,105.1 552.1,105.3 552.6,105.5 553.1,105.7 553.7,105.9 554.2,106.1 554.7,106.3 555.3,106.5 555.8,106.7 556.3,106.9 556.9,107.1 557.4,107.4 557.9,107.6 558.4,107.8 559,108 559.5,108.3 560,108.5 560.6,108.7 561.1,109 561.6,109.2" fill="none" stroke="#ff0000" stroke-width="2.4" stroke-linejoin="round" stroke-linecap="round"/>
<polyline points="513.9,90.8 514.4,91 515,91.2 515.5,91.4 516,91.6 516.6,91.8 517.1,92.1 517.6,92.3 518.2,92.5 518.7,92.7 519.2,93 519.7,93.2 520.3,93.5 520.8,93.8 521.3,94.1 521.9,94.5 522.4,94.8 522.9,95.2 523.5,95.7 524,96.2 524.5,96.7 525,97.3 525.6,98 526.1,98.7 526.6,99.5 527.2,100.3 527.7,101.2 528.2,102.2 528.8,103.2 529.3,104.2 529.8,105.2 530.3,106.2 530.9,107.2 531.4,108.2 531.9,109.1 532.5,109.9 533,110.6 533.5,111.2 534.1,111.7 534.6,112.1 535.1,112.3 535.6,112.4 536.2,112.4 536.7,112.3 537.2,112 537.8,111.7 538.3,111.3 538.8,110.8 539.4,110.3 539.9,109.7 540.4,109.1 540.9,108.5 541.5,108 542,107.4 542.5,106.9 543.1,106.5 543.6,106.1 544.1,105.7 544.7,105.4 545.2,105.2 545.7,105 546.2,104.9 546.8,104.8 547.3,104.8 547.8,104.8 548.4,104.8 548.9,104.9 549.4,105 550,105.1 550.5,105.2 551,105.4 551.5,105.5 552.1,105.7 552.6,105.9 553.1,106.1 553.7,106.3 554.2,106.5 554.7,106.7 555.3,106.9 555.8,107.1 556.3,107.3 556.9,107.5 557.4,107.7 557.9,107.9 558.4,108.1 559,108.3 559.5,108.5 560,108.7 560.6,108.9 561.1,109.1 561.6,109.3" fill="none" stroke="#0000ff" stroke-width="2.4" stroke-linejoin="round" stroke-linecap="round"/>
<polygon points="509.2,94 513.4,93.7 515.3,94.5 511,94.9" fill="#fdc637"/>
<polygon points="511,94.9 515.3,94.5 517.1,95.3 512.9,95.7" fill="#fdc637"/>
<polygon points="512.9,95.7 517.1,95.3 519,96.2 514.8,96.6" fill="#fec537"/>
<polygon points="514.8,96.6 519,96.2 520.9,97.2 516.6,97.6" fill="#fec338"/>
<polygon points="516.6,97.6 520.9,97.2 522.7,98.5 518.5,98.9" fill="#f4c438"/>
<polygon points="518.5,98.9 522.7,98.5 524.6,100.3 520.3,100.6" fill="#dec538"/>
<polygon points="520.3,100.6 524.6,100.3 526.5,102.7 522.2,102.9" fill="#b7c639"/>
<polygon points="522.2,102.9 526.5,102.7 528.3,105.7 524.1,105.9" fill="#6cc76c"/>
<polygon points="524.1,105.9 528.3,105.7 530.2,108.9 525.9,109.1" fill="#28bfb0"/>
<polygon points="525.9,109.1 530.2,108.9 532.1,111.7 527.8,111.8" fill="#17a9dd"/>
<polygon points="527.8,111.8 532.1,111.7 533.9,113.2 529.7,113.4" fill="#2593ed"/>
<polygon points="529.7,113.4 533.9,113.2 535.8,113.3 531.5,113.4" fill="#2594ed"/>
<polygon points="531.5,113.4 535.8,113.3 537.7,112.1 533.4,112.2" fill="#17aadc"/>
<polygon points="533.4,112.2 537.7,112.1 539.5,110.1 535.3,110.2" fill="#2cc1a9"/>
<polygon points="535.3,110.2 539.5,110.1 541.4,107.9 537.1,108" fill="#92c74e"/>
<polygon points="537.1,108 541.4,107.9 543.3,106.1 539,106.2" fill="#eec438"/>
<polygon points="539,106.2 543.3,106.1 545.1,105 540.9,105.1" fill="#f8d72e"/>
<polygon points="540.9,105.1 545.1,105 547,104.6 542.7,104.7" fill="#f5e824"/>
<polygon points="542.7,104.7 547,104.6 548.9,104.6 544.6,104.7" fill="#f7f11c"/>
<polygon points="544.6,104.7 548.9,104.6 550.7,105.1 546.5,105.1" fill="#f8f618"/>
<polygon points="546.5,105.1 550.7,105.1 552.6,105.7 548.3,105.8" fill="#f9f916"/>
<polygon points="548.3,105.8 552.6,105.7 554.4,106.4 550.2,106.5" fill="#f9fa15"/>
<polygon points="504.9,94.4 509.2,94 511,94.9 506.8,95.2" fill="#fdc338"/>
<polygon points="506.8,95.2 511,94.9 512.9,95.7 508.6,96" fill="#fdc338"/>
<polygon points="508.6,96 512.9,95.7 514.8,96.6 510.5,96.9" fill="#fbc338"/>
<polygon points="510.5,96.9 514.8,96.6 516.6,97.6 512.4,97.9" fill="#f7c438"/>
<polygon points="512.4,97.9 516.6,97.6 518.5,98.9 514.2,99.2" fill="#edc438"/>
<polygon points="514.2,99.2 518.5,98.9 520.3,100.6 516.1,100.9" fill="#d7c538"/>
<polygon points="516.1,100.9 520.3,100.6 522.2,102.9 518,103.2" fill="#b1c639"/>
<polygon points="518,103.2 522.2,102.9 524.1,105.9 519.8,106.1" fill="#65c772"/>
<polygon points="519.8,106.1 524.1,105.9 525.9,109.1 521.7,109.3" fill="#27beb2"/>
<polygon points="521.7,109.3 525.9,109.1 527.8,111.8 523.6,112" fill="#18a8de"/>
<polygon points="523.6,112 527.8,111.8 529.7,113.4 525.4,113.5" fill="#2693ee"/>
<polygon points="525.4,113.5 529.7,113.4 531.5,113.4 527.3,113.5" fill="#2593ed"/>
<polygon points="527.3,113.5 531.5,113.4 533.4,112.2 529.2,112.3" fill="#17a9dc"/>
<polygon points="529.2,112.3 533.4,112.2 535.3,110.2 531,110.3" fill="#2cc1a9"/>
<polygon points="531,110.3 535.3,110.2 537.1,108 532.9,108.1" fill="#92c74e"/>
<polygon points="532.9,108.1 537.1,108 539,106.2 534.8,106.3" fill="#eec438"/>
<polygon points="534.8,106.3 539,106.2 540.9,105.1 536.6,105.2" fill="#f8d72e"/>
<polygon points="536.6,105.2 540.9,105.1 542.7,104.7 538.5,104.8" fill="#f5e824"/>
<polygon points="538.5,104.8 542.7,104.7 544.6,104.7 540.3,104.8" fill="#f7f11c"/>
<polygon points="540.3,104.8 544.6,104.7 546.5,105.1 542.2,105.2" fill="#f8f618"/>
<polygon points="542.2,105.2 546.5,105.1 548.3,105.8 544.1,105.9" fill="#f9f916"/>
<polygon points="544.1,105.9 548.3,105.8 550.2,106.5 545.9,106.6" fill="#f9fa15"/>
<polygon points="500.7,94.6 504.9,94.4 506.8,95.2 502.5,95.4" fill="#f7c438"/>
<polygon points="502.5,95.4 506.8,95.2 508.6,96 504.4,96.3" fill="#f7c438"/>
<polygon points="504.4,96.3 508.6,96 510.5,96.9 506.2,97.1" fill="#f5c438"/>
<polygon points="506.2,97.1 510.5,96.9 512.4,97.9 508.1,98.2" fill="#f1c438"/>
<polygon points="508.1,98.2 512.4,97.9 514.2,99.2 510,99.4" fill="#e7c438"/>
<polygon points="510,99.4 514.2,99.2 516.1,100.9 511.8,101.1" fill="#d2c538"/>
<polygon points="511.8,101.1 516.1,100.9 518,103.2 513.7,103.4" fill="#adc739"/>
<polygon points="513.7,103.4 518,103.2 519.8,106.1 515.6,106.3" fill="#60c876"/>
<polygon points="515.6,106.3 519.8,106.1 521.7,109.3 517.4,109.4" fill="#25bdb5"/>
<polygon points="517.4,109.4 521.7,109.3 523.6,112 519.3,112.1" fill="#19a7de"/>
<polygon points="519.3,112.1 523.6,112 525.4,113.5 521.2,113.6" fill="#2692ee"/>
<polygon points="521.2,113.6 525.4,113.5 527.3,113.5 523,113.6" fill="#2693ee"/>
<polygon points="523,113.6 527.3,113.5 529.2,112.3 524.9,112.4" fill="#17a9dc"/>
<polygon points="524.9,112.4 529.2,112.3 531,110.3 526.8,110.3" fill="#2cc1a9"/>
<polygon points="526.8,110.3 531,110.3 532.9,108.1 528.6,108.2" fill="#91c74e"/>
<polygon points="528.6,108.2 532.9,108.1 534.8,106.3 530.5,106.4" fill="#eec438"/>
<polygon points="530.5,106.4 534.8,106.3 536.6,105.2 532.4,105.3" fill="#f8d72e"/>
<polygon points="532.4,105.3 536.6,105.2 538.5,104.8 534.2,104.9" fill="#f5e824"/>
<polygon points="534.2,104.9 538.5,104.8 540.3,104.8 536.1,104.9" fill="#f7f11d"/>
<polygon points="536.1,104.9 540.3,104.8 542.2,105.2 538,105.3" fill="#f8f618"/>
<polygon points="538,105.3 542.2,105.2 544.1,105.9 539.8,105.9" fill="#f9f916"/>
<polygon points="539.8,105.9 544.1,105.9 545.9,106.6 541.7,106.7" fill="#f9fa15"/>
<polygon points="496.4,94.9 500.7,94.6 502.5,95.4 498.3,95.7" fill="#f2c438"/>
<polygon points="498.3,95.7 502.5,95.4 504.4,96.3 500.1,96.5" fill="#f2c438"/>
<polygon points="500.1,96.5 504.4,96.3 506.2,97.1 502,97.4" fill="#f0c438"/>
<polygon points="502,97.4 506.2,97.1 508.1,98.2 503.9,98.4" fill="#ecc438"/>
<polygon points="503.9,98.4 508.1,98.2 510,99.4 505.7,99.6" fill="#e2c438"/>
<polygon points="505.7,99.6 510,99.4 511.8,101.1 507.6,101.3" fill="#cdc538"/>
<polygon points="507.6,101.3 511.8,101.1 513.7,103.4 509.5,103.6" fill="#a8c73c"/>
<polygon points="509.5,103.6 513.7,103.4 515.6,106.3 511.3,106.5" fill="#5bc87a"/>
<polygon points="511.3,106.5 515.6,106.3 517.4,109.4 513.2,109.6" fill="#24bdb6"/>
<polygon points="513.2,109.6 517.4,109.4 519.3,112.1 515.1,112.2" fill="#19a6df"/>
<polygon points="515.1,112.2 519.3,112.1 521.2,113.6 516.9,113.7" fill="#2692ee"/>
<polygon points="516.9,113.7 521.2,113.6 523,113.6 518.8,113.7" fill="#2693ee"/>
<polygon points="518.8,113.7 523,113.6 524.9,112.4 520.7,112.5" fill="#17a9dc"/>
<polygon points="520.7,112.5 524.9,112.4 526.8,110.3 522.5,110.4" fill="#2cc1a9"/>
<polygon points="522.5,110.4 526.8,110.3 528.6,108.2 524.4,108.3" fill="#91c74e"/>
<polygon points="524.4,108.3 528.6,108.2 530.5,106.4 526.2,106.5" fill="#eec438"/>
<polygon points="526.2,106.5 530.5,106.4 532.4,105.3 528.1,105.4" fill="#f8d72e"/>
<polygon points="528.1,105.4 532.4,105.3 534.2,104.9 530,105" fill="#f5e824"/>
<polygon points="530,105 534.2,104.9 536.1,104.9 531.8,105" fill="#f7f11d"/>
<polygon points="531.8,105 536.1,104.9 538,105.3 533.7,105.4" fill="#f8f618"/>
<polygon points="533.7,105.4 538,105.3 539.8,105.9 535.6,106" fill="#f9f916"/>
<polygon points="535.6,106 539.8,105.9 541.7,106.7 537.4,106.8" fill="#f9fa15"/>
<polygon points="492.1,95.1 496.4,94.9 498.3,95.7 494,95.9" fill="#efc438"/>
<polygon points="494,95.9 498.3,95.7 500.1,96.5 495.9,96.7" fill="#eec438"/>
<polygon points="495.9,96.7 500.1,96.5 502,97.4 497.7,97.6" fill="#edc438"/>
<polygon points="497.7,97.6 502,97.4 503.9,98.4 499.6,98.6" fill="#e9c438"/>
<polygon points="499.6,98.6 503.9,98.4 505.7,99.6 501.5,99.8" fill="#dfc538"/>
<polygon points="501.5,99.8 505.7,99.6 507.6,101.3 503.3,101.5" fill="#cac539"/>
<polygon points="503.3,101.5 507.6,101.3 509.5,103.6 505.2,103.8" fill="#a4c73f"/>
<polygon points="505.2,103.8 509.5,103.6 511.3,106.5 507.1,106.6" fill="#58c87c"/>
<polygon points="507.1,106.6 511.3,106.5 513.2,109.6 508.9,109.7" fill="#24bcb8"/>
<polygon points="508.9,109.7 513.2,109.6 515.1,112.2 510.8,112.3" fill="#19a5df"/>
<polygon points="510.8,112.3 515.1,112.2 516.9,113.7 512.7,113.8" fill="#2791ef"/>
<polygon points="512.7,113.8 516.9,113.7 518.8,113.7 514.5,113.8" fill="#2693ee"/>
<polygon points="514.5,113.8 518.8,113.7 520.7,112.5 516.4,112.5" fill="#17a9dc"/>
<polygon points="516.4,112.5 520.7,112.5 522.5,110.4 518.3,110.5" fill="#2cc1aa"/>
<polygon points="518.3,110.5 522.5,110.4 524.4,108.3 520.1,108.4" fill="#91c74e"/>
<polygon points="520.1,108.4 524.4,108.3 526.2,106.5 522,106.6" fill="#eec438"/>
<polygon points="522,106.6 526.2,106.5 528.1,105.4 523.9,105.5" fill="#f8d72e"/>
<polygon points="523.9,105.5 528.1,105.4 530,105 525.7,105" fill="#f5e824"/>
<polygon points="525.7,105 530,105 531.8,105 527.6,105.1" fill="#f7f11d"/>
<polygon points="527.6,105.1 531.8,105 533.7,105.4 529.5,105.5" fill="#f8f618"/>
<polygon points="529.5,105.5 533.7,105.4 535.6,106 531.3,106.1" fill="#f9f916"/>
<polygon points="531.3,106.1 535.6,106 537.4,106.8 533.2,106.9" fill="#f9fa15"/>
<polygon points="487.9,95.2 492.1,95.1 494,95.9 489.8,96" fill="#ecc438"/>
<polygon points="489.8,96 494,95.9 495.9,96.7 491.6,96.8" fill="#ecc438"/>
<polygon points="491.6,96.8 495.9,96.7 497.7,97.6 493.5,97.7" fill="#eac438"/>
<polygon points="493.5,97.7 497.7,97.6 499.6,98.6 495.4,98.7" fill="#e6c438"/>
<polygon points="495.4,98.7 499.6,98.6 501.5,99.8 497.2,100" fill="#dcc538"/>
<polygon points="497.2,100 501.5,99.8 503.3,101.5 499.1,101.6" fill="#c8c639"/>
<polygon points="499.1,101.6 503.3,101.5 505.2,103.8 501,103.9" fill="#a1c741"/>
<polygon points="501,103.9 505.2,103.8 507.1,106.6 502.8,106.7" fill="#56c87e"/>
<polygon points="502.8,106.7 507.1,106.6 508.9,109.7 504.7,109.8" fill="#23bcb8"/>
<polygon points="504.7,109.8 508.9,109.7 510.8,112.3 506.5,112.4" fill="#1aa5e0"/>
<polygon points="506.5,112.4 510.8,112.3 512.7,113.8 508.4,113.9" fill="#2791ef"/>
<polygon points="508.4,113.9 512.7,113.8 514.5,113.8 510.3,113.9" fill="#2692ee"/>
<polygon points="510.3,113.9 514.5,113.8 516.4,112.5 512.1,112.6" fill="#17a9dc"/>
<polygon points="512.1,112.6 516.4,112.5 518.3,110.5 514,110.6" fill="#2cc1aa"/>
<polygon points="514,110.6 518.3,110.5 520.1,108.4 515.9,108.5" fill="#91c74e"/>
<polygon points="515.9,108.5 520.1,108.4 522,106.6 517.7,106.7" fill="#eec438"/>
<polygon points="517.7,106.7 522,106.6 523.9,105.5 519.6,105.6" fill="#f8d72e"/>
<polygon points="519.6,105.6 523.9,105.5 525.7,105 521.5,105.1" fill="#f5e824"/>
<polygon points="521.5,105.1 525.7,105 527.6,105.1 523.3,105.2" fill="#f7f11d"/>
<polygon points="523.3,105.2 527.6,105.1 529.5,105.5 525.2,105.6" fill="#f8f618"/>
<polygon points="525.2,105.6 529.5,105.5 531.3,106.1 527.1,106.2" fill="#f9f916"/>
<polygon points="527.1,106.2 531.3,106.1 533.2,106.9 528.9,106.9" fill="#f9fa15"/>
<polyline points="488.8,93.9 489.4,94.1 489.9,94.3 490.4,94.5 490.9,94.8 491.5,95 492,95.2 492.5,95.5 493.1,95.7 493.6,96 494.1,96.2 494.7,96.5 495.2,96.8 495.7,97.1 496.2,97.4 496.8,97.7 497.3,98.1 497.8,98.4 498.4,98.9 498.9,99.3 499.4,99.8 500,100.4 500.5,101 501,101.7 501.5,102.4 502.1,103.2 502.6,104 503.1,104.9 503.7,105.8 504.2,106.7 504.7,107.7 505.3,108.6 505.8,109.5 506.3,110.4 506.8,111.2 507.4,112 507.9,112.6 508.4,113.2 509,113.6 509.5,113.8 510,114 510.6,114 511.1,113.9 511.6,113.7 512.1,113.4 512.7,113 513.2,112.6 513.7,112 514.3,111.5 514.8,110.9 515.3,110.2 515.9,109.6 516.4,109 516.9,108.4 517.4,107.8 518,107.3 518.5,106.9 519,106.5 519.6,106.1 520.1,105.8 520.6,105.6 521.2,105.4 521.7,105.2 522.2,105.1 522.7,105.1 523.3,105.1 523.8,105.1 524.3,105.2 524.9,105.3 525.4,105.4 525.9,105.5 526.5,105.7 527,105.8 527.5,106 528,106.2 528.6,106.4 529.1,106.6 529.6,106.8 530.2,107 530.7,107.3 531.2,107.5 531.8,107.7 532.3,107.9 532.8,108.1 533.3,108.4 533.9,108.6 534.4,108.8 534.9,109.1 535.5,109.3 536,109.5 536.5,109.7" fill="none" stroke="#ff0000" stroke-width="2.4" stroke-linejoin="round" stroke-linecap="round"/>
<polyline points="488.8,91.7 489.4,91.9 489.9,92.1 490.4,92.3 490.9,92.5 491.5,92.7 492,92.9 492.5,93.2 493.1,93.4 493.6,93.6 494.1,93.9 494.7,94.1 495.2,94.4 495.7,94.7 496.2,95 496.8,95.3 497.3,95.7 497.8,96.1 498.4,96.5 498.9,97 499.4,97.6 500,98.2 500.5,98.8 501,99.5 501.5,100.3 502.1,101.1 502.6,102 503.1,103 503.7,104 504.2,105 504.7,106 505.3,107 505.8,108 506.3,109 506.8,109.9 507.4,110.7 507.9,111.4 508.4,112 509,112.5 509.5,112.9 510,113.1 510.6,113.2 511.1,113.2 511.6,113 512.1,112.8 512.7,112.4 513.2,112 513.7,111.5 514.3,111 514.8,110.4 515.3,109.8 515.9,109.3 516.4,108.7 516.9,108.2 517.4,107.7 518,107.2 518.5,106.8 519,106.4 519.6,106.1 520.1,105.9 520.6,105.7 521.2,105.6 521.7,105.5 522.2,105.5 522.7,105.4 523.3,105.5 523.8,105.5 524.3,105.6 524.9,105.8 525.4,105.9 525.9,106 526.5,106.2 527,106.4 527.5,106.5 528,106.7 528.6,106.9 529.1,107.1 529.6,107.3 530.2,107.5 530.7,107.7 531.2,107.9 531.8,108.1 532.3,108.3 532.8,108.5 533.3,108.7 533.9,108.9 534.4,109.1 534.9,109.3 535.5,109.5 536,109.7 536.5,109.9" fill="none" stroke="#0000ff" stroke-width="2.4" stroke-linejoin="round" stroke-linecap="round"/>
<polygon points="483.6,95.3 487.9,95.2 489.8,96 485.5,96.2" fill="#ebc438"/>
<polygon points="485.5,96.2 489.8,96 491.6,96.8 487.4,97" fill="#eac438"/>
<polygon points="487.4,97 491.6,96.8 493.5,97.7 489.2,97.9" fill="#e9c438"/>
<polygon points="489.2,97.9 493.5,97.7 495.4,98.7 491.1,98.9" fill="#e5c438"/>
<polygon points="491.1,98.9 495.4,98.7 497.2,100 493,100.1" fill="#dbc538"/>
<polygon points="493,100.1 497.2,100 499.1,101.6 494.8,101.8" fill="#c7c639"/>
<polygon points="494.8,101.8 499.1,101.6 501,103.9 496.7,104" fill="#9fc742"/>
<polygon points="496.7,104 501,103.9 502.8,106.7 498.6,106.9" fill="#54c87f"/>
<polygon points="498.6,106.9 502.8,106.7 504.7,109.8 500.4,109.9" fill="#23bcb9"/>
<polygon points="500.4,109.9 504.7,109.8 506.5,112.4 502.3,112.5" fill="#1aa5e0"/>
<polygon points="502.3,112.5 506.5,112.4 508.4,113.9 504.2,114" fill="#2791ef"/>
<polygon points="504.2,114 508.4,113.9 510.3,113.9 506,114" fill="#2692ee"/>
<polygon points="506,114 510.3,113.9 512.1,112.6 507.9,112.7" fill="#17a9dc"/>
<polygon points="507.9,112.7 512.1,112.6 514,110.6 509.8,110.7" fill="#2cc1aa"/>
<polygon points="509.8,110.7 514,110.6 515.9,108.5 511.6,108.6" fill="#91c74e"/>
<polygon points="511.6,108.6 515.9,108.5 517.7,106.7 513.5,106.8" fill="#eec438"/>
<polygon points="513.5,106.8 517.7,106.7 519.6,105.6 515.4,105.7" fill="#f8d72e"/>
<polygon points="515.4,105.7 519.6,105.6 521.5,105.1 517.2,105.2" fill="#f5e824"/>
<polygon points="517.2,105.2 521.5,105.1 523.3,105.2 519.1,105.3" fill="#f7f11d"/>
<polygon points="519.1,105.3 523.3,105.2 525.2,105.6 521,105.7" fill="#f8f618"/>
<polygon points="521,105.7 525.2,105.6 527.1,106.2 522.8,106.3" fill="#f9f916"/>
<polygon points="522.8,106.3 527.1,106.2 528.9,106.9 524.7,107" fill="#f9fa15"/>
<polygon points="479.4,95.5 483.6,95.3 485.5,96.2 481.3,96.3" fill="#e9c438"/>
<polygon points="481.3,96.3 485.5,96.2 487.4,97 483.1,97.1" fill="#e9c438"/>
<polygon points="483.1,97.1 487.4,97 489.2,97.9 485,98" fill="#e8c438"/>
<polygon points="485,98 489.2,97.9 491.1,98.9 486.9,99" fill="#e4c438"/>
<polygon points="486.9,99 491.1,98.9 493,100.1 488.7,100.2" fill="#dac538"/>
<polygon points="488.7,100.2 493,100.1 494.8,101.8 490.6,101.9" fill="#c6c639"/>
<polygon points="490.6,101.9 494.8,101.8 496.7,104 492.4,104.2" fill="#9ec743"/>
<polygon points="492.4,104.2 496.7,104 498.6,106.9 494.3,107" fill="#53c880"/>
<polygon points="494.3,107 498.6,106.9 500.4,109.9 496.2,110" fill="#23bcb9"/>
<polygon points="496.2,110 500.4,109.9 502.3,112.5 498,112.6" fill="#1aa5e0"/>
<polygon points="498,112.6 502.3,112.5 504.2,114 499.9,114.1" fill="#2791ef"/>
<polygon points="499.9,114.1 504.2,114 506,114 501.8,114.1" fill="#2692ee"/>
<polygon points="501.8,114.1 506,114 507.9,112.7 503.6,112.8" fill="#17a9dc"/>
<polygon points="503.6,112.8 507.9,112.7 509.8,110.7 505.5,110.8" fill="#2cc1aa"/>
<polygon points="505.5,110.8 509.8,110.7 511.6,108.6 507.4,108.7" fill="#91c74e"/>
<polygon points="507.4,108.7 511.6,108.6 513.5,106.8 509.2,106.9" fill="#eec438"/>
<polygon points="509.2,106.9 513.5,106.8 515.4,105.7 511.1,105.8" fill="#f8d72e"/>
<polygon points="511.1,105.8 515.4,105.7 517.2,105.2 513,105.3" fill="#f5e824"/>
<polygon points="513,105.3 517.2,105.2 519.1,105.3 514.8,105.4" fill="#f7f11d"/>
<polygon points="514.8,105.4 519.1,105.3 521,105.7 516.7,105.8" fill="#f8f618"/>
<polygon points="516.7,105.8 521,105.7 522.8,106.3 518.6,106.4" fill="#f9f916"/>
<polygon points="518.6,106.4 522.8,106.3 524.7,107 520.4,107.1" fill="#f9fa15"/>
<polygon points="475.1,95.6 479.4,95.5 481.3,96.3 477,96.4" fill="#e9c438"/>
<polygon points="477,96.4 481.3,96.3 483.1,97.1 478.9,97.2" fill="#e8c438"/>
<polygon points="478.9,97.2 483.1,97.1 485,98 480.7,98.1" fill="#e7c438"/>
<polygon points="480.7,98.1 485,98 486.9,99 482.6,99.1" fill="#e3c438"/>
<polygon points="482.6,99.1 486.9,99 488.7,100.2 484.5,100.3" fill="#d9c538"/>
<polygon points="484.5,100.3 488.7,100.2 490.6,101.9 486.3,102" fill="#c5c639"/>
<polygon points="486.3,102 490.6,101.9 492.4,104.2 488.2,104.3" fill="#9ec744"/>
<polygon points="488.2,104.3 492.4,104.2 494.3,107 490.1,107.1" fill="#53c881"/>
<polygon points="490.1,107.1 494.3,107 496.2,110 491.9,110.1" fill="#23bbba"/>
<polygon points="491.9,110.1 496.2,110 498,112.6 493.8,112.7" fill="#1aa4e0"/>
<polygon points="493.8,112.7 498,112.6 499.9,114.1 495.7,114.2" fill="#2791ef"/>
<polygon points="495.7,114.2 499.9,114.1 501.8,114.1 497.5,114.2" fill="#2692ee"/>
<polygon points="497.5,114.2 501.8,114.1 503.6,112.8 499.4,112.9" fill="#17a9dc"/>
<polygon points="499.4,112.9 503.6,112.8 505.5,110.8 501.3,110.9" fill="#2cc1aa"/>
<polygon points="501.3,110.9 505.5,110.8 507.4,108.7 503.1,108.8" fill="#91c74e"/>
<polygon points="503.1,108.8 507.4,108.7 509.2,106.9 505,107" fill="#eec438"/>
<polygon points="505,107 509.2,106.9 511.1,105.8 506.9,105.9" fill="#f8d72e"/>
<polygon points="506.9,105.9 511.1,105.8 513,105.3 508.7,105.4" fill="#f5e824"/>
<polygon points="508.7,105.4 513,105.3 514.8,105.4 510.6,105.5" fill="#f7f11d"/>
<polygon points="510.6,105.5 514.8,105.4 516.7,105.8 512.4,105.9" fill="#f8f618"/>
<polygon points="512.4,105.9 516.7,105.8 518.6,106.4 514.3,106.5" fill="#f9f916"/>
<polygon points="514.3,106.5 518.6,106.4 520.4,107.1 516.2,107.2" fill="#f9fa15"/>
<polygon points="470.9,95.7 475.1,95.6 477,96.4 472.8,96.5" fill="#e8c438"/>
<polygon points="472.8,96.5 477,96.4 478.9,97.2 474.6,97.3" fill="#e8c438"/>
<polygon points="474.6,97.3 478.9,97.2 480.7,98.1 476.5,98.2" fill="#e7c438"/>
<polygon points="476.5,98.2 480.7,98.1 482.6,99.1 478.3,99.2" fill="#e3c438"/>
<polygon points="478.3,99.2 482.6,99.1 484.5,100.3 480.2,100.4" fill="#d9c538"/>
<polygon points="480.2,100.4 484.5,100.3 486.3,102 482.1,102.1" fill="#c5c639"/>
<polygon points="482.1,102.1 486.3,102 488.2,104.3 483.9,104.4" fill="#9dc744"/>
<polygon points="483.9,104.4 488.2,104.3 490.1,107.1 485.8,107.2" fill="#53c881"/>
<polygon points="485.8,107.2 490.1,107.1 491.9,110.1 487.7,110.2" fill="#22bbba"/>
<polygon points="487.7,110.2 491.9,110.1 493.8,112.7 489.5,112.8" fill="#1aa4e0"/>
<polygon points="489.5,112.8 493.8,112.7 495.7,114.2 491.4,114.3" fill="#2791ef"/>
<polygon points="491.4,114.3 495.7,114.2 497.5,114.2 493.3,114.3" fill="#2692ee"/>
<polygon points="493.3,114.3 497.5,114.2 499.4,112.9 495.1,113" fill="#17a9dc"/>
<polygon points="495.1,113 499.4,112.9 501.3,110.9 497,111" fill="#2cc1aa"/>
<polygon points="497,111 501.3,110.9 503.1,108.8 498.9,108.9" fill="#91c74e"/>
<polygon points="498.9,108.9 503.1,108.8 505,107 500.7,107.1" fill="#eec438"/>
<polygon points="500.7,107.1 505,107 506.9,105.9 502.6,106" fill="#f8d72e"/>
<polygon points="502.6,106 506.9,105.9 508.7,105.4 504.5,105.5" fill="#f5e824"/>
<polygon points="504.5,105.5 508.7,105.4 510.6,105.5 506.3,105.6" fill="#f7f11d"/>
<polygon points="506.3,105.6 510.6,105.5 512.4,105.9 508.2,106" fill="#f8f618"/>
<polygon points="508.2,106 512.4,105.9 514.3,106.5 510.1,106.6" fill="#f9f916"/>
<polygon points="510.1,106.6 514.3,106.5 516.2,107.2 511.9,107.3" fill="#f9fa15"/>
<polygon points="466.6,95.8 470.9,95.7 472.8,96.5 468.5,96.6" fill="#e8c438"/>
<polygon points="468.5,96.6 472.8,96.5 474.6,97.3 470.4,97.4" fill="#e8c438"/>
<polygon points="470.4,97.4 474.6,97.3 476.5,98.2 472.2,98.3" fill="#e6c438"/>
<polygon points="472.2,98.3 476.5,98.2 478.3,99.2 474.1,99.3" fill="#e2c438"/>
<polygon points="474.1,99.3 478.3,99.2 480.2,100.4 476,100.5" fill="#d9c538"/>
<polygon points="476,100.5 480.2,100.4 482.1,102.1 477.8,102.2" fill="#c5c639"/>
<polygon points="477.8,102.2 482.1,102.1 483.9,104.4 479.7,104.5" fill="#9dc745"/>
<polygon points="479.7,104.5 483.9,104.4 485.8,107.2 481.6,107.3" fill="#52c881"/>
<polygon points="481.6,107.3 485.8,107.2 487.7,110.2 483.4,110.3" fill="#22bbba"/>
<polygon points="483.4,110.3 487.7,110.2 489.5,112.8 485.3,112.9" fill="#1aa4e0"/>
<polygon points="485.3,112.9 489.5,112.8 491.4,114.3 487.2,114.4" fill="#2791ef"/>
<polygon points="487.2,114.4 491.4,114.3 493.3,114.3 489,114.4" fill="#2692ee"/>
<polygon points="489,114.4 493.3,114.3 495.1,113 490.9,113.1" fill="#17a9dd"/>
<polygon points="490.9,113.1 495.1,113 497,111 492.8,111.1" fill="#2cc1aa"/>
<polygon points="492.8,111.1 497,111 498.9,108.9 494.6,108.9" fill="#91c74e"/>
<polygon points="494.6,108.9 498.9,108.9 500.7,107.1 496.5,107.2" fill="#eec438"/>
<polygon points="496.5,107.2 500.7,107.1 502.6,106 498.3,106.1" fill="#f8d72e"/>
<polygon points="498.3,106.1 502.6,106 504.5,105.5 500.2,105.6" fill="#f5e824"/>
<polygon points="500.2,105.6 504.5,105.5 506.3,105.6 502.1,105.7" fill="#f7f11d"/>
<polygon points="502.1,105.7 506.3,105.6 508.2,106 503.9,106.1" fill="#f8f618"/>
<polygon points="503.9,106.1 508.2,106 510.1,106.6 505.8,106.7" fill="#f9f916"/>
<polygon points="505.8,106.7 510.1,106.6 511.9,107.3 507.7,107.4" fill="#f9fa15"/>
<polygon points="462.4,95.9 466.6,95.8 468.5,96.6 464.2,96.7" fill="#e8c438"/>
<polygon points="464.2,96.7 468.5,96.6 470.4,97.4 466.1,97.5" fill="#e8c438"/>
<polygon points="466.1,97.5 470.4,97.4 472.2,98.3 468,98.4" fill="#e6c438"/>
<polygon points="468,98.4 472.2,98.3 474.1,99.3 469.8,99.4" fill="#e2c438"/>
<polygon points="469.8,99.4 474.1,99.3 476,100.5 471.7,100.6" fill="#d9c538"/>
<polygon points="471.7,100.6 476,100.5 477.8,102.2 473.6,102.3" fill="#c5c639"/>
<polygon points="473.6,102.3 477.8,102.2 479.7,104.5 475.4,104.5" fill="#9dc745"/>
<polygon points="475.4,104.5 479.7,104.5 481.6,107.3 477.3,107.4" fill="#52c881"/>
<polygon points="477.3,107.4 481.6,107.3 483.4,110.3 479.2,110.4" fill="#22bbba"/>
<polygon points="479.2,110.4 483.4,110.3 485.3,112.9 481,113" fill="#1aa4e0"/>
<polygon points="481,113 485.3,112.9 487.2,114.4 482.9,114.5" fill="#2791ef"/>
<polygon points="482.9,114.5 487.2,114.4 489,114.4 484.8,114.5" fill="#2692ee"/>
<polygon points="484.8,114.5 489,114.4 490.9,113.1 486.6,113.2" fill="#17a9dd"/>
<polygon points="486.6,113.2 490.9,113.1 492.8,111.1 488.5,111.2" fill="#2cc1aa"/>
<polygon points="488.5,111.2 492.8,111.1 494.6,108.9 490.4,109" fill="#91c74e"/>
<polygon points="490.4,109 494.6,108.9 496.5,107.2 492.2,107.3" fill="#eec438"/>
<polygon points="492.2,107.3 496.5,107.2 498.3,106.1 494.1,106.2" fill="#f8d72e"/>
<polygon points="494.1,106.2 498.3,106.1 500.2,105.6 496,105.7" fill="#f5e824"/>
<polygon points="496,105.7 500.2,105.6 502.1,105.7 497.8,105.8" fill="#f7f11d"/>
<polygon points="497.8,105.8 502.1,105.7 503.9,106.1 499.7,106.2" fill="#f8f618"/>
<polygon points="499.7,106.2 503.9,106.1 505.8,106.7 501.6,106.8" fill="#f9f916"/>
<polygon points="501.6,106.8 505.8,106.7 507.7,107.4 503.4,107.5" fill="#f9fa15"/>
<polyline points="463.7,95.1 464.3,95.4 464.8,95.6 465.3,95.8 465.9,96.1 466.4,96.3 466.9,96.5 467.4,96.8 468,97 468.5,97.3 469,97.5 469.6,97.8 470.1,98.1 470.6,98.4 471.2,98.7 471.7,99.1 472.2,99.5 472.7,99.9 473.3,100.3 473.8,100.8 474.3,101.4 474.9,102 475.4,102.6 475.9,103.3 476.5,104.1 477,104.9 477.5,105.7 478,106.6 478.6,107.5 479.1,108.5 479.6,109.4 480.2,110.3 480.7,111.1 481.2,112 481.8,112.7 482.3,113.3 482.8,113.8 483.3,114.2 483.9,114.5 484.4,114.7 484.9,114.7 485.5,114.6 486,114.4 486.5,114.1 487.1,113.7 487.6,113.2 488.1,112.7 488.6,112.1 489.2,111.5 489.7,110.9 490.2,110.2 490.8,109.6 491.3,109 491.8,108.4 492.4,107.9 492.9,107.4 493.4,107 493.9,106.6 494.5,106.3 495,106 495.5,105.8 496.1,105.7 496.6,105.6 497.1,105.5 497.7,105.5 498.2,105.5 498.7,105.6 499.2,105.6 499.8,105.8 500.3,105.9 500.8,106 501.4,106.2 501.9,106.4 502.4,106.6 503,106.8 503.5,107 504,107.2 504.5,107.4 505.1,107.6 505.6,107.8 506.1,108 506.7,108.3 507.2,108.5 507.7,108.7 508.3,108.9 508.8,109.1 509.3,109.4 509.8,109.6 510.4,109.8 510.9,110.1 511.4,110.3" fill="none" stroke="#ff0000" stroke-width="2.4" stroke-linejoin="round" stroke-linecap="round"/>
<polyline points="463.7,91.7 464.3,91.9 464.8,92.1 465.3,92.3 465.9,92.6 466.4,92.8 466.9,93 467.4,93.2 468,93.5 468.5,93.7 469,94 469.6,94.2 470.1,94.5 470.6,94.9 471.2,95.2 471.7,95.6 472.2,96 472.7,96.4 473.3,96.9 473.8,97.5 474.3,98.1 474.9,98.7 475.4,99.4 475.9,100.2 476.5,101.1 477,102 477.5,102.9 478,103.9 478.6,104.9 479.1,105.9 479.6,107 480.2,108 480.7,108.9 481.2,109.8 481.8,110.7 482.3,111.4 482.8,112 483.3,112.5 483.9,112.9 484.4,113.1 484.9,113.2 485.5,113.2 486,113.1 486.5,112.9 487.1,112.5 487.6,112.1 488.1,111.6 488.6,111.1 489.2,110.5 489.7,110 490.2,109.4 490.8,108.8 491.3,108.3 491.8,107.8 492.4,107.3 492.9,106.9 493.4,106.6 493.9,106.3 494.5,106 495,105.9 495.5,105.7 496.1,105.6 496.6,105.6 497.1,105.6 497.7,105.7 498.2,105.7 498.7,105.8 499.2,105.9 499.8,106.1 500.3,106.2 500.8,106.4 501.4,106.6 501.9,106.7 502.4,106.9 503,107.1 503.5,107.3 504,107.5 504.5,107.7 505.1,107.9 505.6,108.1 506.1,108.3 506.7,108.6 507.2,108.8 507.7,109 508.3,109.2 508.8,109.4 509.3,109.6 509.8,109.8 510.4,110 510.9,110.2 511.4,110.4" fill="none" stroke="#0000ff" stroke-width="2.4" stroke-linejoin="round" stroke-linecap="round"/>
<polygon points="458.1,96 462.4,95.9 464.2,96.7 460,96.8" fill="#e8c438"/>
<polygon points="460,96.8 464.2,96.7 466.1,97.5 461.9,97.6" fill="#e8c438"/>
<polygon points="461.9,97.6 466.1,97.5 468,98.4 463.7,98.5" fill="#e6c438"/>
<polygon points="463.7,98.5 468,98.4 469.8,99.4 465.6,99.5" fill="#e2c438"/>
<polygon points="465.6,99.5 469.8,99.4 471.7,100.6 467.5,100.7" fill="#d9c538"/>
<polygon points="467.5,100.7 471.7,100.6 473.6,102.3 469.3,102.4" fill="#c4c639"/>
<polygon points="469.3,102.4 473.6,102.3 475.4,104.5 471.2,104.6" fill="#9dc745"/>
<polygon points="471.2,104.6 475.4,104.5 477.3,107.4 473.1,107.5" fill="#52c881"/>
<polygon points="473.1,107.5 477.3,107.4 479.2,110.4 474.9,110.5" fill="#22bbba"/>
<polygon points="474.9,110.5 479.2,110.4 481,113 476.8,113.1" fill="#1aa4e0"/>
<polygon points="476.8,113.1 481,113 482.9,114.5 478.7,114.6" fill="#2791ef"/>
<polygon points="478.7,114.6 482.9,114.5 484.8,114.5 480.5,114.6" fill="#2692ee"/>
<polygon points="480.5,114.6 484.8,114.5 486.6,113.2 482.4,113.3" fill="#17a9dd"/>
<polygon points="482.4,113.3 486.6,113.2 488.5,111.2 484.2,111.3" fill="#2cc1aa"/>
<polygon points="484.2,111.3 488.5,111.2 490.4,109 486.1,109.1" fill="#91c74e"/>
<polygon points="486.1,109.1 490.4,109 492.2,107.3 488,107.4" fill="#eec438"/>
<polygon points="488,107.4 492.2,107.3 494.1,106.2 489.8,106.2" fill="#f8d72e"/>
<polygon points="489.8,106.2 494.1,106.2 496,105.7 491.7,105.8" fill="#f5e824"/>
<polygon points="491.7,105.8 496,105.7 497.8,105.8 493.6,105.9" fill="#f7f11d"/>
<polygon points="493.6,105.9 497.8,105.8 499.7,106.2 495.4,106.3" fill="#f8f618"/>
<polygon points="495.4,106.3 499.7,106.2 501.6,106.8 497.3,106.9" fill="#f9f916"/>
<polygon points="497.3,106.9 501.6,106.8 503.4,107.5 499.2,107.6" fill="#f9fa15"/>
<polygon points="453.9,96.1 458.1,96 460,96.8 455.7,96.9" fill="#e8c438"/>
<polygon points="455.7,96.9 460,96.8 461.9,97.6 457.6,97.7" fill="#e8c438"/>
<polygon points="457.6,97.7 461.9,97.6 463.7,98.5 459.5,98.6" fill="#e6c438"/>
<polygon points="459.5,98.6 463.7,98.5 465.6,99.5 461.3,99.6" fill="#e2c438"/>
<polygon points="461.3,99.6 465.6,99.5 467.5,100.7 463.2,100.8" fill="#d9c538"/>
<polygon points="463.2,100.8 467.5,100.7 469.3,102.4 465.1,102.5" fill="#c4c639"/>
<polygon points="465.1,102.5 469.3,102.4 471.2,104.6 466.9,104.7" fill="#9dc745"/>
<polygon points="466.9,104.7 471.2,104.6 473.1,107.5 468.8,107.5" fill="#52c881"/>
<polygon points="468.8,107.5 473.1,107.5 474.9,110.5 470.7,110.6" fill="#22bbba"/>
<polygon points="470.7,110.6 474.9,110.5 476.8,113.1 472.5,113.2" fill="#1aa4e0"/>
<polygon points="472.5,113.2 476.8,113.1 478.7,114.6 474.4,114.7" fill="#2791ef"/>
<polygon points="474.4,114.7 478.7,114.6 480.5,114.6 476.3,114.6" fill="#2692ee"/>
<polygon points="476.3,114.6 480.5,114.6 482.4,113.3 478.1,113.4" fill="#17a9dd"/>
<polygon points="478.1,113.4 482.4,113.3 484.2,111.3 480,111.4" fill="#2cc1aa"/>
<polygon points="480,111.4 484.2,111.3 486.1,109.1 481.9,109.2" fill="#91c74e"/>
<polygon points="481.9,109.2 486.1,109.1 488,107.4 483.7,107.5" fill="#eec438"/>
<polygon points="483.7,107.5 488,107.4 489.8,106.2 485.6,106.3" fill="#f8d72e"/>
<polygon points="485.6,106.3 489.8,106.2 491.7,105.8 487.5,105.9" fill="#f5e824"/>
<polygon points="487.5,105.9 491.7,105.8 493.6,105.9 489.3,106" fill="#f7f11d"/>
<polygon points="489.3,106 493.6,105.9 495.4,106.3 491.2,106.4" fill="#f8f618"/>
<polygon points="491.2,106.4 495.4,106.3 497.3,106.9 493.1,107" fill="#f9f916"/>
<polygon points="493.1,107 497.3,106.9 499.2,107.6 494.9,107.7" fill="#f9fa15"/>
<polygon points="449.6,96.2 453.9,96.1 455.7,96.9 451.5,97" fill="#e8c438"/>
<polygon points="451.5,97 455.7,96.9 457.6,97.7 453.4,97.8" fill="#e8c438"/>
<polygon points="453.4,97.8 457.6,97.7 459.5,98.6 455.2,98.7" fill="#e6c438"/>
<polygon points="455.2,98.7 459.5,98.6 461.3,99.6 457.1,99.7" fill="#e2c438"/>
<polygon points="457.1,99.7 461.3,99.6 463.2,100.8 459,100.9" fill="#d9c538"/>
<polygon points="459,100.9 463.2,100.8 465.1,102.5 460.8,102.6" fill="#c4c639"/>
<polygon points="460.8,102.6 465.1,102.5 466.9,104.7 462.7,104.8" fill="#9dc745"/>
<polygon points="462.7,104.8 466.9,104.7 468.8,107.5 464.5,107.6" fill="#52c881"/>
<polygon points="464.5,107.6 468.8,107.5 470.7,110.6 466.4,110.7" fill="#22bbba"/>
<polygon points="466.4,110.7 470.7,110.6 472.5,113.2 468.3,113.3" fill="#1aa4e0"/>
<polygon points="468.3,113.3 472.5,113.2 474.4,114.7 470.1,114.8" fill="#2791ef"/>
<polygon points="470.1,114.8 474.4,114.7 476.3,114.6 472,114.7" fill="#2692ee"/>
<polygon points="472,114.7 476.3,114.6 478.1,113.4 473.9,113.5" fill="#17a9dd"/>
<polygon points="473.9,113.5 478.1,113.4 480,111.4 475.7,111.5" fill="#2cc1aa"/>
<polygon points="475.7,111.5 480,111.4 481.9,109.2 477.6,109.3" fill="#91c74e"/>
<polygon points="477.6,109.3 481.9,109.2 483.7,107.5 479.5,107.6" fill="#eec438"/>
<polygon points="479.5,107.6 483.7,107.5 485.6,106.3 481.3,106.4" fill="#f8d72e"/>
<polygon points="481.3,106.4 485.6,106.3 487.5,105.9 483.2,106" fill="#f5e824"/>
<polygon points="483.2,106 487.5,105.9 489.3,106 485.1,106" fill="#f7f11d"/>
<polygon points="485.1,106 489.3,106 491.2,106.4 486.9,106.5" fill="#f8f618"/>
<polygon points="486.9,106.5 491.2,106.4 493.1,107 488.8,107.1" fill="#f9f916"/>
<polygon points="488.8,107.1 493.1,107 494.9,107.7 490.7,107.8" fill="#f9fa15"/>
<polygon points="445.4,96.3 449.6,96.2 451.5,97 447.2,97.1" fill="#e8c438"/>
<polygon points="447.2,97.1 451.5,97 453.4,97.8 449.1,97.9" fill="#e8c438"/>
<polygon points="449.1,97.9 453.4,97.8 455.2,98.7 451,98.8" fill="#e6c438"/>
<polygon points="451,98.8 455.2,98.7 457.1,99.7 452.8,99.8" fill="#e2c438"/>
<polygon points="452.8,99.8 457.1,99.7 459,100.9 454.7,101" fill="#d9c538"/>
<polygon points="454.7,101 459,100.9 460.8,102.6 456.6,102.7" fill="#c4c639"/>
<polygon points="456.6,102.7 460.8,102.6 462.7,104.8 458.4,104.9" fill="#9dc745"/>
<polygon points="458.4,104.9 462.7,104.8 464.5,107.6 460.3,107.7" fill="#52c881"/>
<polygon points="460.3,107.7 464.5,107.6 466.4,110.7 462.2,110.8" fill="#22bbba"/>
<polygon points="462.2,110.8 466.4,110.7 468.3,113.3 464,113.4" fill="#1aa4e0"/>
<polygon points="464,113.4 468.3,113.3 470.1,114.8 465.9,114.9" fill="#2791ef"/>
<polygon points="465.9,114.9 470.1,114.8 472,114.7 467.8,114.8" fill="#2692ee"/>
<polygon points="467.8,114.8 472,114.7 473.9,113.5 469.6,113.6" fill="#17a9dd"/>
<polygon points="469.6,113.6 473.9,113.5 475.7,111.5 471.5,111.6" fill="#2cc1aa"/>
<polygon points="471.5,111.6 475.7,111.5 477.6,109.3 473.4,109.4" fill="#91c74e"/>
<polygon points="473.4,109.4 477.6,109.3 479.5,107.6 475.2,107.6" fill="#eec438"/>
<polygon points="475.2,107.6 479.5,107.6 481.3,106.4 477.1,106.5" fill="#f8d72e"/>
<polygon points="477.1,106.5 481.3,106.4 483.2,106 479,106.1" fill="#f5e824"/>
<polygon points="479,106.1 483.2,106 485.1,106 480.8,106.1" fill="#f7f11d"/>
<polygon points="480.8,106.1 485.1,106 486.9,106.5 482.7,106.6" fill="#f8f618"/>
<polygon points="482.7,106.6 486.9,106.5 488.8,107.1 484.5,107.2" fill="#f9f916"/>
<polygon points="484.5,107.2 488.8,107.1 490.7,107.8 486.4,107.9" fill="#f9fa15"/>
<polyline points="438.6,96.3 439.2,96.5 439.7,96.7 440.2,97 440.8,97.2 441.3,97.4 441.8,97.7 442.3,97.9 442.9,98.2 443.4,98.4 443.9,98.6 444.5,98.9 445,99.2 445.5,99.5 446.1,99.8 446.6,100.1 447.1,100.4 447.6,100.8 448.2,101.2 448.7,101.6 449.2,102.1 449.8,102.6 450.3,103.2 450.8,103.8 451.4,104.5 451.9,105.2 452.4,106 453,106.8 453.5,107.6 454,108.5 454.5,109.4 455.1,110.3 455.6,111.2 456.1,112.1 456.7,112.9 457.2,113.6 457.7,114.2 458.3,114.8 458.8,115.2 459.3,115.5 459.8,115.6 460.4,115.6 460.9,115.5 461.4,115.3 462,115 462.5,114.7 463,114.2 463.6,113.7 464.1,113.1 464.6,112.4 465.1,111.8 465.7,111.2 466.2,110.5 466.7,109.9 467.3,109.3 467.8,108.8 468.3,108.3 468.9,107.8 469.4,107.5 469.9,107.1 470.4,106.9 471,106.6 471.5,106.5 472,106.4 472.6,106.3 473.1,106.3 473.6,106.3 474.2,106.4 474.7,106.4 475.2,106.5 475.7,106.7 476.3,106.8 476.8,107 477.3,107.2 477.9,107.3 478.4,107.5 478.9,107.7 479.5,107.9 480,108.2 480.5,108.4 481,108.6 481.6,108.8 482.1,109 482.6,109.3 483.2,109.5 483.7,109.7 484.2,109.9 484.8,110.2 485.3,110.4 485.8,110.6 486.3,110.8" fill="none" stroke="#ff0000" stroke-width="2.4" stroke-linejoin="round" stroke-linecap="round"/>
<polyline points="438.6,91.9 439.2,92.1 439.7,92.3 440.2,92.5 440.8,92.8 441.3,93 441.8,93.2 442.3,93.4 442.9,93.7 443.4,93.9 443.9,94.1 444.5,94.4 445,94.7 445.5,95 446.1,95.3 446.6,95.6 447.1,96 447.6,96.4 448.2,96.8 448.7,97.3 449.2,97.8 449.8,98.4 450.3,99 450.8,99.7 451.4,100.5 451.9,101.3 452.4,102.2 453,103.1 453.5,104.1 454,105.1 454.5,106.2 455.1,107.2 455.6,108.2 456.1,109.2 456.7,110.1 457.2,111 457.7,111.8 458.3,112.4 458.8,113 459.3,113.4 459.8,113.7 460.4,113.8 460.9,113.9 461.4,113.8 462,113.6 462.5,113.3 463,112.9 463.6,112.4 464.1,111.9 464.6,111.4 465.1,110.8 465.7,110.2 466.2,109.7 466.7,109.1 467.3,108.6 467.8,108.2 468.3,107.7 468.9,107.4 469.4,107.1 469.9,106.8 470.4,106.6 471,106.5 471.5,106.4 472,106.3 472.6,106.3 473.1,106.4 473.6,106.4 474.2,106.5 474.7,106.6 475.2,106.8 475.7,106.9 476.3,107.1 476.8,107.2 477.3,107.4 477.9,107.6 478.4,107.8 478.9,108 479.5,108.2 480,108.4 480.5,108.6 481,108.8 481.6,109 482.1,109.3 482.6,109.5 483.2,109.7 483.7,109.9 484.2,110.1 484.8,110.3 485.3,110.5 485.8,110.7 486.3,110.9" fill="none" stroke="#0000ff" stroke-width="2.4" stroke-linejoin="round" stroke-linecap="round"/>
</g>
<polyline points="445.4,96.3 448.2,96.2 451,96.1 453.9,96.1 456.7,96 459.5,95.9 462.4,95.9 465.2,95.8 468.1,95.7 470.9,95.7 473.7,95.6 476.6,95.5 479.4,95.5 482.2,95.4 485.1,95.3 487.9,95.2 490.7,95.1 493.6,95 496.4,94.9 499.2,94.7 502.1,94.5 504.9,94.4 507.7,94.2 510.6,93.9 513.4,93.7 516.2,93.4 519.1,93.2 521.9,92.9 524.7,92.6 527.6,92.4 530.4,92.1 533.3,92 536.1,91.8 538.9,91.7 541.8,91.6 544.6,91.6 547.4,91.6 550.3,91.7 553.1,91.8 555.9,91.9 558.8,92 561.6,92.2 564.4,92.3 567.3,92.5 570.1,92.6 572.9,92.7 575.8,92.8 578.6,92.9 581.4,92.9 584.3,92.9 587.1,92.9 589.9,92.9 592.8,92.9 595.6,92.9 598.4,92.8 601.3,92.8 604.1,92.7 607,92.7 609.8,92.6 612.6,92.6 615.5,92.5" fill="none" stroke="#e030e0" stroke-width="0.9" stroke-linejoin="round" stroke-linecap="round" stroke-opacity="0.85"/>
<polyline points="445.4,97 448.2,96.9 451,96.8 453.9,96.8 456.7,96.7 459.5,96.6 462.4,96.6 465.2,96.5 468.1,96.4 470.9,96.4 473.7,96.3 476.6,96.2 479.4,96.2 482.2,96.1 485.1,96 487.9,95.9 490.7,95.8 493.6,95.7 496.4,95.6 499.2,95.4 502.1,95.2 504.9,95.1 507.7,94.9 510.6,94.6 513.4,94.4 516.2,94.1 519.1,93.9 521.9,93.6 524.7,93.3 527.6,93.1 530.4,92.8 533.3,92.7 536.1,92.5 538.9,92.4 541.8,92.3 544.6,92.3 547.4,92.3 550.3,92.4 553.1,92.5 555.9,92.6 558.8,92.7 561.6,92.9 564.4,93 567.3,93.2 570.1,93.3 572.9,93.4 575.8,93.5 578.6,93.6 581.4,93.6 584.3,93.6 587.1,93.6 589.9,93.6 592.8,93.6 595.6,93.6 598.4,93.5 601.3,93.5 604.1,93.4 607,93.4 609.8,93.3 612.6,93.3 615.5,93.2" fill="none" stroke="#222222" stroke-width="0.6" stroke-linejoin="round" stroke-linecap="round" stroke-dasharray="0.7 0.7" stroke-opacity="0.7"/>
<polyline points="455.6,101.8 458.5,101.7 461.3,101.6 464.1,101.6 467,101.5 469.8,101.5 472.6,101.4 475.5,101.3 478.3,101.3 481.1,101.2 484,101.1 486.8,101.1 489.7,101 492.5,100.9 495.3,100.8 498.2,100.7 501,100.6 503.8,100.5 506.7,100.4 509.5,100.3 512.3,100.1 515.2,99.9 518,99.8 520.8,99.5 523.7,99.3 526.5,99.1 529.3,98.8 532.2,98.6 535,98.4 537.8,98.1 540.7,97.9 543.5,97.7 546.3,97.6 549.2,97.5 552,97.4 554.8,97.4 557.7,97.4 560.5,97.5 563.4,97.6 566.2,97.7 569,97.8 571.9,97.9 574.7,98 577.5,98.1 580.4,98.2 583.2,98.3 586,98.4 588.9,98.4 591.7,98.5 594.5,98.5 597.4,98.6 600.2,98.6 603,98.7 605.9,98.7 608.7,98.8 611.5,98.9 614.4,99 617.2,99.1 620,99.1 622.9,99.1 625.7,99" fill="none" stroke="#e030e0" stroke-width="0.9" stroke-linejoin="round" stroke-linecap="round" stroke-opacity="0.85"/>
<polyline points="455.6,102.5 458.5,102.4 461.3,102.3 464.1,102.3 467,102.2 469.8,102.2 472.6,102.1 475.5,102 478.3,102 481.1,101.9 484,101.8 486.8,101.8 489.7,101.7 492.5,101.6 495.3,101.5 498.2,101.4 501,101.3 503.8,101.2 506.7,101.1 509.5,101 512.3,100.8 515.2,100.6 518,100.5 520.8,100.2 523.7,100 526.5,99.8 529.3,99.5 532.2,99.3 535,99.1 537.8,98.8 540.7,98.6 543.5,98.4 546.3,98.3 549.2,98.2 552,98.1 554.8,98.1 557.7,98.1 560.5,98.2 563.4,98.3 566.2,98.4 569,98.5 571.9,98.6 574.7,98.7 577.5,98.8 580.4,98.9 583.2,99 586,99.1 588.9,99.1 591.7,99.2 594.5,99.2 597.4,99.3 600.2,99.3 603,99.4 605.9,99.4 608.7,99.5 611.5,99.6 614.4,99.7 617.2,99.8 620,99.8 622.9,99.8 625.7,99.7" fill="none" stroke="#222222" stroke-width="0.6" stroke-linejoin="round" stroke-linecap="round" stroke-dasharray="0.7 0.7" stroke-opacity="0.7"/>
<polyline points="486.4,107.9 489.2,107.8 492.1,107.8 494.9,107.7 497.8,107.6 500.6,107.6 503.4,107.5 506.3,107.4 509.1,107.4 511.9,107.3 514.8,107.3 517.6,107.2 520.4,107.1 523.3,107.1 526.1,107 528.9,106.9 531.8,106.9 534.6,106.8 537.4,106.8 540.3,106.7 543.1,106.6 545.9,106.6 548.8,106.5 551.6,106.4 554.4,106.4 557.3,106.3 560.1,106.3 563,106.2 565.8,106.1 568.6,106.1 571.5,106 574.3,105.9 577.1,105.9 580,105.8 582.8,105.8 585.6,105.7 588.5,105.6 591.3,105.6 594.1,105.5 597,105.5 599.8,105.4 602.6,105.3 605.5,105.3 608.3,105.2 611.1,105.1 614,105.1 616.8,105 619.6,105 622.5,104.9 625.3,104.8 628.2,104.8 631,104.7 633.8,104.6 636.7,104.6 639.5,104.5 642.3,104.5 645.2,104.4 648,104.4 650.8,104.3 653.7,104.2 656.5,104.2" fill="none" stroke="#e030e0" stroke-width="0.9" stroke-linejoin="round" stroke-linecap="round" stroke-opacity="0.85"/>
<polyline points="486.4,108.6 489.2,108.5 492.1,108.5 494.9,108.4 497.8,108.3 500.6,108.3 503.4,108.2 506.3,108.1 509.1,108.1 511.9,108 514.8,108 517.6,107.9 520.4,107.8 523.3,107.8 526.1,107.7 528.9,107.6 531.8,107.6 534.6,107.5 537.4,107.5 540.3,107.4 543.1,107.3 545.9,107.3 548.8,107.2 551.6,107.1 554.4,107.1 557.3,107 560.1,107 563,106.9 565.8,106.8 568.6,106.8 571.5,106.7 574.3,106.6 577.1,106.6 580,106.5 582.8,106.5 585.6,106.4 588.5,106.3 591.3,106.3 594.1,106.2 597,106.2 599.8,106.1 602.6,106 605.5,106 608.3,105.9 611.1,105.8 614,105.8 616.8,105.7 619.6,105.7 622.5,105.6 625.3,105.5 628.2,105.5 631,105.4 633.8,105.3 636.7,105.3 639.5,105.2 642.3,105.2 645.2,105.1 648,105.1 650.8,105 653.7,104.9 656.5,104.9" fill="none" stroke="#222222" stroke-width="0.6" stroke-linejoin="round" stroke-linecap="round" stroke-dasharray="0.7 0.7" stroke-opacity="0.7"/>
<polyline points="466.4,115 469.2,114.9 472.1,114.9 474.9,114.8 477.7,114.7 480.6,114.7 483.4,114.6 486.3,114.6 489.1,114.5 491.9,114.4 494.8,114.4 497.6,114.3 500.4,114.2 503.3,114.2 506.1,114.1 508.9,114.1 511.8,114 514.6,113.9 517.4,113.8 520.3,113.8 523.1,113.7 525.9,113.6 528.8,113.6 531.6,113.5 534.4,113.4 537.3,113.3 540.1,113.2 542.9,113.1 545.8,113.1 548.6,113 551.4,112.9 554.3,112.8 557.1,112.8 560,112.7 562.8,112.6 565.6,112.6 568.5,112.5 571.3,112.5 574.1,112.4 577,112.4 579.8,112.3 582.6,112.3 585.5,112.3 588.3,112.2 591.1,112.2 594,112.2 596.8,112.2 599.6,112.2 602.5,112.2 605.3,112.4 608.1,112.7 611,113.1 613.8,113.9 616.6,114.9 619.5,116.2 622.3,117.5 625.2,118.7 628,119.7 630.8,120.3 633.7,120.7 636.5,120.9" fill="none" stroke="#202040" stroke-width="0.8" stroke-linejoin="round" stroke-linecap="round" stroke-dasharray="0.8 0.6" stroke-opacity="0.8"/>
<polyline points="575.1,92.8 577.1,93.7 579.2,94.6 581.3,95.6 583.3,96.8 585.4,98.4 587.4,100.6 589.5,103.6 591.5,107.1 593.6,110.2 595.6,112 597.7,111.9 599.7,110.4 601.8,108.1 603.8,105.8 605.9,104.2 607.9,103.3 610,103.2 612,103.6 614.1,104.2 616.1,105" fill="none" stroke="#3040b0" stroke-width="0.5" stroke-linejoin="round" stroke-linecap="round" stroke-opacity="0.5"/>
<polyline points="576.8,92.8 578.8,93.7 580.9,94.6 583,95.6 585,96.8 587.1,98.4 589.1,100.7 591.2,103.7 593.2,107.1 595.3,110.3 597.3,112 599.4,111.9 601.4,110.4 603.5,108.1 605.5,105.8 607.6,104.1 609.6,103.3 611.7,103.2 613.7,103.6 615.8,104.2 617.8,105" fill="none" stroke="#3040b0" stroke-width="0.5" stroke-linejoin="round" stroke-linecap="round" stroke-opacity="0.5"/>
<polyline points="578.4,92.8 580.5,93.7 582.5,94.7 584.6,95.6 586.6,96.8 588.7,98.4 590.7,100.7 592.8,103.7 594.8,107.2 596.9,110.3 598.9,112 601,112 603,110.4 605.1,108.1 607.2,105.8 609.2,104.1 611.3,103.3 613.3,103.2 615.4,103.5 617.4,104.2 619.5,105" fill="none" stroke="#3040b0" stroke-width="0.5" stroke-linejoin="round" stroke-linecap="round" stroke-opacity="0.5"/>
<polyline points="580,92.9 582,93.8 584.1,94.7 586.1,95.7 588.2,96.9 590.2,98.5 592.3,100.7 594.3,103.7 596.4,107.2 598.4,110.3 600.5,112.1 602.6,112 604.6,110.4 606.7,108.1 608.7,105.8 610.8,104.1 612.8,103.3 614.9,103.1 616.9,103.5 619,104.1 621,104.9" fill="none" stroke="#3040b0" stroke-width="0.5" stroke-linejoin="round" stroke-linecap="round" stroke-opacity="0.5"/>
<polyline points="581.5,92.9 583.5,93.8 585.6,94.7 587.6,95.7 589.7,96.9 591.7,98.5 593.8,100.7 595.8,103.8 597.9,107.2 599.9,110.3 602,112.1 604,112 606.1,110.5 608.1,108.1 610.2,105.8 612.3,104.1 614.3,103.2 616.4,103.1 618.4,103.5 620.5,104.1 622.5,104.9" fill="none" stroke="#3040b0" stroke-width="0.5" stroke-linejoin="round" stroke-linecap="round" stroke-opacity="0.5"/>
<polyline points="582.9,92.9 585,93.8 587,94.7 589.1,95.7 591.1,96.9 593.2,98.5 595.2,100.8 597.3,103.8 599.3,107.3 601.4,110.4 603.4,112.2 605.5,112.1 607.5,110.5 609.6,108.1 611.6,105.8 613.7,104.1 615.7,103.2 617.8,103.1 619.8,103.4 621.9,104.1 623.9,104.9" fill="none" stroke="#3040b0" stroke-width="0.5" stroke-linejoin="round" stroke-linecap="round" stroke-opacity="0.5"/>
<polyline points="584.3,92.9 586.3,93.8 588.4,94.7 590.4,95.7 592.5,96.9 594.5,98.5 596.6,100.8 598.6,103.8 600.7,107.3 602.8,110.5 604.8,112.3 606.9,112.1 608.9,110.6 611,108.2 613,105.8 615.1,104.1 617.1,103.2 619.2,103.1 621.2,103.4 623.3,104 625.3,104.8" fill="none" stroke="#3040b0" stroke-width="0.5" stroke-linejoin="round" stroke-linecap="round" stroke-opacity="0.5"/>
<polyline points="585.6,92.9 587.7,93.8 589.7,94.7 591.8,95.7 593.8,96.9 595.9,98.5 597.9,100.8 600,103.9 602,107.4 604.1,110.6 606.1,112.4 608.2,112.3 610.2,110.6 612.3,108.2 614.3,105.8 616.4,104.1 618.4,103.2 620.5,103 622.6,103.4 624.6,104 626.7,104.8" fill="none" stroke="#3040b0" stroke-width="0.5" stroke-linejoin="round" stroke-linecap="round" stroke-opacity="0.5"/>
<polyline points="586.9,92.9 589,93.8 591,94.7 593.1,95.7 595.1,96.9 597.2,98.6 599.2,100.9 601.3,103.9 603.3,107.5 605.4,110.7 607.4,112.5 609.5,112.4 611.5,110.7 613.6,108.3 615.6,105.8 617.7,104.1 619.7,103.2 621.8,103 623.8,103.4 625.9,104 627.9,104.8" fill="none" stroke="#3040b0" stroke-width="0.5" stroke-linejoin="round" stroke-linecap="round" stroke-opacity="0.5"/>
<polyline points="588.1,92.9 590.2,93.8 592.2,94.7 594.3,95.7 596.3,96.9 598.4,98.6 600.5,100.9 602.5,104 604.6,107.6 606.6,110.8 608.7,112.7 610.7,112.5 612.8,110.9 614.8,108.4 616.9,105.9 618.9,104.1 621,103.2 623,103 625.1,103.3 627.1,104 629.2,104.7" fill="none" stroke="#3040b0" stroke-width="0.5" stroke-linejoin="round" stroke-linecap="round" stroke-opacity="0.5"/>
<polyline points="589.3,92.9 591.4,93.8 593.4,94.7 595.5,95.7 597.5,96.9 599.6,98.6 601.6,100.9 603.7,104.1 605.8,107.7 607.8,111 609.9,112.9 611.9,112.7 614,111 616,108.5 618.1,106 620.1,104.1 622.2,103.2 624.2,103 626.3,103.3 628.3,103.9 630.4,104.7" fill="none" stroke="#3040b0" stroke-width="0.5" stroke-linejoin="round" stroke-linecap="round" stroke-opacity="0.5"/>
<polyline points="590.5,92.9 592.6,93.8 594.6,94.7 596.7,95.7 598.7,96.9 600.8,98.6 602.8,101 604.9,104.2 606.9,107.9 609,111.2 611,113.1 613.1,113 615.1,111.2 617.2,108.6 619.2,106.1 621.3,104.2 623.3,103.2 625.4,103 627.4,103.3 629.5,103.9 631.5,104.7" fill="none" stroke="#3040b0" stroke-width="0.5" stroke-linejoin="round" stroke-linecap="round" stroke-opacity="0.5"/>
<polyline points="591.6,92.9 593.7,93.8 595.7,94.7 597.8,95.7 599.8,97 601.9,98.6 603.9,101 606,104.3 608,108.1 610.1,111.5 612.1,113.4 614.2,113.2 616.2,111.5 618.3,108.8 620.4,106.2 622.4,104.2 624.5,103.2 626.5,103 628.6,103.3 630.6,103.9 632.7,104.7" fill="none" stroke="#3040b0" stroke-width="0.5" stroke-linejoin="round" stroke-linecap="round" stroke-opacity="0.5"/>
<polyline points="592.7,92.9 594.8,93.8 596.8,94.7 598.9,95.7 600.9,97 603,98.7 605,101.1 607.1,104.4 609.1,108.3 611.2,111.8 613.2,113.7 615.3,113.5 617.3,111.7 619.4,109 621.4,106.3 623.5,104.3 625.5,103.2 627.6,103 629.7,103.3 631.7,103.9 633.8,104.6" fill="none" stroke="#3040b0" stroke-width="0.5" stroke-linejoin="round" stroke-linecap="round" stroke-opacity="0.5"/>
<polyline points="593.8,92.9 595.8,93.8 597.9,94.7 599.9,95.7 602,97 604,98.7 606.1,101.2 608.1,104.6 610.2,108.5 612.2,112.1 614.3,114 616.3,113.9 618.4,112 620.5,109.2 622.5,106.4 624.6,104.3 626.6,103.2 628.7,103 630.7,103.2 632.8,103.9 634.8,104.6" fill="none" stroke="#3040b0" stroke-width="0.5" stroke-linejoin="round" stroke-linecap="round" stroke-opacity="0.5"/>
<polyline points="594.8,92.9 596.9,93.8 598.9,94.7 601,95.7 603,97 605.1,98.7 607.1,101.3 609.2,104.7 611.2,108.8 613.3,112.4 615.3,114.4 617.4,114.2 619.4,112.3 621.5,109.4 623.5,106.5 625.6,104.4 627.6,103.3 629.7,103 631.7,103.2 633.8,103.8 635.8,104.6" fill="none" stroke="#3040b0" stroke-width="0.5" stroke-linejoin="round" stroke-linecap="round" stroke-opacity="0.5"/>
<polyline points="595.8,92.9 597.9,93.8 599.9,94.7 602,95.7 604,97 606.1,98.7 608.1,101.3 610.2,104.9 612.2,109 614.3,112.7 616.3,114.8 618.4,114.6 620.4,112.6 622.5,109.7 624.5,106.7 626.6,104.5 628.6,103.3 630.7,103 632.7,103.2 634.8,103.8 636.8,104.6" fill="none" stroke="#3040b0" stroke-width="0.5" stroke-linejoin="round" stroke-linecap="round" stroke-opacity="0.5"/>
<polyline points="596.8,92.9 598.8,93.8 600.9,94.7 602.9,95.7 605,97 607,98.8 609.1,101.4 611.1,105.1 613.2,109.3 615.3,113.1 617.3,115.2 619.4,115 621.4,113 623.5,109.9 625.5,106.9 627.6,104.6 629.6,103.3 631.7,103 633.7,103.2 635.8,103.8 637.8,104.6" fill="none" stroke="#3040b0" stroke-width="0.5" stroke-linejoin="round" stroke-linecap="round" stroke-opacity="0.5"/>
<polyline points="597.7,92.8 599.8,93.7 601.8,94.7 603.9,95.7 605.9,97 608,98.8 610,101.5 612.1,105.2 614.1,109.6 616.2,113.5 618.3,115.7 620.3,115.4 622.4,113.3 624.4,110.2 626.5,107 628.5,104.7 630.6,103.4 632.6,103 634.7,103.2 636.7,103.8 638.8,104.5" fill="none" stroke="#3040b0" stroke-width="0.5" stroke-linejoin="round" stroke-linecap="round" stroke-opacity="0.5"/>
<polyline points="598.7,92.8 600.7,93.7 602.8,94.7 604.8,95.7 606.9,97 608.9,98.8 611,101.6 613,105.4 615.1,109.9 617.1,113.9 619.2,116.1 621.2,115.9 623.3,113.7 625.3,110.4 627.4,107.2 629.4,104.8 631.5,103.4 633.5,103 635.6,103.2 637.6,103.8 639.7,104.5" fill="none" stroke="#3040b0" stroke-width="0.5" stroke-linejoin="round" stroke-linecap="round" stroke-opacity="0.5"/>
<polyline points="599.6,92.8 601.6,93.7 603.7,94.6 605.7,95.7 607.8,97 609.8,98.9 611.9,101.7 613.9,105.6 616,110.1 618,114.3 620.1,116.5 622.1,116.3 624.2,114 626.2,110.7 628.3,107.4 630.3,104.9 632.4,103.4 634.4,103 636.5,103.2 638.5,103.8 640.6,104.5" fill="none" stroke="#3040b0" stroke-width="0.5" stroke-linejoin="round" stroke-linecap="round" stroke-opacity="0.5"/>
<polyline points="600.4,92.8 602.5,93.7 604.5,94.6 606.6,95.7 608.7,97 610.7,98.9 612.8,101.8 614.8,105.7 616.9,110.4 618.9,114.6 621,117 623,116.7 625.1,114.4 627.1,110.9 629.2,107.5 631.2,104.9 633.3,103.5 635.3,103 637.4,103.2 639.4,103.7 641.5,104.5" fill="none" stroke="#3040b0" stroke-width="0.5" stroke-linejoin="round" stroke-linecap="round" stroke-opacity="0.5"/>
<polyline points="601.3,92.8 603.4,93.7 605.4,94.6 607.5,95.7 609.5,97 611.6,98.9 613.6,101.9 615.7,105.9 617.7,110.7 619.8,115 621.8,117.4 623.9,117.1 625.9,114.7 628,111.2 630,107.7 632.1,105 634.1,103.5 636.2,103 638.2,103.2 640.3,103.7 642.3,104.5" fill="none" stroke="#3040b0" stroke-width="0.5" stroke-linejoin="round" stroke-linecap="round" stroke-opacity="0.5"/>
<polyline points="602.1,92.8 604.2,93.7 606.2,94.6 608.3,95.7 610.4,97 612.4,99 614.5,101.9 616.5,106.1 618.6,110.9 620.6,115.3 622.7,117.7 624.7,117.4 626.8,115 628.8,111.4 630.9,107.8 632.9,105.1 635,103.5 637,103 639.1,103.2 641.1,103.7 643.2,104.5" fill="none" stroke="#3040b0" stroke-width="0.5" stroke-linejoin="round" stroke-linecap="round" stroke-opacity="0.5"/>
<polyline points="603,92.8 605,93.7 607.1,94.6 609.1,95.6 611.2,97 613.2,99 615.3,102 617.3,106.2 619.4,111.1 621.4,115.6 623.5,118.1 625.5,117.8 627.6,115.3 629.6,111.6 631.7,108 633.7,105.2 635.8,103.6 637.8,103 639.9,103.1 642,103.7 644,104.4" fill="none" stroke="#3040b0" stroke-width="0.5" stroke-linejoin="round" stroke-linecap="round" stroke-opacity="0.5"/>
<polyline points="603.8,92.7 605.8,93.6 607.9,94.6 609.9,95.6 612,97 614,99 616.1,102.1 618.1,106.3 620.2,111.4 622.2,115.9 624.3,118.4 626.3,118.1 628.4,115.6 630.4,111.8 632.5,108.1 634.5,105.2 636.6,103.6 638.7,103 640.7,103.1 642.8,103.7 644.8,104.4" fill="none" stroke="#3040b0" stroke-width="0.5" stroke-linejoin="round" stroke-linecap="round" stroke-opacity="0.5"/>
<polyline points="604.6,92.7 606.6,93.6 608.7,94.6 610.7,95.6 612.8,97 614.8,99 616.9,102.1 618.9,106.5 621,111.6 623,116.2 625.1,118.7 627.1,118.4 629.2,115.8 631.2,112 633.3,108.2 635.3,105.3 637.4,103.6 639.4,103 641.5,103.1 643.5,103.7 645.6,104.4" fill="none" stroke="#3040b0" stroke-width="0.5" stroke-linejoin="round" stroke-linecap="round" stroke-opacity="0.5"/>
<polyline points="605.3,92.7 607.4,93.6 609.4,94.6 611.5,95.6 613.5,97 615.6,99 617.6,102.2 619.7,106.6 621.7,111.7 623.8,116.4 625.8,119 627.9,118.7 629.9,116 632,112.2 634.1,108.3 636.1,105.4 638.2,103.6 640.2,103 642.3,103.1 644.3,103.6 646.4,104.4" fill="none" stroke="#3040b0" stroke-width="0.5" stroke-linejoin="round" stroke-linecap="round" stroke-opacity="0.5"/>
<polyline points="606.1,92.7 608.1,93.6 610.2,94.5 612.2,95.6 614.3,97 616.3,99.1 618.4,102.2 620.4,106.7 622.5,111.9 624.5,116.6 626.6,119.2 628.7,118.9 630.7,116.2 632.8,112.3 634.8,108.4 636.9,105.4 638.9,103.7 641,103 643,103.1 645.1,103.6 647.1,104.4" fill="none" stroke="#3040b0" stroke-width="0.5" stroke-linejoin="round" stroke-linecap="round" stroke-opacity="0.5"/>
<polyline points="606.8,92.7 608.9,93.6 610.9,94.5 613,95.6 615,97 617.1,99.1 619.1,102.3 621.2,106.7 623.2,112 625.3,116.8 627.3,119.4 629.4,119.1 631.4,116.4 633.5,112.5 635.5,108.5 637.6,105.4 639.7,103.7 641.7,103 643.8,103.1 645.8,103.6 647.9,104.4" fill="none" stroke="#3040b0" stroke-width="0.5" stroke-linejoin="round" stroke-linecap="round" stroke-opacity="0.5"/>
<polyline points="607.5,92.7 609.6,93.6 611.6,94.5 613.7,95.6 615.8,97 617.8,99.1 619.9,102.3 621.9,106.8 624,112.2 626,117 628.1,119.6 630.1,119.3 632.2,116.6 634.2,112.6 636.3,108.6 638.3,105.5 640.4,103.7 642.4,103 644.5,103.1 646.5,103.6 648.6,104.3" fill="none" stroke="#3040b0" stroke-width="0.5" stroke-linejoin="round" stroke-linecap="round" stroke-opacity="0.5"/>
<polyline points="608.3,92.7 610.3,93.6 612.4,94.5 614.4,95.6 616.5,97 618.5,99.1 620.6,102.3 622.6,106.9 624.7,112.3 626.7,117.1 628.8,119.8 630.8,119.5 632.9,116.7 634.9,112.7 637,108.6 639,105.5 641.1,103.7 643.1,103 645.2,103.1 647.2,103.6 649.3,104.3" fill="none" stroke="#3040b0" stroke-width="0.5" stroke-linejoin="round" stroke-linecap="round" stroke-opacity="0.5"/>
<polyline points="608.9,92.6 611,93.5 613.1,94.5 615.1,95.6 617.2,97 619.2,99.1 621.3,102.3 623.3,106.9 625.4,112.4 627.4,117.3 629.5,120 631.5,119.6 633.6,116.8 635.6,112.8 637.7,108.7 639.7,105.5 641.8,103.7 643.8,103 645.9,103.1 647.9,103.6 650,104.3" fill="none" stroke="#3040b0" stroke-width="0.5" stroke-linejoin="round" stroke-linecap="round" stroke-opacity="0.5"/>
<polyline points="609.6,92.6 611.7,93.5 613.7,94.5 615.8,95.5 617.8,97 619.9,99.1 621.9,102.4 624,107 626,112.4 628.1,117.4 630.2,120.1 632.2,119.7 634.3,117 636.3,112.8 638.4,108.7 640.4,105.6 642.5,103.7 644.5,103 646.6,103 648.6,103.6 650.7,104.3" fill="none" stroke="#3040b0" stroke-width="0.5" stroke-linejoin="round" stroke-linecap="round" stroke-opacity="0.5"/>
<polyline points="610.3,92.6 612.4,93.5 614.4,94.5 616.5,95.5 618.5,97 620.6,99.1 622.6,102.4 624.7,107 626.7,112.5 628.8,117.5 630.8,120.2 632.9,119.8 634.9,117.1 637,112.9 639,108.8 641.1,105.6 643.1,103.7 645.2,103 647.2,103 649.3,103.5 651.3,104.3" fill="none" stroke="#3040b0" stroke-width="0.5" stroke-linejoin="round" stroke-linecap="round" stroke-opacity="0.5"/>
<polyline points="611,92.6 613,93.5 615.1,94.4 617.1,95.5 619.2,96.9 621.2,99.1 623.3,102.4 625.3,107.1 627.4,112.6 629.4,117.6 631.5,120.3 633.5,119.9 635.6,117.1 637.6,113 639.7,108.8 641.7,105.6 643.8,103.7 645.8,103 647.9,103 650,103.5 652,104.3" fill="none" stroke="#3040b0" stroke-width="0.5" stroke-linejoin="round" stroke-linecap="round" stroke-opacity="0.5"/>
<polyline points="611.6,92.6 613.7,93.5 615.7,94.4 617.8,95.5 619.8,96.9 621.9,99.1 623.9,102.4 626,107.1 628,112.6 630.1,117.7 632.1,120.4 634.2,120 636.2,117.2 638.3,113 640.3,108.8 642.4,105.6 644.4,103.7 646.5,103 648.5,103 650.6,103.5 652.6,104.3" fill="none" stroke="#3040b0" stroke-width="0.5" stroke-linejoin="round" stroke-linecap="round" stroke-opacity="0.5"/>
<polyline points="612.2,92.6 614.3,93.5 616.3,94.4 618.4,95.5 620.5,96.9 622.5,99.1 624.6,102.4 626.6,107.1 628.7,112.7 630.7,117.7 632.8,120.5 634.8,120.1 636.9,117.3 638.9,113.1 641,108.8 643,105.6 645.1,103.7 647.1,102.9 649.2,103 651.2,103.5 653.3,104.2" fill="none" stroke="#3040b0" stroke-width="0.5" stroke-linejoin="round" stroke-linecap="round" stroke-opacity="0.5"/>
<polyline points="612.9,92.6 614.9,93.5 617,94.4 619,95.5 621.1,96.9 623.1,99.1 625.2,102.4 627.2,107.1 629.3,112.7 631.3,117.8 633.4,120.6 635.4,120.2 637.5,117.3 639.5,113.1 641.6,108.9 643.7,105.6 645.7,103.7 647.8,102.9 649.8,103 651.9,103.5 653.9,104.2" fill="none" stroke="#3040b0" stroke-width="0.5" stroke-linejoin="round" stroke-linecap="round" stroke-opacity="0.5"/>
<polyline points="613.5,92.6 615.5,93.5 617.6,94.4 619.6,95.5 621.7,96.9 623.7,99.1 625.8,102.4 627.8,107.2 629.9,112.8 632,117.8 634,120.6 636.1,120.2 638.1,117.4 640.2,113.1 642.2,108.9 644.3,105.6 646.3,103.7 648.4,102.9 650.4,103 652.5,103.5 654.5,104.2" fill="none" stroke="#3040b0" stroke-width="0.5" stroke-linejoin="round" stroke-linecap="round" stroke-opacity="0.5"/>
<polyline points="614.1,92.5 616.1,93.4 618.2,94.4 620.2,95.5 622.3,96.9 624.3,99.1 626.4,102.4 628.5,107.2 630.5,112.8 632.6,117.9 634.6,120.7 636.7,120.3 638.7,117.4 640.8,113.2 642.8,108.9 644.9,105.6 646.9,103.7 649,102.9 651,103 653.1,103.5 655.1,104.2" fill="none" stroke="#3040b0" stroke-width="0.5" stroke-linejoin="round" stroke-linecap="round" stroke-opacity="0.5"/>
<polyline points="614.7,92.5 616.7,93.4 618.8,94.4 620.8,95.4 622.9,96.9 624.9,99.1 627,102.4 629,107.2 631.1,112.8 633.2,117.9 635.2,120.7 637.3,120.3 639.3,117.4 641.4,113.2 643.4,108.9 645.5,105.6 647.5,103.7 649.6,102.9 651.6,103 653.7,103.5 655.7,104.2" fill="none" stroke="#3040b0" stroke-width="0.5" stroke-linejoin="round" stroke-linecap="round" stroke-opacity="0.5"/>
<polyline points="615.3,92.5 617.3,93.4 619.4,94.4 621.4,95.4 623.5,96.9 625.5,99 627.6,102.4 629.6,107.2 631.7,112.8 633.7,117.9 635.8,120.7 637.8,120.3 639.9,117.5 641.9,113.2 644,108.9 646,105.6 648.1,103.7 650.2,102.9 652.2,102.9 654.3,103.4 656.3,104.2" fill="none" stroke="#3040b0" stroke-width="0.5" stroke-linejoin="round" stroke-linecap="round" stroke-opacity="0.5"/>
<polyline points="438.6,96.3 439.4,96.6 440.1,96.9 440.9,97.3 441.6,97.6 442.3,97.9 443.1,98.3 443.8,98.6 444.6,99 445.3,99.3 446.1,99.8 446.8,100.2 447.5,100.7 448.3,101.3 449,101.9 449.8,102.6 450.5,103.4 451.3,104.3 452,105.3 452.7,106.5 453.5,107.6 454.2,108.9 455,110.2 455.7,111.4 456.4,112.6 457.2,113.6 457.9,114.5 458.7,115.1 459.4,115.5 460.2,115.6 460.9,115.5" fill="none" stroke="#ff0000" stroke-width="2.4" stroke-linejoin="round" stroke-linecap="round"/>
<polyline points="438.6,91.9 439.4,92.2 440.1,92.5 440.9,92.8 441.6,93.1 442.3,93.4 443.1,93.8 443.8,94.1 444.6,94.5 445.3,94.8 446.1,95.3 446.8,95.7 447.5,96.3 448.3,96.9 449,97.6 449.8,98.4 450.5,99.3 451.3,100.3 452,101.5 452.7,102.8 453.5,104.1 454.2,105.5 455,107 455.7,108.4 456.4,109.8 457.2,111 457.9,112 458.7,112.9 459.4,113.5 460.2,113.8 460.9,113.9" fill="none" stroke="#0000ff" stroke-width="2.4" stroke-linejoin="round" stroke-linecap="round"/>
<polyline points="463.7,95.1 464.4,95.4 465.2,95.8 465.9,96.1 466.6,96.4 467.3,96.7 468,97 468.8,97.4 469.5,97.8 470.2,98.2 470.9,98.6 471.6,99 472.3,99.6 473.1,100.1 473.8,100.8 474.5,101.6 475.2,102.4 475.9,103.3 476.7,104.4 477.4,105.5 478.1,106.7 478.8,107.9 479.5,109.2 480.2,110.4 481,111.6 481.7,112.6 482.4,113.4 483.1,114.1 483.8,114.5 484.6,114.7 485.3,114.6" fill="none" stroke="#ff0000" stroke-width="2.4" stroke-linejoin="round" stroke-linecap="round"/>
<polyline points="463.7,91.7 464.4,92 465.2,92.3 465.9,92.6 466.6,92.9 467.3,93.2 468,93.5 468.8,93.8 469.5,94.2 470.2,94.6 470.9,95 471.6,95.5 472.3,96.1 473.1,96.7 473.8,97.4 474.5,98.3 475.2,99.2 475.9,100.3 476.7,101.4 477.4,102.7 478.1,104 478.8,105.4 479.5,106.8 480.2,108.1 481,109.4 481.7,110.6 482.4,111.5 483.1,112.3 483.8,112.9 484.6,113.2 485.3,113.2" fill="none" stroke="#0000ff" stroke-width="2.4" stroke-linejoin="round" stroke-linecap="round"/>
<polyline points="488.8,93.9 489.6,94.2 490.3,94.5 491,94.8 491.8,95.1 492.5,95.5 493.2,95.8 494,96.2 494.7,96.5 495.4,96.9 496.2,97.3 496.9,97.8 497.6,98.3 498.4,98.9 499.1,99.5 499.9,100.3 500.6,101.1 501.3,102.1 502.1,103.1 502.8,104.3 503.5,105.5 504.3,106.8 505,108.1 505.7,109.4 506.5,110.6 507.2,111.7 507.9,112.7 508.7,113.4 509.4,113.8 510.1,114 510.9,113.9" fill="none" stroke="#ff0000" stroke-width="2.4" stroke-linejoin="round" stroke-linecap="round"/>
<polyline points="488.8,91.7 489.6,92 490.3,92.3 491,92.6 491.8,92.9 492.5,93.2 493.2,93.5 494,93.8 494.7,94.1 495.4,94.5 496.2,94.9 496.9,95.4 497.6,95.9 498.4,96.5 499.1,97.2 499.9,98 500.6,98.9 501.3,100 502.1,101.1 502.8,102.4 503.5,103.7 504.3,105.1 505,106.5 505.7,107.9 506.5,109.2 507.2,110.4 507.9,111.4 508.7,112.3 509.4,112.8 510.1,113.1 510.9,113.2" fill="none" stroke="#0000ff" stroke-width="2.4" stroke-linejoin="round" stroke-linecap="round"/>
<polyline points="513.9,92.6 514.6,92.9 515.4,93.2 516.1,93.5 516.9,93.9 517.6,94.2 518.3,94.5 519.1,94.9 519.8,95.3 520.5,95.6 521.3,96.1 522,96.5 522.7,97 523.5,97.6 524.2,98.3 524.9,99.1 525.7,99.9 526.4,100.9 527.1,102 527.9,103.2 528.6,104.4 529.4,105.8 530.1,107.1 530.8,108.5 531.6,109.7 532.3,110.8 533,111.8 533.8,112.5 534.5,113 535.2,113.2 536,113.2" fill="none" stroke="#ff0000" stroke-width="2.4" stroke-linejoin="round" stroke-linecap="round"/>
<polyline points="513.9,90.8 514.6,91.1 515.4,91.4 516.1,91.7 516.9,92 517.6,92.3 518.3,92.6 519.1,92.9 519.8,93.3 520.5,93.7 521.3,94.1 522,94.5 522.7,95.1 523.5,95.7 524.2,96.4 524.9,97.2 525.7,98.1 526.4,99.2 527.1,100.3 527.9,101.6 528.6,102.9 529.4,104.3 530.1,105.7 530.8,107.1 531.6,108.4 532.3,109.6 533,110.7 533.8,111.5 534.5,112.1 535.2,112.4 536,112.4" fill="none" stroke="#0000ff" stroke-width="2.4" stroke-linejoin="round" stroke-linecap="round"/>
<polyline points="539,91.3 539.7,91.6 540.5,92 541.2,92.3 541.9,92.6 542.7,92.9 543.4,93.3 544.2,93.6 544.9,94 545.6,94.4 546.4,94.8 547.1,95.3 547.8,95.8 548.6,96.4 549.3,97.1 550,97.8 550.8,98.7 551.5,99.7 552.2,100.8 553,102.1 553.7,103.4 554.4,104.7 555.2,106.1 555.9,107.5 556.7,108.8 557.4,109.9 558.1,110.9 558.9,111.7 559.6,112.2 560.3,112.4 561.1,112.5" fill="none" stroke="#ff0000" stroke-width="2.4" stroke-linejoin="round" stroke-linecap="round"/>
<polyline points="539,89.9 539.7,90.2 540.5,90.5 541.2,90.8 541.9,91.1 542.7,91.4 543.4,91.7 544.2,92 544.9,92.4 545.6,92.8 546.4,93.2 547.1,93.7 547.8,94.2 548.6,94.8 549.3,95.6 550,96.4 550.8,97.3 551.5,98.3 552.2,99.5 553,100.7 553.7,102.1 554.4,103.5 555.2,104.9 555.9,106.3 556.7,107.7 557.4,108.9 558.1,109.9 558.9,110.7 559.6,111.3 560.3,111.6 561.1,111.7" fill="none" stroke="#0000ff" stroke-width="2.4" stroke-linejoin="round" stroke-linecap="round"/>
<polyline points="564.1,89.7 564.8,90 565.6,90.3 566.3,90.6 567,91 567.8,91.3 568.5,91.6 569.2,92 570,92.4 570.7,92.8 571.4,93.2 572.2,93.7 572.9,94.2 573.7,94.8 574.4,95.5 575.1,96.3 575.9,97.2 576.6,98.2 577.3,99.3 578.1,100.6 578.8,101.9 579.5,103.3 580.3,104.8 581,106.2 581.7,107.5 582.5,108.7 583.2,109.8 583.9,110.6 584.7,111.1 585.4,111.4 586.2,111.4" fill="none" stroke="#ff0000" stroke-width="2.4" stroke-linejoin="round" stroke-linecap="round"/>
<polyline points="564.1,89.5 564.8,89.8 565.6,90.1 566.3,90.4 567,90.7 567.8,91 568.5,91.3 569.2,91.7 570,92 570.7,92.4 571.4,92.8 572.2,93.3 572.9,93.8 573.7,94.4 574.4,95.1 575.1,96 575.9,96.9 576.6,97.9 577.3,99.1 578.1,100.3 578.8,101.7 579.5,103.1 580.3,104.5 581,105.9 581.7,107.2 582.5,108.4 583.2,109.5 583.9,110.3 584.7,110.8 585.4,111.2 586.2,111.2" fill="none" stroke="#0000ff" stroke-width="2.4" stroke-linejoin="round" stroke-linecap="round"/>
<polyline points="589.2,88.4 589.9,88.8 590.6,89.2 591.3,89.6 592.1,90 592.8,90.5 593.5,90.9 594.2,91.5 594.9,92 595.7,92.7 596.4,93.4 597.1,94.1 597.8,94.9 598.5,95.7 599.2,96.7 600,97.7 600.7,98.7 601.4,99.8 602.1,100.9 602.8,102.1 603.6,103.2 604.3,104.4 605,105.6 605.7,106.7 606.4,107.7 607.1,108.7 607.9,109.6 608.6,110.4 609.3,111 610,111.5 610.7,111.9" fill="none" stroke="#ff0000" stroke-width="2.4" stroke-linejoin="round" stroke-linecap="round"/>
<polyline points="614.3,89.7 615.5,90.4 616.7,91.4 617.9,92.5 619.2,93.9 620.4,95.6 621.6,97.4 622.8,99.5 624,101.5 625.2,103.5 626.5,105.2 627.7,106.4 628.9,107.1 630.1,107.6 631.3,108 632.6,108.4 633.8,108.7 635,108.9 636.2,109.1 637.4,109.2 638.6,109.3 639.9,109.4 641.1,109.5 642.3,109.5 643.5,109.5 644.7,109.5 646,109.5 647.2,109.5 648.4,109.5 649.6,109.6 650.8,109.6 652,109.7 653.3,109.8 654.5,109.9 655.7,110.1 656.9,110.2 658.1,110.4 659.4,110.7 660.6,110.9 661.8,111.2 663,111.5" fill="none" stroke="#ff0000" stroke-width="2.4" stroke-linejoin="round" stroke-linecap="round"/>
<polyline points="85.8,238.8 112.1,239.1 144.2,240.1 176.3,242.7 208.5,247.5 240.6,253.9 272.7,262.9 288.1,269.3" fill="none" stroke="#22dd22" stroke-width="1.8" stroke-linejoin="round" stroke-linecap="round"/>
<polyline points="81.2,293.1 150,295.5 210,299.4 250,301.8 287.1,303.8" fill="none" stroke="#ee22ee" stroke-width="1.8" stroke-linejoin="round" stroke-linecap="round"/>
<polyline points="91.1,278.4 91.7,278.2 92.3,278.1 92.8,277.8 93.4,277.6 93.9,277.2 94.5,276.9 95,276.4 95.6,275.9 96.2,275.2 96.7,274.5 97.3,273.7 97.8,272.8 98.4,271.8 99,270.7 99.5,269.5 100.1,268.1 100.6,266.7 101.2,265.2 101.8,263.5 102.3,261.7 102.9,259.9 103.4,257.9 104,255.9 104.5,253.8 105.1,251.6 105.7,249.5 106.2,247.4 106.8,245.3 107.3,243.3 107.9,241.4 108.5,239.7 109,238.2 109.6,236.9 110.1,235.9 110.7,235.2 111.2,234.9 111.8,234.9 112.4,235.2 112.9,236.1 113.5,237.3 114,238.9 114.6,240.9 115.2,243.1 115.7,245.6 116.3,248.3 116.8,251.1 117.4,253.9 118,256.8 118.5,259.7 119.1,262.5 119.6,265.3 120.2,267.9 120.7,270.4 121.3,272.8 121.9,275.1 122.4,277.2 123,279.1 123.5,280.9 124.1,282.6 124.7,284.2 125.2,285.6 125.8,286.9 126.3,288.1 126.9,289.3 127.4,290.3 128,291.2 128.6,292.1 129.1,292.9 129.7,293.6 130.2,294.3 130.8,294.9 131.4,295.5 131.9,296 132.5,296.5 133,297 133.6,297.4 134.2,297.9 134.7,298.3 135.3,298.6 135.8,299 136.4,299.4 136.9,299.7 137.5,300 138.1,300.3 138.6,300.6 139.2,300.9 139.7,301.2 140.3,301.5 140.9,301.8 141.4,302.1" fill="none" stroke="#0000ff" stroke-width="2.3" stroke-linejoin="round" stroke-linecap="round"/>
<polyline points="91.1,282.3 91.7,282.6 92.3,282.8 92.8,283.1 93.4,283.3 93.9,283.6 94.5,283.8 95,284.1 95.6,284.4 96.2,284.6 96.7,284.9 97.3,285.2 97.8,285.5 98.4,285.9 99,286.2 99.5,286.6 100.1,287 100.6,287.4 101.2,287.9 101.8,288.4 102.3,288.9 102.9,289.5 103.4,290.1 104,290.7 104.5,291.4 105.1,292.2 105.7,293 106.2,293.8 106.8,294.6 107.3,295.5 107.9,296.3 108.5,297.2 109,298.1 109.6,298.9 110.1,299.7 110.7,300.5 111.2,301.2 111.8,301.8 112.4,302.4 112.9,302.9 113.5,303.3 114,303.6 114.6,303.8 115.2,303.8 115.7,303.6 116.3,303.3 116.8,302.8 117.4,302.2 118,301.6 118.5,300.9 119.1,300.2 119.6,299.5 120.2,298.9 120.7,298.3 121.3,297.8 121.9,297.4 122.4,297 123,296.7 123.5,296.5 124.1,296.4 124.7,296.3 125.2,296.3 125.8,296.3 126.3,296.3 126.9,296.4 127.4,296.4 128,296.5 128.6,296.7 129.1,296.8 129.7,296.9 130.2,297.1 130.8,297.2 131.4,297.4 131.9,297.6 132.5,297.8 133,298 133.6,298.2 134.2,298.4 134.7,298.6 135.3,298.8 135.8,299 136.4,299.2 136.9,299.4 137.5,299.7 138.1,299.9 138.6,300.1 139.2,300.3 139.7,300.6 140.3,300.8 140.9,301 141.4,301.3" fill="none" stroke="#ff0000" stroke-width="2.3" stroke-linejoin="round" stroke-linecap="round"/>
<polyline points="438.6,278.2 439.2,278.1 439.8,277.9 440.3,277.7 440.9,277.4 441.4,277 442,276.6 442.5,276.1 443.1,275.6 443.7,274.9 444.2,274.2 444.8,273.3 445.3,272.4 445.9,271.3 446.5,270.2 447,268.9 447.6,267.5 448.1,266 448.7,264.4 449.3,262.7 449.8,260.9 450.4,259 450.9,256.9 451.5,254.9 452,252.7 452.6,250.5 453.2,248.3 453.7,246.1 454.3,244 454.8,242 455.4,240.1 456,238.4 456.5,236.9 457.1,235.6 457.6,234.7 458.2,234 458.7,233.7 459.3,233.8 459.9,234.2 460.4,235.1 461,236.3 461.5,237.9 462.1,239.9 462.7,242.1 463.2,244.5 463.8,247.1 464.3,249.9 464.9,252.7 465.5,255.6 466,258.4 466.6,261.2 467.1,263.9 467.7,266.5 468.2,269 468.8,271.3 469.4,273.6 469.9,275.7 470.5,277.6 471,279.4 471.6,281.1 472.2,282.6 472.7,284.1 473.3,285.4 473.8,286.6 474.4,287.7 474.9,288.8 475.5,289.7 476.1,290.6 476.6,291.4 477.2,292.2 477.7,292.9 478.3,293.5 478.9,294.1 479.4,294.7 480,295.2 480.5,295.7 481.1,296.1 481.7,296.6 482.2,297 482.8,297.4 483.3,297.8 483.9,298.1 484.4,298.5 485,298.8 485.6,299.1 486.1,299.5 486.7,299.8 487.2,300.1 487.8,300.4 488.4,300.6 488.9,300.9" fill="none" stroke="#ff00ff" stroke-width="2.3" stroke-linejoin="round" stroke-linecap="round"/>
<polyline points="116.2,277.9 116.8,277.8 117.3,277.6 117.9,277.4 118.5,277.2 119,276.9 119.6,276.5 120.1,276.1 120.7,275.5 121.3,275 121.8,274.3 122.4,273.5 122.9,272.7 123.5,271.7 124.1,270.6 124.6,269.5 125.2,268.2 125.7,266.9 126.3,265.4 126.8,263.8 127.4,262.2 128,260.4 128.5,258.6 129.1,256.7 129.6,254.8 130.2,252.8 130.8,250.9 131.3,248.9 131.9,247.1 132.4,245.3 133,243.7 133.5,242.2 134.1,240.9 134.7,239.9 135.2,239.1 135.8,238.6 136.3,238.5 136.9,238.6 137.5,239.2 138,240.1 138.6,241.3 139.1,242.9 139.7,244.7 140.2,246.8 140.8,249.1 141.4,251.5 141.9,254.1 142.5,256.6 143,259.2 143.6,261.8 144.2,264.4 144.7,266.8 145.3,269.2 145.8,271.5 146.4,273.6 147,275.7 147.5,277.6 148.1,279.4 148.6,281.1 149.2,282.6 149.7,284.1 150.3,285.4 150.9,286.7 151.4,287.8 152,288.9 152.5,289.9 153.1,290.8 153.7,291.6 154.2,292.4 154.8,293.1 155.3,293.7 155.9,294.3 156.4,294.9 157,295.4 157.6,295.9 158.1,296.4 158.7,296.9 159.2,297.3 159.8,297.7 160.4,298.1 160.9,298.4 161.5,298.8 162,299.1 162.6,299.4 163.2,299.8 163.7,300.1 164.3,300.4 164.8,300.6 165.4,300.9 165.9,301.2 166.5,301.5" fill="none" stroke="#0000ff" stroke-width="2.3" stroke-linejoin="round" stroke-linecap="round"/>
<polyline points="116.2,281.9 116.8,282.2 117.3,282.4 117.9,282.7 118.5,282.9 119,283.2 119.6,283.4 120.1,283.7 120.7,284 121.3,284.3 121.8,284.6 122.4,284.9 122.9,285.2 123.5,285.5 124.1,285.9 124.6,286.3 125.2,286.7 125.7,287.2 126.3,287.7 126.8,288.2 127.4,288.8 128,289.4 128.5,290 129.1,290.7 129.6,291.5 130.2,292.3 130.8,293.1 131.3,294 131.9,294.8 132.4,295.7 133,296.6 133.5,297.6 134.1,298.4 134.7,299.3 135.2,300.1 135.8,300.9 136.3,301.6 136.9,302.3 137.5,302.8 138,303.3 138.6,303.7 139.1,303.9 139.7,304 140.2,303.9 140.8,303.6 141.4,303.2 141.9,302.6 142.5,302 143,301.2 143.6,300.5 144.2,299.7 144.7,299 145.3,298.4 145.8,297.8 146.4,297.3 147,296.8 147.5,296.5 148.1,296.2 148.6,296 149.2,295.9 149.7,295.8 150.3,295.7 150.9,295.7 151.4,295.8 152,295.8 152.5,295.9 153.1,296 153.7,296.1 154.2,296.3 154.8,296.4 155.3,296.6 155.9,296.7 156.4,296.9 157,297.1 157.6,297.2 158.1,297.4 158.7,297.6 159.2,297.8 159.8,298 160.4,298.2 160.9,298.5 161.5,298.7 162,298.9 162.6,299.1 163.2,299.3 163.7,299.6 164.3,299.8 164.8,300 165.4,300.3 165.9,300.5 166.5,300.7" fill="none" stroke="#ff0000" stroke-width="2.3" stroke-linejoin="round" stroke-linecap="round"/>
<polyline points="463.7,277.9 464.3,277.8 464.8,277.7 465.4,277.5 466,277.2 466.5,276.9 467.1,276.5 467.6,276.1 468.2,275.6 468.8,275 469.3,274.3 469.9,273.6 470.4,272.7 471,271.8 471.6,270.7 472.1,269.6 472.7,268.3 473.2,266.9 473.8,265.5 474.3,263.9 474.9,262.2 475.5,260.5 476,258.6 476.6,256.7 477.1,254.7 477.7,252.7 478.3,250.7 478.8,248.7 479.4,246.8 479.9,245 480.5,243.2 481,241.7 481.6,240.3 482.2,239.2 482.7,238.3 483.3,237.7 483.8,237.5 484.4,237.5 485,238 485.5,238.7 486.1,239.9 486.6,241.3 487.2,243.1 487.7,245.1 488.3,247.3 488.9,249.6 489.4,252.1 490,254.6 490.5,257.2 491.1,259.8 491.7,262.4 492.2,264.8 492.8,267.2 493.3,269.5 493.9,271.7 494.5,273.8 495,275.8 495.6,277.6 496.1,279.3 496.7,280.9 497.2,282.4 497.8,283.8 498.4,285 498.9,286.2 499.5,287.3 500,288.3 500.6,289.2 501.2,290.1 501.7,290.9 502.3,291.6 502.8,292.3 503.4,292.9 503.9,293.5 504.5,294.1 505.1,294.6 505.6,295.1 506.2,295.5 506.7,296 507.3,296.4 507.9,296.8 508.4,297.2 509,297.5 509.5,297.9 510.1,298.2 510.7,298.6 511.2,298.9 511.8,299.2 512.3,299.5 512.9,299.8 513.4,300.1 514,300.4" fill="none" stroke="#ff00ff" stroke-width="2.3" stroke-linejoin="round" stroke-linecap="round"/>
<polyline points="141.3,277.6 141.9,277.5 142.4,277.4 143,277.2 143.6,277 144.1,276.7 144.7,276.4 145.2,276 145.8,275.6 146.3,275.1 146.9,274.5 147.5,273.8 148,273 148.6,272.1 149.1,271.2 149.7,270.2 150.3,269 150.8,267.8 151.4,266.5 151.9,265.1 152.5,263.6 153.1,262 153.6,260.3 154.2,258.6 154.7,256.9 155.3,255.1 155.8,253.4 156.4,251.6 157,249.9 157.5,248.3 158.1,246.8 158.6,245.5 159.2,244.4 159.8,243.4 160.3,242.8 160.9,242.4 161.4,242.2 162,242.4 162.5,242.9 163.1,243.7 163.7,244.8 164.2,246.2 164.8,247.9 165.3,249.7 165.9,251.8 166.5,254 167,256.2 167.6,258.6 168.1,260.9 168.7,263.2 169.3,265.6 169.8,267.8 170.4,270 170.9,272.1 171.5,274.1 172,276 172.6,277.8 173.2,279.4 173.7,281 174.3,282.5 174.8,283.9 175.4,285.2 176,286.3 176.5,287.4 177.1,288.5 177.6,289.4 178.2,290.3 178.7,291.1 179.3,291.9 179.9,292.5 180.4,293.2 181,293.8 181.5,294.4 182.1,294.9 182.7,295.4 183.2,295.8 183.8,296.3 184.3,296.7 184.9,297.1 185.5,297.5 186,297.8 186.6,298.2 187.1,298.5 187.7,298.9 188.2,299.2 188.8,299.5 189.4,299.8 189.9,300.1 190.5,300.4 191,300.6 191.6,300.9" fill="none" stroke="#0000ff" stroke-width="2.3" stroke-linejoin="round" stroke-linecap="round"/>
<polyline points="141.3,281.6 141.9,281.8 142.4,282 143,282.3 143.6,282.6 144.1,282.8 144.7,283.1 145.2,283.4 145.8,283.6 146.3,283.9 146.9,284.2 147.5,284.6 148,284.9 148.6,285.3 149.1,285.6 149.7,286.1 150.3,286.5 150.8,287 151.4,287.5 151.9,288.1 152.5,288.7 153.1,289.3 153.6,290.1 154.2,290.8 154.7,291.6 155.3,292.4 155.8,293.3 156.4,294.2 157,295.2 157.5,296.1 158.1,297 158.6,298 159.2,298.9 159.8,299.8 160.3,300.6 160.9,301.4 161.4,302.1 162,302.7 162.5,303.3 163.1,303.7 163.7,304 164.2,304.2 164.8,304.2 165.3,304 165.9,303.6 166.5,303.1 167,302.4 167.6,301.7 168.1,300.9 168.7,300 169.3,299.3 169.8,298.5 170.4,297.8 170.9,297.2 171.5,296.7 172,296.3 172.6,295.9 173.2,295.7 173.7,295.5 174.3,295.4 174.8,295.3 175.4,295.3 176,295.3 176.5,295.3 177.1,295.4 177.6,295.4 178.2,295.5 178.7,295.6 179.3,295.8 179.9,295.9 180.4,296.1 181,296.2 181.5,296.4 182.1,296.5 182.7,296.7 183.2,296.9 183.8,297.1 184.3,297.3 184.9,297.5 185.5,297.7 186,297.9 186.6,298.1 187.1,298.3 187.7,298.6 188.2,298.8 188.8,299 189.4,299.2 189.9,299.5 190.5,299.7 191,299.9 191.6,300.2" fill="none" stroke="#ff0000" stroke-width="2.3" stroke-linejoin="round" stroke-linecap="round"/>
<polyline points="488.8,277.5 489.4,277.4 489.9,277.3 490.5,277.1 491.1,276.9 491.6,276.6 492.2,276.3 492.7,275.9 493.3,275.4 493.8,274.9 494.4,274.3 495,273.6 495.5,272.8 496.1,271.9 496.6,270.9 497.2,269.8 497.8,268.7 498.3,267.4 498.9,266.1 499.4,264.6 500,263.1 500.6,261.5 501.1,259.8 501.7,258 502.2,256.2 502.8,254.4 503.3,252.6 503.9,250.8 504.5,249.1 505,247.4 505.6,245.9 506.1,244.5 506.7,243.4 507.3,242.4 507.8,241.7 508.4,241.3 508.9,241.2 509.5,241.3 510,241.8 510.6,242.6 511.2,243.7 511.7,245.1 512.3,246.7 512.8,248.5 513.4,250.6 514,252.7 514.5,255 515.1,257.3 515.6,259.6 516.2,261.9 516.8,264.2 517.3,266.5 517.9,268.7 518.4,270.8 519,272.8 519.5,274.6 520.1,276.4 520.7,278.1 521.2,279.7 521.8,281.2 522.3,282.5 522.9,283.8 523.5,285 524,286.1 524.6,287.1 525.1,288.1 525.7,288.9 526.2,289.7 526.8,290.5 527.4,291.2 527.9,291.9 528.5,292.5 529,293.1 529.6,293.6 530.2,294.1 530.7,294.6 531.3,295 531.8,295.5 532.4,295.9 533,296.3 533.5,296.6 534.1,297 534.6,297.3 535.2,297.7 535.7,298 536.3,298.3 536.9,298.6 537.4,298.9 538,299.2 538.5,299.5 539.1,299.8" fill="none" stroke="#ff00ff" stroke-width="2.3" stroke-linejoin="round" stroke-linecap="round"/>
<polyline points="166.4,277.4 167,277.3 167.5,277.2 168.1,277.1 168.6,276.9 169.2,276.7 169.8,276.5 170.3,276.2 170.9,275.8 171.4,275.3 172,274.8 172.6,274.2 173.1,273.6 173.7,272.8 174.2,272 174.8,271.1 175.4,270.1 175.9,269.1 176.5,267.9 177,266.7 177.6,265.4 178.1,264.1 178.7,262.6 179.3,261.2 179.8,259.6 180.4,258.1 180.9,256.6 181.5,255.1 182.1,253.6 182.6,252.2 183.2,251 183.7,249.8 184.3,248.8 184.8,248.1 185.4,247.5 186,247.2 186.5,247.1 187.1,247.3 187.6,247.7 188.2,248.4 188.8,249.4 189.3,250.6 189.9,252.1 190.4,253.7 191,255.5 191.5,257.3 192.1,259.3 192.7,261.3 193.2,263.4 193.8,265.5 194.3,267.5 194.9,269.5 195.5,271.4 196,273.3 196.6,275.1 197.1,276.8 197.7,278.4 198.3,279.9 198.8,281.4 199.4,282.7 199.9,284 200.5,285.2 201,286.3 201.6,287.3 202.2,288.3 202.7,289.2 203.3,290 203.8,290.8 204.4,291.5 205,292.2 205.5,292.8 206.1,293.4 206.6,293.9 207.2,294.4 207.7,294.9 208.3,295.3 208.9,295.8 209.4,296.2 210,296.6 210.5,296.9 211.1,297.3 211.7,297.7 212.2,298 212.8,298.3 213.3,298.6 213.9,298.9 214.5,299.2 215,299.5 215.6,299.8 216.1,300.1 216.7,300.4" fill="none" stroke="#0000ff" stroke-width="2.3" stroke-linejoin="round" stroke-linecap="round"/>
<polyline points="166.4,281.2 167,281.4 167.5,281.7 168.1,281.9 168.6,282.2 169.2,282.5 169.8,282.7 170.3,283 170.9,283.3 171.4,283.6 172,283.9 172.6,284.3 173.1,284.6 173.7,285 174.2,285.4 174.8,285.8 175.4,286.3 175.9,286.8 176.5,287.4 177,288 177.6,288.6 178.1,289.3 178.7,290.1 179.3,290.9 179.8,291.7 180.4,292.6 180.9,293.6 181.5,294.5 182.1,295.5 182.6,296.5 183.2,297.5 183.7,298.4 184.3,299.4 184.8,300.3 185.4,301.1 186,301.9 186.5,302.6 187.1,303.2 187.6,303.7 188.2,304.1 188.8,304.4 189.3,304.5 189.9,304.4 190.4,304 191,303.5 191.5,302.9 192.1,302.1 192.7,301.3 193.2,300.4 193.8,299.6 194.3,298.7 194.9,298 195.5,297.3 196,296.7 196.6,296.2 197.1,295.7 197.7,295.4 198.3,295.2 198.8,295 199.4,294.9 199.9,294.8 200.5,294.8 201,294.8 201.6,294.8 202.2,294.9 202.7,294.9 203.3,295 203.8,295.2 204.4,295.3 205,295.4 205.5,295.5 206.1,295.7 206.6,295.9 207.2,296 207.7,296.2 208.3,296.4 208.9,296.6 209.4,296.8 210,297 210.5,297.2 211.1,297.4 211.7,297.6 212.2,297.8 212.8,298 213.3,298.2 213.9,298.5 214.5,298.7 215,298.9 215.6,299.2 216.1,299.4 216.7,299.6" fill="none" stroke="#ff0000" stroke-width="2.3" stroke-linejoin="round" stroke-linecap="round"/>
<polyline points="513.9,277.3 514.5,277.2 515,277.1 515.6,277 516.1,276.8 516.7,276.6 517.3,276.3 517.8,276 518.4,275.6 518.9,275.1 519.5,274.6 520.1,274 520.6,273.3 521.2,272.5 521.7,271.7 522.3,270.7 522.9,269.7 523.4,268.6 524,267.4 524.5,266.1 525.1,264.8 525.6,263.4 526.2,261.9 526.8,260.3 527.3,258.8 527.9,257.2 528.4,255.6 529,254 529.6,252.5 530.1,251 530.7,249.7 531.2,248.5 531.8,247.5 532.3,246.7 532.9,246.1 533.5,245.7 534,245.6 534.6,245.8 535.1,246.3 535.7,247 536.3,247.9 536.8,249.1 537.4,250.5 537.9,252.1 538.5,253.8 539,255.7 539.6,257.7 540.2,259.7 540.7,261.7 541.3,263.8 541.8,265.8 542.4,267.8 543,269.7 543.5,271.6 544.1,273.4 544.6,275.1 545.2,276.8 545.8,278.3 546.3,279.7 546.9,281.1 547.4,282.4 548,283.6 548.5,284.7 549.1,285.7 549.7,286.7 550.2,287.6 550.8,288.5 551.3,289.2 551.9,290 552.5,290.7 553,291.3 553.6,291.9 554.1,292.5 554.7,293 555.2,293.5 555.8,294 556.4,294.4 556.9,294.9 557.5,295.3 558,295.7 558.6,296 559.2,296.4 559.7,296.8 560.3,297.1 560.8,297.4 561.4,297.7 562,298 562.5,298.3 563.1,298.6 563.6,298.9 564.2,299.2" fill="none" stroke="#ff00ff" stroke-width="2.3" stroke-linejoin="round" stroke-linecap="round"/>
<polyline points="191.5,277 192.1,277 192.6,276.9 193.2,276.8 193.7,276.7 194.3,276.6 194.9,276.3 195.4,276.1 196,275.7 196.5,275.4 197.1,274.9 197.6,274.4 198.2,273.8 198.8,273.2 199.3,272.5 199.9,271.7 200.4,270.8 201,269.9 201.6,268.9 202.1,267.8 202.7,266.7 203.2,265.5 203.8,264.3 204.4,263 204.9,261.7 205.5,260.4 206,259.1 206.6,257.9 207.1,256.7 207.7,255.5 208.3,254.5 208.8,253.6 209.4,252.9 209.9,252.3 210.5,252 211.1,251.8 211.6,251.9 212.2,252.2 212.7,252.7 213.3,253.4 213.8,254.3 214.4,255.5 215,256.7 215.5,258.2 216.1,259.7 216.6,261.4 217.2,263.1 217.8,264.8 218.3,266.6 218.9,268.3 219.4,270.1 220,271.8 220.6,273.4 221.1,275 221.7,276.6 222.2,278.1 222.8,279.5 223.3,280.8 223.9,282.1 224.5,283.3 225,284.4 225.6,285.5 226.1,286.5 226.7,287.4 227.3,288.3 227.8,289.1 228.4,289.9 228.9,290.6 229.5,291.2 230,291.9 230.6,292.4 231.2,293 231.7,293.5 232.3,294 232.8,294.4 233.4,294.9 234,295.3 234.5,295.7 235.1,296.1 235.6,296.4 236.2,296.8 236.8,297.1 237.3,297.5 237.9,297.8 238.4,298.1 239,298.4 239.5,298.7 240.1,299 240.7,299.3 241.2,299.5 241.8,299.8" fill="none" stroke="#0000ff" stroke-width="2.3" stroke-linejoin="round" stroke-linecap="round"/>
<polyline points="191.5,280.8 192.1,281.1 192.6,281.3 193.2,281.6 193.7,281.8 194.3,282.1 194.9,282.4 195.4,282.7 196,283 196.5,283.3 197.1,283.6 197.6,284 198.2,284.4 198.8,284.8 199.3,285.2 199.9,285.7 200.4,286.2 201,286.7 201.6,287.4 202.1,288 202.7,288.7 203.2,289.4 203.8,290.2 204.4,291.1 204.9,292 205.5,292.9 206,293.9 206.6,294.8 207.1,295.8 207.7,296.8 208.3,297.8 208.8,298.7 209.4,299.6 209.9,300.5 210.5,301.3 211.1,302 211.6,302.6 212.2,303.1 212.7,303.5 213.3,303.8 213.8,303.9 214.4,303.8 215,303.5 215.5,303 216.1,302.4 216.6,301.6 217.2,300.8 217.8,299.9 218.3,299.1 218.9,298.2 219.4,297.5 220,296.8 220.6,296.2 221.1,295.7 221.7,295.2 222.2,294.9 222.8,294.6 223.3,294.4 223.9,294.3 224.5,294.2 225,294.2 225.6,294.2 226.1,294.2 226.7,294.3 227.3,294.4 227.8,294.4 228.4,294.5 228.9,294.6 229.5,294.8 230,294.9 230.6,295 231.2,295.2 231.7,295.3 232.3,295.5 232.8,295.7 233.4,295.8 234,296 234.5,296.2 235.1,296.4 235.6,296.6 236.2,296.8 236.8,297 237.3,297.3 237.9,297.5 238.4,297.7 239,297.9 239.5,298.2 240.1,298.4 240.7,298.6 241.2,298.8 241.8,299.1" fill="none" stroke="#ff0000" stroke-width="2.3" stroke-linejoin="round" stroke-linecap="round"/>
<polyline points="539,276.8 539.6,276.7 540.1,276.6 540.7,276.5 541.2,276.3 541.8,276.1 542.4,275.9 542.9,275.5 543.5,275.2 544,274.7 544.6,274.2 545.1,273.6 545.7,273 546.3,272.2 546.8,271.4 547.4,270.5 547.9,269.6 548.5,268.5 549.1,267.4 549.6,266.3 550.2,265 550.7,263.7 551.3,262.4 551.9,261 552.4,259.6 553,258.2 553.5,256.8 554.1,255.5 554.6,254.2 555.2,253.1 555.8,252 556.3,251.1 556.9,250.4 557.4,249.9 558,249.6 558.6,249.5 559.1,249.7 559.7,250.1 560.2,250.7 560.8,251.5 561.3,252.5 561.9,253.6 562.5,255 563,256.4 563.6,258 564.1,259.6 564.7,261.3 565.3,263.1 565.8,264.8 566.4,266.6 566.9,268.3 567.5,270 568.1,271.7 568.6,273.3 569.2,274.9 569.7,276.3 570.3,277.8 570.8,279.1 571.4,280.4 572,281.6 572.5,282.7 573.1,283.8 573.6,284.8 574.2,285.7 574.8,286.6 575.3,287.4 575.9,288.2 576.4,288.9 577,289.6 577.5,290.3 578.1,290.9 578.7,291.4 579.2,292 579.8,292.5 580.3,293 580.9,293.4 581.5,293.9 582,294.3 582.6,294.7 583.1,295.1 583.7,295.5 584.3,295.8 584.8,296.2 585.4,296.5 585.9,296.8 586.5,297.1 587,297.5 587.6,297.8 588.2,298.1 588.7,298.3 589.3,298.6" fill="none" stroke="#ff00ff" stroke-width="2.3" stroke-linejoin="round" stroke-linecap="round"/>
<polyline points="216.6,276.9 217.2,277 217.7,277 218.3,277 218.8,276.9 219.4,276.8 219.9,276.7 220.5,276.5 221.1,276.3 221.6,276.1 222.2,275.8 222.7,275.4 223.3,275 223.9,274.5 224.4,274 225,273.5 225.5,272.8 226.1,272.1 226.7,271.4 227.2,270.6 227.8,269.8 228.3,268.9 228.9,268 229.4,267.1 230,266.2 230.6,265.2 231.1,264.3 231.7,263.4 232.2,262.5 232.8,261.7 233.4,260.9 233.9,260.3 234.5,259.8 235,259.4 235.6,259.2 236.1,259.1 236.7,259.2 237.3,259.5 237.8,259.9 238.4,260.5 238.9,261.2 239.5,262.1 240.1,263.1 240.6,264.2 241.2,265.3 241.7,266.6 242.3,267.8 242.9,269.2 243.4,270.5 244,271.9 244.5,273.2 245.1,274.6 245.6,275.9 246.2,277.2 246.8,278.4 247.3,279.6 247.9,280.8 248.4,281.9 249,283 249.6,284 250.1,285 250.7,285.9 251.2,286.7 251.8,287.6 252.3,288.3 252.9,289.1 253.5,289.7 254,290.4 254.6,291 255.1,291.6 255.7,292.1 256.3,292.6 256.8,293.1 257.4,293.6 257.9,294 258.5,294.4 259,294.8 259.6,295.2 260.2,295.6 260.7,295.9 261.3,296.3 261.8,296.6 262.4,296.9 263,297.2 263.5,297.5 264.1,297.8 264.6,298.1 265.2,298.4 265.8,298.7 266.3,299 266.9,299.3" fill="none" stroke="#0000ff" stroke-width="2.3" stroke-linejoin="round" stroke-linecap="round"/>
<polyline points="216.6,280.6 217.2,280.9 217.7,281.2 218.3,281.6 218.8,281.9 219.4,282.3 219.9,282.7 220.5,283.1 221.1,283.5 221.6,284 222.2,284.6 222.7,285.2 223.3,285.8 223.9,286.5 224.4,287.2 225,288 225.5,288.8 226.1,289.7 226.7,290.7 227.2,291.7 227.8,292.7 228.3,293.8 228.9,294.9 229.4,296 230,297.1 230.6,298.2 231.1,299.3 231.7,300.4 232.2,301.4 232.8,302.3 233.4,303.1 233.9,303.9 234.5,304.5 235,305 235.6,305.4 236.1,305.7 236.7,305.8 237.3,305.7 237.8,305.3 238.4,304.8 238.9,304 239.5,303.2 240.1,302.3 240.6,301.3 241.2,300.3 241.7,299.3 242.3,298.4 242.9,297.5 243.4,296.7 244,296 244.5,295.4 245.1,294.9 245.6,294.5 246.2,294.2 246.8,294 247.3,293.8 247.9,293.7 248.4,293.6 249,293.6 249.6,293.6 250.1,293.6 250.7,293.6 251.2,293.7 251.8,293.8 252.3,293.9 252.9,293.9 253.5,294 254,294.1 254.6,294.3 255.1,294.4 255.7,294.5 256.3,294.7 256.8,294.8 257.4,295 257.9,295.1 258.5,295.3 259,295.5 259.6,295.7 260.2,295.9 260.7,296.1 261.3,296.3 261.8,296.5 262.4,296.7 263,296.9 263.5,297.2 264.1,297.4 264.6,297.6 265.2,297.8 265.8,298.1 266.3,298.3 266.9,298.5" fill="none" stroke="#ff0000" stroke-width="2.3" stroke-linejoin="round" stroke-linecap="round"/>
<polyline points="564.1,276.4 564.7,276.4 565.2,276.3 565.8,276.2 566.3,276.1 566.9,275.9 567.4,275.7 568,275.4 568.6,275.1 569.1,274.7 569.7,274.3 570.2,273.8 570.8,273.2 571.4,272.5 571.9,271.8 572.5,271.1 573,270.2 573.6,269.3 574.2,268.3 574.7,267.3 575.3,266.3 575.8,265.2 576.4,264 576.9,262.9 577.5,261.7 578.1,260.6 578.6,259.4 579.2,258.4 579.7,257.4 580.3,256.5 580.9,255.7 581.4,255.1 582,254.6 582.5,254.3 583.1,254.2 583.6,254.3 584.2,254.6 584.8,255.1 585.3,255.7 585.9,256.4 586.4,257.4 587,258.4 587.6,259.5 588.1,260.8 588.7,262.1 589.2,263.5 589.8,265 590.4,266.4 590.9,267.9 591.5,269.4 592,270.8 592.6,272.3 593.1,273.7 593.7,275 594.3,276.3 594.8,277.6 595.4,278.8 595.9,280 596.5,281.1 597.1,282.1 597.6,283.1 598.2,284.1 598.7,284.9 599.3,285.8 599.8,286.6 600.4,287.3 601,288 601.5,288.7 602.1,289.3 602.6,289.9 603.2,290.5 603.8,291 604.3,291.5 604.9,292 605.4,292.5 606,292.9 606.5,293.4 607.1,293.8 607.7,294.2 608.2,294.5 608.8,294.9 609.3,295.3 609.9,295.6 610.5,295.9 611,296.3 611.6,296.6 612.1,296.9 612.7,297.2 613.3,297.5 613.8,297.8 614.4,298.1" fill="none" stroke="#ff00ff" stroke-width="2.3" stroke-linejoin="round" stroke-linecap="round"/>
<polyline points="241.7,275 242.2,275 242.8,275.1 243.4,275.1 243.9,275.1 244.5,275.1 245,275 245.6,274.9 246.2,274.8 246.7,274.7 247.3,274.5 247.8,274.3 248.4,274.1 248.9,273.8 249.5,273.5 250.1,273.2 250.6,272.9 251.2,272.5 251.7,272.1 252.3,271.7 252.9,271.2 253.4,270.8 254,270.4 254.5,270 255.1,269.5 255.7,269.2 256.2,268.8 256.8,268.6 257.3,268.3 257.9,268.2 258.4,268.1 259,268.1 259.6,268.2 260.1,268.4 260.7,268.6 261.2,268.9 261.8,269.3 262.4,269.7 262.9,270.1 263.5,270.5 264,271 264.6,271.6 265.1,272.1 265.7,272.7 266.3,273.3 266.8,273.9 267.4,274.6 267.9,275.3 268.5,275.9 269.1,276.6 269.6,277.3 270.2,278 270.7,278.7 271.3,279.5 271.9,280.2 272.4,280.9 273,281.6 273.5,282.3 274.1,283 274.6,283.7 275.2,284.4 275.8,285.1 276.3,285.7 276.9,286.3 277.4,287 278,287.6 278.6,288.1 279.1,288.7 279.7,289.3 280.2,289.8 280.8,290.3 281.3,290.8 281.9,291.3 282.5,291.7 283,292.2 283.6,292.6 284.1,293 284.7,293.4 285.3,293.9 285.8,294.2 286.4,294.6 286.9,295 287.5,295.4 288.1,295.7 288.6,296.1 289.2,296.4 289.7,296.7 290.3,297.1 290.8,297.4 291.4,297.7 292,298" fill="none" stroke="#0000ff" stroke-width="2.3" stroke-linejoin="round" stroke-linecap="round"/>
<polyline points="241.7,280.9 242.2,281.2 242.8,281.6 243.4,282 243.9,282.4 244.5,282.9 245,283.4 245.6,283.9 246.2,284.4 246.7,285 247.3,285.7 247.8,286.3 248.4,287 248.9,287.8 249.5,288.6 250.1,289.4 250.6,290.3 251.2,291.2 251.7,292.1 252.3,293.1 252.9,294.1 253.4,295 254,296 254.5,297 255.1,297.9 255.7,298.9 256.2,299.7 256.8,300.6 257.3,301.3 257.9,302 258.4,302.7 259,303.2 259.6,303.7 260.1,304.1 260.7,304.3 261.2,304.5 261.8,304.5 262.4,304.3 262.9,304 263.5,303.5 264,303 264.6,302.3 265.1,301.6 265.7,300.8 266.3,300.1 266.8,299.3 267.4,298.5 267.9,297.8 268.5,297.2 269.1,296.5 269.6,296 270.2,295.5 270.7,295.1 271.3,294.7 271.9,294.4 272.4,294.2 273,294 273.5,293.8 274.1,293.7 274.6,293.6 275.2,293.6 275.8,293.6 276.3,293.6 276.9,293.6 277.4,293.6 278,293.7 278.6,293.7 279.1,293.8 279.7,293.9 280.2,294 280.8,294.1 281.3,294.2 281.9,294.4 282.5,294.5 283,294.7 283.6,294.8 284.1,295 284.7,295.2 285.3,295.4 285.8,295.6 286.4,295.8 286.9,296 287.5,296.2 288.1,296.4 288.6,296.6 289.2,296.8 289.7,297.1 290.3,297.3 290.8,297.5 291.4,297.8 292,298" fill="none" stroke="#ff0000" stroke-width="2.3" stroke-linejoin="round" stroke-linecap="round"/>
<polyline points="589.2,276.2 589.7,276.2 590.3,276.2 590.9,276.1 591.4,276 592,275.9 592.5,275.8 593.1,275.6 593.7,275.3 594.2,275 594.8,274.7 595.3,274.3 595.9,273.8 596.4,273.3 597,272.7 597.6,272.1 598.1,271.4 598.7,270.6 599.2,269.9 599.8,269 600.4,268.2 600.9,267.3 601.5,266.4 602,265.4 602.6,264.5 603.2,263.6 603.7,262.7 604.3,261.9 604.8,261.1 605.4,260.5 605.9,259.9 606.5,259.4 607.1,259.1 607.6,259 608.2,259 608.7,259.2 609.3,259.5 609.9,259.9 610.4,260.4 611,261 611.5,261.8 612.1,262.6 612.6,263.5 613.2,264.5 613.8,265.5 614.3,266.6 614.9,267.7 615.4,268.9 616,270 616.6,271.2 617.1,272.4 617.7,273.5 618.2,274.7 618.8,275.8 619.4,276.9 619.9,278 620.5,279 621,280 621.6,281 622.1,281.9 622.7,282.8 623.3,283.6 623.8,284.4 624.4,285.2 624.9,285.9 625.5,286.6 626.1,287.3 626.6,287.9 627.2,288.5 627.7,289.1 628.3,289.7 628.8,290.2 629.4,290.7 630,291.2 630.5,291.7 631.1,292.1 631.6,292.6 632.2,293 632.8,293.4 633.3,293.8 633.9,294.1 634.4,294.5 635,294.8 635.6,295.2 636.1,295.5 636.7,295.9 637.2,296.2 637.8,296.5 638.3,296.8 638.9,297.1 639.5,297.4" fill="none" stroke="#ff00ff" stroke-width="2.3" stroke-linejoin="round" stroke-linecap="round"/>
<polyline points="266.8,274.9 267.3,275 267.9,275.2 268.5,275.3 269,275.5 269.6,275.7 270.1,275.8 270.7,276 271.2,276.1 271.8,276.3 272.4,276.4 272.9,276.6 273.5,276.7 274,276.8 274.6,277 275.2,277.1 275.7,277.3 276.3,277.4 276.8,277.6 277.4,277.8 278,277.9 278.5,278.1 279.1,278.3 279.6,278.5 280.2,278.7 280.7,278.9 281.3,279.1 281.9,279.4 282.4,279.6 283,279.8 283.5,280.1 284.1,280.3 284.7,280.6 285.2,280.8 285.8,281.1 286.3,281.3 286.9,281.6 287.4,281.9 288,282.1 288.6,282.4 289.1,282.7 289.7,283 290.2,283.2 290.8,283.5 291.4,283.8 291.9,284.1 292.5,284.4 293,284.7 293.6,285 294.2,285.3 294.7,285.6 295.3,285.9 295.8,286.2 296.4,286.5 296.9,286.9 297.5,287.2 298.1,287.5 298.6,287.9 299.2,288.2 299.7,288.6 300.3,288.9 300.9,289.2 301.4,289.6 302,289.9 302.5,290.3 303.1,290.6 303.6,290.9 304.2,291.3 304.8,291.6 305.3,291.9 305.9,292.2 306.4,292.5 307,292.8 307.6,293.1 308.1,293.4 308.7,293.7 309.2,293.9 309.8,294.2 310.4,294.5 310.9,294.8 311.5,295.1 312,295.3 312.6,295.6 313.1,295.9 313.7,296.2 314.3,296.4 314.8,296.7 315.4,297 315.9,297.3 316.5,297.5 317.1,297.8" fill="none" stroke="#0000ff" stroke-width="2.3" stroke-linejoin="round" stroke-linecap="round"/>
<polyline points="266.8,282.7 267.3,283.3 267.9,283.9 268.5,284.6 269,285.3 269.6,286.1 270.1,286.8 270.7,287.7 271.2,288.6 271.8,289.5 272.4,290.5 272.9,291.5 273.5,292.5 274,293.6 274.6,294.7 275.2,295.8 275.7,296.9 276.3,298 276.8,299.2 277.4,300.3 278,301.4 278.5,302.4 279.1,303.5 279.6,304.5 280.2,305.4 280.7,306.3 281.3,307.1 281.9,307.8 282.4,308.4 283,309 283.5,309.4 284.1,309.8 284.7,310 285.2,310.2 285.8,310.2 286.3,310.1 286.9,309.9 287.4,309.6 288,309.2 288.6,308.7 289.1,308.1 289.7,307.5 290.2,306.8 290.8,306.1 291.4,305.3 291.9,304.6 292.5,303.8 293,303 293.6,302.2 294.2,301.5 294.7,300.8 295.3,300.1 295.8,299.4 296.4,298.8 296.9,298.2 297.5,297.6 298.1,297.1 298.6,296.6 299.2,296.2 299.7,295.8 300.3,295.5 300.9,295.2 301.4,294.9 302,294.7 302.5,294.5 303.1,294.4 303.6,294.2 304.2,294.2 304.8,294.1 305.3,294.1 305.9,294.1 306.4,294.1 307,294.2 307.6,294.3 308.1,294.4 308.7,294.5 309.2,294.6 309.8,294.8 310.4,294.9 310.9,295.1 311.5,295.3 312,295.5 312.6,295.7 313.1,295.9 313.7,296.1 314.3,296.3 314.8,296.5 315.4,296.8 315.9,297 316.5,297.2 317.1,297.4" fill="none" stroke="#ff0000" stroke-width="2.3" stroke-linejoin="round" stroke-linecap="round"/>
<polyline points="614.3,275 614.8,274.9 615.4,274.8 615.9,274.7 616.4,274.6 617,274.4 617.5,274.1 618,273.8 618.6,273.5 619.1,273.1 619.6,272.7 620.2,272.2 620.7,271.7 621.2,271.1 621.8,270.5 622.3,269.8 622.9,269.1 623.4,268.4 623.9,267.7 624.5,266.9 625,266.1 625.5,265.4 626.1,264.6 626.6,263.9 627.1,263.2 627.7,262.6 628.2,262.1 628.7,261.7 629.3,261.3 629.8,261.1 630.4,261 630.9,261 631.4,261.2 632,261.4 632.5,261.8 633,262.2 633.6,262.7 634.1,263.2 634.6,263.8 635.2,264.4 635.7,265.1 636.2,265.9 636.8,266.7 637.3,267.5 637.9,268.3 638.4,269.2 638.9,270.1 639.5,271 640,271.9 640.5,272.8 641.1,273.7 641.6,274.6 642.1,275.5 642.7,276.4 643.2,277.3 643.7,278.1 644.3,278.9 644.8,279.7 645.4,280.5 645.9,281.3 646.4,282 647,282.7 647.5,283.4 648,284.1 648.6,284.7 649.1,285.3 649.6,285.9 650.2,286.5 650.7,287 651.2,287.6 651.8,288.1 652.3,288.6 652.9,289.1 653.4,289.5 653.9,290 654.5,290.4 655,290.8 655.5,291.3 656.1,291.7 656.6,292 657.1,292.4 657.7,292.8 658.2,293.1 658.8,293.5 659.3,293.8 659.8,294.1 660.4,294.5 660.9,294.8 661.4,295.1 662,295.4 662.5,295.7" fill="none" stroke="#ff00ff" stroke-width="2.3" stroke-linejoin="round" stroke-linecap="round"/>
<line x1="190.2" y1="206.2" x2="211.7" y2="206.2" stroke="#0000ff" stroke-width="1.6"/>
<text x="212.7" y="208.4" font-size="6.4" fill="#262626">Re(NLC) 2-state</text>
<line x1="190.2" y1="214.9" x2="211.7" y2="214.9" stroke="#ff0000" stroke-width="1.6"/>
<text x="212.7" y="217.1" font-size="6.4" fill="#262626">Im(NLC) 2-state</text>
<line x1="190.2" y1="223.7" x2="211.7" y2="223.7" stroke="#00ee00" stroke-width="1.6"/>
<text x="212.7" y="225.9" font-size="6.4" fill="#262626">Rabbitt, 2020 Re(NLC) PZE model</text>
<line x1="190.2" y1="232.4" x2="211.7" y2="232.4" stroke="#ee22ee" stroke-width="1.6"/>
<text x="212.7" y="234.6" font-size="6.4" fill="#262626">Rabbitt, 2020 Im(NLC) PZE model</text>
<text x="221.1" y="33.4" font-size="9.5" fill="#000">n=25</text>
<text x="221.1" y="44.8" font-size="9.6" fill="#000">V<tspan font-size="7.8" dy="4.3">h</tspan><tspan dy="-4.3" dx="0.6" font-size="9.8"> = -31.3+/-3.6 mV</tspan></text>
<line x1="413.8" y1="20.2" x2="434.8" y2="20.2" stroke="#ff0000" stroke-width="1.8"/>
<line x1="413.8" y1="35.4" x2="434.8" y2="35.4" stroke="#0000ff" stroke-width="1.8"/>
<text x="436.3" y="22.4" font-size="8.1" fill="#262626">C<tspan font-size="7" dy="3">sa</tspan><tspan dy="-3" dx="0.3"> fit</tspan></text>
<text x="436.3" y="37.6" font-size="8.1" fill="#262626">2-state from C<tspan font-size="7" dy="3">sa</tspan><tspan dy="-3" dx="0.3"> fit</tspan></text>
</svg></body></html>
